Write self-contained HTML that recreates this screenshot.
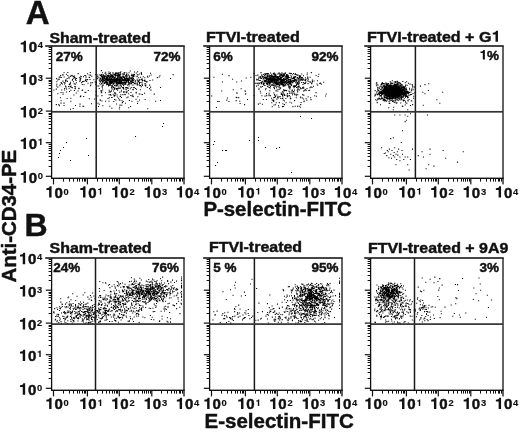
<!DOCTYPE html>
<html><head><meta charset="utf-8"><style>
html,body{margin:0;padding:0;background:#fff;width:520px;height:433px;overflow:hidden}
svg{display:block;filter:grayscale(1)}
text{font-family:"Liberation Sans",sans-serif;font-weight:bold;fill:#111;stroke:#111;stroke-width:0.45px}
</style></head><body>
<svg width="520" height="433" viewBox="0 0 520 433">
<defs><path id="one" d="M398 0L398 712L282 712Q268 648 222 618Q176 590 72 586L72 478L246 478L246 0Z" fill="#111"/></defs>
<rect width="520" height="433" fill="#fff"/>
<path fill="#000" d="M99.2 83.3h1.05v1.05h-1.05zM104.1 78.1h1.05v1.05h-1.05zM111.3 76.5h1.05v1.05h-1.05zM99.7 81.2h1.05v1.05h-1.05zM115.2 72.3h1.05v1.05h-1.05zM133.1 82.3h1.05v1.05h-1.05zM105.1 82.0h1.05v1.05h-1.05zM107.8 78.8h1.05v1.05h-1.05zM119.1 74.7h1.05v1.05h-1.05zM117.2 83.7h1.05v1.05h-1.05zM123.9 78.0h1.05v1.05h-1.05zM120.1 73.5h1.05v1.05h-1.05zM110.6 80.5h1.05v1.05h-1.05zM99.9 78.7h1.05v1.05h-1.05zM127.5 87.9h1.05v1.05h-1.05zM119.0 81.8h1.05v1.05h-1.05zM103.3 74.9h1.05v1.05h-1.05zM99.3 80.8h1.05v1.05h-1.05zM118.7 76.7h1.05v1.05h-1.05zM100.9 79.9h1.05v1.05h-1.05zM114.8 78.5h1.05v1.05h-1.05zM123.4 78.7h1.05v1.05h-1.05zM111.4 75.2h1.05v1.05h-1.05zM113.2 83.6h1.05v1.05h-1.05zM112.5 79.2h1.05v1.05h-1.05zM115.9 79.9h1.05v1.05h-1.05zM116.7 80.8h1.05v1.05h-1.05zM117.5 76.3h1.05v1.05h-1.05zM114.7 73.5h1.05v1.05h-1.05zM114.4 74.7h1.05v1.05h-1.05zM111.3 80.6h1.05v1.05h-1.05zM108.2 79.3h1.05v1.05h-1.05zM97.2 76.1h1.05v1.05h-1.05zM118.2 75.0h1.05v1.05h-1.05zM117.8 74.3h1.05v1.05h-1.05zM103.8 75.3h1.05v1.05h-1.05zM112.0 80.8h1.05v1.05h-1.05zM102.4 78.4h1.05v1.05h-1.05zM126.6 77.9h1.05v1.05h-1.05zM104.6 80.3h1.05v1.05h-1.05zM110.0 76.6h1.05v1.05h-1.05zM95.8 81.8h1.05v1.05h-1.05zM106.8 79.0h1.05v1.05h-1.05zM102.4 83.4h1.05v1.05h-1.05zM118.7 82.3h1.05v1.05h-1.05zM111.0 80.6h1.05v1.05h-1.05zM120.0 82.5h1.05v1.05h-1.05zM114.8 78.8h1.05v1.05h-1.05zM108.7 76.4h1.05v1.05h-1.05zM103.3 80.2h1.05v1.05h-1.05zM109.8 72.2h1.05v1.05h-1.05zM110.6 82.6h1.05v1.05h-1.05zM109.5 72.7h1.05v1.05h-1.05zM110.9 81.6h1.05v1.05h-1.05zM113.8 77.5h1.05v1.05h-1.05zM128.6 85.4h1.05v1.05h-1.05zM111.1 81.7h1.05v1.05h-1.05zM115.5 81.6h1.05v1.05h-1.05zM125.1 81.8h1.05v1.05h-1.05zM112.8 76.8h1.05v1.05h-1.05zM104.7 78.9h1.05v1.05h-1.05zM122.4 80.0h1.05v1.05h-1.05zM112.5 79.8h1.05v1.05h-1.05zM112.3 80.8h1.05v1.05h-1.05zM101.9 72.3h1.05v1.05h-1.05zM108.1 75.1h1.05v1.05h-1.05zM126.5 78.4h1.05v1.05h-1.05zM109.7 73.7h1.05v1.05h-1.05zM114.5 76.9h1.05v1.05h-1.05zM122.1 81.8h1.05v1.05h-1.05zM105.0 80.4h1.05v1.05h-1.05zM123.2 81.7h1.05v1.05h-1.05zM113.6 78.9h1.05v1.05h-1.05zM99.2 74.4h1.05v1.05h-1.05zM114.0 85.0h1.05v1.05h-1.05zM117.4 82.2h1.05v1.05h-1.05zM104.2 77.2h1.05v1.05h-1.05zM112.4 75.5h1.05v1.05h-1.05zM100.9 76.0h1.05v1.05h-1.05zM111.3 80.2h1.05v1.05h-1.05zM111.8 79.2h1.05v1.05h-1.05zM105.8 76.5h1.05v1.05h-1.05zM122.1 78.8h1.05v1.05h-1.05zM111.2 82.2h1.05v1.05h-1.05zM123.1 83.3h1.05v1.05h-1.05zM115.6 78.8h1.05v1.05h-1.05zM114.6 79.6h1.05v1.05h-1.05zM124.6 80.0h1.05v1.05h-1.05zM117.7 78.9h1.05v1.05h-1.05zM124.3 72.0h1.05v1.05h-1.05zM115.4 81.5h1.05v1.05h-1.05zM101.5 86.3h1.05v1.05h-1.05zM110.6 78.4h1.05v1.05h-1.05zM102.3 82.0h1.05v1.05h-1.05zM114.0 77.0h1.05v1.05h-1.05zM114.0 81.3h1.05v1.05h-1.05zM122.9 79.7h1.05v1.05h-1.05zM103.3 77.1h1.05v1.05h-1.05zM118.6 80.6h1.05v1.05h-1.05zM111.0 77.8h1.05v1.05h-1.05zM126.2 79.9h1.05v1.05h-1.05zM120.2 80.3h1.05v1.05h-1.05zM106.0 84.3h1.05v1.05h-1.05zM100.8 74.9h1.05v1.05h-1.05zM108.1 76.5h1.05v1.05h-1.05zM107.0 76.9h1.05v1.05h-1.05zM120.9 79.2h1.05v1.05h-1.05zM115.1 73.6h1.05v1.05h-1.05zM104.4 82.7h1.05v1.05h-1.05zM101.1 83.0h1.05v1.05h-1.05zM102.7 80.0h1.05v1.05h-1.05zM104.4 79.6h1.05v1.05h-1.05zM103.9 78.1h1.05v1.05h-1.05zM127.0 77.7h1.05v1.05h-1.05zM130.3 77.4h1.05v1.05h-1.05zM101.4 79.2h1.05v1.05h-1.05zM108.3 84.9h1.05v1.05h-1.05zM119.7 83.0h1.05v1.05h-1.05zM117.7 87.4h1.05v1.05h-1.05zM119.1 80.8h1.05v1.05h-1.05zM104.5 75.9h1.05v1.05h-1.05zM113.6 82.4h1.05v1.05h-1.05zM122.0 75.8h1.05v1.05h-1.05zM116.8 79.6h1.05v1.05h-1.05zM101.9 80.7h1.05v1.05h-1.05zM134.2 75.5h1.05v1.05h-1.05zM112.1 72.5h1.05v1.05h-1.05zM105.2 81.5h1.05v1.05h-1.05zM102.6 78.9h1.05v1.05h-1.05zM108.8 77.7h1.05v1.05h-1.05zM113.7 80.6h1.05v1.05h-1.05zM123.0 81.8h1.05v1.05h-1.05zM106.9 83.8h1.05v1.05h-1.05zM123.2 73.7h1.05v1.05h-1.05zM118.0 81.8h1.05v1.05h-1.05zM120.7 80.8h1.05v1.05h-1.05zM100.3 78.1h1.05v1.05h-1.05zM130.2 81.3h1.05v1.05h-1.05zM119.5 77.2h1.05v1.05h-1.05zM102.8 75.3h1.05v1.05h-1.05zM113.1 76.2h1.05v1.05h-1.05zM106.2 82.9h1.05v1.05h-1.05zM97.2 74.5h1.05v1.05h-1.05zM107.4 78.6h1.05v1.05h-1.05zM110.8 74.2h1.05v1.05h-1.05zM113.7 78.5h1.05v1.05h-1.05zM115.2 75.3h1.05v1.05h-1.05zM114.2 79.7h1.05v1.05h-1.05zM106.0 78.2h1.05v1.05h-1.05zM107.0 83.6h1.05v1.05h-1.05zM96.6 77.7h1.05v1.05h-1.05zM105.9 77.6h1.05v1.05h-1.05zM118.4 73.4h1.05v1.05h-1.05zM104.4 78.2h1.05v1.05h-1.05zM101.2 80.2h1.05v1.05h-1.05zM114.9 76.6h1.05v1.05h-1.05zM96.0 84.4h1.05v1.05h-1.05zM116.2 80.4h1.05v1.05h-1.05zM112.6 79.0h1.05v1.05h-1.05zM119.5 78.9h1.05v1.05h-1.05zM106.3 81.4h1.05v1.05h-1.05zM112.5 76.3h1.05v1.05h-1.05zM103.8 82.9h1.05v1.05h-1.05zM117.7 85.7h1.05v1.05h-1.05zM107.2 76.4h1.05v1.05h-1.05zM115.6 83.7h1.05v1.05h-1.05zM117.3 80.4h1.05v1.05h-1.05zM129.0 76.4h1.05v1.05h-1.05zM100.7 76.4h1.05v1.05h-1.05zM109.1 80.2h1.05v1.05h-1.05zM121.2 80.4h1.05v1.05h-1.05zM125.7 76.2h1.05v1.05h-1.05zM129.1 76.2h1.05v1.05h-1.05zM122.5 75.8h1.05v1.05h-1.05zM115.1 79.1h1.05v1.05h-1.05zM116.6 81.5h1.05v1.05h-1.05zM110.1 78.7h1.05v1.05h-1.05zM114.1 74.5h1.05v1.05h-1.05zM105.4 73.5h1.05v1.05h-1.05zM112.0 86.5h1.05v1.05h-1.05zM118.6 76.0h1.05v1.05h-1.05zM105.6 82.3h1.05v1.05h-1.05zM107.7 73.5h1.05v1.05h-1.05zM102.8 75.4h1.05v1.05h-1.05zM102.8 81.3h1.05v1.05h-1.05zM112.6 73.9h1.05v1.05h-1.05zM107.1 75.1h1.05v1.05h-1.05zM101.1 73.9h1.05v1.05h-1.05zM127.7 77.9h1.05v1.05h-1.05zM117.2 81.9h1.05v1.05h-1.05zM108.5 80.8h1.05v1.05h-1.05zM116.8 79.7h1.05v1.05h-1.05zM131.5 79.9h1.05v1.05h-1.05zM109.9 81.2h1.05v1.05h-1.05zM128.0 82.4h1.05v1.05h-1.05zM107.7 76.1h1.05v1.05h-1.05zM103.6 76.7h1.05v1.05h-1.05zM115.5 81.9h1.05v1.05h-1.05zM102.0 81.3h1.05v1.05h-1.05zM120.2 76.3h1.05v1.05h-1.05zM107.9 75.7h1.05v1.05h-1.05zM115.5 73.5h1.05v1.05h-1.05zM101.8 76.6h1.05v1.05h-1.05zM123.0 87.1h1.05v1.05h-1.05zM112.2 74.8h1.05v1.05h-1.05zM112.6 76.0h1.05v1.05h-1.05zM116.1 75.2h1.05v1.05h-1.05zM108.6 78.9h1.05v1.05h-1.05zM116.7 78.7h1.05v1.05h-1.05zM123.4 79.4h1.05v1.05h-1.05zM95.7 82.1h1.05v1.05h-1.05zM109.4 76.7h1.05v1.05h-1.05zM125.5 75.6h1.05v1.05h-1.05zM112.6 76.6h1.05v1.05h-1.05zM124.1 77.7h1.05v1.05h-1.05zM114.1 74.2h1.05v1.05h-1.05zM124.9 75.3h1.05v1.05h-1.05zM120.2 82.8h1.05v1.05h-1.05zM123.1 85.1h1.05v1.05h-1.05zM101.4 80.3h1.05v1.05h-1.05zM113.2 80.4h1.05v1.05h-1.05zM121.9 79.3h1.05v1.05h-1.05zM104.6 78.6h1.05v1.05h-1.05zM125.8 75.0h1.05v1.05h-1.05zM112.7 75.6h1.05v1.05h-1.05zM122.0 73.4h1.05v1.05h-1.05zM108.9 78.6h1.05v1.05h-1.05zM113.0 87.0h1.05v1.05h-1.05zM126.0 75.5h1.05v1.05h-1.05zM131.4 74.9h1.05v1.05h-1.05zM95.1 73.9h1.05v1.05h-1.05zM113.8 80.8h1.05v1.05h-1.05zM109.6 81.4h1.05v1.05h-1.05zM108.5 82.0h1.05v1.05h-1.05zM117.1 75.0h1.05v1.05h-1.05zM125.0 79.7h1.05v1.05h-1.05zM118.5 83.3h1.05v1.05h-1.05zM103.2 78.7h1.05v1.05h-1.05zM104.6 75.8h1.05v1.05h-1.05zM114.4 80.1h1.05v1.05h-1.05zM124.0 83.7h1.05v1.05h-1.05zM111.8 76.1h1.05v1.05h-1.05zM140.8 86.3h1.05v1.05h-1.05zM111.0 75.8h1.05v1.05h-1.05zM108.2 79.9h1.05v1.05h-1.05zM122.2 82.3h1.05v1.05h-1.05zM115.9 78.1h1.05v1.05h-1.05zM113.5 77.9h1.05v1.05h-1.05zM112.6 78.6h1.05v1.05h-1.05zM116.7 72.6h1.05v1.05h-1.05zM108.9 78.0h1.05v1.05h-1.05zM101.8 78.4h1.05v1.05h-1.05zM102.5 76.7h1.05v1.05h-1.05zM109.4 78.1h1.05v1.05h-1.05zM106.8 82.7h1.05v1.05h-1.05zM113.8 80.1h1.05v1.05h-1.05zM114.1 76.7h1.05v1.05h-1.05zM104.0 81.8h1.05v1.05h-1.05zM108.8 73.0h1.05v1.05h-1.05zM105.3 78.7h1.05v1.05h-1.05zM107.0 77.6h1.05v1.05h-1.05zM110.4 74.7h1.05v1.05h-1.05zM111.8 82.3h1.05v1.05h-1.05zM118.2 73.1h1.05v1.05h-1.05zM99.9 74.4h1.05v1.05h-1.05zM109.7 81.9h1.05v1.05h-1.05zM114.9 73.0h1.05v1.05h-1.05zM112.5 81.7h1.05v1.05h-1.05zM107.9 85.4h1.05v1.05h-1.05zM106.1 83.0h1.05v1.05h-1.05zM133.1 74.6h1.05v1.05h-1.05zM109.1 80.9h1.05v1.05h-1.05zM140.9 72.9h1.05v1.05h-1.05zM117.1 79.9h1.05v1.05h-1.05zM108.2 76.1h1.05v1.05h-1.05zM107.2 77.9h1.05v1.05h-1.05zM100.5 84.3h1.05v1.05h-1.05zM102.0 77.5h1.05v1.05h-1.05zM106.0 77.6h1.05v1.05h-1.05zM112.8 76.4h1.05v1.05h-1.05zM109.8 84.8h1.05v1.05h-1.05zM121.5 78.0h1.05v1.05h-1.05zM120.1 76.4h1.05v1.05h-1.05zM114.0 74.1h1.05v1.05h-1.05zM101.7 76.0h1.05v1.05h-1.05zM123.1 79.8h1.05v1.05h-1.05zM116.9 79.5h1.05v1.05h-1.05zM115.3 80.4h1.05v1.05h-1.05zM118.9 79.5h1.05v1.05h-1.05zM103.7 76.3h1.05v1.05h-1.05zM122.9 83.8h1.05v1.05h-1.05zM117.0 73.4h1.05v1.05h-1.05zM126.2 80.1h1.05v1.05h-1.05zM111.3 79.0h1.05v1.05h-1.05zM108.6 85.0h1.05v1.05h-1.05zM127.1 75.4h1.05v1.05h-1.05zM110.3 80.0h1.05v1.05h-1.05zM120.4 84.6h1.05v1.05h-1.05zM109.0 78.8h1.05v1.05h-1.05zM123.2 80.2h1.05v1.05h-1.05zM99.9 75.0h1.05v1.05h-1.05zM102.6 74.1h1.05v1.05h-1.05zM111.8 77.2h1.05v1.05h-1.05zM112.2 81.3h1.05v1.05h-1.05zM127.9 79.7h1.05v1.05h-1.05zM95.0 83.7h1.05v1.05h-1.05zM110.8 82.9h1.05v1.05h-1.05zM107.8 80.0h1.05v1.05h-1.05zM110.6 78.8h1.05v1.05h-1.05zM123.3 76.7h1.05v1.05h-1.05zM113.3 79.7h1.05v1.05h-1.05zM108.3 71.4h1.05v1.05h-1.05zM98.3 77.3h1.05v1.05h-1.05zM115.7 81.9h1.05v1.05h-1.05zM119.3 80.9h1.05v1.05h-1.05zM108.5 83.1h1.05v1.05h-1.05zM109.4 82.7h1.05v1.05h-1.05zM106.6 78.9h1.05v1.05h-1.05zM120.8 81.6h1.05v1.05h-1.05zM107.2 83.9h1.05v1.05h-1.05zM106.9 82.0h1.05v1.05h-1.05zM111.3 78.9h1.05v1.05h-1.05zM110.4 78.9h1.05v1.05h-1.05zM121.9 83.8h1.05v1.05h-1.05zM124.7 82.0h1.05v1.05h-1.05zM117.9 80.5h1.05v1.05h-1.05zM127.7 77.4h1.05v1.05h-1.05zM106.1 79.1h1.05v1.05h-1.05zM96.8 78.1h1.05v1.05h-1.05zM111.3 75.4h1.05v1.05h-1.05zM106.6 81.3h1.05v1.05h-1.05zM109.8 79.2h1.05v1.05h-1.05zM121.2 76.8h1.05v1.05h-1.05zM101.5 78.8h1.05v1.05h-1.05zM115.7 72.8h1.05v1.05h-1.05zM117.8 77.9h1.05v1.05h-1.05zM108.1 76.0h1.05v1.05h-1.05zM110.2 82.2h1.05v1.05h-1.05zM116.6 81.7h1.05v1.05h-1.05zM108.6 84.4h1.05v1.05h-1.05zM123.4 78.9h1.05v1.05h-1.05zM136.7 78.8h1.05v1.05h-1.05zM102.7 84.8h1.05v1.05h-1.05zM106.4 80.6h1.05v1.05h-1.05zM118.8 73.9h1.05v1.05h-1.05zM113.1 83.0h1.05v1.05h-1.05zM109.0 81.2h1.05v1.05h-1.05zM111.7 82.5h1.05v1.05h-1.05zM128.6 75.2h1.05v1.05h-1.05zM109.4 80.3h1.05v1.05h-1.05zM106.3 76.2h1.05v1.05h-1.05zM108.8 78.0h1.05v1.05h-1.05zM106.1 80.1h1.05v1.05h-1.05zM119.2 81.5h1.05v1.05h-1.05zM118.1 83.0h1.05v1.05h-1.05zM99.7 78.6h1.05v1.05h-1.05zM113.7 80.8h1.05v1.05h-1.05zM97.4 85.4h1.05v1.05h-1.05zM104.0 79.9h1.05v1.05h-1.05zM118.6 82.7h1.05v1.05h-1.05zM105.8 77.1h1.05v1.05h-1.05zM115.3 81.0h1.05v1.05h-1.05zM120.2 78.8h1.05v1.05h-1.05zM105.7 74.4h1.05v1.05h-1.05zM127.7 74.3h1.05v1.05h-1.05zM118.3 79.9h1.05v1.05h-1.05zM118.9 82.2h1.05v1.05h-1.05zM124.1 78.8h1.05v1.05h-1.05zM115.6 72.3h1.05v1.05h-1.05zM112.4 75.9h1.05v1.05h-1.05zM110.6 83.2h1.05v1.05h-1.05zM113.0 82.7h1.05v1.05h-1.05zM110.2 80.4h1.05v1.05h-1.05zM105.6 78.1h1.05v1.05h-1.05zM113.4 79.0h1.05v1.05h-1.05zM110.9 82.2h1.05v1.05h-1.05zM117.7 77.6h1.05v1.05h-1.05zM119.9 72.2h1.05v1.05h-1.05zM109.5 78.5h1.05v1.05h-1.05zM123.8 77.2h1.05v1.05h-1.05zM98.8 79.6h1.05v1.05h-1.05zM127.3 78.3h1.05v1.05h-1.05zM111.2 78.3h1.05v1.05h-1.05zM112.5 83.4h1.05v1.05h-1.05zM129.8 80.6h1.05v1.05h-1.05zM111.1 85.3h1.05v1.05h-1.05zM113.0 79.2h1.05v1.05h-1.05zM108.9 78.0h1.05v1.05h-1.05zM114.3 78.0h1.05v1.05h-1.05zM115.9 79.3h1.05v1.05h-1.05zM117.1 77.7h1.05v1.05h-1.05zM110.3 79.9h1.05v1.05h-1.05zM112.7 79.4h1.05v1.05h-1.05zM122.7 75.4h1.05v1.05h-1.05zM94.6 81.5h1.05v1.05h-1.05zM109.9 83.6h1.05v1.05h-1.05zM111.4 75.1h1.05v1.05h-1.05zM131.9 80.4h1.05v1.05h-1.05zM108.0 76.5h1.05v1.05h-1.05zM117.2 76.7h1.05v1.05h-1.05zM115.6 83.0h1.05v1.05h-1.05zM99.6 77.8h1.05v1.05h-1.05zM116.4 84.7h1.05v1.05h-1.05zM120.5 77.5h1.05v1.05h-1.05zM125.2 77.8h1.05v1.05h-1.05zM110.6 80.3h1.05v1.05h-1.05zM102.2 89.5h1.05v1.05h-1.05zM122.9 79.8h1.05v1.05h-1.05zM107.0 75.1h1.05v1.05h-1.05zM115.4 81.4h1.05v1.05h-1.05zM108.5 78.3h1.05v1.05h-1.05zM117.1 78.8h1.05v1.05h-1.05zM95.4 81.3h1.05v1.05h-1.05zM114.2 81.5h1.05v1.05h-1.05zM105.2 71.8h1.05v1.05h-1.05zM100.8 80.0h1.05v1.05h-1.05zM130.7 87.0h1.05v1.05h-1.05zM114.8 74.0h1.05v1.05h-1.05zM109.0 80.5h1.05v1.05h-1.05zM116.0 79.3h1.05v1.05h-1.05zM131.9 77.3h1.05v1.05h-1.05zM113.3 78.4h1.05v1.05h-1.05zM117.5 78.4h1.05v1.05h-1.05zM144.6 83.0h1.05v1.05h-1.05zM131.1 81.8h1.05v1.05h-1.05zM149.0 75.4h1.05v1.05h-1.05zM133.7 79.3h1.05v1.05h-1.05zM130.1 80.4h1.05v1.05h-1.05zM124.6 82.4h1.05v1.05h-1.05zM102.5 81.3h1.05v1.05h-1.05zM136.5 76.1h1.05v1.05h-1.05zM116.7 88.1h1.05v1.05h-1.05zM117.7 78.5h1.05v1.05h-1.05zM119.2 77.6h1.05v1.05h-1.05zM120.4 71.3h1.05v1.05h-1.05zM156.8 77.1h1.05v1.05h-1.05zM132.9 79.8h1.05v1.05h-1.05zM144.5 83.0h1.05v1.05h-1.05zM141.9 85.0h1.05v1.05h-1.05zM138.4 80.2h1.05v1.05h-1.05zM139.2 73.5h1.05v1.05h-1.05zM139.0 83.0h1.05v1.05h-1.05zM132.0 74.5h1.05v1.05h-1.05zM144.3 77.3h1.05v1.05h-1.05zM135.8 72.4h1.05v1.05h-1.05zM126.2 77.4h1.05v1.05h-1.05zM119.1 77.3h1.05v1.05h-1.05zM149.5 80.0h1.05v1.05h-1.05zM132.4 89.0h1.05v1.05h-1.05zM111.2 86.5h1.05v1.05h-1.05zM123.9 77.5h1.05v1.05h-1.05zM123.4 72.5h1.05v1.05h-1.05zM110.0 75.4h1.05v1.05h-1.05zM121.6 83.1h1.05v1.05h-1.05zM141.2 78.5h1.05v1.05h-1.05zM132.7 81.9h1.05v1.05h-1.05zM125.5 81.0h1.05v1.05h-1.05zM121.2 82.4h1.05v1.05h-1.05zM125.6 80.2h1.05v1.05h-1.05zM131.3 80.7h1.05v1.05h-1.05zM119.7 74.4h1.05v1.05h-1.05zM127.4 77.7h1.05v1.05h-1.05zM121.9 79.6h1.05v1.05h-1.05zM119.7 81.9h1.05v1.05h-1.05zM133.0 76.3h1.05v1.05h-1.05zM132.6 76.0h1.05v1.05h-1.05zM136.8 82.6h1.05v1.05h-1.05zM128.1 83.8h1.05v1.05h-1.05zM140.4 81.9h1.05v1.05h-1.05zM106.3 80.6h1.05v1.05h-1.05zM130.6 83.4h1.05v1.05h-1.05zM116.4 83.0h1.05v1.05h-1.05zM132.4 81.7h1.05v1.05h-1.05zM113.3 76.4h1.05v1.05h-1.05zM141.6 83.5h1.05v1.05h-1.05zM127.1 84.6h1.05v1.05h-1.05zM131.3 78.3h1.05v1.05h-1.05zM109.3 84.2h1.05v1.05h-1.05zM126.4 81.0h1.05v1.05h-1.05zM106.6 77.7h1.05v1.05h-1.05zM131.6 79.0h1.05v1.05h-1.05zM119.3 75.4h1.05v1.05h-1.05zM130.5 78.5h1.05v1.05h-1.05zM124.0 78.8h1.05v1.05h-1.05zM120.3 78.6h1.05v1.05h-1.05zM120.7 80.1h1.05v1.05h-1.05zM111.6 75.4h1.05v1.05h-1.05zM128.3 79.3h1.05v1.05h-1.05zM129.8 88.3h1.05v1.05h-1.05zM136.8 84.7h1.05v1.05h-1.05zM132.9 79.5h1.05v1.05h-1.05zM118.5 72.2h1.05v1.05h-1.05zM114.6 73.3h1.05v1.05h-1.05zM116.4 79.9h1.05v1.05h-1.05zM123.1 83.6h1.05v1.05h-1.05zM138.6 84.2h1.05v1.05h-1.05zM138.1 81.1h1.05v1.05h-1.05zM121.8 81.8h1.05v1.05h-1.05zM125.0 79.1h1.05v1.05h-1.05zM132.8 75.4h1.05v1.05h-1.05zM108.6 81.3h1.05v1.05h-1.05zM149.1 84.6h1.05v1.05h-1.05zM172.6 74.1h1.05v1.05h-1.05zM117.7 87.8h1.05v1.05h-1.05zM147.1 75.7h1.05v1.05h-1.05zM124.1 76.5h1.05v1.05h-1.05zM112.0 79.0h1.05v1.05h-1.05zM124.0 80.4h1.05v1.05h-1.05zM131.1 82.9h1.05v1.05h-1.05zM144.3 79.6h1.05v1.05h-1.05zM125.5 80.0h1.05v1.05h-1.05zM133.2 79.4h1.05v1.05h-1.05zM116.2 77.8h1.05v1.05h-1.05zM136.7 75.7h1.05v1.05h-1.05zM137.6 74.2h1.05v1.05h-1.05zM135.2 82.4h1.05v1.05h-1.05zM125.5 79.9h1.05v1.05h-1.05zM125.2 87.0h1.05v1.05h-1.05zM122.8 76.9h1.05v1.05h-1.05zM132.4 84.6h1.05v1.05h-1.05zM131.9 79.4h1.05v1.05h-1.05zM140.1 76.8h1.05v1.05h-1.05zM118.7 74.8h1.05v1.05h-1.05zM112.7 81.0h1.05v1.05h-1.05zM132.8 87.2h1.05v1.05h-1.05zM133.0 77.9h1.05v1.05h-1.05zM144.4 84.4h1.05v1.05h-1.05zM141.7 84.4h1.05v1.05h-1.05zM134.0 73.9h1.05v1.05h-1.05zM115.5 88.1h1.05v1.05h-1.05zM128.5 72.3h1.05v1.05h-1.05zM128.6 84.0h1.05v1.05h-1.05zM132.6 80.0h1.05v1.05h-1.05zM100.4 80.2h1.05v1.05h-1.05zM126.3 86.9h1.05v1.05h-1.05zM128.0 79.7h1.05v1.05h-1.05zM122.7 79.4h1.05v1.05h-1.05zM131.1 77.8h1.05v1.05h-1.05zM117.4 74.8h1.05v1.05h-1.05zM129.3 78.5h1.05v1.05h-1.05zM124.1 73.6h1.05v1.05h-1.05zM118.3 72.1h1.05v1.05h-1.05zM139.2 84.8h1.05v1.05h-1.05zM132.7 79.5h1.05v1.05h-1.05zM133.4 73.8h1.05v1.05h-1.05zM112.1 84.8h1.05v1.05h-1.05zM115.5 79.7h1.05v1.05h-1.05zM119.8 83.3h1.05v1.05h-1.05zM109.2 77.5h1.05v1.05h-1.05zM139.6 85.0h1.05v1.05h-1.05zM146.7 86.9h1.05v1.05h-1.05zM122.8 75.8h1.05v1.05h-1.05zM138.8 78.9h1.05v1.05h-1.05zM128.2 78.4h1.05v1.05h-1.05zM123.2 83.7h1.05v1.05h-1.05zM115.8 72.7h1.05v1.05h-1.05zM119.5 80.3h1.05v1.05h-1.05zM124.1 79.3h1.05v1.05h-1.05zM104.1 76.2h1.05v1.05h-1.05zM140.5 79.2h1.05v1.05h-1.05zM119.6 84.6h1.05v1.05h-1.05zM121.0 83.0h1.05v1.05h-1.05zM130.2 81.5h1.05v1.05h-1.05zM139.9 89.2h1.05v1.05h-1.05zM142.7 76.3h1.05v1.05h-1.05zM114.3 78.5h1.05v1.05h-1.05zM125.4 82.7h1.05v1.05h-1.05zM127.9 80.6h1.05v1.05h-1.05zM107.2 79.6h1.05v1.05h-1.05zM133.8 86.9h1.05v1.05h-1.05zM136.8 80.2h1.05v1.05h-1.05zM113.4 79.8h1.05v1.05h-1.05zM127.5 79.2h1.05v1.05h-1.05zM129.3 81.9h1.05v1.05h-1.05zM132.7 89.1h1.05v1.05h-1.05zM115.7 73.2h1.05v1.05h-1.05zM132.1 74.6h1.05v1.05h-1.05zM124.9 79.4h1.05v1.05h-1.05zM117.7 83.1h1.05v1.05h-1.05zM135.0 80.3h1.05v1.05h-1.05zM134.6 83.4h1.05v1.05h-1.05zM123.6 82.2h1.05v1.05h-1.05zM129.0 79.7h1.05v1.05h-1.05zM121.7 87.0h1.05v1.05h-1.05zM131.2 73.8h1.05v1.05h-1.05zM130.5 82.9h1.05v1.05h-1.05zM144.2 80.6h1.05v1.05h-1.05zM118.8 87.8h1.05v1.05h-1.05zM139.6 85.1h1.05v1.05h-1.05zM124.2 82.4h1.05v1.05h-1.05zM106.2 81.7h1.05v1.05h-1.05zM102.1 75.4h1.05v1.05h-1.05zM109.7 84.5h1.05v1.05h-1.05zM138.2 77.2h1.05v1.05h-1.05zM142.0 80.0h1.05v1.05h-1.05zM103.5 78.1h1.05v1.05h-1.05zM106.5 80.0h1.05v1.05h-1.05zM131.5 76.6h1.05v1.05h-1.05zM136.8 84.1h1.05v1.05h-1.05zM116.5 82.1h1.05v1.05h-1.05zM126.0 78.5h1.05v1.05h-1.05zM147.3 76.7h1.05v1.05h-1.05zM122.9 79.4h1.05v1.05h-1.05zM134.0 82.9h1.05v1.05h-1.05zM115.9 85.4h1.05v1.05h-1.05zM149.1 88.1h1.05v1.05h-1.05zM129.2 77.6h1.05v1.05h-1.05zM114.4 81.2h1.05v1.05h-1.05zM126.4 79.5h1.05v1.05h-1.05zM123.8 79.0h1.05v1.05h-1.05zM122.9 73.8h1.05v1.05h-1.05zM124.0 79.1h1.05v1.05h-1.05zM113.8 82.4h1.05v1.05h-1.05zM126.9 80.3h1.05v1.05h-1.05zM132.1 78.7h1.05v1.05h-1.05zM126.4 82.0h1.05v1.05h-1.05zM136.5 83.5h1.05v1.05h-1.05zM125.1 83.0h1.05v1.05h-1.05zM141.1 73.9h1.05v1.05h-1.05zM122.5 79.7h1.05v1.05h-1.05zM127.4 87.3h1.05v1.05h-1.05zM141.6 79.2h1.05v1.05h-1.05zM126.1 73.9h1.05v1.05h-1.05zM115.7 85.4h1.05v1.05h-1.05zM106.8 82.4h1.05v1.05h-1.05zM119.1 78.5h1.05v1.05h-1.05zM126.3 87.5h1.05v1.05h-1.05zM131.6 82.0h1.05v1.05h-1.05zM150.0 72.8h1.05v1.05h-1.05zM119.0 82.8h1.05v1.05h-1.05zM112.9 72.5h1.05v1.05h-1.05zM141.7 78.6h1.05v1.05h-1.05zM139.0 81.9h1.05v1.05h-1.05zM125.4 87.0h1.05v1.05h-1.05zM124.7 88.4h1.05v1.05h-1.05zM117.1 75.7h1.05v1.05h-1.05zM119.6 80.9h1.05v1.05h-1.05zM114.2 77.0h1.05v1.05h-1.05zM145.2 80.7h1.05v1.05h-1.05zM141.8 81.5h1.05v1.05h-1.05zM120.9 76.8h1.05v1.05h-1.05zM130.2 80.3h1.05v1.05h-1.05zM121.7 77.6h1.05v1.05h-1.05zM145.4 84.4h1.05v1.05h-1.05zM131.6 78.6h1.05v1.05h-1.05zM123.0 88.4h1.05v1.05h-1.05zM120.9 89.7h1.05v1.05h-1.05zM120.2 73.8h1.05v1.05h-1.05zM152.2 79.5h1.05v1.05h-1.05zM146.3 81.8h1.05v1.05h-1.05zM125.2 83.9h1.05v1.05h-1.05zM124.5 81.8h1.05v1.05h-1.05zM126.3 72.6h1.05v1.05h-1.05zM132.7 77.8h1.05v1.05h-1.05zM126.3 81.7h1.05v1.05h-1.05zM111.0 82.2h1.05v1.05h-1.05zM134.9 88.0h1.05v1.05h-1.05zM137.8 81.4h1.05v1.05h-1.05zM120.2 79.9h1.05v1.05h-1.05zM111.1 81.6h1.05v1.05h-1.05zM125.5 78.4h1.05v1.05h-1.05zM128.0 81.8h1.05v1.05h-1.05zM130.9 75.0h1.05v1.05h-1.05zM143.6 80.0h1.05v1.05h-1.05zM131.8 79.9h1.05v1.05h-1.05zM116.6 81.0h1.05v1.05h-1.05zM123.1 76.3h1.05v1.05h-1.05zM129.2 83.0h1.05v1.05h-1.05zM135.0 80.7h1.05v1.05h-1.05zM120.4 78.5h1.05v1.05h-1.05zM126.1 73.9h1.05v1.05h-1.05zM137.3 80.2h1.05v1.05h-1.05zM112.5 86.1h1.05v1.05h-1.05zM150.6 74.5h1.05v1.05h-1.05zM125.6 76.4h1.05v1.05h-1.05zM136.8 74.2h1.05v1.05h-1.05zM133.5 81.5h1.05v1.05h-1.05zM140.8 72.0h1.05v1.05h-1.05zM118.5 79.0h1.05v1.05h-1.05zM139.0 80.2h1.05v1.05h-1.05zM111.6 96.9h1.05v1.05h-1.05zM139.3 93.4h1.05v1.05h-1.05zM116.0 103.5h1.05v1.05h-1.05zM108.6 94.2h1.05v1.05h-1.05zM123.8 91.4h1.05v1.05h-1.05zM115.2 93.2h1.05v1.05h-1.05zM137.3 96.3h1.05v1.05h-1.05zM109.9 94.1h1.05v1.05h-1.05zM130.1 106.0h1.05v1.05h-1.05zM128.1 93.3h1.05v1.05h-1.05zM135.5 98.8h1.05v1.05h-1.05zM119.5 86.5h1.05v1.05h-1.05zM118.7 99.3h1.05v1.05h-1.05zM100.7 90.1h1.05v1.05h-1.05zM114.4 92.1h1.05v1.05h-1.05zM119.6 95.8h1.05v1.05h-1.05zM116.1 85.0h1.05v1.05h-1.05zM127.5 96.5h1.05v1.05h-1.05zM117.0 84.5h1.05v1.05h-1.05zM123.4 90.9h1.05v1.05h-1.05zM99.6 99.6h1.05v1.05h-1.05zM98.7 88.0h1.05v1.05h-1.05zM139.9 85.0h1.05v1.05h-1.05zM119.4 99.8h1.05v1.05h-1.05zM110.6 91.0h1.05v1.05h-1.05zM97.5 102.7h1.05v1.05h-1.05zM121.0 97.0h1.05v1.05h-1.05zM120.3 94.3h1.05v1.05h-1.05zM125.5 91.5h1.05v1.05h-1.05zM118.8 108.5h1.05v1.05h-1.05zM119.6 104.7h1.05v1.05h-1.05zM101.3 91.6h1.05v1.05h-1.05zM114.3 86.7h1.05v1.05h-1.05zM113.3 100.9h1.05v1.05h-1.05zM108.5 91.8h1.05v1.05h-1.05zM98.3 85.5h1.05v1.05h-1.05zM117.2 89.6h1.05v1.05h-1.05zM108.5 100.7h1.05v1.05h-1.05zM117.2 84.3h1.05v1.05h-1.05zM131.5 95.4h1.05v1.05h-1.05zM127.8 89.9h1.05v1.05h-1.05zM97.4 95.4h1.05v1.05h-1.05zM97.7 85.5h1.05v1.05h-1.05zM124.7 94.3h1.05v1.05h-1.05zM113.1 90.5h1.05v1.05h-1.05zM120.0 96.0h1.05v1.05h-1.05zM109.9 91.4h1.05v1.05h-1.05zM113.8 95.6h1.05v1.05h-1.05zM128.9 100.0h1.05v1.05h-1.05zM111.0 87.4h1.05v1.05h-1.05zM125.9 89.3h1.05v1.05h-1.05zM114.2 95.1h1.05v1.05h-1.05zM122.0 102.1h1.05v1.05h-1.05zM101.4 100.5h1.05v1.05h-1.05zM111.2 97.0h1.05v1.05h-1.05zM100.5 90.6h1.05v1.05h-1.05zM109.3 105.8h1.05v1.05h-1.05zM105.1 100.8h1.05v1.05h-1.05zM121.5 100.2h1.05v1.05h-1.05zM116.8 96.5h1.05v1.05h-1.05zM120.7 91.3h1.05v1.05h-1.05zM135.7 91.8h1.05v1.05h-1.05zM115.3 99.4h1.05v1.05h-1.05zM127.6 96.5h1.05v1.05h-1.05zM114.1 92.8h1.05v1.05h-1.05zM113.5 95.0h1.05v1.05h-1.05zM132.3 94.5h1.05v1.05h-1.05zM116.8 88.1h1.05v1.05h-1.05zM115.9 88.0h1.05v1.05h-1.05zM110.5 94.8h1.05v1.05h-1.05zM122.4 94.1h1.05v1.05h-1.05zM112.6 93.7h1.05v1.05h-1.05zM101.4 95.1h1.05v1.05h-1.05zM136.0 88.7h1.05v1.05h-1.05zM110.9 89.8h1.05v1.05h-1.05zM141.9 93.9h1.05v1.05h-1.05zM119.7 87.7h1.05v1.05h-1.05zM124.9 102.7h1.05v1.05h-1.05zM121.0 85.8h1.05v1.05h-1.05zM135.6 92.1h1.05v1.05h-1.05zM116.6 94.4h1.05v1.05h-1.05zM126.5 91.3h1.05v1.05h-1.05zM124.2 93.7h1.05v1.05h-1.05zM107.5 98.0h1.05v1.05h-1.05zM108.7 89.8h1.05v1.05h-1.05zM108.8 97.3h1.05v1.05h-1.05zM112.2 88.4h1.05v1.05h-1.05zM123.0 91.8h1.05v1.05h-1.05zM130.5 92.0h1.05v1.05h-1.05zM122.7 100.9h1.05v1.05h-1.05zM114.0 99.0h1.05v1.05h-1.05zM102.1 85.3h1.05v1.05h-1.05zM137.0 102.9h1.05v1.05h-1.05zM115.4 85.1h1.05v1.05h-1.05zM101.9 87.5h1.05v1.05h-1.05zM122.6 87.6h1.05v1.05h-1.05zM114.5 94.6h1.05v1.05h-1.05zM102.3 105.3h1.05v1.05h-1.05zM119.1 106.8h1.05v1.05h-1.05zM137.4 101.2h1.05v1.05h-1.05zM119.5 104.6h1.05v1.05h-1.05zM126.4 97.2h1.05v1.05h-1.05zM113.9 88.1h1.05v1.05h-1.05zM115.8 88.6h1.05v1.05h-1.05zM107.9 84.2h1.05v1.05h-1.05zM121.8 102.2h1.05v1.05h-1.05zM144.6 98.9h1.05v1.05h-1.05zM118.1 97.8h1.05v1.05h-1.05zM141.5 94.0h1.05v1.05h-1.05zM132.6 96.1h1.05v1.05h-1.05zM90.3 83.4h1.05v1.05h-1.05zM82.1 81.1h1.05v1.05h-1.05zM87.5 82.8h1.05v1.05h-1.05zM72.0 78.9h1.05v1.05h-1.05zM69.5 83.7h1.05v1.05h-1.05zM60.8 77.0h1.05v1.05h-1.05zM62.4 80.6h1.05v1.05h-1.05zM81.0 76.2h1.05v1.05h-1.05zM80.3 78.0h1.05v1.05h-1.05zM75.1 86.4h1.05v1.05h-1.05zM70.5 75.2h1.05v1.05h-1.05zM64.0 83.5h1.05v1.05h-1.05zM68.2 86.0h1.05v1.05h-1.05zM76.0 78.0h1.05v1.05h-1.05zM69.7 83.1h1.05v1.05h-1.05zM88.6 76.7h1.05v1.05h-1.05zM60.1 74.9h1.05v1.05h-1.05zM81.6 89.9h1.05v1.05h-1.05zM68.8 84.2h1.05v1.05h-1.05zM70.4 85.4h1.05v1.05h-1.05zM56.3 83.8h1.05v1.05h-1.05zM58.7 76.6h1.05v1.05h-1.05zM79.9 79.6h1.05v1.05h-1.05zM74.7 83.5h1.05v1.05h-1.05zM78.2 88.3h1.05v1.05h-1.05zM85.5 76.6h1.05v1.05h-1.05zM74.7 78.1h1.05v1.05h-1.05zM70.4 89.8h1.05v1.05h-1.05zM65.5 87.2h1.05v1.05h-1.05zM95.3 94.5h1.05v1.05h-1.05zM75.9 82.2h1.05v1.05h-1.05zM79.7 79.1h1.05v1.05h-1.05zM91.3 75.7h1.05v1.05h-1.05zM66.7 81.0h1.05v1.05h-1.05zM75.6 80.0h1.05v1.05h-1.05zM73.9 90.0h1.05v1.05h-1.05zM60.7 82.0h1.05v1.05h-1.05zM69.8 83.3h1.05v1.05h-1.05zM75.8 92.4h1.05v1.05h-1.05zM58.4 78.4h1.05v1.05h-1.05zM87.1 78.9h1.05v1.05h-1.05zM77.6 73.1h1.05v1.05h-1.05zM85.0 80.2h1.05v1.05h-1.05zM83.0 76.2h1.05v1.05h-1.05zM68.4 76.5h1.05v1.05h-1.05zM81.1 82.1h1.05v1.05h-1.05zM92.1 82.2h1.05v1.05h-1.05zM61.9 83.4h1.05v1.05h-1.05zM74.0 77.0h1.05v1.05h-1.05zM68.8 83.7h1.05v1.05h-1.05zM53.4 89.4h1.05v1.05h-1.05zM66.1 88.4h1.05v1.05h-1.05zM77.6 90.5h1.05v1.05h-1.05zM59.3 85.2h1.05v1.05h-1.05zM74.6 77.5h1.05v1.05h-1.05zM86.4 79.5h1.05v1.05h-1.05zM65.6 79.6h1.05v1.05h-1.05zM65.0 79.6h1.05v1.05h-1.05zM74.7 86.2h1.05v1.05h-1.05zM74.1 76.8h1.05v1.05h-1.05zM85.3 78.8h1.05v1.05h-1.05zM62.4 74.6h1.05v1.05h-1.05zM61.2 89.4h1.05v1.05h-1.05zM71.8 79.7h1.05v1.05h-1.05zM72.2 75.4h1.05v1.05h-1.05zM88.6 74.5h1.05v1.05h-1.05zM85.2 75.2h1.05v1.05h-1.05zM89.8 72.0h1.05v1.05h-1.05zM79.8 77.4h1.05v1.05h-1.05zM63.6 76.4h1.05v1.05h-1.05zM86.1 80.9h1.05v1.05h-1.05zM68.5 77.6h1.05v1.05h-1.05zM66.6 77.9h1.05v1.05h-1.05zM71.4 74.8h1.05v1.05h-1.05zM74.6 83.6h1.05v1.05h-1.05zM68.6 87.7h1.05v1.05h-1.05zM65.0 80.8h1.05v1.05h-1.05zM90.4 81.9h1.05v1.05h-1.05zM64.7 82.5h1.05v1.05h-1.05zM69.9 86.3h1.05v1.05h-1.05zM85.3 79.5h1.05v1.05h-1.05zM82.1 89.5h1.05v1.05h-1.05zM90.1 85.1h1.05v1.05h-1.05zM72.8 77.7h1.05v1.05h-1.05zM65.3 85.9h1.05v1.05h-1.05zM61.0 82.8h1.05v1.05h-1.05zM79.9 75.7h1.05v1.05h-1.05zM73.6 83.3h1.05v1.05h-1.05zM62.3 74.0h1.05v1.05h-1.05zM70.0 81.8h1.05v1.05h-1.05zM70.1 75.9h1.05v1.05h-1.05zM84.3 75.0h1.05v1.05h-1.05zM56.3 81.2h1.05v1.05h-1.05zM74.1 75.5h1.05v1.05h-1.05zM67.3 75.0h1.05v1.05h-1.05zM78.9 77.3h1.05v1.05h-1.05zM64.9 85.4h1.05v1.05h-1.05zM56.1 85.4h1.05v1.05h-1.05zM72.9 76.1h1.05v1.05h-1.05zM74.9 79.3h1.05v1.05h-1.05zM79.5 79.6h1.05v1.05h-1.05zM90.1 74.6h1.05v1.05h-1.05zM70.8 86.8h1.05v1.05h-1.05zM83.3 80.9h1.05v1.05h-1.05zM74.3 86.1h1.05v1.05h-1.05zM57.3 86.6h1.05v1.05h-1.05zM57.3 79.4h1.05v1.05h-1.05zM93.3 79.3h1.05v1.05h-1.05zM79.3 81.0h1.05v1.05h-1.05zM84.5 92.0h1.05v1.05h-1.05zM89.5 79.0h1.05v1.05h-1.05zM83.5 80.7h1.05v1.05h-1.05zM65.9 73.7h1.05v1.05h-1.05zM95.4 91.2h1.05v1.05h-1.05zM64.1 89.5h1.05v1.05h-1.05zM60.5 92.0h1.05v1.05h-1.05zM63.5 105.0h1.05v1.05h-1.05zM66.6 98.0h1.05v1.05h-1.05zM90.1 74.5h1.05v1.05h-1.05zM86.9 73.2h1.05v1.05h-1.05zM71.9 87.2h1.05v1.05h-1.05zM78.6 87.8h1.05v1.05h-1.05zM72.7 108.0h1.05v1.05h-1.05zM78.4 88.0h1.05v1.05h-1.05zM75.0 104.9h1.05v1.05h-1.05zM79.4 105.7h1.05v1.05h-1.05zM79.5 103.6h1.05v1.05h-1.05zM66.1 91.4h1.05v1.05h-1.05zM69.0 91.0h1.05v1.05h-1.05zM63.5 102.6h1.05v1.05h-1.05zM70.0 108.8h1.05v1.05h-1.05zM83.5 84.3h1.05v1.05h-1.05zM87.7 89.9h1.05v1.05h-1.05zM80.0 95.5h1.05v1.05h-1.05zM64.1 87.9h1.05v1.05h-1.05zM58.6 79.0h1.05v1.05h-1.05zM89.1 77.0h1.05v1.05h-1.05zM74.8 88.1h1.05v1.05h-1.05zM85.4 91.8h1.05v1.05h-1.05zM82.3 105.8h1.05v1.05h-1.05zM66.9 80.7h1.05v1.05h-1.05zM80.3 95.6h1.05v1.05h-1.05zM56.1 78.1h1.05v1.05h-1.05zM59.9 97.2h1.05v1.05h-1.05zM55.8 104.1h1.05v1.05h-1.05zM70.3 100.8h1.05v1.05h-1.05zM62.5 92.3h1.05v1.05h-1.05zM91.0 103.2h1.05v1.05h-1.05zM60.5 102.6h1.05v1.05h-1.05zM62.5 93.7h1.05v1.05h-1.05zM60.6 100.2h1.05v1.05h-1.05zM74.5 88.2h1.05v1.05h-1.05zM83.1 105.7h1.05v1.05h-1.05zM79.8 96.2h1.05v1.05h-1.05zM73.4 94.5h1.05v1.05h-1.05zM88.8 98.2h1.05v1.05h-1.05zM59.7 83.7h1.05v1.05h-1.05zM83.2 96.0h1.05v1.05h-1.05zM81.8 83.9h1.05v1.05h-1.05zM58.9 105.3h1.05v1.05h-1.05zM59.8 76.4h1.05v1.05h-1.05zM55.8 88.6h1.05v1.05h-1.05zM57.3 93.3h1.05v1.05h-1.05zM94.1 98.4h1.05v1.05h-1.05zM72.9 81.3h1.05v1.05h-1.05zM63.5 72.2h1.05v1.05h-1.05zM58.3 104.1h1.05v1.05h-1.05zM67.3 72.0h1.05v1.05h-1.05zM63.5 82.0h1.05v1.05h-1.05zM70.3 97.7h1.05v1.05h-1.05zM100.3 81.7h1.05v1.05h-1.05zM100.8 70.1h1.05v1.05h-1.05zM135.7 92.5h1.05v1.05h-1.05zM129.8 70.4h1.05v1.05h-1.05zM100.8 92.2h1.05v1.05h-1.05zM101.8 78.7h1.05v1.05h-1.05zM111.3 107.7h1.05v1.05h-1.05zM98.8 103.8h1.05v1.05h-1.05zM121.2 104.8h1.05v1.05h-1.05zM137.1 71.3h1.05v1.05h-1.05zM153.7 93.6h1.05v1.05h-1.05zM119.1 91.7h1.05v1.05h-1.05zM150.4 89.6h1.05v1.05h-1.05zM99.9 99.6h1.05v1.05h-1.05zM150.1 86.6h1.05v1.05h-1.05zM98.0 106.0h1.05v1.05h-1.05zM145.1 85.4h1.05v1.05h-1.05zM137.7 80.6h1.05v1.05h-1.05zM108.9 75.3h1.05v1.05h-1.05zM109.1 91.3h1.05v1.05h-1.05zM158.6 76.4h1.05v1.05h-1.05zM128.2 107.3h1.05v1.05h-1.05zM144.0 92.7h1.05v1.05h-1.05zM104.9 92.3h1.05v1.05h-1.05zM131.4 100.8h1.05v1.05h-1.05zM130.3 94.9h1.05v1.05h-1.05zM104.4 72.7h1.05v1.05h-1.05zM126.1 92.3h1.05v1.05h-1.05zM139.0 99.5h1.05v1.05h-1.05zM115.4 74.2h1.05v1.05h-1.05zM155.1 100.8h1.05v1.05h-1.05zM146.4 81.0h1.05v1.05h-1.05zM147.2 108.3h1.05v1.05h-1.05zM105.2 75.4h1.05v1.05h-1.05zM134.0 71.4h1.05v1.05h-1.05zM132.1 79.9h1.05v1.05h-1.05zM138.6 93.5h1.05v1.05h-1.05zM159.4 75.2h1.05v1.05h-1.05zM120.8 81.4h1.05v1.05h-1.05zM113.8 89.0h1.05v1.05h-1.05zM58.0 157.0h1.05v1.05h-1.05zM59.0 153.0h1.05v1.05h-1.05zM63.0 147.0h1.05v1.05h-1.05zM66.0 142.0h1.05v1.05h-1.05zM86.0 138.0h1.05v1.05h-1.05zM88.0 155.0h1.05v1.05h-1.05zM135.0 136.0h1.05v1.05h-1.05zM162.0 126.0h1.05v1.05h-1.05zM163.0 123.0h1.05v1.05h-1.05zM60.0 150.0h1.05v1.05h-1.05zM70.0 160.0h1.05v1.05h-1.05zM170.0 78.0h1.05v1.05h-1.05zM160.0 87.0h1.05v1.05h-1.05zM160.0 100.0h1.05v1.05h-1.05zM261.0 77.9h1.05v1.05h-1.05zM285.9 76.2h1.05v1.05h-1.05zM276.3 80.0h1.05v1.05h-1.05zM281.4 72.2h1.05v1.05h-1.05zM284.5 79.2h1.05v1.05h-1.05zM256.1 85.6h1.05v1.05h-1.05zM271.8 84.6h1.05v1.05h-1.05zM275.1 76.6h1.05v1.05h-1.05zM284.3 85.3h1.05v1.05h-1.05zM285.9 75.1h1.05v1.05h-1.05zM279.3 75.1h1.05v1.05h-1.05zM266.9 83.8h1.05v1.05h-1.05zM258.5 87.7h1.05v1.05h-1.05zM257.3 74.6h1.05v1.05h-1.05zM280.5 78.4h1.05v1.05h-1.05zM271.4 75.9h1.05v1.05h-1.05zM280.3 79.9h1.05v1.05h-1.05zM272.0 76.3h1.05v1.05h-1.05zM257.6 79.1h1.05v1.05h-1.05zM279.2 81.5h1.05v1.05h-1.05zM278.4 82.1h1.05v1.05h-1.05zM273.4 83.5h1.05v1.05h-1.05zM283.3 73.3h1.05v1.05h-1.05zM270.6 77.4h1.05v1.05h-1.05zM288.9 82.8h1.05v1.05h-1.05zM274.1 81.1h1.05v1.05h-1.05zM281.9 76.7h1.05v1.05h-1.05zM271.1 78.8h1.05v1.05h-1.05zM268.6 78.0h1.05v1.05h-1.05zM275.3 74.6h1.05v1.05h-1.05zM261.2 81.8h1.05v1.05h-1.05zM288.5 85.6h1.05v1.05h-1.05zM264.3 77.2h1.05v1.05h-1.05zM270.6 80.5h1.05v1.05h-1.05zM266.7 82.8h1.05v1.05h-1.05zM274.1 73.5h1.05v1.05h-1.05zM262.8 76.3h1.05v1.05h-1.05zM283.0 85.1h1.05v1.05h-1.05zM261.6 80.8h1.05v1.05h-1.05zM269.8 81.0h1.05v1.05h-1.05zM270.3 75.1h1.05v1.05h-1.05zM266.0 76.7h1.05v1.05h-1.05zM287.5 76.4h1.05v1.05h-1.05zM278.3 76.1h1.05v1.05h-1.05zM265.8 79.8h1.05v1.05h-1.05zM266.8 85.8h1.05v1.05h-1.05zM286.0 75.1h1.05v1.05h-1.05zM277.8 84.2h1.05v1.05h-1.05zM260.3 77.6h1.05v1.05h-1.05zM287.6 76.1h1.05v1.05h-1.05zM279.0 78.7h1.05v1.05h-1.05zM274.4 75.4h1.05v1.05h-1.05zM271.8 77.5h1.05v1.05h-1.05zM290.5 81.2h1.05v1.05h-1.05zM273.7 78.9h1.05v1.05h-1.05zM279.5 73.4h1.05v1.05h-1.05zM262.3 75.8h1.05v1.05h-1.05zM264.3 73.3h1.05v1.05h-1.05zM277.7 77.3h1.05v1.05h-1.05zM285.2 78.5h1.05v1.05h-1.05zM268.7 80.5h1.05v1.05h-1.05zM276.9 78.0h1.05v1.05h-1.05zM278.3 83.3h1.05v1.05h-1.05zM267.9 83.4h1.05v1.05h-1.05zM270.5 82.0h1.05v1.05h-1.05zM272.0 77.6h1.05v1.05h-1.05zM275.5 75.1h1.05v1.05h-1.05zM256.2 78.8h1.05v1.05h-1.05zM270.0 75.1h1.05v1.05h-1.05zM294.0 80.4h1.05v1.05h-1.05zM265.1 80.7h1.05v1.05h-1.05zM278.0 77.6h1.05v1.05h-1.05zM270.0 72.5h1.05v1.05h-1.05zM274.7 85.5h1.05v1.05h-1.05zM284.1 82.6h1.05v1.05h-1.05zM266.5 75.2h1.05v1.05h-1.05zM281.4 80.0h1.05v1.05h-1.05zM270.4 77.9h1.05v1.05h-1.05zM282.0 81.1h1.05v1.05h-1.05zM267.7 78.6h1.05v1.05h-1.05zM255.5 74.9h1.05v1.05h-1.05zM278.2 77.4h1.05v1.05h-1.05zM263.7 79.9h1.05v1.05h-1.05zM285.3 76.1h1.05v1.05h-1.05zM269.2 78.1h1.05v1.05h-1.05zM297.2 82.5h1.05v1.05h-1.05zM275.2 74.1h1.05v1.05h-1.05zM280.2 80.9h1.05v1.05h-1.05zM270.5 76.4h1.05v1.05h-1.05zM267.9 73.3h1.05v1.05h-1.05zM268.5 77.4h1.05v1.05h-1.05zM263.3 77.8h1.05v1.05h-1.05zM256.5 82.8h1.05v1.05h-1.05zM270.8 74.9h1.05v1.05h-1.05zM280.2 80.9h1.05v1.05h-1.05zM267.3 74.4h1.05v1.05h-1.05zM271.7 80.5h1.05v1.05h-1.05zM278.9 82.1h1.05v1.05h-1.05zM281.0 73.9h1.05v1.05h-1.05zM273.6 72.5h1.05v1.05h-1.05zM282.1 80.3h1.05v1.05h-1.05zM282.0 79.0h1.05v1.05h-1.05zM272.3 77.0h1.05v1.05h-1.05zM298.3 83.3h1.05v1.05h-1.05zM270.1 80.0h1.05v1.05h-1.05zM276.9 76.9h1.05v1.05h-1.05zM272.4 80.1h1.05v1.05h-1.05zM267.4 80.5h1.05v1.05h-1.05zM284.9 81.8h1.05v1.05h-1.05zM275.2 78.4h1.05v1.05h-1.05zM279.8 77.1h1.05v1.05h-1.05zM266.1 83.3h1.05v1.05h-1.05zM268.8 74.4h1.05v1.05h-1.05zM281.1 81.5h1.05v1.05h-1.05zM283.9 78.7h1.05v1.05h-1.05zM284.1 78.6h1.05v1.05h-1.05zM262.5 78.4h1.05v1.05h-1.05zM275.2 75.3h1.05v1.05h-1.05zM270.9 79.9h1.05v1.05h-1.05zM268.5 79.3h1.05v1.05h-1.05zM272.5 76.3h1.05v1.05h-1.05zM276.2 81.0h1.05v1.05h-1.05zM281.1 80.6h1.05v1.05h-1.05zM287.0 82.1h1.05v1.05h-1.05zM280.7 78.8h1.05v1.05h-1.05zM273.9 75.3h1.05v1.05h-1.05zM273.3 87.0h1.05v1.05h-1.05zM272.9 76.1h1.05v1.05h-1.05zM278.5 72.3h1.05v1.05h-1.05zM296.0 81.3h1.05v1.05h-1.05zM270.6 78.0h1.05v1.05h-1.05zM264.2 79.6h1.05v1.05h-1.05zM273.7 74.0h1.05v1.05h-1.05zM283.3 78.1h1.05v1.05h-1.05zM262.5 82.5h1.05v1.05h-1.05zM280.9 77.3h1.05v1.05h-1.05zM266.9 83.0h1.05v1.05h-1.05zM269.5 80.0h1.05v1.05h-1.05zM287.2 75.2h1.05v1.05h-1.05zM258.5 76.4h1.05v1.05h-1.05zM267.8 79.4h1.05v1.05h-1.05zM283.4 77.9h1.05v1.05h-1.05zM290.6 80.1h1.05v1.05h-1.05zM280.9 83.1h1.05v1.05h-1.05zM266.6 79.1h1.05v1.05h-1.05zM296.1 79.9h1.05v1.05h-1.05zM264.6 74.2h1.05v1.05h-1.05zM269.4 80.7h1.05v1.05h-1.05zM262.8 84.1h1.05v1.05h-1.05zM266.3 73.0h1.05v1.05h-1.05zM280.4 79.6h1.05v1.05h-1.05zM271.6 83.8h1.05v1.05h-1.05zM267.9 81.9h1.05v1.05h-1.05zM268.6 85.0h1.05v1.05h-1.05zM274.0 79.6h1.05v1.05h-1.05zM279.9 79.2h1.05v1.05h-1.05zM278.6 78.7h1.05v1.05h-1.05zM280.3 79.7h1.05v1.05h-1.05zM268.6 81.4h1.05v1.05h-1.05zM278.8 75.9h1.05v1.05h-1.05zM271.1 73.8h1.05v1.05h-1.05zM275.1 82.4h1.05v1.05h-1.05zM298.3 80.5h1.05v1.05h-1.05zM284.6 84.5h1.05v1.05h-1.05zM281.4 73.2h1.05v1.05h-1.05zM269.5 80.7h1.05v1.05h-1.05zM277.1 79.9h1.05v1.05h-1.05zM265.1 73.2h1.05v1.05h-1.05zM277.9 83.5h1.05v1.05h-1.05zM269.4 81.4h1.05v1.05h-1.05zM268.8 79.0h1.05v1.05h-1.05zM268.4 82.3h1.05v1.05h-1.05zM265.0 80.0h1.05v1.05h-1.05zM283.2 79.5h1.05v1.05h-1.05zM261.9 80.8h1.05v1.05h-1.05zM272.3 75.2h1.05v1.05h-1.05zM272.3 78.5h1.05v1.05h-1.05zM280.2 77.9h1.05v1.05h-1.05zM275.1 81.6h1.05v1.05h-1.05zM255.2 82.8h1.05v1.05h-1.05zM274.3 76.1h1.05v1.05h-1.05zM275.4 83.0h1.05v1.05h-1.05zM267.3 77.6h1.05v1.05h-1.05zM287.7 84.8h1.05v1.05h-1.05zM293.8 79.7h1.05v1.05h-1.05zM264.7 76.3h1.05v1.05h-1.05zM270.9 76.2h1.05v1.05h-1.05zM278.4 83.8h1.05v1.05h-1.05zM263.5 84.5h1.05v1.05h-1.05zM265.1 77.2h1.05v1.05h-1.05zM260.4 82.0h1.05v1.05h-1.05zM273.3 79.6h1.05v1.05h-1.05zM293.5 80.6h1.05v1.05h-1.05zM285.0 78.5h1.05v1.05h-1.05zM283.2 83.9h1.05v1.05h-1.05zM299.7 76.1h1.05v1.05h-1.05zM295.0 76.0h1.05v1.05h-1.05zM276.0 78.3h1.05v1.05h-1.05zM272.8 73.1h1.05v1.05h-1.05zM271.7 75.6h1.05v1.05h-1.05zM272.6 80.6h1.05v1.05h-1.05zM275.3 79.4h1.05v1.05h-1.05zM288.6 80.9h1.05v1.05h-1.05zM280.7 84.3h1.05v1.05h-1.05zM274.2 80.1h1.05v1.05h-1.05zM281.5 78.9h1.05v1.05h-1.05zM287.3 77.6h1.05v1.05h-1.05zM272.7 79.3h1.05v1.05h-1.05zM271.6 79.7h1.05v1.05h-1.05zM286.2 78.3h1.05v1.05h-1.05zM282.0 76.1h1.05v1.05h-1.05zM280.5 75.3h1.05v1.05h-1.05zM289.1 79.2h1.05v1.05h-1.05zM268.0 77.5h1.05v1.05h-1.05zM269.1 82.8h1.05v1.05h-1.05zM270.1 78.2h1.05v1.05h-1.05zM266.6 75.9h1.05v1.05h-1.05zM277.8 78.1h1.05v1.05h-1.05zM270.3 80.5h1.05v1.05h-1.05zM274.6 82.2h1.05v1.05h-1.05zM281.4 75.1h1.05v1.05h-1.05zM266.2 82.8h1.05v1.05h-1.05zM270.3 81.6h1.05v1.05h-1.05zM269.8 87.5h1.05v1.05h-1.05zM281.6 81.9h1.05v1.05h-1.05zM283.4 74.1h1.05v1.05h-1.05zM274.9 79.2h1.05v1.05h-1.05zM294.0 77.2h1.05v1.05h-1.05zM259.8 79.9h1.05v1.05h-1.05zM272.5 80.0h1.05v1.05h-1.05zM276.8 80.2h1.05v1.05h-1.05zM268.2 78.2h1.05v1.05h-1.05zM297.6 77.6h1.05v1.05h-1.05zM279.7 76.3h1.05v1.05h-1.05zM257.5 82.8h1.05v1.05h-1.05zM276.8 84.3h1.05v1.05h-1.05zM285.5 80.7h1.05v1.05h-1.05zM267.7 86.5h1.05v1.05h-1.05zM276.0 87.2h1.05v1.05h-1.05zM282.6 83.2h1.05v1.05h-1.05zM282.0 81.7h1.05v1.05h-1.05zM273.9 88.1h1.05v1.05h-1.05zM267.3 75.1h1.05v1.05h-1.05zM279.1 78.0h1.05v1.05h-1.05zM285.9 79.6h1.05v1.05h-1.05zM288.0 80.6h1.05v1.05h-1.05zM268.5 79.1h1.05v1.05h-1.05zM283.1 78.1h1.05v1.05h-1.05zM267.9 79.6h1.05v1.05h-1.05zM279.2 84.3h1.05v1.05h-1.05zM280.3 83.1h1.05v1.05h-1.05zM274.2 86.4h1.05v1.05h-1.05zM297.8 78.0h1.05v1.05h-1.05zM278.4 79.8h1.05v1.05h-1.05zM279.2 79.1h1.05v1.05h-1.05zM269.0 75.8h1.05v1.05h-1.05zM270.9 80.2h1.05v1.05h-1.05zM286.2 82.0h1.05v1.05h-1.05zM271.8 77.9h1.05v1.05h-1.05zM261.0 82.4h1.05v1.05h-1.05zM276.8 82.2h1.05v1.05h-1.05zM283.3 81.9h1.05v1.05h-1.05zM274.8 79.1h1.05v1.05h-1.05zM265.8 77.9h1.05v1.05h-1.05zM279.9 87.7h1.05v1.05h-1.05zM271.6 80.8h1.05v1.05h-1.05zM307.3 80.3h1.05v1.05h-1.05zM272.2 80.0h1.05v1.05h-1.05zM273.0 73.4h1.05v1.05h-1.05zM283.6 73.9h1.05v1.05h-1.05zM269.5 78.4h1.05v1.05h-1.05zM279.4 79.0h1.05v1.05h-1.05zM270.1 76.8h1.05v1.05h-1.05zM277.0 78.5h1.05v1.05h-1.05zM267.3 75.1h1.05v1.05h-1.05zM265.7 80.0h1.05v1.05h-1.05zM258.6 80.0h1.05v1.05h-1.05zM274.9 83.4h1.05v1.05h-1.05zM267.1 76.1h1.05v1.05h-1.05zM272.8 78.1h1.05v1.05h-1.05zM276.0 79.8h1.05v1.05h-1.05zM265.6 80.6h1.05v1.05h-1.05zM270.7 84.7h1.05v1.05h-1.05zM280.5 84.2h1.05v1.05h-1.05zM261.4 76.4h1.05v1.05h-1.05zM269.4 77.3h1.05v1.05h-1.05zM289.5 80.6h1.05v1.05h-1.05zM263.0 78.4h1.05v1.05h-1.05zM291.8 78.3h1.05v1.05h-1.05zM279.7 73.6h1.05v1.05h-1.05zM268.1 78.8h1.05v1.05h-1.05zM271.1 79.3h1.05v1.05h-1.05zM277.1 83.2h1.05v1.05h-1.05zM256.3 79.5h1.05v1.05h-1.05zM280.6 80.1h1.05v1.05h-1.05zM285.0 78.9h1.05v1.05h-1.05zM269.3 76.6h1.05v1.05h-1.05zM282.6 75.0h1.05v1.05h-1.05zM269.3 79.2h1.05v1.05h-1.05zM279.7 78.3h1.05v1.05h-1.05zM264.2 81.3h1.05v1.05h-1.05zM262.1 76.8h1.05v1.05h-1.05zM274.7 73.4h1.05v1.05h-1.05zM271.0 81.1h1.05v1.05h-1.05zM266.5 73.6h1.05v1.05h-1.05zM272.1 81.2h1.05v1.05h-1.05zM272.4 82.3h1.05v1.05h-1.05zM262.7 82.3h1.05v1.05h-1.05zM276.2 81.8h1.05v1.05h-1.05zM273.8 82.5h1.05v1.05h-1.05zM271.4 77.7h1.05v1.05h-1.05zM262.8 73.9h1.05v1.05h-1.05zM273.8 78.0h1.05v1.05h-1.05zM272.0 78.2h1.05v1.05h-1.05zM276.5 79.3h1.05v1.05h-1.05zM267.2 81.7h1.05v1.05h-1.05zM294.0 76.2h1.05v1.05h-1.05zM268.8 81.1h1.05v1.05h-1.05zM266.0 82.7h1.05v1.05h-1.05zM266.5 75.2h1.05v1.05h-1.05zM263.9 82.8h1.05v1.05h-1.05zM277.5 81.6h1.05v1.05h-1.05zM294.9 79.2h1.05v1.05h-1.05zM285.5 81.5h1.05v1.05h-1.05zM284.6 77.0h1.05v1.05h-1.05zM285.5 78.6h1.05v1.05h-1.05zM289.3 82.9h1.05v1.05h-1.05zM275.5 81.8h1.05v1.05h-1.05zM280.4 80.6h1.05v1.05h-1.05zM301.8 77.1h1.05v1.05h-1.05zM261.7 75.4h1.05v1.05h-1.05zM272.9 79.8h1.05v1.05h-1.05zM282.2 83.3h1.05v1.05h-1.05zM278.0 80.5h1.05v1.05h-1.05zM266.3 83.4h1.05v1.05h-1.05zM289.4 79.7h1.05v1.05h-1.05zM282.9 77.9h1.05v1.05h-1.05zM275.5 80.4h1.05v1.05h-1.05zM284.4 75.2h1.05v1.05h-1.05zM276.4 83.1h1.05v1.05h-1.05zM279.2 82.3h1.05v1.05h-1.05zM271.3 77.4h1.05v1.05h-1.05zM277.7 73.3h1.05v1.05h-1.05zM270.3 80.0h1.05v1.05h-1.05zM284.6 82.1h1.05v1.05h-1.05zM264.8 77.6h1.05v1.05h-1.05zM277.1 83.1h1.05v1.05h-1.05zM270.4 77.6h1.05v1.05h-1.05zM280.5 80.2h1.05v1.05h-1.05zM288.4 81.4h1.05v1.05h-1.05zM284.7 73.0h1.05v1.05h-1.05zM261.0 74.5h1.05v1.05h-1.05zM267.6 80.8h1.05v1.05h-1.05zM271.6 81.3h1.05v1.05h-1.05zM266.7 82.9h1.05v1.05h-1.05zM282.8 73.7h1.05v1.05h-1.05zM263.5 77.4h1.05v1.05h-1.05zM282.3 82.2h1.05v1.05h-1.05zM292.1 74.3h1.05v1.05h-1.05zM276.2 79.4h1.05v1.05h-1.05zM271.1 79.0h1.05v1.05h-1.05zM269.6 75.1h1.05v1.05h-1.05zM288.0 77.0h1.05v1.05h-1.05zM276.1 77.0h1.05v1.05h-1.05zM258.1 77.8h1.05v1.05h-1.05zM276.9 75.9h1.05v1.05h-1.05zM278.8 85.2h1.05v1.05h-1.05zM285.8 78.3h1.05v1.05h-1.05zM265.8 82.6h1.05v1.05h-1.05zM259.8 75.9h1.05v1.05h-1.05zM291.4 80.8h1.05v1.05h-1.05zM279.1 78.6h1.05v1.05h-1.05zM303.0 90.4h1.05v1.05h-1.05zM272.9 82.5h1.05v1.05h-1.05zM271.7 81.3h1.05v1.05h-1.05zM288.3 84.2h1.05v1.05h-1.05zM272.4 81.2h1.05v1.05h-1.05zM303.7 83.1h1.05v1.05h-1.05zM289.6 81.8h1.05v1.05h-1.05zM274.0 76.1h1.05v1.05h-1.05zM265.1 74.1h1.05v1.05h-1.05zM263.9 76.8h1.05v1.05h-1.05zM282.5 74.1h1.05v1.05h-1.05zM279.3 73.0h1.05v1.05h-1.05zM301.6 77.8h1.05v1.05h-1.05zM276.5 85.9h1.05v1.05h-1.05zM273.0 80.2h1.05v1.05h-1.05zM276.5 81.8h1.05v1.05h-1.05zM269.9 85.9h1.05v1.05h-1.05zM286.7 80.3h1.05v1.05h-1.05zM287.5 79.5h1.05v1.05h-1.05zM269.6 79.5h1.05v1.05h-1.05zM279.8 74.5h1.05v1.05h-1.05zM271.7 81.4h1.05v1.05h-1.05zM263.7 81.0h1.05v1.05h-1.05zM263.6 80.5h1.05v1.05h-1.05zM274.1 81.0h1.05v1.05h-1.05zM267.4 72.9h1.05v1.05h-1.05zM259.7 76.7h1.05v1.05h-1.05zM257.7 84.6h1.05v1.05h-1.05zM282.1 82.7h1.05v1.05h-1.05zM263.0 83.3h1.05v1.05h-1.05zM266.8 84.0h1.05v1.05h-1.05zM273.5 76.6h1.05v1.05h-1.05zM299.4 75.0h1.05v1.05h-1.05zM271.4 78.6h1.05v1.05h-1.05zM265.8 77.1h1.05v1.05h-1.05zM273.8 80.8h1.05v1.05h-1.05zM269.9 78.6h1.05v1.05h-1.05zM274.3 76.2h1.05v1.05h-1.05zM271.8 79.7h1.05v1.05h-1.05zM284.8 81.9h1.05v1.05h-1.05zM279.3 82.8h1.05v1.05h-1.05zM266.2 83.5h1.05v1.05h-1.05zM270.3 79.0h1.05v1.05h-1.05zM269.9 81.8h1.05v1.05h-1.05zM267.5 81.5h1.05v1.05h-1.05zM270.5 77.7h1.05v1.05h-1.05zM278.1 76.5h1.05v1.05h-1.05zM286.2 77.0h1.05v1.05h-1.05zM269.0 83.6h1.05v1.05h-1.05zM258.7 82.6h1.05v1.05h-1.05zM274.5 79.7h1.05v1.05h-1.05zM275.8 76.2h1.05v1.05h-1.05zM290.6 81.3h1.05v1.05h-1.05zM280.4 82.2h1.05v1.05h-1.05zM283.6 80.5h1.05v1.05h-1.05zM264.1 74.9h1.05v1.05h-1.05zM259.8 77.8h1.05v1.05h-1.05zM283.8 74.8h1.05v1.05h-1.05zM298.7 80.3h1.05v1.05h-1.05zM266.3 83.1h1.05v1.05h-1.05zM280.8 78.4h1.05v1.05h-1.05zM265.8 79.2h1.05v1.05h-1.05zM293.6 77.6h1.05v1.05h-1.05zM294.8 79.1h1.05v1.05h-1.05zM287.3 82.1h1.05v1.05h-1.05zM301.3 79.0h1.05v1.05h-1.05zM299.6 87.0h1.05v1.05h-1.05zM273.7 79.6h1.05v1.05h-1.05zM266.6 80.7h1.05v1.05h-1.05zM305.6 78.7h1.05v1.05h-1.05zM272.8 77.0h1.05v1.05h-1.05zM293.0 72.9h1.05v1.05h-1.05zM269.3 81.2h1.05v1.05h-1.05zM270.0 79.5h1.05v1.05h-1.05zM273.8 72.5h1.05v1.05h-1.05zM298.2 84.0h1.05v1.05h-1.05zM277.5 89.0h1.05v1.05h-1.05zM289.9 81.5h1.05v1.05h-1.05zM290.3 74.8h1.05v1.05h-1.05zM301.5 80.0h1.05v1.05h-1.05zM294.8 80.0h1.05v1.05h-1.05zM283.1 89.3h1.05v1.05h-1.05zM294.1 78.5h1.05v1.05h-1.05zM297.1 74.4h1.05v1.05h-1.05zM293.2 90.9h1.05v1.05h-1.05zM279.6 81.6h1.05v1.05h-1.05zM273.0 79.6h1.05v1.05h-1.05zM303.0 75.2h1.05v1.05h-1.05zM276.3 84.4h1.05v1.05h-1.05zM291.9 82.3h1.05v1.05h-1.05zM295.4 74.0h1.05v1.05h-1.05zM294.9 73.5h1.05v1.05h-1.05zM265.2 77.1h1.05v1.05h-1.05zM286.4 80.6h1.05v1.05h-1.05zM264.5 85.0h1.05v1.05h-1.05zM275.9 80.0h1.05v1.05h-1.05zM287.7 75.2h1.05v1.05h-1.05zM293.5 80.9h1.05v1.05h-1.05zM303.2 87.6h1.05v1.05h-1.05zM316.5 83.5h1.05v1.05h-1.05zM297.5 78.0h1.05v1.05h-1.05zM268.8 81.3h1.05v1.05h-1.05zM281.0 78.4h1.05v1.05h-1.05zM282.3 81.3h1.05v1.05h-1.05zM283.3 89.7h1.05v1.05h-1.05zM300.2 77.4h1.05v1.05h-1.05zM293.6 85.6h1.05v1.05h-1.05zM273.1 80.5h1.05v1.05h-1.05zM281.8 79.9h1.05v1.05h-1.05zM282.4 80.4h1.05v1.05h-1.05zM294.9 82.3h1.05v1.05h-1.05zM269.3 82.6h1.05v1.05h-1.05zM289.3 76.9h1.05v1.05h-1.05zM288.2 86.5h1.05v1.05h-1.05zM286.9 75.9h1.05v1.05h-1.05zM298.4 78.8h1.05v1.05h-1.05zM298.4 80.9h1.05v1.05h-1.05zM307.3 77.1h1.05v1.05h-1.05zM284.2 84.4h1.05v1.05h-1.05zM311.8 80.7h1.05v1.05h-1.05zM305.4 81.8h1.05v1.05h-1.05zM289.6 72.7h1.05v1.05h-1.05zM317.2 84.8h1.05v1.05h-1.05zM259.4 83.2h1.05v1.05h-1.05zM281.6 75.4h1.05v1.05h-1.05zM281.8 82.9h1.05v1.05h-1.05zM288.6 78.9h1.05v1.05h-1.05zM287.1 78.1h1.05v1.05h-1.05zM271.7 79.0h1.05v1.05h-1.05zM273.7 80.4h1.05v1.05h-1.05zM284.2 81.4h1.05v1.05h-1.05zM287.0 82.3h1.05v1.05h-1.05zM289.3 82.9h1.05v1.05h-1.05zM284.8 72.3h1.05v1.05h-1.05zM289.7 80.0h1.05v1.05h-1.05zM283.1 84.2h1.05v1.05h-1.05zM296.8 86.5h1.05v1.05h-1.05zM285.1 78.3h1.05v1.05h-1.05zM296.9 86.4h1.05v1.05h-1.05zM281.0 82.2h1.05v1.05h-1.05zM289.9 78.8h1.05v1.05h-1.05zM302.4 83.9h1.05v1.05h-1.05zM299.8 77.4h1.05v1.05h-1.05zM290.5 73.0h1.05v1.05h-1.05zM297.6 74.7h1.05v1.05h-1.05zM287.0 83.8h1.05v1.05h-1.05zM287.4 80.8h1.05v1.05h-1.05zM281.9 91.3h1.05v1.05h-1.05zM274.7 77.8h1.05v1.05h-1.05zM288.9 91.4h1.05v1.05h-1.05zM283.5 80.6h1.05v1.05h-1.05zM303.1 82.0h1.05v1.05h-1.05zM311.5 87.0h1.05v1.05h-1.05zM298.4 85.3h1.05v1.05h-1.05zM283.4 75.7h1.05v1.05h-1.05zM289.0 81.5h1.05v1.05h-1.05zM288.0 82.5h1.05v1.05h-1.05zM300.6 88.1h1.05v1.05h-1.05zM290.2 78.7h1.05v1.05h-1.05zM298.6 81.7h1.05v1.05h-1.05zM300.2 88.1h1.05v1.05h-1.05zM281.8 84.0h1.05v1.05h-1.05zM310.5 86.3h1.05v1.05h-1.05zM273.2 79.5h1.05v1.05h-1.05zM309.5 80.9h1.05v1.05h-1.05zM298.5 80.4h1.05v1.05h-1.05zM309.6 81.9h1.05v1.05h-1.05zM288.8 81.2h1.05v1.05h-1.05zM310.9 82.5h1.05v1.05h-1.05zM301.2 73.5h1.05v1.05h-1.05zM293.6 77.5h1.05v1.05h-1.05zM294.3 77.3h1.05v1.05h-1.05zM260.1 86.2h1.05v1.05h-1.05zM290.4 79.5h1.05v1.05h-1.05zM311.3 83.1h1.05v1.05h-1.05zM305.0 79.3h1.05v1.05h-1.05zM292.2 82.1h1.05v1.05h-1.05zM282.5 83.6h1.05v1.05h-1.05zM296.1 78.8h1.05v1.05h-1.05zM285.1 83.8h1.05v1.05h-1.05zM288.2 81.8h1.05v1.05h-1.05zM294.2 79.3h1.05v1.05h-1.05zM300.9 77.4h1.05v1.05h-1.05zM281.7 83.8h1.05v1.05h-1.05zM274.8 85.3h1.05v1.05h-1.05zM297.8 86.0h1.05v1.05h-1.05zM290.1 80.6h1.05v1.05h-1.05zM294.3 73.7h1.05v1.05h-1.05zM279.1 84.9h1.05v1.05h-1.05zM281.8 76.2h1.05v1.05h-1.05zM294.9 86.0h1.05v1.05h-1.05zM289.9 79.1h1.05v1.05h-1.05zM290.3 82.0h1.05v1.05h-1.05zM270.2 81.7h1.05v1.05h-1.05zM296.0 84.6h1.05v1.05h-1.05zM304.8 83.0h1.05v1.05h-1.05zM317.0 80.3h1.05v1.05h-1.05zM289.5 87.1h1.05v1.05h-1.05zM292.6 77.9h1.05v1.05h-1.05zM283.9 80.3h1.05v1.05h-1.05zM273.4 84.5h1.05v1.05h-1.05zM295.0 85.7h1.05v1.05h-1.05zM277.7 78.8h1.05v1.05h-1.05zM282.6 82.5h1.05v1.05h-1.05zM296.0 83.5h1.05v1.05h-1.05zM300.1 75.8h1.05v1.05h-1.05zM294.6 80.7h1.05v1.05h-1.05zM290.7 82.4h1.05v1.05h-1.05zM266.5 77.4h1.05v1.05h-1.05zM287.3 76.7h1.05v1.05h-1.05zM275.8 84.1h1.05v1.05h-1.05zM302.0 87.3h1.05v1.05h-1.05zM298.9 78.6h1.05v1.05h-1.05zM276.2 82.1h1.05v1.05h-1.05zM288.8 72.7h1.05v1.05h-1.05zM290.9 73.0h1.05v1.05h-1.05zM296.5 74.6h1.05v1.05h-1.05zM269.8 82.8h1.05v1.05h-1.05zM301.5 78.7h1.05v1.05h-1.05zM274.5 82.3h1.05v1.05h-1.05zM291.0 80.7h1.05v1.05h-1.05zM284.2 73.5h1.05v1.05h-1.05zM283.1 85.7h1.05v1.05h-1.05zM280.6 79.3h1.05v1.05h-1.05zM288.5 83.7h1.05v1.05h-1.05zM292.9 78.0h1.05v1.05h-1.05zM313.5 80.5h1.05v1.05h-1.05zM293.2 77.0h1.05v1.05h-1.05zM269.7 81.6h1.05v1.05h-1.05zM284.8 81.1h1.05v1.05h-1.05zM260.6 86.7h1.05v1.05h-1.05zM289.8 83.1h1.05v1.05h-1.05zM275.5 80.2h1.05v1.05h-1.05zM291.3 84.4h1.05v1.05h-1.05zM292.1 80.3h1.05v1.05h-1.05zM285.3 80.7h1.05v1.05h-1.05zM296.9 83.8h1.05v1.05h-1.05zM274.8 76.3h1.05v1.05h-1.05zM290.0 82.6h1.05v1.05h-1.05zM277.1 79.8h1.05v1.05h-1.05zM273.2 80.0h1.05v1.05h-1.05zM287.2 81.9h1.05v1.05h-1.05zM307.2 76.6h1.05v1.05h-1.05zM295.0 73.3h1.05v1.05h-1.05zM293.5 87.2h1.05v1.05h-1.05zM269.8 77.7h1.05v1.05h-1.05zM317.7 76.0h1.05v1.05h-1.05zM293.9 85.7h1.05v1.05h-1.05zM279.8 80.7h1.05v1.05h-1.05zM279.9 77.9h1.05v1.05h-1.05zM290.1 83.6h1.05v1.05h-1.05zM292.8 79.8h1.05v1.05h-1.05zM287.7 84.5h1.05v1.05h-1.05zM296.4 81.7h1.05v1.05h-1.05zM266.0 79.1h1.05v1.05h-1.05zM276.1 87.3h1.05v1.05h-1.05zM298.6 86.1h1.05v1.05h-1.05zM279.3 73.6h1.05v1.05h-1.05zM279.7 82.7h1.05v1.05h-1.05zM281.2 83.0h1.05v1.05h-1.05zM307.7 78.7h1.05v1.05h-1.05zM274.2 77.5h1.05v1.05h-1.05zM285.9 74.1h1.05v1.05h-1.05zM285.4 84.4h1.05v1.05h-1.05zM301.2 81.9h1.05v1.05h-1.05zM278.4 86.0h1.05v1.05h-1.05zM298.8 75.9h1.05v1.05h-1.05zM303.1 78.6h1.05v1.05h-1.05zM297.4 81.7h1.05v1.05h-1.05zM298.0 86.4h1.05v1.05h-1.05zM323.2 81.8h1.05v1.05h-1.05zM292.3 80.1h1.05v1.05h-1.05zM296.8 82.8h1.05v1.05h-1.05zM274.0 80.7h1.05v1.05h-1.05zM320.8 83.6h1.05v1.05h-1.05zM305.2 80.2h1.05v1.05h-1.05zM319.2 82.9h1.05v1.05h-1.05zM287.2 77.3h1.05v1.05h-1.05zM297.4 87.8h1.05v1.05h-1.05zM282.7 76.3h1.05v1.05h-1.05zM261.1 83.3h1.05v1.05h-1.05zM277.1 77.2h1.05v1.05h-1.05zM277.2 76.6h1.05v1.05h-1.05zM301.0 77.0h1.05v1.05h-1.05zM292.9 77.2h1.05v1.05h-1.05zM285.9 83.0h1.05v1.05h-1.05zM299.1 75.3h1.05v1.05h-1.05zM290.9 76.2h1.05v1.05h-1.05zM299.7 77.5h1.05v1.05h-1.05zM278.4 83.6h1.05v1.05h-1.05zM283.1 80.6h1.05v1.05h-1.05zM299.6 77.8h1.05v1.05h-1.05zM286.2 82.6h1.05v1.05h-1.05zM319.8 82.6h1.05v1.05h-1.05zM299.9 80.2h1.05v1.05h-1.05zM289.8 86.4h1.05v1.05h-1.05zM280.7 77.1h1.05v1.05h-1.05zM309.6 76.8h1.05v1.05h-1.05zM274.0 82.1h1.05v1.05h-1.05zM303.3 87.5h1.05v1.05h-1.05zM287.8 78.8h1.05v1.05h-1.05zM295.2 76.5h1.05v1.05h-1.05zM290.9 81.3h1.05v1.05h-1.05zM293.0 76.5h1.05v1.05h-1.05zM293.5 76.4h1.05v1.05h-1.05zM279.3 79.0h1.05v1.05h-1.05zM289.6 85.9h1.05v1.05h-1.05zM292.4 77.8h1.05v1.05h-1.05zM293.7 86.8h1.05v1.05h-1.05zM288.1 77.1h1.05v1.05h-1.05zM300.3 79.0h1.05v1.05h-1.05zM281.1 83.6h1.05v1.05h-1.05zM279.2 78.8h1.05v1.05h-1.05zM307.7 80.7h1.05v1.05h-1.05zM306.8 72.5h1.05v1.05h-1.05zM270.4 76.7h1.05v1.05h-1.05zM292.9 77.7h1.05v1.05h-1.05zM283.2 80.1h1.05v1.05h-1.05zM286.6 74.9h1.05v1.05h-1.05zM286.9 74.9h1.05v1.05h-1.05zM307.2 78.0h1.05v1.05h-1.05zM286.4 77.2h1.05v1.05h-1.05zM290.2 80.9h1.05v1.05h-1.05zM288.1 75.5h1.05v1.05h-1.05zM304.5 79.8h1.05v1.05h-1.05zM275.0 74.9h1.05v1.05h-1.05zM267.9 75.8h1.05v1.05h-1.05zM294.0 85.2h1.05v1.05h-1.05zM292.6 81.3h1.05v1.05h-1.05zM304.7 89.1h1.05v1.05h-1.05zM304.8 82.4h1.05v1.05h-1.05zM288.0 75.6h1.05v1.05h-1.05zM295.3 85.0h1.05v1.05h-1.05zM293.8 77.6h1.05v1.05h-1.05zM297.4 79.5h1.05v1.05h-1.05zM296.8 77.1h1.05v1.05h-1.05zM304.9 77.2h1.05v1.05h-1.05zM290.8 77.5h1.05v1.05h-1.05zM312.9 85.7h1.05v1.05h-1.05zM289.6 86.0h1.05v1.05h-1.05zM273.4 82.7h1.05v1.05h-1.05zM282.5 79.3h1.05v1.05h-1.05zM283.8 82.5h1.05v1.05h-1.05zM266.4 78.0h1.05v1.05h-1.05zM287.1 74.3h1.05v1.05h-1.05zM283.6 85.4h1.05v1.05h-1.05zM265.4 81.6h1.05v1.05h-1.05zM310.8 72.1h1.05v1.05h-1.05zM298.5 82.9h1.05v1.05h-1.05zM292.8 86.0h1.05v1.05h-1.05zM299.0 77.0h1.05v1.05h-1.05zM280.1 79.5h1.05v1.05h-1.05zM311.9 79.5h1.05v1.05h-1.05zM302.0 79.5h1.05v1.05h-1.05zM298.6 82.4h1.05v1.05h-1.05zM306.5 87.9h1.05v1.05h-1.05zM283.8 75.2h1.05v1.05h-1.05zM289.4 80.0h1.05v1.05h-1.05zM284.3 89.8h1.05v1.05h-1.05zM286.9 96.1h1.05v1.05h-1.05zM268.6 95.1h1.05v1.05h-1.05zM303.5 101.1h1.05v1.05h-1.05zM297.0 105.7h1.05v1.05h-1.05zM291.1 102.5h1.05v1.05h-1.05zM296.1 93.7h1.05v1.05h-1.05zM280.3 97.9h1.05v1.05h-1.05zM271.7 99.4h1.05v1.05h-1.05zM282.9 84.7h1.05v1.05h-1.05zM290.3 97.9h1.05v1.05h-1.05zM275.1 96.2h1.05v1.05h-1.05zM266.0 93.1h1.05v1.05h-1.05zM283.7 104.0h1.05v1.05h-1.05zM261.9 85.9h1.05v1.05h-1.05zM283.9 94.9h1.05v1.05h-1.05zM268.6 92.8h1.05v1.05h-1.05zM295.9 95.3h1.05v1.05h-1.05zM285.3 98.0h1.05v1.05h-1.05zM273.3 99.7h1.05v1.05h-1.05zM309.5 87.1h1.05v1.05h-1.05zM268.5 94.3h1.05v1.05h-1.05zM300.3 97.2h1.05v1.05h-1.05zM307.6 96.3h1.05v1.05h-1.05zM288.7 87.5h1.05v1.05h-1.05zM275.6 90.5h1.05v1.05h-1.05zM306.3 99.8h1.05v1.05h-1.05zM277.2 90.5h1.05v1.05h-1.05zM295.7 97.2h1.05v1.05h-1.05zM290.7 85.0h1.05v1.05h-1.05zM263.2 84.2h1.05v1.05h-1.05zM284.0 100.5h1.05v1.05h-1.05zM286.7 93.4h1.05v1.05h-1.05zM294.1 100.1h1.05v1.05h-1.05zM270.0 95.2h1.05v1.05h-1.05zM296.0 87.0h1.05v1.05h-1.05zM270.2 84.4h1.05v1.05h-1.05zM273.1 97.3h1.05v1.05h-1.05zM284.4 94.7h1.05v1.05h-1.05zM283.2 93.4h1.05v1.05h-1.05zM286.6 95.1h1.05v1.05h-1.05zM297.1 91.2h1.05v1.05h-1.05zM269.3 90.2h1.05v1.05h-1.05zM278.3 96.2h1.05v1.05h-1.05zM279.5 96.2h1.05v1.05h-1.05zM289.8 96.4h1.05v1.05h-1.05zM290.6 84.1h1.05v1.05h-1.05zM298.7 105.8h1.05v1.05h-1.05zM294.7 105.7h1.05v1.05h-1.05zM289.4 88.5h1.05v1.05h-1.05zM291.3 92.7h1.05v1.05h-1.05zM282.0 106.1h1.05v1.05h-1.05zM271.3 102.3h1.05v1.05h-1.05zM294.6 94.2h1.05v1.05h-1.05zM287.5 95.5h1.05v1.05h-1.05zM300.1 96.5h1.05v1.05h-1.05zM281.3 93.0h1.05v1.05h-1.05zM291.6 89.4h1.05v1.05h-1.05zM283.6 93.7h1.05v1.05h-1.05zM295.3 85.2h1.05v1.05h-1.05zM282.4 97.5h1.05v1.05h-1.05zM325.1 95.4h1.05v1.05h-1.05zM293.9 89.6h1.05v1.05h-1.05zM315.5 92.1h1.05v1.05h-1.05zM282.0 95.0h1.05v1.05h-1.05zM266.9 85.7h1.05v1.05h-1.05zM280.1 87.2h1.05v1.05h-1.05zM298.6 89.6h1.05v1.05h-1.05zM315.9 95.7h1.05v1.05h-1.05zM274.4 94.7h1.05v1.05h-1.05zM294.2 93.4h1.05v1.05h-1.05zM290.5 91.5h1.05v1.05h-1.05zM273.3 92.4h1.05v1.05h-1.05zM308.3 89.9h1.05v1.05h-1.05zM274.7 95.6h1.05v1.05h-1.05zM278.8 102.1h1.05v1.05h-1.05zM297.0 89.3h1.05v1.05h-1.05zM282.0 98.0h1.05v1.05h-1.05zM288.4 90.4h1.05v1.05h-1.05zM257.8 103.6h1.05v1.05h-1.05zM283.7 94.1h1.05v1.05h-1.05zM273.5 104.5h1.05v1.05h-1.05zM281.8 94.1h1.05v1.05h-1.05zM282.3 95.7h1.05v1.05h-1.05zM292.6 91.0h1.05v1.05h-1.05zM297.2 91.5h1.05v1.05h-1.05zM280.6 92.4h1.05v1.05h-1.05zM274.1 96.9h1.05v1.05h-1.05zM273.2 101.0h1.05v1.05h-1.05zM302.7 86.4h1.05v1.05h-1.05zM294.2 94.3h1.05v1.05h-1.05zM265.4 88.0h1.05v1.05h-1.05zM296.7 89.7h1.05v1.05h-1.05zM268.8 87.0h1.05v1.05h-1.05zM286.9 95.5h1.05v1.05h-1.05zM266.2 95.1h1.05v1.05h-1.05zM283.6 90.4h1.05v1.05h-1.05zM265.1 89.2h1.05v1.05h-1.05zM261.9 103.8h1.05v1.05h-1.05zM289.3 92.9h1.05v1.05h-1.05zM275.7 102.2h1.05v1.05h-1.05zM258.4 88.9h1.05v1.05h-1.05zM260.2 92.4h1.05v1.05h-1.05zM288.8 95.1h1.05v1.05h-1.05zM291.7 89.6h1.05v1.05h-1.05zM279.8 96.3h1.05v1.05h-1.05zM273.5 84.9h1.05v1.05h-1.05zM264.5 95.6h1.05v1.05h-1.05zM277.7 97.5h1.05v1.05h-1.05zM302.2 94.1h1.05v1.05h-1.05zM270.9 97.7h1.05v1.05h-1.05zM314.2 95.3h1.05v1.05h-1.05zM292.4 106.1h1.05v1.05h-1.05zM262.8 99.0h1.05v1.05h-1.05zM303.6 100.6h1.05v1.05h-1.05zM286.1 90.1h1.05v1.05h-1.05zM282.3 91.2h1.05v1.05h-1.05zM275.6 89.7h1.05v1.05h-1.05zM292.0 94.2h1.05v1.05h-1.05zM291.5 90.3h1.05v1.05h-1.05zM280.8 94.0h1.05v1.05h-1.05zM285.1 89.9h1.05v1.05h-1.05zM279.2 88.8h1.05v1.05h-1.05zM278.6 87.1h1.05v1.05h-1.05zM272.8 85.3h1.05v1.05h-1.05zM302.1 87.7h1.05v1.05h-1.05zM282.2 85.3h1.05v1.05h-1.05zM285.5 102.3h1.05v1.05h-1.05zM273.9 94.1h1.05v1.05h-1.05zM282.7 99.6h1.05v1.05h-1.05zM282.6 92.2h1.05v1.05h-1.05zM297.1 105.7h1.05v1.05h-1.05zM272.6 99.6h1.05v1.05h-1.05zM284.0 104.2h1.05v1.05h-1.05zM277.0 96.6h1.05v1.05h-1.05zM301.9 97.5h1.05v1.05h-1.05zM287.1 93.0h1.05v1.05h-1.05zM276.4 94.5h1.05v1.05h-1.05zM271.7 106.2h1.05v1.05h-1.05zM292.2 92.4h1.05v1.05h-1.05zM303.1 98.4h1.05v1.05h-1.05zM315.6 75.0h1.05v1.05h-1.05zM307.5 83.1h1.05v1.05h-1.05zM289.4 101.7h1.05v1.05h-1.05zM325.7 93.5h1.05v1.05h-1.05zM318.3 73.8h1.05v1.05h-1.05zM261.4 95.3h1.05v1.05h-1.05zM260.5 72.1h1.05v1.05h-1.05zM282.3 103.3h1.05v1.05h-1.05zM303.3 94.7h1.05v1.05h-1.05zM259.8 90.7h1.05v1.05h-1.05zM283.1 105.9h1.05v1.05h-1.05zM298.3 88.8h1.05v1.05h-1.05zM277.2 73.5h1.05v1.05h-1.05zM310.1 97.2h1.05v1.05h-1.05zM259.5 102.8h1.05v1.05h-1.05zM278.4 106.7h1.05v1.05h-1.05zM312.0 81.5h1.05v1.05h-1.05zM309.1 89.8h1.05v1.05h-1.05zM269.2 82.5h1.05v1.05h-1.05zM274.9 104.2h1.05v1.05h-1.05zM305.9 89.7h1.05v1.05h-1.05zM265.8 98.9h1.05v1.05h-1.05zM282.8 78.9h1.05v1.05h-1.05zM300.2 104.1h1.05v1.05h-1.05zM304.3 90.1h1.05v1.05h-1.05zM293.5 92.5h1.05v1.05h-1.05zM305.6 98.3h1.05v1.05h-1.05zM303.4 79.4h1.05v1.05h-1.05zM289.8 98.1h1.05v1.05h-1.05zM300.6 101.9h1.05v1.05h-1.05zM306.6 74.2h1.05v1.05h-1.05zM310.5 99.1h1.05v1.05h-1.05zM293.3 85.3h1.05v1.05h-1.05zM278.0 105.2h1.05v1.05h-1.05zM300.1 106.7h1.05v1.05h-1.05zM276.4 98.6h1.05v1.05h-1.05zM272.8 100.1h1.05v1.05h-1.05zM291.8 89.6h1.05v1.05h-1.05zM297.2 94.2h1.05v1.05h-1.05zM228.4 100.9h1.05v1.05h-1.05zM245.2 93.3h1.05v1.05h-1.05zM245.7 77.4h1.05v1.05h-1.05zM232.7 89.3h1.05v1.05h-1.05zM245.2 93.7h1.05v1.05h-1.05zM250.3 76.7h1.05v1.05h-1.05zM235.6 100.1h1.05v1.05h-1.05zM239.3 100.8h1.05v1.05h-1.05zM240.6 88.3h1.05v1.05h-1.05zM239.6 102.9h1.05v1.05h-1.05zM211.2 95.4h1.05v1.05h-1.05zM253.5 95.0h1.05v1.05h-1.05zM228.5 75.1h1.05v1.05h-1.05zM213.4 76.8h1.05v1.05h-1.05zM218.6 100.9h1.05v1.05h-1.05zM232.1 78.7h1.05v1.05h-1.05zM238.2 97.1h1.05v1.05h-1.05zM247.0 99.0h1.05v1.05h-1.05zM226.3 99.6h1.05v1.05h-1.05zM236.2 81.5h1.05v1.05h-1.05zM240.9 80.4h1.05v1.05h-1.05zM244.9 90.8h1.05v1.05h-1.05zM253.5 73.1h1.05v1.05h-1.05zM215.9 107.0h1.05v1.05h-1.05zM221.9 73.8h1.05v1.05h-1.05zM217.2 100.9h1.05v1.05h-1.05zM236.3 97.1h1.05v1.05h-1.05zM235.6 96.7h1.05v1.05h-1.05zM226.9 97.4h1.05v1.05h-1.05zM221.9 81.5h1.05v1.05h-1.05zM236.7 92.4h1.05v1.05h-1.05zM244.5 90.5h1.05v1.05h-1.05zM236.1 92.5h1.05v1.05h-1.05zM244.1 104.1h1.05v1.05h-1.05zM221.2 90.4h1.05v1.05h-1.05zM213.0 144.0h1.05v1.05h-1.05zM214.0 141.0h1.05v1.05h-1.05zM225.0 150.0h1.05v1.05h-1.05zM222.0 150.0h1.05v1.05h-1.05zM226.0 150.0h1.05v1.05h-1.05zM215.0 165.0h1.05v1.05h-1.05zM217.0 162.0h1.05v1.05h-1.05zM249.0 140.0h1.05v1.05h-1.05zM258.0 137.0h1.05v1.05h-1.05zM258.0 140.0h1.05v1.05h-1.05zM265.0 147.0h1.05v1.05h-1.05zM276.0 148.0h1.05v1.05h-1.05zM279.0 147.0h1.05v1.05h-1.05zM291.0 172.0h1.05v1.05h-1.05zM300.0 116.0h1.05v1.05h-1.05zM311.0 118.0h1.05v1.05h-1.05zM391.2 95.1h1.05v1.05h-1.05zM381.2 86.3h1.05v1.05h-1.05zM393.7 87.2h1.05v1.05h-1.05zM387.1 87.5h1.05v1.05h-1.05zM391.0 88.7h1.05v1.05h-1.05zM386.9 90.9h1.05v1.05h-1.05zM389.6 91.0h1.05v1.05h-1.05zM395.0 92.9h1.05v1.05h-1.05zM391.6 89.5h1.05v1.05h-1.05zM390.3 87.2h1.05v1.05h-1.05zM396.0 90.8h1.05v1.05h-1.05zM399.7 92.0h1.05v1.05h-1.05zM389.8 93.9h1.05v1.05h-1.05zM391.1 90.7h1.05v1.05h-1.05zM396.0 91.8h1.05v1.05h-1.05zM388.0 93.4h1.05v1.05h-1.05zM395.4 90.9h1.05v1.05h-1.05zM391.7 91.8h1.05v1.05h-1.05zM383.3 95.5h1.05v1.05h-1.05zM377.0 87.5h1.05v1.05h-1.05zM386.6 92.3h1.05v1.05h-1.05zM393.1 92.1h1.05v1.05h-1.05zM385.0 95.0h1.05v1.05h-1.05zM398.5 83.7h1.05v1.05h-1.05zM394.0 84.2h1.05v1.05h-1.05zM389.2 92.7h1.05v1.05h-1.05zM392.8 86.3h1.05v1.05h-1.05zM388.6 94.5h1.05v1.05h-1.05zM393.7 93.3h1.05v1.05h-1.05zM381.8 92.6h1.05v1.05h-1.05zM393.9 87.5h1.05v1.05h-1.05zM401.6 90.7h1.05v1.05h-1.05zM398.3 89.1h1.05v1.05h-1.05zM395.3 92.7h1.05v1.05h-1.05zM392.0 91.2h1.05v1.05h-1.05zM394.7 90.5h1.05v1.05h-1.05zM384.8 92.0h1.05v1.05h-1.05zM392.0 91.7h1.05v1.05h-1.05zM387.6 96.1h1.05v1.05h-1.05zM398.6 95.6h1.05v1.05h-1.05zM404.7 94.3h1.05v1.05h-1.05zM391.0 86.6h1.05v1.05h-1.05zM400.1 91.9h1.05v1.05h-1.05zM398.2 95.5h1.05v1.05h-1.05zM391.9 87.8h1.05v1.05h-1.05zM395.5 89.5h1.05v1.05h-1.05zM387.7 92.3h1.05v1.05h-1.05zM391.4 92.7h1.05v1.05h-1.05zM386.1 90.6h1.05v1.05h-1.05zM391.3 90.9h1.05v1.05h-1.05zM389.2 93.2h1.05v1.05h-1.05zM383.9 92.5h1.05v1.05h-1.05zM399.8 90.9h1.05v1.05h-1.05zM393.4 88.4h1.05v1.05h-1.05zM394.5 92.4h1.05v1.05h-1.05zM394.0 92.2h1.05v1.05h-1.05zM396.3 91.7h1.05v1.05h-1.05zM381.5 87.2h1.05v1.05h-1.05zM392.3 98.2h1.05v1.05h-1.05zM399.6 90.9h1.05v1.05h-1.05zM391.7 89.5h1.05v1.05h-1.05zM396.6 89.9h1.05v1.05h-1.05zM393.3 88.0h1.05v1.05h-1.05zM390.2 87.6h1.05v1.05h-1.05zM388.0 89.8h1.05v1.05h-1.05zM400.3 92.1h1.05v1.05h-1.05zM399.5 89.4h1.05v1.05h-1.05zM394.6 88.9h1.05v1.05h-1.05zM391.8 90.4h1.05v1.05h-1.05zM382.9 91.1h1.05v1.05h-1.05zM385.5 92.6h1.05v1.05h-1.05zM389.0 85.7h1.05v1.05h-1.05zM385.5 88.0h1.05v1.05h-1.05zM401.7 86.7h1.05v1.05h-1.05zM390.5 91.5h1.05v1.05h-1.05zM391.7 90.7h1.05v1.05h-1.05zM397.1 88.5h1.05v1.05h-1.05zM403.5 95.4h1.05v1.05h-1.05zM394.1 95.4h1.05v1.05h-1.05zM393.6 89.5h1.05v1.05h-1.05zM385.4 88.7h1.05v1.05h-1.05zM396.4 92.0h1.05v1.05h-1.05zM402.7 96.1h1.05v1.05h-1.05zM398.3 91.3h1.05v1.05h-1.05zM403.8 90.8h1.05v1.05h-1.05zM378.1 90.0h1.05v1.05h-1.05zM395.7 92.8h1.05v1.05h-1.05zM396.4 93.5h1.05v1.05h-1.05zM376.9 98.5h1.05v1.05h-1.05zM396.3 91.2h1.05v1.05h-1.05zM380.9 93.6h1.05v1.05h-1.05zM386.4 84.2h1.05v1.05h-1.05zM396.4 92.7h1.05v1.05h-1.05zM391.9 87.8h1.05v1.05h-1.05zM395.3 91.0h1.05v1.05h-1.05zM394.8 92.2h1.05v1.05h-1.05zM383.3 92.3h1.05v1.05h-1.05zM384.8 92.3h1.05v1.05h-1.05zM390.2 89.1h1.05v1.05h-1.05zM402.7 91.5h1.05v1.05h-1.05zM393.7 93.3h1.05v1.05h-1.05zM406.1 81.2h1.05v1.05h-1.05zM395.8 91.0h1.05v1.05h-1.05zM399.7 90.9h1.05v1.05h-1.05zM392.4 92.8h1.05v1.05h-1.05zM392.5 87.9h1.05v1.05h-1.05zM393.0 97.1h1.05v1.05h-1.05zM396.5 83.1h1.05v1.05h-1.05zM392.0 87.6h1.05v1.05h-1.05zM398.7 87.1h1.05v1.05h-1.05zM392.3 92.6h1.05v1.05h-1.05zM398.0 88.8h1.05v1.05h-1.05zM394.5 98.5h1.05v1.05h-1.05zM388.6 91.0h1.05v1.05h-1.05zM387.4 90.3h1.05v1.05h-1.05zM396.0 91.1h1.05v1.05h-1.05zM397.1 86.6h1.05v1.05h-1.05zM393.8 89.9h1.05v1.05h-1.05zM374.8 94.7h1.05v1.05h-1.05zM393.7 88.9h1.05v1.05h-1.05zM399.7 92.8h1.05v1.05h-1.05zM378.1 92.6h1.05v1.05h-1.05zM408.3 92.0h1.05v1.05h-1.05zM398.3 85.3h1.05v1.05h-1.05zM383.1 86.1h1.05v1.05h-1.05zM399.9 94.2h1.05v1.05h-1.05zM377.0 94.1h1.05v1.05h-1.05zM379.6 86.1h1.05v1.05h-1.05zM392.3 88.6h1.05v1.05h-1.05zM392.6 91.7h1.05v1.05h-1.05zM400.4 89.3h1.05v1.05h-1.05zM388.6 88.5h1.05v1.05h-1.05zM408.5 95.0h1.05v1.05h-1.05zM400.8 93.0h1.05v1.05h-1.05zM394.7 96.0h1.05v1.05h-1.05zM392.7 85.8h1.05v1.05h-1.05zM382.8 99.8h1.05v1.05h-1.05zM386.4 88.7h1.05v1.05h-1.05zM392.0 94.7h1.05v1.05h-1.05zM385.8 90.3h1.05v1.05h-1.05zM395.5 86.5h1.05v1.05h-1.05zM393.5 94.8h1.05v1.05h-1.05zM394.6 91.3h1.05v1.05h-1.05zM396.2 90.8h1.05v1.05h-1.05zM390.1 89.1h1.05v1.05h-1.05zM398.4 85.2h1.05v1.05h-1.05zM385.1 93.7h1.05v1.05h-1.05zM400.6 91.3h1.05v1.05h-1.05zM387.3 85.3h1.05v1.05h-1.05zM396.7 91.5h1.05v1.05h-1.05zM395.0 92.3h1.05v1.05h-1.05zM385.9 88.1h1.05v1.05h-1.05zM391.9 90.1h1.05v1.05h-1.05zM382.0 86.4h1.05v1.05h-1.05zM391.2 95.6h1.05v1.05h-1.05zM408.0 91.6h1.05v1.05h-1.05zM390.3 91.7h1.05v1.05h-1.05zM392.9 87.7h1.05v1.05h-1.05zM388.4 90.5h1.05v1.05h-1.05zM386.0 89.5h1.05v1.05h-1.05zM393.4 86.0h1.05v1.05h-1.05zM387.8 92.9h1.05v1.05h-1.05zM397.6 84.5h1.05v1.05h-1.05zM397.8 95.4h1.05v1.05h-1.05zM395.4 92.4h1.05v1.05h-1.05zM393.6 92.2h1.05v1.05h-1.05zM389.7 95.4h1.05v1.05h-1.05zM392.7 85.8h1.05v1.05h-1.05zM396.3 94.0h1.05v1.05h-1.05zM395.4 87.4h1.05v1.05h-1.05zM396.8 80.7h1.05v1.05h-1.05zM403.8 92.8h1.05v1.05h-1.05zM381.0 83.6h1.05v1.05h-1.05zM408.2 91.6h1.05v1.05h-1.05zM388.0 92.0h1.05v1.05h-1.05zM391.3 90.1h1.05v1.05h-1.05zM394.7 91.8h1.05v1.05h-1.05zM385.8 91.9h1.05v1.05h-1.05zM394.1 87.4h1.05v1.05h-1.05zM398.9 92.7h1.05v1.05h-1.05zM386.1 97.1h1.05v1.05h-1.05zM396.4 95.7h1.05v1.05h-1.05zM388.0 89.2h1.05v1.05h-1.05zM393.7 88.9h1.05v1.05h-1.05zM391.5 85.9h1.05v1.05h-1.05zM406.2 92.7h1.05v1.05h-1.05zM401.4 97.0h1.05v1.05h-1.05zM392.5 97.9h1.05v1.05h-1.05zM377.6 89.5h1.05v1.05h-1.05zM389.2 90.7h1.05v1.05h-1.05zM385.2 93.9h1.05v1.05h-1.05zM405.6 91.6h1.05v1.05h-1.05zM396.6 83.2h1.05v1.05h-1.05zM387.8 92.2h1.05v1.05h-1.05zM388.3 91.9h1.05v1.05h-1.05zM390.1 92.1h1.05v1.05h-1.05zM383.7 92.7h1.05v1.05h-1.05zM402.1 93.3h1.05v1.05h-1.05zM406.6 90.6h1.05v1.05h-1.05zM398.6 86.3h1.05v1.05h-1.05zM399.1 92.7h1.05v1.05h-1.05zM391.3 94.9h1.05v1.05h-1.05zM385.5 90.1h1.05v1.05h-1.05zM395.0 87.4h1.05v1.05h-1.05zM386.6 94.4h1.05v1.05h-1.05zM390.6 87.3h1.05v1.05h-1.05zM389.8 88.9h1.05v1.05h-1.05zM387.9 92.1h1.05v1.05h-1.05zM386.0 85.8h1.05v1.05h-1.05zM393.2 90.6h1.05v1.05h-1.05zM400.8 86.3h1.05v1.05h-1.05zM389.1 94.4h1.05v1.05h-1.05zM395.1 88.9h1.05v1.05h-1.05zM387.4 93.2h1.05v1.05h-1.05zM392.5 87.9h1.05v1.05h-1.05zM389.8 89.4h1.05v1.05h-1.05zM398.7 81.9h1.05v1.05h-1.05zM388.9 95.0h1.05v1.05h-1.05zM381.7 89.8h1.05v1.05h-1.05zM398.0 86.1h1.05v1.05h-1.05zM388.9 87.7h1.05v1.05h-1.05zM393.5 88.4h1.05v1.05h-1.05zM385.6 91.0h1.05v1.05h-1.05zM393.8 94.6h1.05v1.05h-1.05zM389.9 90.1h1.05v1.05h-1.05zM388.7 94.7h1.05v1.05h-1.05zM400.2 87.9h1.05v1.05h-1.05zM378.7 97.4h1.05v1.05h-1.05zM380.4 84.6h1.05v1.05h-1.05zM388.9 97.3h1.05v1.05h-1.05zM399.6 89.8h1.05v1.05h-1.05zM396.9 90.1h1.05v1.05h-1.05zM399.6 89.1h1.05v1.05h-1.05zM402.7 92.7h1.05v1.05h-1.05zM388.7 84.7h1.05v1.05h-1.05zM399.8 92.5h1.05v1.05h-1.05zM386.1 87.5h1.05v1.05h-1.05zM389.1 89.4h1.05v1.05h-1.05zM391.1 90.5h1.05v1.05h-1.05zM392.3 88.6h1.05v1.05h-1.05zM405.5 89.6h1.05v1.05h-1.05zM388.1 92.5h1.05v1.05h-1.05zM386.6 92.1h1.05v1.05h-1.05zM393.2 94.2h1.05v1.05h-1.05zM386.1 84.0h1.05v1.05h-1.05zM399.9 90.0h1.05v1.05h-1.05zM403.5 93.2h1.05v1.05h-1.05zM389.4 91.8h1.05v1.05h-1.05zM384.8 87.2h1.05v1.05h-1.05zM392.5 91.1h1.05v1.05h-1.05zM381.6 93.4h1.05v1.05h-1.05zM395.8 94.3h1.05v1.05h-1.05zM383.1 92.7h1.05v1.05h-1.05zM388.5 89.1h1.05v1.05h-1.05zM399.2 91.0h1.05v1.05h-1.05zM396.2 93.8h1.05v1.05h-1.05zM399.8 87.6h1.05v1.05h-1.05zM386.6 92.0h1.05v1.05h-1.05zM396.2 88.4h1.05v1.05h-1.05zM395.3 87.9h1.05v1.05h-1.05zM391.1 90.6h1.05v1.05h-1.05zM394.3 93.3h1.05v1.05h-1.05zM391.0 91.6h1.05v1.05h-1.05zM388.0 93.7h1.05v1.05h-1.05zM397.0 89.4h1.05v1.05h-1.05zM405.7 91.1h1.05v1.05h-1.05zM392.1 90.0h1.05v1.05h-1.05zM396.3 92.0h1.05v1.05h-1.05zM390.0 93.2h1.05v1.05h-1.05zM400.7 96.6h1.05v1.05h-1.05zM397.8 90.7h1.05v1.05h-1.05zM389.7 93.6h1.05v1.05h-1.05zM402.5 99.4h1.05v1.05h-1.05zM392.7 88.2h1.05v1.05h-1.05zM388.5 93.1h1.05v1.05h-1.05zM398.8 89.4h1.05v1.05h-1.05zM387.1 85.2h1.05v1.05h-1.05zM398.9 86.4h1.05v1.05h-1.05zM397.7 90.9h1.05v1.05h-1.05zM381.5 87.5h1.05v1.05h-1.05zM400.0 91.4h1.05v1.05h-1.05zM392.2 95.5h1.05v1.05h-1.05zM393.4 91.7h1.05v1.05h-1.05zM394.3 91.6h1.05v1.05h-1.05zM400.5 89.5h1.05v1.05h-1.05zM400.5 96.5h1.05v1.05h-1.05zM390.3 92.9h1.05v1.05h-1.05zM386.2 91.6h1.05v1.05h-1.05zM401.3 94.5h1.05v1.05h-1.05zM391.0 93.3h1.05v1.05h-1.05zM396.7 91.7h1.05v1.05h-1.05zM394.6 98.0h1.05v1.05h-1.05zM377.0 89.3h1.05v1.05h-1.05zM399.1 90.9h1.05v1.05h-1.05zM395.7 92.3h1.05v1.05h-1.05zM392.1 91.3h1.05v1.05h-1.05zM388.8 91.2h1.05v1.05h-1.05zM398.3 94.7h1.05v1.05h-1.05zM396.8 90.4h1.05v1.05h-1.05zM391.0 85.5h1.05v1.05h-1.05zM392.3 88.0h1.05v1.05h-1.05zM389.0 90.0h1.05v1.05h-1.05zM393.8 91.7h1.05v1.05h-1.05zM393.5 87.4h1.05v1.05h-1.05zM390.5 93.5h1.05v1.05h-1.05zM392.7 92.6h1.05v1.05h-1.05zM393.7 96.3h1.05v1.05h-1.05zM403.8 99.9h1.05v1.05h-1.05zM391.2 94.0h1.05v1.05h-1.05zM385.4 93.7h1.05v1.05h-1.05zM396.5 90.0h1.05v1.05h-1.05zM402.7 91.9h1.05v1.05h-1.05zM384.0 96.4h1.05v1.05h-1.05zM394.3 94.1h1.05v1.05h-1.05zM389.6 88.8h1.05v1.05h-1.05zM386.1 87.7h1.05v1.05h-1.05zM398.2 93.2h1.05v1.05h-1.05zM383.4 91.3h1.05v1.05h-1.05zM393.8 88.7h1.05v1.05h-1.05zM395.4 88.6h1.05v1.05h-1.05zM399.5 90.2h1.05v1.05h-1.05zM390.1 91.0h1.05v1.05h-1.05zM388.9 90.1h1.05v1.05h-1.05zM386.8 93.7h1.05v1.05h-1.05zM386.2 89.7h1.05v1.05h-1.05zM401.5 94.7h1.05v1.05h-1.05zM392.3 86.4h1.05v1.05h-1.05zM380.5 92.1h1.05v1.05h-1.05zM393.8 89.7h1.05v1.05h-1.05zM390.6 97.8h1.05v1.05h-1.05zM398.0 90.8h1.05v1.05h-1.05zM391.2 89.6h1.05v1.05h-1.05zM394.6 89.9h1.05v1.05h-1.05zM393.2 89.3h1.05v1.05h-1.05zM397.3 91.6h1.05v1.05h-1.05zM385.5 100.6h1.05v1.05h-1.05zM394.5 89.3h1.05v1.05h-1.05zM385.0 91.1h1.05v1.05h-1.05zM388.9 96.6h1.05v1.05h-1.05zM396.1 88.8h1.05v1.05h-1.05zM381.6 93.6h1.05v1.05h-1.05zM382.2 92.5h1.05v1.05h-1.05zM393.6 81.5h1.05v1.05h-1.05zM391.2 96.5h1.05v1.05h-1.05zM387.1 83.2h1.05v1.05h-1.05zM381.9 90.5h1.05v1.05h-1.05zM394.5 93.7h1.05v1.05h-1.05zM394.4 87.6h1.05v1.05h-1.05zM389.9 90.0h1.05v1.05h-1.05zM391.7 86.5h1.05v1.05h-1.05zM396.7 94.5h1.05v1.05h-1.05zM391.8 91.3h1.05v1.05h-1.05zM384.7 91.5h1.05v1.05h-1.05zM387.6 87.8h1.05v1.05h-1.05zM397.8 91.3h1.05v1.05h-1.05zM389.7 85.2h1.05v1.05h-1.05zM392.8 96.5h1.05v1.05h-1.05zM394.8 91.7h1.05v1.05h-1.05zM400.6 98.2h1.05v1.05h-1.05zM396.6 94.5h1.05v1.05h-1.05zM394.4 92.7h1.05v1.05h-1.05zM396.0 94.9h1.05v1.05h-1.05zM390.2 92.2h1.05v1.05h-1.05zM395.2 90.8h1.05v1.05h-1.05zM389.5 93.9h1.05v1.05h-1.05zM390.9 85.8h1.05v1.05h-1.05zM397.9 86.2h1.05v1.05h-1.05zM398.3 82.5h1.05v1.05h-1.05zM393.4 97.4h1.05v1.05h-1.05zM392.1 95.2h1.05v1.05h-1.05zM390.9 88.6h1.05v1.05h-1.05zM391.7 94.5h1.05v1.05h-1.05zM401.7 96.2h1.05v1.05h-1.05zM399.2 91.2h1.05v1.05h-1.05zM380.6 88.6h1.05v1.05h-1.05zM403.1 85.7h1.05v1.05h-1.05zM396.5 92.7h1.05v1.05h-1.05zM382.6 92.4h1.05v1.05h-1.05zM390.8 91.8h1.05v1.05h-1.05zM392.6 90.4h1.05v1.05h-1.05zM387.3 84.2h1.05v1.05h-1.05zM404.6 88.1h1.05v1.05h-1.05zM391.5 89.8h1.05v1.05h-1.05zM391.3 88.5h1.05v1.05h-1.05zM396.8 91.1h1.05v1.05h-1.05zM390.0 89.0h1.05v1.05h-1.05zM396.5 87.9h1.05v1.05h-1.05zM396.7 95.7h1.05v1.05h-1.05zM400.2 93.1h1.05v1.05h-1.05zM382.6 93.7h1.05v1.05h-1.05zM395.2 96.0h1.05v1.05h-1.05zM389.9 89.7h1.05v1.05h-1.05zM403.0 88.5h1.05v1.05h-1.05zM401.1 92.5h1.05v1.05h-1.05zM377.7 89.7h1.05v1.05h-1.05zM390.6 86.6h1.05v1.05h-1.05zM381.3 91.5h1.05v1.05h-1.05zM386.8 88.9h1.05v1.05h-1.05zM387.3 90.4h1.05v1.05h-1.05zM396.6 94.0h1.05v1.05h-1.05zM396.7 89.9h1.05v1.05h-1.05zM392.3 93.2h1.05v1.05h-1.05zM401.5 90.9h1.05v1.05h-1.05zM385.1 92.2h1.05v1.05h-1.05zM397.5 89.6h1.05v1.05h-1.05zM401.1 89.5h1.05v1.05h-1.05zM393.4 92.5h1.05v1.05h-1.05zM403.8 87.1h1.05v1.05h-1.05zM396.9 93.9h1.05v1.05h-1.05zM392.6 94.8h1.05v1.05h-1.05zM389.1 87.1h1.05v1.05h-1.05zM385.3 88.8h1.05v1.05h-1.05zM386.3 92.9h1.05v1.05h-1.05zM393.4 86.1h1.05v1.05h-1.05zM403.6 92.0h1.05v1.05h-1.05zM382.6 84.7h1.05v1.05h-1.05zM393.8 95.9h1.05v1.05h-1.05zM391.3 94.6h1.05v1.05h-1.05zM404.0 93.7h1.05v1.05h-1.05zM391.2 86.6h1.05v1.05h-1.05zM389.0 95.8h1.05v1.05h-1.05zM393.5 87.7h1.05v1.05h-1.05zM390.7 90.5h1.05v1.05h-1.05zM400.7 89.1h1.05v1.05h-1.05zM405.6 92.0h1.05v1.05h-1.05zM395.7 87.2h1.05v1.05h-1.05zM396.0 92.1h1.05v1.05h-1.05zM398.1 88.7h1.05v1.05h-1.05zM394.8 85.8h1.05v1.05h-1.05zM386.7 99.4h1.05v1.05h-1.05zM390.3 88.4h1.05v1.05h-1.05zM399.1 90.5h1.05v1.05h-1.05zM410.5 91.4h1.05v1.05h-1.05zM397.9 90.2h1.05v1.05h-1.05zM400.8 91.3h1.05v1.05h-1.05zM411.2 88.6h1.05v1.05h-1.05zM396.2 93.7h1.05v1.05h-1.05zM385.7 89.2h1.05v1.05h-1.05zM388.0 85.1h1.05v1.05h-1.05zM395.2 80.9h1.05v1.05h-1.05zM384.5 87.0h1.05v1.05h-1.05zM394.9 90.5h1.05v1.05h-1.05zM399.9 95.3h1.05v1.05h-1.05zM394.1 87.6h1.05v1.05h-1.05zM397.7 88.4h1.05v1.05h-1.05zM390.9 91.1h1.05v1.05h-1.05zM402.9 100.5h1.05v1.05h-1.05zM401.3 89.4h1.05v1.05h-1.05zM399.4 95.7h1.05v1.05h-1.05zM387.6 91.7h1.05v1.05h-1.05zM388.9 89.0h1.05v1.05h-1.05zM393.9 91.7h1.05v1.05h-1.05zM388.3 91.2h1.05v1.05h-1.05zM385.2 90.6h1.05v1.05h-1.05zM394.3 89.5h1.05v1.05h-1.05zM383.2 88.4h1.05v1.05h-1.05zM395.8 94.6h1.05v1.05h-1.05zM399.5 94.7h1.05v1.05h-1.05zM404.7 89.6h1.05v1.05h-1.05zM400.8 88.3h1.05v1.05h-1.05zM404.7 94.6h1.05v1.05h-1.05zM386.7 93.6h1.05v1.05h-1.05zM399.8 88.3h1.05v1.05h-1.05zM395.5 94.2h1.05v1.05h-1.05zM405.4 89.2h1.05v1.05h-1.05zM403.4 87.6h1.05v1.05h-1.05zM387.8 95.9h1.05v1.05h-1.05zM398.2 88.5h1.05v1.05h-1.05zM403.3 92.9h1.05v1.05h-1.05zM394.5 90.2h1.05v1.05h-1.05zM376.4 91.2h1.05v1.05h-1.05zM399.5 91.0h1.05v1.05h-1.05zM398.0 90.8h1.05v1.05h-1.05zM402.3 80.9h1.05v1.05h-1.05zM396.4 87.9h1.05v1.05h-1.05zM394.6 93.4h1.05v1.05h-1.05zM400.8 94.0h1.05v1.05h-1.05zM401.1 87.6h1.05v1.05h-1.05zM394.1 83.4h1.05v1.05h-1.05zM395.4 85.3h1.05v1.05h-1.05zM400.2 91.8h1.05v1.05h-1.05zM391.3 88.8h1.05v1.05h-1.05zM394.3 88.9h1.05v1.05h-1.05zM383.7 92.4h1.05v1.05h-1.05zM387.4 92.7h1.05v1.05h-1.05zM386.8 86.7h1.05v1.05h-1.05zM407.6 93.1h1.05v1.05h-1.05zM400.9 90.1h1.05v1.05h-1.05zM392.7 90.9h1.05v1.05h-1.05zM405.9 93.4h1.05v1.05h-1.05zM393.6 90.8h1.05v1.05h-1.05zM393.4 94.7h1.05v1.05h-1.05zM393.3 91.3h1.05v1.05h-1.05zM402.0 94.5h1.05v1.05h-1.05zM398.4 98.0h1.05v1.05h-1.05zM392.5 87.1h1.05v1.05h-1.05zM382.6 90.9h1.05v1.05h-1.05zM394.7 94.5h1.05v1.05h-1.05zM383.8 86.3h1.05v1.05h-1.05zM391.7 90.0h1.05v1.05h-1.05zM383.9 90.4h1.05v1.05h-1.05zM397.6 90.1h1.05v1.05h-1.05zM408.3 93.5h1.05v1.05h-1.05zM387.6 90.2h1.05v1.05h-1.05zM383.5 98.5h1.05v1.05h-1.05zM391.0 89.8h1.05v1.05h-1.05zM397.6 89.7h1.05v1.05h-1.05zM388.4 90.6h1.05v1.05h-1.05zM399.4 94.5h1.05v1.05h-1.05zM383.7 85.0h1.05v1.05h-1.05zM395.6 89.7h1.05v1.05h-1.05zM389.6 94.5h1.05v1.05h-1.05zM395.6 89.0h1.05v1.05h-1.05zM396.7 88.2h1.05v1.05h-1.05zM389.3 97.4h1.05v1.05h-1.05zM391.1 92.8h1.05v1.05h-1.05zM391.0 89.7h1.05v1.05h-1.05zM385.4 86.8h1.05v1.05h-1.05zM401.1 98.7h1.05v1.05h-1.05zM397.3 93.0h1.05v1.05h-1.05zM389.3 90.7h1.05v1.05h-1.05zM402.9 100.2h1.05v1.05h-1.05zM397.6 92.4h1.05v1.05h-1.05zM400.3 91.5h1.05v1.05h-1.05zM388.0 87.9h1.05v1.05h-1.05zM391.2 89.6h1.05v1.05h-1.05zM377.4 84.6h1.05v1.05h-1.05zM398.3 94.4h1.05v1.05h-1.05zM398.4 90.2h1.05v1.05h-1.05zM388.6 90.8h1.05v1.05h-1.05zM395.1 89.3h1.05v1.05h-1.05zM400.2 88.6h1.05v1.05h-1.05zM377.5 93.4h1.05v1.05h-1.05zM399.0 90.4h1.05v1.05h-1.05zM399.9 95.2h1.05v1.05h-1.05zM376.1 92.5h1.05v1.05h-1.05zM385.1 93.5h1.05v1.05h-1.05zM394.8 94.0h1.05v1.05h-1.05zM391.3 88.9h1.05v1.05h-1.05zM394.9 99.7h1.05v1.05h-1.05zM396.0 87.3h1.05v1.05h-1.05zM392.9 90.2h1.05v1.05h-1.05zM401.6 91.5h1.05v1.05h-1.05zM391.1 91.7h1.05v1.05h-1.05zM388.5 92.8h1.05v1.05h-1.05zM386.0 89.5h1.05v1.05h-1.05zM394.6 86.2h1.05v1.05h-1.05zM384.4 88.3h1.05v1.05h-1.05zM402.9 94.1h1.05v1.05h-1.05zM393.7 94.7h1.05v1.05h-1.05zM399.0 89.0h1.05v1.05h-1.05zM386.0 95.4h1.05v1.05h-1.05zM389.0 93.5h1.05v1.05h-1.05zM383.0 90.9h1.05v1.05h-1.05zM385.1 93.5h1.05v1.05h-1.05zM398.4 92.6h1.05v1.05h-1.05zM398.6 89.2h1.05v1.05h-1.05zM396.0 93.3h1.05v1.05h-1.05zM387.6 93.3h1.05v1.05h-1.05zM395.2 92.8h1.05v1.05h-1.05zM391.7 91.0h1.05v1.05h-1.05zM396.5 91.6h1.05v1.05h-1.05zM397.1 86.4h1.05v1.05h-1.05zM399.6 88.3h1.05v1.05h-1.05zM400.3 86.0h1.05v1.05h-1.05zM389.2 92.1h1.05v1.05h-1.05zM395.9 89.5h1.05v1.05h-1.05zM387.3 93.3h1.05v1.05h-1.05zM400.1 88.0h1.05v1.05h-1.05zM385.3 89.0h1.05v1.05h-1.05zM392.4 84.9h1.05v1.05h-1.05zM386.5 93.5h1.05v1.05h-1.05zM388.0 88.2h1.05v1.05h-1.05zM403.3 95.0h1.05v1.05h-1.05zM404.3 91.1h1.05v1.05h-1.05zM392.3 89.7h1.05v1.05h-1.05zM383.6 83.6h1.05v1.05h-1.05zM392.7 88.4h1.05v1.05h-1.05zM397.5 94.6h1.05v1.05h-1.05zM383.2 86.2h1.05v1.05h-1.05zM394.8 96.2h1.05v1.05h-1.05zM403.7 88.7h1.05v1.05h-1.05zM393.8 96.3h1.05v1.05h-1.05zM388.4 87.7h1.05v1.05h-1.05zM402.3 88.7h1.05v1.05h-1.05zM385.6 96.9h1.05v1.05h-1.05zM390.7 89.8h1.05v1.05h-1.05zM397.4 96.6h1.05v1.05h-1.05zM398.8 92.2h1.05v1.05h-1.05zM396.5 92.9h1.05v1.05h-1.05zM395.6 85.2h1.05v1.05h-1.05zM395.7 86.6h1.05v1.05h-1.05zM388.8 91.8h1.05v1.05h-1.05zM392.9 92.7h1.05v1.05h-1.05zM393.5 93.1h1.05v1.05h-1.05zM405.7 87.4h1.05v1.05h-1.05zM400.9 97.9h1.05v1.05h-1.05zM390.9 90.1h1.05v1.05h-1.05zM393.0 93.0h1.05v1.05h-1.05zM389.0 90.1h1.05v1.05h-1.05zM393.4 91.6h1.05v1.05h-1.05zM403.0 89.6h1.05v1.05h-1.05zM399.1 94.2h1.05v1.05h-1.05zM395.0 91.9h1.05v1.05h-1.05zM388.4 88.9h1.05v1.05h-1.05zM396.2 92.3h1.05v1.05h-1.05zM392.0 95.5h1.05v1.05h-1.05zM394.7 91.6h1.05v1.05h-1.05zM392.7 95.2h1.05v1.05h-1.05zM397.4 92.5h1.05v1.05h-1.05zM385.5 97.4h1.05v1.05h-1.05zM384.7 92.8h1.05v1.05h-1.05zM386.0 85.9h1.05v1.05h-1.05zM395.3 89.8h1.05v1.05h-1.05zM390.1 86.3h1.05v1.05h-1.05zM392.8 90.0h1.05v1.05h-1.05zM383.2 89.3h1.05v1.05h-1.05zM390.8 87.0h1.05v1.05h-1.05zM400.1 86.3h1.05v1.05h-1.05zM405.6 95.0h1.05v1.05h-1.05zM389.8 96.7h1.05v1.05h-1.05zM400.3 95.3h1.05v1.05h-1.05zM394.2 87.5h1.05v1.05h-1.05zM379.1 92.0h1.05v1.05h-1.05zM392.2 88.9h1.05v1.05h-1.05zM406.5 92.7h1.05v1.05h-1.05zM383.2 90.5h1.05v1.05h-1.05zM396.4 86.6h1.05v1.05h-1.05zM394.4 89.8h1.05v1.05h-1.05zM383.3 92.5h1.05v1.05h-1.05zM397.5 81.8h1.05v1.05h-1.05zM395.9 89.0h1.05v1.05h-1.05zM390.8 85.1h1.05v1.05h-1.05zM386.5 97.2h1.05v1.05h-1.05zM397.7 90.4h1.05v1.05h-1.05zM393.6 88.1h1.05v1.05h-1.05zM392.3 88.0h1.05v1.05h-1.05zM394.7 87.1h1.05v1.05h-1.05zM394.3 93.8h1.05v1.05h-1.05zM390.9 91.7h1.05v1.05h-1.05zM394.9 89.1h1.05v1.05h-1.05zM383.8 94.8h1.05v1.05h-1.05zM393.6 90.0h1.05v1.05h-1.05zM401.3 88.1h1.05v1.05h-1.05zM389.8 88.6h1.05v1.05h-1.05zM386.4 90.5h1.05v1.05h-1.05zM389.0 96.0h1.05v1.05h-1.05zM388.8 95.4h1.05v1.05h-1.05zM387.3 89.9h1.05v1.05h-1.05zM393.4 88.0h1.05v1.05h-1.05zM397.5 89.0h1.05v1.05h-1.05zM388.8 93.5h1.05v1.05h-1.05zM388.3 93.3h1.05v1.05h-1.05zM400.1 93.8h1.05v1.05h-1.05zM402.3 89.6h1.05v1.05h-1.05zM401.3 89.2h1.05v1.05h-1.05zM382.4 90.5h1.05v1.05h-1.05zM405.8 87.6h1.05v1.05h-1.05zM404.7 86.1h1.05v1.05h-1.05zM399.0 92.8h1.05v1.05h-1.05zM390.2 83.1h1.05v1.05h-1.05zM397.5 93.3h1.05v1.05h-1.05zM396.3 94.5h1.05v1.05h-1.05zM387.8 98.0h1.05v1.05h-1.05zM399.0 88.3h1.05v1.05h-1.05zM407.3 91.1h1.05v1.05h-1.05zM396.1 94.0h1.05v1.05h-1.05zM387.5 87.9h1.05v1.05h-1.05zM392.1 87.0h1.05v1.05h-1.05zM391.8 95.9h1.05v1.05h-1.05zM385.7 91.3h1.05v1.05h-1.05zM389.4 94.0h1.05v1.05h-1.05zM385.5 87.1h1.05v1.05h-1.05zM391.9 98.0h1.05v1.05h-1.05zM386.7 84.9h1.05v1.05h-1.05zM386.4 93.4h1.05v1.05h-1.05zM398.8 90.6h1.05v1.05h-1.05zM394.4 85.9h1.05v1.05h-1.05zM395.3 90.3h1.05v1.05h-1.05zM388.6 94.3h1.05v1.05h-1.05zM399.5 89.1h1.05v1.05h-1.05zM394.1 84.0h1.05v1.05h-1.05zM385.8 95.3h1.05v1.05h-1.05zM385.3 87.5h1.05v1.05h-1.05zM399.9 82.7h1.05v1.05h-1.05zM388.0 93.3h1.05v1.05h-1.05zM389.6 87.7h1.05v1.05h-1.05zM385.7 91.5h1.05v1.05h-1.05zM386.4 91.8h1.05v1.05h-1.05zM391.5 90.8h1.05v1.05h-1.05zM399.8 89.1h1.05v1.05h-1.05zM386.4 90.8h1.05v1.05h-1.05zM394.3 90.1h1.05v1.05h-1.05zM381.6 93.1h1.05v1.05h-1.05zM381.3 83.9h1.05v1.05h-1.05zM398.8 96.1h1.05v1.05h-1.05zM390.8 87.9h1.05v1.05h-1.05zM401.7 86.2h1.05v1.05h-1.05zM392.6 88.8h1.05v1.05h-1.05zM396.7 92.0h1.05v1.05h-1.05zM387.8 94.8h1.05v1.05h-1.05zM397.7 90.9h1.05v1.05h-1.05zM391.0 90.7h1.05v1.05h-1.05zM384.7 90.1h1.05v1.05h-1.05zM391.3 92.9h1.05v1.05h-1.05zM391.6 89.5h1.05v1.05h-1.05zM394.6 94.3h1.05v1.05h-1.05zM396.6 90.5h1.05v1.05h-1.05zM390.1 95.7h1.05v1.05h-1.05zM393.1 86.8h1.05v1.05h-1.05zM394.4 84.8h1.05v1.05h-1.05zM389.6 93.2h1.05v1.05h-1.05zM391.9 89.8h1.05v1.05h-1.05zM397.8 95.1h1.05v1.05h-1.05zM386.8 87.0h1.05v1.05h-1.05zM388.4 87.0h1.05v1.05h-1.05zM396.1 93.5h1.05v1.05h-1.05zM392.3 87.3h1.05v1.05h-1.05zM382.7 90.4h1.05v1.05h-1.05zM387.8 92.5h1.05v1.05h-1.05zM384.7 89.0h1.05v1.05h-1.05zM390.3 94.5h1.05v1.05h-1.05zM397.9 92.6h1.05v1.05h-1.05zM394.3 93.3h1.05v1.05h-1.05zM381.3 94.1h1.05v1.05h-1.05zM391.3 96.1h1.05v1.05h-1.05zM398.9 95.2h1.05v1.05h-1.05zM388.6 101.1h1.05v1.05h-1.05zM396.9 92.1h1.05v1.05h-1.05zM389.5 92.3h1.05v1.05h-1.05zM379.5 95.8h1.05v1.05h-1.05zM396.4 90.9h1.05v1.05h-1.05zM402.1 93.0h1.05v1.05h-1.05zM396.3 89.4h1.05v1.05h-1.05zM395.5 87.1h1.05v1.05h-1.05zM386.1 91.7h1.05v1.05h-1.05zM389.4 86.5h1.05v1.05h-1.05zM392.1 84.8h1.05v1.05h-1.05zM403.4 88.0h1.05v1.05h-1.05zM387.6 96.5h1.05v1.05h-1.05zM383.6 83.4h1.05v1.05h-1.05zM393.2 90.2h1.05v1.05h-1.05zM399.8 90.9h1.05v1.05h-1.05zM382.7 91.5h1.05v1.05h-1.05zM391.5 95.4h1.05v1.05h-1.05zM395.1 87.9h1.05v1.05h-1.05zM388.8 91.1h1.05v1.05h-1.05zM390.5 91.8h1.05v1.05h-1.05zM394.9 87.0h1.05v1.05h-1.05zM394.7 94.0h1.05v1.05h-1.05zM385.5 86.1h1.05v1.05h-1.05zM398.2 93.1h1.05v1.05h-1.05zM399.3 97.3h1.05v1.05h-1.05zM392.5 87.5h1.05v1.05h-1.05zM394.8 88.8h1.05v1.05h-1.05zM395.8 93.7h1.05v1.05h-1.05zM394.0 93.2h1.05v1.05h-1.05zM393.4 92.1h1.05v1.05h-1.05zM385.9 97.1h1.05v1.05h-1.05zM389.0 89.7h1.05v1.05h-1.05zM388.7 90.3h1.05v1.05h-1.05zM390.5 84.2h1.05v1.05h-1.05zM403.4 92.4h1.05v1.05h-1.05zM391.4 91.0h1.05v1.05h-1.05zM399.9 94.1h1.05v1.05h-1.05zM395.2 94.3h1.05v1.05h-1.05zM376.6 94.1h1.05v1.05h-1.05zM391.7 88.4h1.05v1.05h-1.05zM386.4 91.3h1.05v1.05h-1.05zM381.8 92.2h1.05v1.05h-1.05zM388.0 93.5h1.05v1.05h-1.05zM381.5 92.3h1.05v1.05h-1.05zM390.0 86.8h1.05v1.05h-1.05zM400.9 94.8h1.05v1.05h-1.05zM386.8 89.9h1.05v1.05h-1.05zM402.3 91.2h1.05v1.05h-1.05zM388.7 87.5h1.05v1.05h-1.05zM387.7 92.8h1.05v1.05h-1.05zM398.7 89.5h1.05v1.05h-1.05zM385.9 88.0h1.05v1.05h-1.05zM380.8 92.3h1.05v1.05h-1.05zM392.4 94.5h1.05v1.05h-1.05zM407.1 95.4h1.05v1.05h-1.05zM389.7 89.5h1.05v1.05h-1.05zM383.8 83.3h1.05v1.05h-1.05zM404.5 91.5h1.05v1.05h-1.05zM382.2 93.0h1.05v1.05h-1.05zM378.4 89.7h1.05v1.05h-1.05zM392.8 88.2h1.05v1.05h-1.05zM388.6 93.2h1.05v1.05h-1.05zM388.5 94.4h1.05v1.05h-1.05zM380.2 89.0h1.05v1.05h-1.05zM403.1 86.8h1.05v1.05h-1.05zM385.3 90.5h1.05v1.05h-1.05zM388.9 91.2h1.05v1.05h-1.05zM398.4 92.4h1.05v1.05h-1.05zM393.2 89.0h1.05v1.05h-1.05zM393.3 93.6h1.05v1.05h-1.05zM386.1 88.9h1.05v1.05h-1.05zM384.5 90.4h1.05v1.05h-1.05zM393.0 88.5h1.05v1.05h-1.05zM384.7 87.7h1.05v1.05h-1.05zM396.3 88.5h1.05v1.05h-1.05zM397.5 88.3h1.05v1.05h-1.05zM387.1 93.2h1.05v1.05h-1.05zM386.9 94.5h1.05v1.05h-1.05zM377.6 90.5h1.05v1.05h-1.05zM388.6 89.1h1.05v1.05h-1.05zM393.8 83.5h1.05v1.05h-1.05zM406.1 89.0h1.05v1.05h-1.05zM408.3 93.5h1.05v1.05h-1.05zM393.6 85.1h1.05v1.05h-1.05zM403.6 92.9h1.05v1.05h-1.05zM400.1 85.1h1.05v1.05h-1.05zM380.6 89.2h1.05v1.05h-1.05zM395.7 93.4h1.05v1.05h-1.05zM400.3 87.5h1.05v1.05h-1.05zM383.3 93.2h1.05v1.05h-1.05zM385.6 90.4h1.05v1.05h-1.05zM405.8 89.1h1.05v1.05h-1.05zM394.8 91.5h1.05v1.05h-1.05zM392.3 92.0h1.05v1.05h-1.05zM395.7 90.8h1.05v1.05h-1.05zM402.4 94.0h1.05v1.05h-1.05zM385.7 95.8h1.05v1.05h-1.05zM393.3 90.1h1.05v1.05h-1.05zM387.3 93.4h1.05v1.05h-1.05zM392.1 87.9h1.05v1.05h-1.05zM386.9 94.7h1.05v1.05h-1.05zM390.3 89.3h1.05v1.05h-1.05zM409.1 91.9h1.05v1.05h-1.05zM396.8 91.2h1.05v1.05h-1.05zM392.3 87.3h1.05v1.05h-1.05zM397.2 91.7h1.05v1.05h-1.05zM387.1 90.4h1.05v1.05h-1.05zM404.1 91.8h1.05v1.05h-1.05zM392.9 88.5h1.05v1.05h-1.05zM388.8 92.7h1.05v1.05h-1.05zM398.2 91.5h1.05v1.05h-1.05zM398.6 87.8h1.05v1.05h-1.05zM389.9 92.0h1.05v1.05h-1.05zM400.1 89.1h1.05v1.05h-1.05zM398.8 87.0h1.05v1.05h-1.05zM399.8 95.3h1.05v1.05h-1.05zM390.5 92.0h1.05v1.05h-1.05zM397.5 88.4h1.05v1.05h-1.05zM390.0 89.3h1.05v1.05h-1.05zM396.2 94.0h1.05v1.05h-1.05zM386.7 88.3h1.05v1.05h-1.05zM396.9 88.6h1.05v1.05h-1.05zM391.4 93.7h1.05v1.05h-1.05zM393.1 94.5h1.05v1.05h-1.05zM393.4 90.5h1.05v1.05h-1.05zM388.0 83.1h1.05v1.05h-1.05zM390.2 84.5h1.05v1.05h-1.05zM397.9 93.5h1.05v1.05h-1.05zM395.7 94.8h1.05v1.05h-1.05zM406.6 84.8h1.05v1.05h-1.05zM391.9 93.7h1.05v1.05h-1.05zM391.2 90.5h1.05v1.05h-1.05zM399.9 92.7h1.05v1.05h-1.05zM383.8 96.0h1.05v1.05h-1.05zM387.5 91.7h1.05v1.05h-1.05zM396.5 85.0h1.05v1.05h-1.05zM403.9 93.2h1.05v1.05h-1.05zM395.3 93.7h1.05v1.05h-1.05zM391.3 93.3h1.05v1.05h-1.05zM397.0 83.2h1.05v1.05h-1.05zM385.0 94.2h1.05v1.05h-1.05zM386.0 92.8h1.05v1.05h-1.05zM391.7 93.4h1.05v1.05h-1.05zM381.2 91.3h1.05v1.05h-1.05zM392.9 91.9h1.05v1.05h-1.05zM394.3 91.1h1.05v1.05h-1.05zM395.2 92.6h1.05v1.05h-1.05zM389.1 95.9h1.05v1.05h-1.05zM392.9 88.7h1.05v1.05h-1.05zM397.1 85.8h1.05v1.05h-1.05zM399.7 89.6h1.05v1.05h-1.05zM393.1 90.9h1.05v1.05h-1.05zM395.7 88.5h1.05v1.05h-1.05zM389.5 92.0h1.05v1.05h-1.05zM388.5 90.5h1.05v1.05h-1.05zM391.5 89.4h1.05v1.05h-1.05zM387.8 87.7h1.05v1.05h-1.05zM389.5 86.3h1.05v1.05h-1.05zM384.9 100.0h1.05v1.05h-1.05zM392.5 93.8h1.05v1.05h-1.05zM394.2 93.2h1.05v1.05h-1.05zM393.2 94.1h1.05v1.05h-1.05zM393.7 91.7h1.05v1.05h-1.05zM384.6 94.1h1.05v1.05h-1.05zM391.2 90.6h1.05v1.05h-1.05zM395.2 91.6h1.05v1.05h-1.05zM392.4 95.1h1.05v1.05h-1.05zM387.0 83.8h1.05v1.05h-1.05zM390.5 83.0h1.05v1.05h-1.05zM391.4 95.1h1.05v1.05h-1.05zM402.5 87.0h1.05v1.05h-1.05zM395.1 86.6h1.05v1.05h-1.05zM394.7 95.5h1.05v1.05h-1.05zM388.7 96.1h1.05v1.05h-1.05zM394.5 99.9h1.05v1.05h-1.05zM389.0 87.9h1.05v1.05h-1.05zM401.3 94.1h1.05v1.05h-1.05zM396.8 88.3h1.05v1.05h-1.05zM394.0 89.2h1.05v1.05h-1.05zM403.0 93.2h1.05v1.05h-1.05zM388.9 88.2h1.05v1.05h-1.05zM383.9 89.1h1.05v1.05h-1.05zM393.2 92.6h1.05v1.05h-1.05zM400.2 89.5h1.05v1.05h-1.05zM401.4 84.2h1.05v1.05h-1.05zM392.8 93.4h1.05v1.05h-1.05zM390.2 92.0h1.05v1.05h-1.05zM398.7 89.3h1.05v1.05h-1.05zM394.8 95.1h1.05v1.05h-1.05zM385.8 95.1h1.05v1.05h-1.05zM392.7 86.2h1.05v1.05h-1.05zM395.9 93.6h1.05v1.05h-1.05zM392.4 92.5h1.05v1.05h-1.05zM396.7 91.6h1.05v1.05h-1.05zM394.5 94.3h1.05v1.05h-1.05zM398.6 91.3h1.05v1.05h-1.05zM381.9 86.9h1.05v1.05h-1.05zM391.3 95.3h1.05v1.05h-1.05zM397.0 97.5h1.05v1.05h-1.05zM396.7 92.9h1.05v1.05h-1.05zM391.7 95.6h1.05v1.05h-1.05zM385.1 92.6h1.05v1.05h-1.05zM392.9 89.6h1.05v1.05h-1.05zM399.9 93.7h1.05v1.05h-1.05zM396.4 90.3h1.05v1.05h-1.05zM384.5 86.8h1.05v1.05h-1.05zM377.4 86.7h1.05v1.05h-1.05zM395.7 96.2h1.05v1.05h-1.05zM386.6 95.7h1.05v1.05h-1.05zM405.9 95.2h1.05v1.05h-1.05zM404.7 91.3h1.05v1.05h-1.05zM390.6 92.4h1.05v1.05h-1.05zM400.1 93.1h1.05v1.05h-1.05zM395.1 94.3h1.05v1.05h-1.05zM388.3 94.2h1.05v1.05h-1.05zM381.1 96.5h1.05v1.05h-1.05zM403.0 99.7h1.05v1.05h-1.05zM388.2 89.5h1.05v1.05h-1.05zM387.3 86.4h1.05v1.05h-1.05zM378.9 94.3h1.05v1.05h-1.05zM392.5 91.0h1.05v1.05h-1.05zM382.3 92.0h1.05v1.05h-1.05zM407.1 92.1h1.05v1.05h-1.05zM399.4 87.4h1.05v1.05h-1.05zM401.0 91.4h1.05v1.05h-1.05zM394.8 92.8h1.05v1.05h-1.05zM392.4 93.9h1.05v1.05h-1.05zM393.3 90.0h1.05v1.05h-1.05zM387.0 87.5h1.05v1.05h-1.05zM399.6 95.3h1.05v1.05h-1.05zM393.4 90.9h1.05v1.05h-1.05zM390.3 92.2h1.05v1.05h-1.05zM403.2 92.5h1.05v1.05h-1.05zM390.6 95.3h1.05v1.05h-1.05zM399.0 85.3h1.05v1.05h-1.05zM391.1 96.0h1.05v1.05h-1.05zM396.7 91.4h1.05v1.05h-1.05zM396.9 87.5h1.05v1.05h-1.05zM386.6 91.2h1.05v1.05h-1.05zM395.0 97.3h1.05v1.05h-1.05zM393.5 92.7h1.05v1.05h-1.05zM404.3 89.6h1.05v1.05h-1.05zM392.5 91.8h1.05v1.05h-1.05zM396.0 92.2h1.05v1.05h-1.05zM398.8 87.5h1.05v1.05h-1.05zM385.6 91.3h1.05v1.05h-1.05zM383.6 97.2h1.05v1.05h-1.05zM389.0 89.6h1.05v1.05h-1.05zM398.0 92.7h1.05v1.05h-1.05zM397.7 91.4h1.05v1.05h-1.05zM385.4 90.9h1.05v1.05h-1.05zM389.6 85.6h1.05v1.05h-1.05zM391.9 94.8h1.05v1.05h-1.05zM387.8 88.8h1.05v1.05h-1.05zM388.8 94.0h1.05v1.05h-1.05zM380.4 93.0h1.05v1.05h-1.05zM394.4 91.0h1.05v1.05h-1.05zM387.6 90.4h1.05v1.05h-1.05zM406.2 92.1h1.05v1.05h-1.05zM391.0 94.2h1.05v1.05h-1.05zM385.4 95.2h1.05v1.05h-1.05zM392.9 100.2h1.05v1.05h-1.05zM408.1 93.4h1.05v1.05h-1.05zM396.5 89.9h1.05v1.05h-1.05zM397.4 93.9h1.05v1.05h-1.05zM384.7 86.0h1.05v1.05h-1.05zM397.1 89.3h1.05v1.05h-1.05zM394.6 91.7h1.05v1.05h-1.05zM394.6 90.4h1.05v1.05h-1.05zM397.5 96.3h1.05v1.05h-1.05zM404.1 90.0h1.05v1.05h-1.05zM394.2 91.5h1.05v1.05h-1.05zM383.6 85.8h1.05v1.05h-1.05zM392.6 92.8h1.05v1.05h-1.05zM398.4 88.8h1.05v1.05h-1.05zM397.5 90.7h1.05v1.05h-1.05zM390.4 94.6h1.05v1.05h-1.05zM382.2 83.0h1.05v1.05h-1.05zM405.8 91.0h1.05v1.05h-1.05zM398.3 90.8h1.05v1.05h-1.05zM388.7 87.1h1.05v1.05h-1.05zM381.4 91.8h1.05v1.05h-1.05zM386.4 90.7h1.05v1.05h-1.05zM395.0 90.9h1.05v1.05h-1.05zM393.8 96.3h1.05v1.05h-1.05zM395.1 91.9h1.05v1.05h-1.05zM392.1 96.1h1.05v1.05h-1.05zM401.6 89.0h1.05v1.05h-1.05zM395.7 90.6h1.05v1.05h-1.05zM390.3 87.9h1.05v1.05h-1.05zM404.9 93.0h1.05v1.05h-1.05zM379.4 94.8h1.05v1.05h-1.05zM404.8 91.6h1.05v1.05h-1.05zM392.9 91.7h1.05v1.05h-1.05zM399.3 89.2h1.05v1.05h-1.05zM395.9 85.8h1.05v1.05h-1.05zM400.9 87.2h1.05v1.05h-1.05zM390.8 92.5h1.05v1.05h-1.05zM399.8 88.6h1.05v1.05h-1.05zM388.8 96.4h1.05v1.05h-1.05zM389.0 88.2h1.05v1.05h-1.05zM389.8 93.5h1.05v1.05h-1.05zM397.7 94.6h1.05v1.05h-1.05zM395.9 89.6h1.05v1.05h-1.05zM396.1 93.7h1.05v1.05h-1.05zM385.7 88.9h1.05v1.05h-1.05zM393.0 96.8h1.05v1.05h-1.05zM391.2 91.3h1.05v1.05h-1.05zM393.5 92.4h1.05v1.05h-1.05zM397.4 87.5h1.05v1.05h-1.05zM374.7 93.8h1.05v1.05h-1.05zM379.5 92.2h1.05v1.05h-1.05zM395.9 93.6h1.05v1.05h-1.05zM386.4 92.3h1.05v1.05h-1.05zM397.6 93.6h1.05v1.05h-1.05zM401.4 87.6h1.05v1.05h-1.05zM389.8 90.1h1.05v1.05h-1.05zM392.9 94.7h1.05v1.05h-1.05zM398.7 91.5h1.05v1.05h-1.05zM404.7 93.3h1.05v1.05h-1.05zM385.7 95.7h1.05v1.05h-1.05zM384.8 86.7h1.05v1.05h-1.05zM390.5 89.5h1.05v1.05h-1.05zM392.5 91.1h1.05v1.05h-1.05zM388.0 88.5h1.05v1.05h-1.05zM397.6 92.1h1.05v1.05h-1.05zM391.7 88.2h1.05v1.05h-1.05zM393.3 87.6h1.05v1.05h-1.05zM384.7 94.6h1.05v1.05h-1.05zM397.7 89.9h1.05v1.05h-1.05zM403.6 90.7h1.05v1.05h-1.05zM397.5 92.9h1.05v1.05h-1.05zM394.0 91.6h1.05v1.05h-1.05zM403.3 94.4h1.05v1.05h-1.05zM381.2 93.3h1.05v1.05h-1.05zM379.0 87.6h1.05v1.05h-1.05zM396.3 87.4h1.05v1.05h-1.05zM401.5 89.9h1.05v1.05h-1.05zM397.3 92.3h1.05v1.05h-1.05zM398.7 95.9h1.05v1.05h-1.05zM383.9 91.1h1.05v1.05h-1.05zM394.8 94.9h1.05v1.05h-1.05zM397.1 90.3h1.05v1.05h-1.05zM384.6 85.6h1.05v1.05h-1.05zM387.5 91.9h1.05v1.05h-1.05zM394.5 96.3h1.05v1.05h-1.05zM395.4 94.0h1.05v1.05h-1.05zM384.4 92.1h1.05v1.05h-1.05zM390.2 89.1h1.05v1.05h-1.05zM401.6 91.2h1.05v1.05h-1.05zM392.9 91.2h1.05v1.05h-1.05zM384.6 85.5h1.05v1.05h-1.05zM405.8 91.4h1.05v1.05h-1.05zM393.4 92.0h1.05v1.05h-1.05zM390.5 90.2h1.05v1.05h-1.05zM387.8 92.4h1.05v1.05h-1.05zM392.4 94.8h1.05v1.05h-1.05zM403.6 87.4h1.05v1.05h-1.05zM397.8 89.8h1.05v1.05h-1.05zM407.5 91.9h1.05v1.05h-1.05zM399.8 89.5h1.05v1.05h-1.05zM401.6 88.6h1.05v1.05h-1.05zM385.3 82.6h1.05v1.05h-1.05zM393.0 89.8h1.05v1.05h-1.05zM394.5 87.9h1.05v1.05h-1.05zM393.1 91.0h1.05v1.05h-1.05zM386.2 97.9h1.05v1.05h-1.05zM407.8 92.2h1.05v1.05h-1.05zM396.9 93.5h1.05v1.05h-1.05zM398.1 88.4h1.05v1.05h-1.05zM395.3 97.6h1.05v1.05h-1.05zM392.4 90.4h1.05v1.05h-1.05zM387.5 89.8h1.05v1.05h-1.05zM379.3 91.1h1.05v1.05h-1.05zM400.6 92.4h1.05v1.05h-1.05zM394.7 91.5h1.05v1.05h-1.05zM394.0 87.6h1.05v1.05h-1.05zM381.3 97.8h1.05v1.05h-1.05zM397.0 83.6h1.05v1.05h-1.05zM404.2 89.9h1.05v1.05h-1.05zM400.0 90.9h1.05v1.05h-1.05zM389.4 94.3h1.05v1.05h-1.05zM391.4 82.6h1.05v1.05h-1.05zM397.3 91.0h1.05v1.05h-1.05zM393.2 90.2h1.05v1.05h-1.05zM396.4 96.7h1.05v1.05h-1.05zM400.2 92.4h1.05v1.05h-1.05zM394.3 88.7h1.05v1.05h-1.05zM405.3 84.5h1.05v1.05h-1.05zM387.1 90.8h1.05v1.05h-1.05zM394.5 92.3h1.05v1.05h-1.05zM391.0 98.1h1.05v1.05h-1.05zM401.8 84.7h1.05v1.05h-1.05zM387.4 86.5h1.05v1.05h-1.05zM403.0 89.8h1.05v1.05h-1.05zM383.4 90.3h1.05v1.05h-1.05zM385.1 91.5h1.05v1.05h-1.05zM398.2 87.3h1.05v1.05h-1.05zM395.2 92.5h1.05v1.05h-1.05zM389.0 93.1h1.05v1.05h-1.05zM389.4 93.7h1.05v1.05h-1.05zM392.8 89.8h1.05v1.05h-1.05zM403.1 94.9h1.05v1.05h-1.05zM391.8 80.2h1.05v1.05h-1.05zM395.5 89.6h1.05v1.05h-1.05zM396.3 91.4h1.05v1.05h-1.05zM391.7 90.1h1.05v1.05h-1.05zM402.8 96.6h1.05v1.05h-1.05zM402.2 87.2h1.05v1.05h-1.05zM391.0 91.9h1.05v1.05h-1.05zM380.6 94.9h1.05v1.05h-1.05zM386.1 94.7h1.05v1.05h-1.05zM389.6 92.6h1.05v1.05h-1.05zM381.8 82.1h1.05v1.05h-1.05zM388.1 86.1h1.05v1.05h-1.05zM384.2 89.2h1.05v1.05h-1.05zM394.7 93.8h1.05v1.05h-1.05zM386.6 85.5h1.05v1.05h-1.05zM391.9 86.9h1.05v1.05h-1.05zM384.4 89.0h1.05v1.05h-1.05zM399.8 91.6h1.05v1.05h-1.05zM378.5 97.6h1.05v1.05h-1.05zM383.5 91.2h1.05v1.05h-1.05zM387.0 94.1h1.05v1.05h-1.05zM395.1 94.9h1.05v1.05h-1.05zM393.9 90.1h1.05v1.05h-1.05zM400.5 83.8h1.05v1.05h-1.05zM383.9 85.5h1.05v1.05h-1.05zM391.2 88.9h1.05v1.05h-1.05zM386.7 93.2h1.05v1.05h-1.05zM395.9 89.0h1.05v1.05h-1.05zM383.0 98.4h1.05v1.05h-1.05zM394.7 88.7h1.05v1.05h-1.05zM393.6 92.0h1.05v1.05h-1.05zM388.4 93.5h1.05v1.05h-1.05zM393.6 89.2h1.05v1.05h-1.05zM400.3 89.4h1.05v1.05h-1.05zM401.5 91.5h1.05v1.05h-1.05zM391.3 95.2h1.05v1.05h-1.05zM390.6 93.0h1.05v1.05h-1.05zM402.0 89.7h1.05v1.05h-1.05zM389.1 93.8h1.05v1.05h-1.05zM399.7 83.2h1.05v1.05h-1.05zM396.5 95.1h1.05v1.05h-1.05zM389.5 94.7h1.05v1.05h-1.05zM391.1 88.8h1.05v1.05h-1.05zM391.1 93.7h1.05v1.05h-1.05zM390.8 89.2h1.05v1.05h-1.05zM393.4 94.0h1.05v1.05h-1.05zM379.7 95.0h1.05v1.05h-1.05zM402.6 87.3h1.05v1.05h-1.05zM392.7 92.7h1.05v1.05h-1.05zM393.8 97.8h1.05v1.05h-1.05zM394.1 89.1h1.05v1.05h-1.05zM390.5 92.3h1.05v1.05h-1.05zM388.2 88.9h1.05v1.05h-1.05zM389.6 97.1h1.05v1.05h-1.05zM397.4 86.9h1.05v1.05h-1.05zM396.5 81.6h1.05v1.05h-1.05zM393.2 93.3h1.05v1.05h-1.05zM395.6 93.1h1.05v1.05h-1.05zM394.8 88.8h1.05v1.05h-1.05zM392.0 90.3h1.05v1.05h-1.05zM383.7 91.5h1.05v1.05h-1.05zM387.0 93.6h1.05v1.05h-1.05zM408.6 98.9h1.05v1.05h-1.05zM411.1 89.9h1.05v1.05h-1.05zM390.8 93.7h1.05v1.05h-1.05zM387.8 93.7h1.05v1.05h-1.05zM390.1 92.6h1.05v1.05h-1.05zM391.2 97.1h1.05v1.05h-1.05zM401.5 94.3h1.05v1.05h-1.05zM404.9 95.9h1.05v1.05h-1.05zM404.6 89.7h1.05v1.05h-1.05zM388.8 87.0h1.05v1.05h-1.05zM385.7 93.4h1.05v1.05h-1.05zM414.1 86.5h1.05v1.05h-1.05zM398.5 94.4h1.05v1.05h-1.05zM379.1 93.2h1.05v1.05h-1.05zM376.4 100.2h1.05v1.05h-1.05zM403.3 89.7h1.05v1.05h-1.05zM391.8 90.9h1.05v1.05h-1.05zM389.2 97.9h1.05v1.05h-1.05zM385.0 91.7h1.05v1.05h-1.05zM384.3 100.0h1.05v1.05h-1.05zM396.4 99.5h1.05v1.05h-1.05zM400.1 95.5h1.05v1.05h-1.05zM402.7 93.2h1.05v1.05h-1.05zM400.7 98.2h1.05v1.05h-1.05zM389.7 81.3h1.05v1.05h-1.05zM400.4 94.3h1.05v1.05h-1.05zM390.4 86.4h1.05v1.05h-1.05zM409.9 94.1h1.05v1.05h-1.05zM395.5 88.2h1.05v1.05h-1.05zM387.6 94.4h1.05v1.05h-1.05zM382.6 99.9h1.05v1.05h-1.05zM390.2 100.2h1.05v1.05h-1.05zM395.5 88.8h1.05v1.05h-1.05zM412.5 92.9h1.05v1.05h-1.05zM389.6 98.3h1.05v1.05h-1.05zM397.8 93.3h1.05v1.05h-1.05zM376.3 83.6h1.05v1.05h-1.05zM402.4 90.2h1.05v1.05h-1.05zM398.6 88.2h1.05v1.05h-1.05zM396.6 83.3h1.05v1.05h-1.05zM392.0 101.0h1.05v1.05h-1.05zM396.1 91.0h1.05v1.05h-1.05zM393.1 93.0h1.05v1.05h-1.05zM411.1 93.9h1.05v1.05h-1.05zM398.1 90.3h1.05v1.05h-1.05zM399.1 95.6h1.05v1.05h-1.05zM387.6 83.8h1.05v1.05h-1.05zM391.9 99.4h1.05v1.05h-1.05zM388.6 90.9h1.05v1.05h-1.05zM404.5 92.3h1.05v1.05h-1.05zM376.7 102.1h1.05v1.05h-1.05zM394.7 90.1h1.05v1.05h-1.05zM391.6 95.8h1.05v1.05h-1.05zM389.3 102.8h1.05v1.05h-1.05zM398.0 96.4h1.05v1.05h-1.05zM396.7 89.9h1.05v1.05h-1.05zM395.7 102.8h1.05v1.05h-1.05zM389.7 92.2h1.05v1.05h-1.05zM397.3 88.9h1.05v1.05h-1.05zM401.9 86.2h1.05v1.05h-1.05zM397.6 87.5h1.05v1.05h-1.05zM391.2 91.3h1.05v1.05h-1.05zM403.1 95.3h1.05v1.05h-1.05zM387.4 98.0h1.05v1.05h-1.05zM393.7 84.1h1.05v1.05h-1.05zM378.3 93.8h1.05v1.05h-1.05zM395.5 84.3h1.05v1.05h-1.05zM394.5 91.2h1.05v1.05h-1.05zM398.2 89.0h1.05v1.05h-1.05zM394.4 92.1h1.05v1.05h-1.05zM398.8 98.6h1.05v1.05h-1.05zM412.0 84.6h1.05v1.05h-1.05zM395.9 87.8h1.05v1.05h-1.05zM383.3 83.0h1.05v1.05h-1.05zM388.2 92.7h1.05v1.05h-1.05zM390.8 93.6h1.05v1.05h-1.05zM394.7 94.9h1.05v1.05h-1.05zM393.3 94.0h1.05v1.05h-1.05zM394.4 89.7h1.05v1.05h-1.05zM380.8 84.1h1.05v1.05h-1.05zM396.4 86.6h1.05v1.05h-1.05zM398.8 89.3h1.05v1.05h-1.05zM385.3 90.5h1.05v1.05h-1.05zM393.4 101.2h1.05v1.05h-1.05zM388.3 89.0h1.05v1.05h-1.05zM395.3 97.2h1.05v1.05h-1.05zM391.2 89.0h1.05v1.05h-1.05zM396.9 93.6h1.05v1.05h-1.05zM396.4 84.7h1.05v1.05h-1.05zM398.3 92.6h1.05v1.05h-1.05zM402.2 90.9h1.05v1.05h-1.05zM396.5 90.9h1.05v1.05h-1.05zM411.6 84.2h1.05v1.05h-1.05zM384.1 87.9h1.05v1.05h-1.05zM407.0 96.1h1.05v1.05h-1.05zM402.1 91.5h1.05v1.05h-1.05zM387.1 91.3h1.05v1.05h-1.05zM381.2 82.9h1.05v1.05h-1.05zM402.5 92.1h1.05v1.05h-1.05zM405.0 84.8h1.05v1.05h-1.05zM393.6 84.1h1.05v1.05h-1.05zM406.7 92.8h1.05v1.05h-1.05zM383.7 86.9h1.05v1.05h-1.05zM404.1 86.4h1.05v1.05h-1.05zM390.8 92.3h1.05v1.05h-1.05zM383.8 100.4h1.05v1.05h-1.05zM409.1 89.3h1.05v1.05h-1.05zM394.6 96.3h1.05v1.05h-1.05zM398.4 96.3h1.05v1.05h-1.05zM382.9 92.6h1.05v1.05h-1.05zM380.6 91.8h1.05v1.05h-1.05zM397.6 97.0h1.05v1.05h-1.05zM374.6 93.8h1.05v1.05h-1.05zM380.8 95.1h1.05v1.05h-1.05zM396.8 93.6h1.05v1.05h-1.05zM401.8 94.0h1.05v1.05h-1.05zM386.5 90.8h1.05v1.05h-1.05zM396.5 83.7h1.05v1.05h-1.05zM391.2 94.6h1.05v1.05h-1.05zM384.0 99.2h1.05v1.05h-1.05zM403.1 95.5h1.05v1.05h-1.05zM392.5 90.8h1.05v1.05h-1.05zM398.6 95.1h1.05v1.05h-1.05zM401.8 88.9h1.05v1.05h-1.05zM398.8 98.6h1.05v1.05h-1.05zM385.0 93.3h1.05v1.05h-1.05zM393.6 91.6h1.05v1.05h-1.05zM401.8 91.6h1.05v1.05h-1.05zM399.6 94.8h1.05v1.05h-1.05zM399.9 91.3h1.05v1.05h-1.05zM387.6 96.0h1.05v1.05h-1.05zM393.7 97.0h1.05v1.05h-1.05zM389.1 89.6h1.05v1.05h-1.05zM399.4 93.3h1.05v1.05h-1.05zM392.2 96.2h1.05v1.05h-1.05zM391.8 93.6h1.05v1.05h-1.05zM397.9 86.9h1.05v1.05h-1.05zM401.8 92.6h1.05v1.05h-1.05zM391.1 92.4h1.05v1.05h-1.05zM388.1 83.1h1.05v1.05h-1.05zM394.0 90.4h1.05v1.05h-1.05zM407.6 100.5h1.05v1.05h-1.05zM389.4 94.5h1.05v1.05h-1.05zM403.1 94.8h1.05v1.05h-1.05zM392.5 91.1h1.05v1.05h-1.05zM385.1 97.4h1.05v1.05h-1.05zM399.0 93.7h1.05v1.05h-1.05zM393.8 101.9h1.05v1.05h-1.05zM397.7 99.9h1.05v1.05h-1.05zM383.5 88.4h1.05v1.05h-1.05zM386.9 96.7h1.05v1.05h-1.05zM390.8 99.8h1.05v1.05h-1.05zM394.9 98.1h1.05v1.05h-1.05zM391.1 97.6h1.05v1.05h-1.05zM391.4 92.7h1.05v1.05h-1.05zM385.6 83.7h1.05v1.05h-1.05zM384.2 94.5h1.05v1.05h-1.05zM396.4 84.7h1.05v1.05h-1.05zM384.0 85.8h1.05v1.05h-1.05zM398.8 88.4h1.05v1.05h-1.05zM385.3 95.4h1.05v1.05h-1.05zM388.9 95.6h1.05v1.05h-1.05zM400.4 90.0h1.05v1.05h-1.05zM379.5 91.5h1.05v1.05h-1.05zM412.3 87.3h1.05v1.05h-1.05zM405.3 89.6h1.05v1.05h-1.05zM385.7 100.5h1.05v1.05h-1.05zM390.2 81.8h1.05v1.05h-1.05zM382.4 88.5h1.05v1.05h-1.05zM388.9 99.4h1.05v1.05h-1.05zM401.9 92.9h1.05v1.05h-1.05zM397.6 90.4h1.05v1.05h-1.05zM379.6 93.0h1.05v1.05h-1.05zM391.9 97.7h1.05v1.05h-1.05zM396.6 98.9h1.05v1.05h-1.05zM390.4 91.0h1.05v1.05h-1.05zM390.0 88.5h1.05v1.05h-1.05zM403.0 93.7h1.05v1.05h-1.05zM383.6 89.7h1.05v1.05h-1.05zM409.9 105.0h1.05v1.05h-1.05zM405.7 93.6h1.05v1.05h-1.05zM407.5 92.6h1.05v1.05h-1.05zM383.9 93.3h1.05v1.05h-1.05zM384.6 91.8h1.05v1.05h-1.05zM413.2 95.7h1.05v1.05h-1.05zM395.7 97.1h1.05v1.05h-1.05zM390.1 94.3h1.05v1.05h-1.05zM385.4 85.8h1.05v1.05h-1.05zM389.7 86.6h1.05v1.05h-1.05zM374.6 90.1h1.05v1.05h-1.05zM384.7 88.0h1.05v1.05h-1.05zM406.0 96.0h1.05v1.05h-1.05zM402.0 91.7h1.05v1.05h-1.05zM384.7 88.0h1.05v1.05h-1.05zM389.2 93.8h1.05v1.05h-1.05zM380.7 98.2h1.05v1.05h-1.05zM386.5 92.7h1.05v1.05h-1.05zM407.0 97.3h1.05v1.05h-1.05zM391.8 92.2h1.05v1.05h-1.05zM406.3 102.8h1.05v1.05h-1.05zM398.3 83.2h1.05v1.05h-1.05zM389.8 98.5h1.05v1.05h-1.05zM387.6 91.4h1.05v1.05h-1.05zM385.6 90.8h1.05v1.05h-1.05zM402.5 96.6h1.05v1.05h-1.05zM384.8 99.7h1.05v1.05h-1.05zM381.8 98.1h1.05v1.05h-1.05zM401.9 86.3h1.05v1.05h-1.05zM378.3 98.5h1.05v1.05h-1.05zM400.0 94.4h1.05v1.05h-1.05zM387.7 95.3h1.05v1.05h-1.05zM381.5 97.3h1.05v1.05h-1.05zM414.2 92.2h1.05v1.05h-1.05zM403.3 88.7h1.05v1.05h-1.05zM397.1 92.2h1.05v1.05h-1.05zM398.2 91.6h1.05v1.05h-1.05zM379.6 98.8h1.05v1.05h-1.05zM384.3 99.0h1.05v1.05h-1.05zM383.8 97.3h1.05v1.05h-1.05zM397.5 90.4h1.05v1.05h-1.05zM402.6 94.5h1.05v1.05h-1.05zM408.0 96.7h1.05v1.05h-1.05zM404.8 82.3h1.05v1.05h-1.05zM406.1 91.9h1.05v1.05h-1.05zM392.2 86.2h1.05v1.05h-1.05zM387.9 91.5h1.05v1.05h-1.05zM394.8 93.4h1.05v1.05h-1.05zM390.8 93.9h1.05v1.05h-1.05zM401.5 90.4h1.05v1.05h-1.05zM388.4 98.7h1.05v1.05h-1.05zM397.8 88.0h1.05v1.05h-1.05zM399.9 95.3h1.05v1.05h-1.05zM413.0 97.8h1.05v1.05h-1.05zM401.1 92.7h1.05v1.05h-1.05zM386.0 92.6h1.05v1.05h-1.05zM391.9 91.5h1.05v1.05h-1.05zM404.0 87.6h1.05v1.05h-1.05zM409.0 87.8h1.05v1.05h-1.05zM381.9 98.0h1.05v1.05h-1.05zM392.0 89.3h1.05v1.05h-1.05zM397.6 90.4h1.05v1.05h-1.05zM395.1 91.0h1.05v1.05h-1.05zM395.3 88.6h1.05v1.05h-1.05zM399.9 90.7h1.05v1.05h-1.05zM394.7 81.4h1.05v1.05h-1.05zM397.9 89.7h1.05v1.05h-1.05zM391.8 90.9h1.05v1.05h-1.05zM388.5 87.4h1.05v1.05h-1.05zM401.4 90.0h1.05v1.05h-1.05zM391.5 90.7h1.05v1.05h-1.05zM386.9 98.2h1.05v1.05h-1.05zM387.2 94.2h1.05v1.05h-1.05zM386.1 84.7h1.05v1.05h-1.05zM380.1 94.9h1.05v1.05h-1.05zM375.8 83.2h1.05v1.05h-1.05zM387.2 95.2h1.05v1.05h-1.05zM386.3 97.8h1.05v1.05h-1.05zM391.1 90.9h1.05v1.05h-1.05zM405.8 94.8h1.05v1.05h-1.05zM388.9 89.2h1.05v1.05h-1.05zM399.6 99.4h1.05v1.05h-1.05zM390.2 91.3h1.05v1.05h-1.05zM401.9 88.5h1.05v1.05h-1.05zM396.4 93.6h1.05v1.05h-1.05zM391.4 87.4h1.05v1.05h-1.05zM382.0 93.5h1.05v1.05h-1.05zM387.9 89.9h1.05v1.05h-1.05zM405.0 95.8h1.05v1.05h-1.05zM384.4 96.6h1.05v1.05h-1.05zM389.5 85.3h1.05v1.05h-1.05zM393.8 92.2h1.05v1.05h-1.05zM401.0 97.6h1.05v1.05h-1.05zM402.1 88.6h1.05v1.05h-1.05zM392.2 82.9h1.05v1.05h-1.05zM395.4 91.1h1.05v1.05h-1.05zM374.2 95.5h1.05v1.05h-1.05zM396.6 83.9h1.05v1.05h-1.05zM394.6 91.5h1.05v1.05h-1.05zM404.7 104.4h1.05v1.05h-1.05zM393.4 91.0h1.05v1.05h-1.05zM388.7 103.0h1.05v1.05h-1.05zM392.9 95.8h1.05v1.05h-1.05zM400.4 97.6h1.05v1.05h-1.05zM396.5 102.2h1.05v1.05h-1.05zM397.8 93.3h1.05v1.05h-1.05zM383.6 90.5h1.05v1.05h-1.05zM392.5 97.9h1.05v1.05h-1.05zM388.1 93.6h1.05v1.05h-1.05zM395.2 101.4h1.05v1.05h-1.05zM380.4 98.4h1.05v1.05h-1.05zM382.3 90.1h1.05v1.05h-1.05zM392.0 97.3h1.05v1.05h-1.05zM392.9 92.7h1.05v1.05h-1.05zM401.1 97.7h1.05v1.05h-1.05zM392.0 95.2h1.05v1.05h-1.05zM405.3 95.2h1.05v1.05h-1.05zM384.6 93.0h1.05v1.05h-1.05zM380.0 104.3h1.05v1.05h-1.05zM395.1 83.8h1.05v1.05h-1.05zM389.4 94.9h1.05v1.05h-1.05zM399.5 91.8h1.05v1.05h-1.05zM389.7 87.5h1.05v1.05h-1.05zM401.1 99.3h1.05v1.05h-1.05zM396.2 93.6h1.05v1.05h-1.05zM394.6 89.6h1.05v1.05h-1.05zM390.0 95.5h1.05v1.05h-1.05zM395.5 94.8h1.05v1.05h-1.05zM386.7 96.7h1.05v1.05h-1.05zM384.2 99.2h1.05v1.05h-1.05zM391.6 94.1h1.05v1.05h-1.05zM387.1 92.0h1.05v1.05h-1.05zM386.5 93.3h1.05v1.05h-1.05zM377.4 98.6h1.05v1.05h-1.05zM394.9 96.2h1.05v1.05h-1.05zM392.1 95.2h1.05v1.05h-1.05zM387.0 87.7h1.05v1.05h-1.05zM389.5 84.5h1.05v1.05h-1.05zM400.1 90.6h1.05v1.05h-1.05zM391.2 87.9h1.05v1.05h-1.05zM397.8 98.2h1.05v1.05h-1.05zM390.2 98.3h1.05v1.05h-1.05zM396.1 93.7h1.05v1.05h-1.05zM378.4 87.7h1.05v1.05h-1.05zM403.8 98.3h1.05v1.05h-1.05zM412.7 89.3h1.05v1.05h-1.05zM400.5 84.6h1.05v1.05h-1.05zM386.1 86.9h1.05v1.05h-1.05zM394.1 84.9h1.05v1.05h-1.05zM400.9 93.9h1.05v1.05h-1.05zM400.2 102.5h1.05v1.05h-1.05zM376.3 82.0h1.05v1.05h-1.05zM405.0 96.8h1.05v1.05h-1.05zM399.7 89.3h1.05v1.05h-1.05zM410.8 100.3h1.05v1.05h-1.05zM401.8 105.4h1.05v1.05h-1.05zM393.2 106.7h1.05v1.05h-1.05zM375.2 99.2h1.05v1.05h-1.05zM380.5 90.7h1.05v1.05h-1.05zM409.5 83.6h1.05v1.05h-1.05zM375.9 85.2h1.05v1.05h-1.05zM383.6 88.1h1.05v1.05h-1.05zM411.3 100.4h1.05v1.05h-1.05zM388.4 97.7h1.05v1.05h-1.05zM404.5 94.8h1.05v1.05h-1.05zM395.1 82.0h1.05v1.05h-1.05zM405.0 100.8h1.05v1.05h-1.05zM386.1 100.5h1.05v1.05h-1.05zM412.3 86.0h1.05v1.05h-1.05zM386.4 89.9h1.05v1.05h-1.05zM400.6 96.1h1.05v1.05h-1.05zM391.6 99.8h1.05v1.05h-1.05zM393.4 90.0h1.05v1.05h-1.05zM388.2 107.3h1.05v1.05h-1.05zM400.5 86.2h1.05v1.05h-1.05zM402.3 106.0h1.05v1.05h-1.05zM395.6 98.3h1.05v1.05h-1.05zM386.0 82.7h1.05v1.05h-1.05zM412.1 104.1h1.05v1.05h-1.05zM383.3 99.0h1.05v1.05h-1.05zM405.2 102.3h1.05v1.05h-1.05zM385.5 84.1h1.05v1.05h-1.05zM408.0 82.8h1.05v1.05h-1.05zM379.1 98.0h1.05v1.05h-1.05zM406.4 91.6h1.05v1.05h-1.05zM393.9 91.1h1.05v1.05h-1.05zM407.4 99.8h1.05v1.05h-1.05zM382.9 89.7h1.05v1.05h-1.05zM381.1 147.2h1.05v1.05h-1.05zM385.0 152.5h1.05v1.05h-1.05zM386.3 155.1h1.05v1.05h-1.05zM387.6 151.2h1.05v1.05h-1.05zM388.9 148.6h1.05v1.05h-1.05zM390.2 153.8h1.05v1.05h-1.05zM391.5 149.9h1.05v1.05h-1.05zM392.8 155.1h1.05v1.05h-1.05zM394.2 156.4h1.05v1.05h-1.05zM394.2 147.2h1.05v1.05h-1.05zM395.5 153.8h1.05v1.05h-1.05zM396.8 151.2h1.05v1.05h-1.05zM395.5 164.3h1.05v1.05h-1.05zM398.1 148.6h1.05v1.05h-1.05zM399.4 156.4h1.05v1.05h-1.05zM399.4 160.3h1.05v1.05h-1.05zM400.7 142.0h1.05v1.05h-1.05zM402.0 153.8h1.05v1.05h-1.05zM403.3 159.0h1.05v1.05h-1.05zM404.6 156.4h1.05v1.05h-1.05zM407.2 156.4h1.05v1.05h-1.05zM407.2 164.3h1.05v1.05h-1.05zM408.6 169.5h1.05v1.05h-1.05zM409.9 159.0h1.05v1.05h-1.05zM412.0 148.6h1.05v1.05h-1.05zM390.2 138.1h1.05v1.05h-1.05zM392.8 137.3h1.05v1.05h-1.05zM402.0 130.2h1.05v1.05h-1.05zM404.6 121.1h1.05v1.05h-1.05zM405.9 119.8h1.05v1.05h-1.05zM407.2 115.8h1.05v1.05h-1.05zM394.2 114.5h1.05v1.05h-1.05zM399.4 114.5h1.05v1.05h-1.05zM404.6 114.5h1.05v1.05h-1.05zM409.9 113.2h1.05v1.05h-1.05zM407.2 109.3h1.05v1.05h-1.05zM392.8 109.3h1.05v1.05h-1.05zM417.7 155.1h1.05v1.05h-1.05zM421.6 151.2h1.05v1.05h-1.05zM422.9 156.4h1.05v1.05h-1.05zM425.6 168.2h1.05v1.05h-1.05zM428.2 164.3h1.05v1.05h-1.05zM429.5 148.6h1.05v1.05h-1.05zM429.5 153.8h1.05v1.05h-1.05zM433.4 165.6h1.05v1.05h-1.05zM442.6 149.9h1.05v1.05h-1.05zM445.2 157.7h1.05v1.05h-1.05zM457.0 161.6h1.05v1.05h-1.05zM462.7 151.2h1.05v1.05h-1.05zM426.9 114.5h1.05v1.05h-1.05zM383.7 153.0h1.05v1.05h-1.05zM386.8 149.9h1.05v1.05h-1.05zM391.0 157.7h1.05v1.05h-1.05zM397.3 154.6h1.05v1.05h-1.05zM393.6 152.0h1.05v1.05h-1.05zM401.5 149.9h1.05v1.05h-1.05zM388.4 157.2h1.05v1.05h-1.05zM396.2 159.0h1.05v1.05h-1.05zM424.5 84.1h1.05v1.05h-1.05zM422.3 91.7h1.05v1.05h-1.05zM439.3 102.8h1.05v1.05h-1.05zM436.3 99.3h1.05v1.05h-1.05zM419.9 85.6h1.05v1.05h-1.05zM442.2 91.7h1.05v1.05h-1.05zM427.8 89.9h1.05v1.05h-1.05zM422.8 104.7h1.05v1.05h-1.05zM428.2 83.3h1.05v1.05h-1.05zM424.4 93.3h1.05v1.05h-1.05zM147.3 288.2h1.05v1.05h-1.05zM145.7 288.9h1.05v1.05h-1.05zM164.7 289.9h1.05v1.05h-1.05zM170.7 288.7h1.05v1.05h-1.05zM170.4 285.8h1.05v1.05h-1.05zM151.6 289.0h1.05v1.05h-1.05zM133.0 301.1h1.05v1.05h-1.05zM149.8 285.9h1.05v1.05h-1.05zM126.0 293.5h1.05v1.05h-1.05zM157.2 291.3h1.05v1.05h-1.05zM138.3 288.2h1.05v1.05h-1.05zM129.4 287.7h1.05v1.05h-1.05zM141.6 293.7h1.05v1.05h-1.05zM157.9 284.9h1.05v1.05h-1.05zM118.4 299.5h1.05v1.05h-1.05zM147.9 286.4h1.05v1.05h-1.05zM149.6 286.1h1.05v1.05h-1.05zM139.3 277.7h1.05v1.05h-1.05zM139.8 298.0h1.05v1.05h-1.05zM156.8 288.6h1.05v1.05h-1.05zM146.5 293.3h1.05v1.05h-1.05zM160.1 285.8h1.05v1.05h-1.05zM141.7 290.8h1.05v1.05h-1.05zM157.7 288.2h1.05v1.05h-1.05zM152.1 293.9h1.05v1.05h-1.05zM146.2 292.6h1.05v1.05h-1.05zM162.6 284.0h1.05v1.05h-1.05zM148.5 291.7h1.05v1.05h-1.05zM176.0 280.6h1.05v1.05h-1.05zM135.3 282.8h1.05v1.05h-1.05zM131.7 291.6h1.05v1.05h-1.05zM132.0 289.4h1.05v1.05h-1.05zM145.9 289.0h1.05v1.05h-1.05zM157.7 291.9h1.05v1.05h-1.05zM134.6 288.0h1.05v1.05h-1.05zM150.2 287.3h1.05v1.05h-1.05zM152.7 290.1h1.05v1.05h-1.05zM139.0 288.6h1.05v1.05h-1.05zM130.9 291.7h1.05v1.05h-1.05zM138.3 286.7h1.05v1.05h-1.05zM142.2 301.1h1.05v1.05h-1.05zM162.4 287.1h1.05v1.05h-1.05zM132.2 293.8h1.05v1.05h-1.05zM132.5 296.1h1.05v1.05h-1.05zM137.0 295.8h1.05v1.05h-1.05zM175.4 288.8h1.05v1.05h-1.05zM156.3 294.3h1.05v1.05h-1.05zM180.5 302.8h1.05v1.05h-1.05zM135.8 297.2h1.05v1.05h-1.05zM162.6 292.3h1.05v1.05h-1.05zM155.3 285.5h1.05v1.05h-1.05zM135.9 290.4h1.05v1.05h-1.05zM129.7 292.8h1.05v1.05h-1.05zM151.0 298.7h1.05v1.05h-1.05zM133.4 297.9h1.05v1.05h-1.05zM154.2 292.7h1.05v1.05h-1.05zM149.0 291.4h1.05v1.05h-1.05zM139.7 286.6h1.05v1.05h-1.05zM167.1 280.0h1.05v1.05h-1.05zM163.3 293.3h1.05v1.05h-1.05zM153.1 296.7h1.05v1.05h-1.05zM150.2 292.8h1.05v1.05h-1.05zM159.3 291.0h1.05v1.05h-1.05zM163.7 296.0h1.05v1.05h-1.05zM148.5 293.7h1.05v1.05h-1.05zM137.2 292.9h1.05v1.05h-1.05zM151.7 284.3h1.05v1.05h-1.05zM149.7 294.1h1.05v1.05h-1.05zM136.2 284.9h1.05v1.05h-1.05zM148.9 288.4h1.05v1.05h-1.05zM135.8 291.6h1.05v1.05h-1.05zM136.0 291.9h1.05v1.05h-1.05zM164.1 292.9h1.05v1.05h-1.05zM151.8 286.2h1.05v1.05h-1.05zM167.4 290.0h1.05v1.05h-1.05zM173.3 288.6h1.05v1.05h-1.05zM149.9 284.9h1.05v1.05h-1.05zM153.7 284.4h1.05v1.05h-1.05zM149.9 299.6h1.05v1.05h-1.05zM159.1 284.7h1.05v1.05h-1.05zM161.7 285.2h1.05v1.05h-1.05zM144.4 288.3h1.05v1.05h-1.05zM143.2 290.8h1.05v1.05h-1.05zM114.9 296.1h1.05v1.05h-1.05zM146.6 285.7h1.05v1.05h-1.05zM152.3 298.1h1.05v1.05h-1.05zM133.6 294.1h1.05v1.05h-1.05zM146.8 291.3h1.05v1.05h-1.05zM140.3 291.1h1.05v1.05h-1.05zM156.5 283.1h1.05v1.05h-1.05zM136.9 288.1h1.05v1.05h-1.05zM139.5 282.2h1.05v1.05h-1.05zM139.2 284.8h1.05v1.05h-1.05zM152.4 290.5h1.05v1.05h-1.05zM149.4 292.4h1.05v1.05h-1.05zM140.3 285.5h1.05v1.05h-1.05zM156.9 288.4h1.05v1.05h-1.05zM138.4 298.6h1.05v1.05h-1.05zM126.6 294.7h1.05v1.05h-1.05zM166.1 288.9h1.05v1.05h-1.05zM138.8 292.4h1.05v1.05h-1.05zM135.9 280.7h1.05v1.05h-1.05zM162.7 298.6h1.05v1.05h-1.05zM128.7 294.1h1.05v1.05h-1.05zM150.1 290.5h1.05v1.05h-1.05zM157.6 288.5h1.05v1.05h-1.05zM143.3 291.4h1.05v1.05h-1.05zM152.0 278.6h1.05v1.05h-1.05zM164.4 293.7h1.05v1.05h-1.05zM163.0 290.0h1.05v1.05h-1.05zM133.3 293.5h1.05v1.05h-1.05zM155.3 295.7h1.05v1.05h-1.05zM157.6 286.5h1.05v1.05h-1.05zM132.3 289.7h1.05v1.05h-1.05zM153.3 290.3h1.05v1.05h-1.05zM140.3 291.5h1.05v1.05h-1.05zM121.9 290.2h1.05v1.05h-1.05zM116.8 299.2h1.05v1.05h-1.05zM122.2 299.8h1.05v1.05h-1.05zM160.3 296.1h1.05v1.05h-1.05zM159.5 288.9h1.05v1.05h-1.05zM149.0 298.8h1.05v1.05h-1.05zM132.9 289.7h1.05v1.05h-1.05zM161.3 287.5h1.05v1.05h-1.05zM172.3 284.9h1.05v1.05h-1.05zM137.5 291.2h1.05v1.05h-1.05zM137.3 289.5h1.05v1.05h-1.05zM147.8 289.9h1.05v1.05h-1.05zM152.6 292.7h1.05v1.05h-1.05zM152.6 291.9h1.05v1.05h-1.05zM149.0 292.6h1.05v1.05h-1.05zM153.5 294.9h1.05v1.05h-1.05zM171.4 287.8h1.05v1.05h-1.05zM173.6 295.4h1.05v1.05h-1.05zM162.7 288.5h1.05v1.05h-1.05zM152.6 292.8h1.05v1.05h-1.05zM145.1 294.7h1.05v1.05h-1.05zM132.4 286.8h1.05v1.05h-1.05zM160.3 293.1h1.05v1.05h-1.05zM125.7 293.1h1.05v1.05h-1.05zM150.2 295.1h1.05v1.05h-1.05zM147.0 290.7h1.05v1.05h-1.05zM133.4 290.0h1.05v1.05h-1.05zM141.4 293.1h1.05v1.05h-1.05zM118.5 290.3h1.05v1.05h-1.05zM162.1 276.6h1.05v1.05h-1.05zM156.0 292.5h1.05v1.05h-1.05zM148.3 292.0h1.05v1.05h-1.05zM136.6 294.5h1.05v1.05h-1.05zM150.0 281.2h1.05v1.05h-1.05zM155.4 284.4h1.05v1.05h-1.05zM132.0 292.0h1.05v1.05h-1.05zM140.0 290.9h1.05v1.05h-1.05zM149.4 289.4h1.05v1.05h-1.05zM151.4 282.3h1.05v1.05h-1.05zM169.4 294.4h1.05v1.05h-1.05zM136.7 289.0h1.05v1.05h-1.05zM166.3 285.6h1.05v1.05h-1.05zM122.8 300.5h1.05v1.05h-1.05zM164.7 292.1h1.05v1.05h-1.05zM169.8 292.6h1.05v1.05h-1.05zM156.4 293.3h1.05v1.05h-1.05zM157.1 285.5h1.05v1.05h-1.05zM147.5 292.1h1.05v1.05h-1.05zM131.9 284.0h1.05v1.05h-1.05zM145.7 298.3h1.05v1.05h-1.05zM145.0 295.7h1.05v1.05h-1.05zM164.3 297.1h1.05v1.05h-1.05zM155.8 281.8h1.05v1.05h-1.05zM116.9 284.9h1.05v1.05h-1.05zM142.8 289.8h1.05v1.05h-1.05zM140.1 288.7h1.05v1.05h-1.05zM155.3 284.4h1.05v1.05h-1.05zM155.2 293.2h1.05v1.05h-1.05zM122.2 291.2h1.05v1.05h-1.05zM146.4 293.0h1.05v1.05h-1.05zM153.3 279.4h1.05v1.05h-1.05zM173.5 291.0h1.05v1.05h-1.05zM160.4 294.9h1.05v1.05h-1.05zM132.9 290.1h1.05v1.05h-1.05zM144.0 301.4h1.05v1.05h-1.05zM128.0 298.2h1.05v1.05h-1.05zM159.4 290.0h1.05v1.05h-1.05zM132.3 289.5h1.05v1.05h-1.05zM156.4 285.7h1.05v1.05h-1.05zM150.0 293.6h1.05v1.05h-1.05zM156.7 288.7h1.05v1.05h-1.05zM156.0 294.2h1.05v1.05h-1.05zM118.6 284.5h1.05v1.05h-1.05zM126.9 286.7h1.05v1.05h-1.05zM157.5 292.9h1.05v1.05h-1.05zM152.2 287.7h1.05v1.05h-1.05zM161.0 282.4h1.05v1.05h-1.05zM126.9 293.9h1.05v1.05h-1.05zM142.8 295.7h1.05v1.05h-1.05zM158.8 295.2h1.05v1.05h-1.05zM135.5 287.6h1.05v1.05h-1.05zM123.2 290.4h1.05v1.05h-1.05zM146.4 287.5h1.05v1.05h-1.05zM142.8 291.3h1.05v1.05h-1.05zM159.4 287.4h1.05v1.05h-1.05zM137.9 289.8h1.05v1.05h-1.05zM154.5 299.7h1.05v1.05h-1.05zM160.0 278.2h1.05v1.05h-1.05zM122.5 286.3h1.05v1.05h-1.05zM110.3 293.8h1.05v1.05h-1.05zM133.6 283.6h1.05v1.05h-1.05zM143.5 291.7h1.05v1.05h-1.05zM140.9 290.0h1.05v1.05h-1.05zM159.1 284.8h1.05v1.05h-1.05zM145.8 280.6h1.05v1.05h-1.05zM128.6 295.2h1.05v1.05h-1.05zM135.3 285.0h1.05v1.05h-1.05zM157.3 287.7h1.05v1.05h-1.05zM158.9 299.8h1.05v1.05h-1.05zM177.2 289.0h1.05v1.05h-1.05zM150.7 287.2h1.05v1.05h-1.05zM170.3 292.9h1.05v1.05h-1.05zM135.9 286.9h1.05v1.05h-1.05zM152.6 295.0h1.05v1.05h-1.05zM134.6 289.4h1.05v1.05h-1.05zM154.2 289.7h1.05v1.05h-1.05zM155.2 297.9h1.05v1.05h-1.05zM137.0 291.6h1.05v1.05h-1.05zM162.2 290.5h1.05v1.05h-1.05zM167.9 288.5h1.05v1.05h-1.05zM161.8 291.4h1.05v1.05h-1.05zM154.6 286.8h1.05v1.05h-1.05zM161.5 284.5h1.05v1.05h-1.05zM161.3 290.3h1.05v1.05h-1.05zM150.1 296.9h1.05v1.05h-1.05zM127.1 294.2h1.05v1.05h-1.05zM151.7 287.8h1.05v1.05h-1.05zM158.1 290.3h1.05v1.05h-1.05zM173.1 287.9h1.05v1.05h-1.05zM168.9 297.5h1.05v1.05h-1.05zM152.1 287.1h1.05v1.05h-1.05zM146.6 284.0h1.05v1.05h-1.05zM137.1 287.4h1.05v1.05h-1.05zM151.9 283.4h1.05v1.05h-1.05zM153.1 288.1h1.05v1.05h-1.05zM160.2 293.4h1.05v1.05h-1.05zM138.3 291.6h1.05v1.05h-1.05zM149.9 287.8h1.05v1.05h-1.05zM143.1 289.7h1.05v1.05h-1.05zM132.7 284.2h1.05v1.05h-1.05zM149.5 281.5h1.05v1.05h-1.05zM153.3 294.5h1.05v1.05h-1.05zM140.7 292.5h1.05v1.05h-1.05zM136.0 293.6h1.05v1.05h-1.05zM145.9 290.2h1.05v1.05h-1.05zM127.2 286.7h1.05v1.05h-1.05zM142.6 287.2h1.05v1.05h-1.05zM147.7 296.5h1.05v1.05h-1.05zM126.9 287.0h1.05v1.05h-1.05zM148.2 284.3h1.05v1.05h-1.05zM133.3 292.6h1.05v1.05h-1.05zM154.1 291.7h1.05v1.05h-1.05zM131.9 292.8h1.05v1.05h-1.05zM157.4 287.8h1.05v1.05h-1.05zM146.7 288.7h1.05v1.05h-1.05zM142.5 287.5h1.05v1.05h-1.05zM151.6 286.1h1.05v1.05h-1.05zM169.7 293.3h1.05v1.05h-1.05zM142.5 301.1h1.05v1.05h-1.05zM148.2 278.9h1.05v1.05h-1.05zM161.4 293.6h1.05v1.05h-1.05zM145.7 290.5h1.05v1.05h-1.05zM138.0 284.3h1.05v1.05h-1.05zM131.1 302.6h1.05v1.05h-1.05zM137.6 290.9h1.05v1.05h-1.05zM171.2 286.7h1.05v1.05h-1.05zM145.1 288.0h1.05v1.05h-1.05zM125.7 292.7h1.05v1.05h-1.05zM154.7 289.1h1.05v1.05h-1.05zM143.4 293.3h1.05v1.05h-1.05zM156.0 299.9h1.05v1.05h-1.05zM156.2 294.3h1.05v1.05h-1.05zM137.7 283.6h1.05v1.05h-1.05zM164.3 286.2h1.05v1.05h-1.05zM156.0 290.8h1.05v1.05h-1.05zM135.4 291.6h1.05v1.05h-1.05zM170.5 297.2h1.05v1.05h-1.05zM140.4 289.1h1.05v1.05h-1.05zM118.7 284.4h1.05v1.05h-1.05zM139.0 290.4h1.05v1.05h-1.05zM152.8 288.2h1.05v1.05h-1.05zM163.8 286.0h1.05v1.05h-1.05zM156.6 285.5h1.05v1.05h-1.05zM142.2 291.4h1.05v1.05h-1.05zM157.8 287.1h1.05v1.05h-1.05zM141.6 289.4h1.05v1.05h-1.05zM150.9 297.7h1.05v1.05h-1.05zM156.8 289.0h1.05v1.05h-1.05zM143.2 296.7h1.05v1.05h-1.05zM166.0 295.7h1.05v1.05h-1.05zM147.4 286.2h1.05v1.05h-1.05zM137.0 291.2h1.05v1.05h-1.05zM132.9 289.8h1.05v1.05h-1.05zM176.9 292.4h1.05v1.05h-1.05zM159.0 285.8h1.05v1.05h-1.05zM166.9 288.9h1.05v1.05h-1.05zM148.7 291.7h1.05v1.05h-1.05zM148.6 288.2h1.05v1.05h-1.05zM156.3 300.9h1.05v1.05h-1.05zM143.2 294.9h1.05v1.05h-1.05zM133.0 292.4h1.05v1.05h-1.05zM139.4 297.8h1.05v1.05h-1.05zM142.2 294.0h1.05v1.05h-1.05zM149.4 285.0h1.05v1.05h-1.05zM148.9 290.9h1.05v1.05h-1.05zM159.1 290.0h1.05v1.05h-1.05zM123.7 285.9h1.05v1.05h-1.05zM141.0 294.2h1.05v1.05h-1.05zM143.0 295.3h1.05v1.05h-1.05zM144.2 292.7h1.05v1.05h-1.05zM161.6 291.6h1.05v1.05h-1.05zM124.9 296.4h1.05v1.05h-1.05zM144.9 294.7h1.05v1.05h-1.05zM109.9 290.7h1.05v1.05h-1.05zM147.0 288.5h1.05v1.05h-1.05zM145.9 285.8h1.05v1.05h-1.05zM134.8 292.9h1.05v1.05h-1.05zM144.4 294.2h1.05v1.05h-1.05zM152.7 287.2h1.05v1.05h-1.05zM147.7 289.0h1.05v1.05h-1.05zM154.6 298.8h1.05v1.05h-1.05zM148.1 288.2h1.05v1.05h-1.05zM176.9 289.3h1.05v1.05h-1.05zM137.6 288.8h1.05v1.05h-1.05zM118.0 298.1h1.05v1.05h-1.05zM162.6 295.9h1.05v1.05h-1.05zM155.0 289.7h1.05v1.05h-1.05zM140.3 286.9h1.05v1.05h-1.05zM157.5 295.2h1.05v1.05h-1.05zM158.1 285.6h1.05v1.05h-1.05zM173.7 286.9h1.05v1.05h-1.05zM147.6 290.4h1.05v1.05h-1.05zM140.8 279.5h1.05v1.05h-1.05zM130.4 287.8h1.05v1.05h-1.05zM160.9 288.5h1.05v1.05h-1.05zM151.7 284.6h1.05v1.05h-1.05zM142.0 296.4h1.05v1.05h-1.05zM172.2 292.3h1.05v1.05h-1.05zM154.9 291.2h1.05v1.05h-1.05zM145.3 290.9h1.05v1.05h-1.05zM160.7 287.1h1.05v1.05h-1.05zM131.6 293.4h1.05v1.05h-1.05zM138.7 292.4h1.05v1.05h-1.05zM132.4 291.7h1.05v1.05h-1.05zM140.9 287.7h1.05v1.05h-1.05zM156.2 287.3h1.05v1.05h-1.05zM113.7 284.3h1.05v1.05h-1.05zM143.3 298.4h1.05v1.05h-1.05zM141.5 284.6h1.05v1.05h-1.05zM138.9 295.5h1.05v1.05h-1.05zM151.8 292.8h1.05v1.05h-1.05zM154.4 297.9h1.05v1.05h-1.05zM129.4 297.0h1.05v1.05h-1.05zM155.4 285.9h1.05v1.05h-1.05zM157.1 297.3h1.05v1.05h-1.05zM144.2 295.6h1.05v1.05h-1.05zM118.3 283.3h1.05v1.05h-1.05zM154.3 291.1h1.05v1.05h-1.05zM156.8 293.2h1.05v1.05h-1.05zM159.5 283.6h1.05v1.05h-1.05zM128.0 296.4h1.05v1.05h-1.05zM152.7 291.1h1.05v1.05h-1.05zM145.9 298.9h1.05v1.05h-1.05zM138.6 292.9h1.05v1.05h-1.05zM168.4 288.2h1.05v1.05h-1.05zM140.5 289.5h1.05v1.05h-1.05zM121.2 296.5h1.05v1.05h-1.05zM162.0 300.1h1.05v1.05h-1.05zM148.6 293.3h1.05v1.05h-1.05zM158.6 299.4h1.05v1.05h-1.05zM154.1 293.8h1.05v1.05h-1.05zM140.4 293.1h1.05v1.05h-1.05zM149.6 296.6h1.05v1.05h-1.05zM159.8 285.9h1.05v1.05h-1.05zM134.9 293.1h1.05v1.05h-1.05zM143.9 292.8h1.05v1.05h-1.05zM164.9 285.2h1.05v1.05h-1.05zM154.8 286.6h1.05v1.05h-1.05zM148.6 290.6h1.05v1.05h-1.05zM134.2 279.8h1.05v1.05h-1.05zM143.3 285.1h1.05v1.05h-1.05zM150.7 291.4h1.05v1.05h-1.05zM161.0 293.5h1.05v1.05h-1.05zM121.9 282.4h1.05v1.05h-1.05zM135.8 290.2h1.05v1.05h-1.05zM151.3 287.5h1.05v1.05h-1.05zM152.5 286.3h1.05v1.05h-1.05zM162.8 288.7h1.05v1.05h-1.05zM141.0 288.5h1.05v1.05h-1.05zM148.5 298.1h1.05v1.05h-1.05zM151.1 295.7h1.05v1.05h-1.05zM138.5 294.3h1.05v1.05h-1.05zM159.1 296.0h1.05v1.05h-1.05zM136.0 286.8h1.05v1.05h-1.05zM149.5 294.1h1.05v1.05h-1.05zM137.5 292.1h1.05v1.05h-1.05zM170.4 281.6h1.05v1.05h-1.05zM131.6 290.1h1.05v1.05h-1.05zM155.3 291.0h1.05v1.05h-1.05zM156.0 298.1h1.05v1.05h-1.05zM142.6 287.1h1.05v1.05h-1.05zM168.1 283.1h1.05v1.05h-1.05zM161.0 297.7h1.05v1.05h-1.05zM153.3 288.6h1.05v1.05h-1.05zM151.7 288.6h1.05v1.05h-1.05zM176.5 294.4h1.05v1.05h-1.05zM150.3 293.4h1.05v1.05h-1.05zM156.5 296.4h1.05v1.05h-1.05zM153.9 287.6h1.05v1.05h-1.05zM145.6 286.1h1.05v1.05h-1.05zM130.4 292.6h1.05v1.05h-1.05zM141.9 290.5h1.05v1.05h-1.05zM158.1 295.8h1.05v1.05h-1.05zM150.9 288.7h1.05v1.05h-1.05zM158.5 287.4h1.05v1.05h-1.05zM170.2 289.2h1.05v1.05h-1.05zM165.1 286.4h1.05v1.05h-1.05zM160.7 293.6h1.05v1.05h-1.05zM147.6 296.5h1.05v1.05h-1.05zM156.7 291.9h1.05v1.05h-1.05zM148.3 293.8h1.05v1.05h-1.05zM151.6 287.6h1.05v1.05h-1.05zM139.9 290.6h1.05v1.05h-1.05zM133.3 281.8h1.05v1.05h-1.05zM160.7 288.6h1.05v1.05h-1.05zM180.3 292.3h1.05v1.05h-1.05zM160.3 295.0h1.05v1.05h-1.05zM149.9 289.5h1.05v1.05h-1.05zM127.5 285.9h1.05v1.05h-1.05zM130.7 284.2h1.05v1.05h-1.05zM128.1 292.2h1.05v1.05h-1.05zM122.0 299.0h1.05v1.05h-1.05zM137.6 293.1h1.05v1.05h-1.05zM152.9 293.2h1.05v1.05h-1.05zM147.5 290.2h1.05v1.05h-1.05zM150.5 295.4h1.05v1.05h-1.05zM158.4 292.0h1.05v1.05h-1.05zM128.7 286.8h1.05v1.05h-1.05zM149.9 296.9h1.05v1.05h-1.05zM168.6 288.3h1.05v1.05h-1.05zM153.3 288.3h1.05v1.05h-1.05zM135.8 291.5h1.05v1.05h-1.05zM156.5 292.2h1.05v1.05h-1.05zM116.5 296.7h1.05v1.05h-1.05zM119.8 296.2h1.05v1.05h-1.05zM167.9 306.4h1.05v1.05h-1.05zM128.6 288.5h1.05v1.05h-1.05zM150.2 293.2h1.05v1.05h-1.05zM142.1 296.5h1.05v1.05h-1.05zM142.7 291.2h1.05v1.05h-1.05zM148.1 294.7h1.05v1.05h-1.05zM155.3 283.3h1.05v1.05h-1.05zM159.8 286.1h1.05v1.05h-1.05zM135.8 287.5h1.05v1.05h-1.05zM145.5 294.1h1.05v1.05h-1.05zM156.9 283.8h1.05v1.05h-1.05zM147.5 296.3h1.05v1.05h-1.05zM161.4 292.1h1.05v1.05h-1.05zM138.8 294.1h1.05v1.05h-1.05zM145.4 284.4h1.05v1.05h-1.05zM114.4 293.6h1.05v1.05h-1.05zM165.1 300.8h1.05v1.05h-1.05zM167.0 293.4h1.05v1.05h-1.05zM147.2 292.1h1.05v1.05h-1.05zM131.7 289.4h1.05v1.05h-1.05zM111.1 310.2h1.05v1.05h-1.05zM158.4 298.2h1.05v1.05h-1.05zM127.8 286.8h1.05v1.05h-1.05zM111.3 306.5h1.05v1.05h-1.05zM122.6 303.0h1.05v1.05h-1.05zM152.4 307.8h1.05v1.05h-1.05zM110.6 297.3h1.05v1.05h-1.05zM88.3 311.9h1.05v1.05h-1.05zM141.1 310.0h1.05v1.05h-1.05zM107.4 301.8h1.05v1.05h-1.05zM161.0 288.5h1.05v1.05h-1.05zM128.8 293.6h1.05v1.05h-1.05zM118.5 301.7h1.05v1.05h-1.05zM121.9 289.6h1.05v1.05h-1.05zM84.3 292.3h1.05v1.05h-1.05zM145.9 289.0h1.05v1.05h-1.05zM113.3 313.8h1.05v1.05h-1.05zM98.9 304.0h1.05v1.05h-1.05zM107.7 310.0h1.05v1.05h-1.05zM114.8 287.6h1.05v1.05h-1.05zM150.1 308.0h1.05v1.05h-1.05zM131.1 297.4h1.05v1.05h-1.05zM119.2 291.8h1.05v1.05h-1.05zM118.9 313.5h1.05v1.05h-1.05zM127.4 287.7h1.05v1.05h-1.05zM92.6 307.0h1.05v1.05h-1.05zM153.1 298.7h1.05v1.05h-1.05zM125.7 309.9h1.05v1.05h-1.05zM108.4 309.4h1.05v1.05h-1.05zM114.2 293.3h1.05v1.05h-1.05zM133.4 286.9h1.05v1.05h-1.05zM125.4 311.5h1.05v1.05h-1.05zM98.8 320.7h1.05v1.05h-1.05zM157.2 301.3h1.05v1.05h-1.05zM118.5 301.0h1.05v1.05h-1.05zM119.3 303.6h1.05v1.05h-1.05zM104.9 310.0h1.05v1.05h-1.05zM154.3 281.0h1.05v1.05h-1.05zM158.9 282.7h1.05v1.05h-1.05zM104.5 302.8h1.05v1.05h-1.05zM123.8 304.0h1.05v1.05h-1.05zM162.7 297.7h1.05v1.05h-1.05zM151.2 290.7h1.05v1.05h-1.05zM131.8 283.1h1.05v1.05h-1.05zM124.0 308.3h1.05v1.05h-1.05zM145.5 303.4h1.05v1.05h-1.05zM94.1 311.4h1.05v1.05h-1.05zM177.5 298.5h1.05v1.05h-1.05zM115.3 304.5h1.05v1.05h-1.05zM113.9 306.3h1.05v1.05h-1.05zM126.6 301.3h1.05v1.05h-1.05zM103.6 290.0h1.05v1.05h-1.05zM135.2 301.2h1.05v1.05h-1.05zM138.8 309.2h1.05v1.05h-1.05zM122.4 314.2h1.05v1.05h-1.05zM123.8 311.9h1.05v1.05h-1.05zM138.3 291.1h1.05v1.05h-1.05zM148.7 301.0h1.05v1.05h-1.05zM128.2 300.6h1.05v1.05h-1.05zM125.4 295.0h1.05v1.05h-1.05zM98.3 308.7h1.05v1.05h-1.05zM143.8 296.1h1.05v1.05h-1.05zM138.8 284.1h1.05v1.05h-1.05zM163.2 295.0h1.05v1.05h-1.05zM120.0 304.1h1.05v1.05h-1.05zM133.8 300.8h1.05v1.05h-1.05zM131.1 288.4h1.05v1.05h-1.05zM138.5 297.2h1.05v1.05h-1.05zM103.1 315.9h1.05v1.05h-1.05zM129.7 316.2h1.05v1.05h-1.05zM115.8 317.7h1.05v1.05h-1.05zM136.9 292.0h1.05v1.05h-1.05zM147.5 302.0h1.05v1.05h-1.05zM146.3 291.6h1.05v1.05h-1.05zM71.4 311.9h1.05v1.05h-1.05zM130.8 309.8h1.05v1.05h-1.05zM155.3 306.9h1.05v1.05h-1.05zM139.9 300.3h1.05v1.05h-1.05zM118.0 309.2h1.05v1.05h-1.05zM117.2 307.0h1.05v1.05h-1.05zM120.3 310.7h1.05v1.05h-1.05zM116.9 298.5h1.05v1.05h-1.05zM115.9 310.4h1.05v1.05h-1.05zM117.9 316.3h1.05v1.05h-1.05zM104.8 310.4h1.05v1.05h-1.05zM116.2 293.3h1.05v1.05h-1.05zM125.5 306.5h1.05v1.05h-1.05zM139.2 296.0h1.05v1.05h-1.05zM100.5 301.6h1.05v1.05h-1.05zM117.9 321.8h1.05v1.05h-1.05zM98.3 307.9h1.05v1.05h-1.05zM172.0 279.6h1.05v1.05h-1.05zM165.1 305.8h1.05v1.05h-1.05zM145.4 302.0h1.05v1.05h-1.05zM87.4 310.8h1.05v1.05h-1.05zM123.4 314.4h1.05v1.05h-1.05zM148.6 284.8h1.05v1.05h-1.05zM69.9 308.6h1.05v1.05h-1.05zM168.6 292.1h1.05v1.05h-1.05zM127.8 308.3h1.05v1.05h-1.05zM120.5 306.6h1.05v1.05h-1.05zM105.6 299.7h1.05v1.05h-1.05zM137.9 301.0h1.05v1.05h-1.05zM141.8 298.7h1.05v1.05h-1.05zM148.3 300.4h1.05v1.05h-1.05zM136.1 310.0h1.05v1.05h-1.05zM125.8 291.1h1.05v1.05h-1.05zM106.8 304.7h1.05v1.05h-1.05zM147.7 291.1h1.05v1.05h-1.05zM122.6 315.1h1.05v1.05h-1.05zM155.6 281.2h1.05v1.05h-1.05zM100.4 307.1h1.05v1.05h-1.05zM127.1 296.4h1.05v1.05h-1.05zM137.5 313.3h1.05v1.05h-1.05zM145.6 303.1h1.05v1.05h-1.05zM89.6 315.1h1.05v1.05h-1.05zM131.1 302.6h1.05v1.05h-1.05zM107.6 295.4h1.05v1.05h-1.05zM129.6 307.8h1.05v1.05h-1.05zM149.8 298.2h1.05v1.05h-1.05zM87.8 308.7h1.05v1.05h-1.05zM113.9 298.6h1.05v1.05h-1.05zM101.2 314.4h1.05v1.05h-1.05zM111.0 306.8h1.05v1.05h-1.05zM136.3 291.8h1.05v1.05h-1.05zM117.7 297.9h1.05v1.05h-1.05zM149.3 289.0h1.05v1.05h-1.05zM94.2 319.2h1.05v1.05h-1.05zM137.6 303.3h1.05v1.05h-1.05zM136.5 300.7h1.05v1.05h-1.05zM130.9 277.2h1.05v1.05h-1.05zM115.8 293.2h1.05v1.05h-1.05zM80.0 301.5h1.05v1.05h-1.05zM117.0 305.9h1.05v1.05h-1.05zM103.9 297.8h1.05v1.05h-1.05zM156.9 299.5h1.05v1.05h-1.05zM102.5 299.0h1.05v1.05h-1.05zM127.9 308.5h1.05v1.05h-1.05zM110.9 303.6h1.05v1.05h-1.05zM139.3 282.8h1.05v1.05h-1.05zM124.7 298.8h1.05v1.05h-1.05zM100.3 309.1h1.05v1.05h-1.05zM138.8 294.2h1.05v1.05h-1.05zM113.2 316.4h1.05v1.05h-1.05zM124.1 292.9h1.05v1.05h-1.05zM130.2 306.4h1.05v1.05h-1.05zM114.5 286.3h1.05v1.05h-1.05zM107.6 295.0h1.05v1.05h-1.05zM154.8 286.2h1.05v1.05h-1.05zM161.3 292.2h1.05v1.05h-1.05zM125.2 303.6h1.05v1.05h-1.05zM155.7 283.3h1.05v1.05h-1.05zM113.4 301.3h1.05v1.05h-1.05zM129.5 294.6h1.05v1.05h-1.05zM128.0 308.7h1.05v1.05h-1.05zM117.4 315.4h1.05v1.05h-1.05zM122.3 300.5h1.05v1.05h-1.05zM136.5 295.4h1.05v1.05h-1.05zM132.0 293.9h1.05v1.05h-1.05zM98.3 311.2h1.05v1.05h-1.05zM138.8 297.2h1.05v1.05h-1.05zM140.9 293.3h1.05v1.05h-1.05zM168.5 287.7h1.05v1.05h-1.05zM134.4 298.5h1.05v1.05h-1.05zM118.2 294.8h1.05v1.05h-1.05zM152.9 292.7h1.05v1.05h-1.05zM112.8 315.2h1.05v1.05h-1.05zM144.7 290.1h1.05v1.05h-1.05zM141.1 308.3h1.05v1.05h-1.05zM126.4 289.7h1.05v1.05h-1.05zM121.8 295.9h1.05v1.05h-1.05zM99.0 310.6h1.05v1.05h-1.05zM133.7 278.5h1.05v1.05h-1.05zM114.3 296.6h1.05v1.05h-1.05zM131.6 294.6h1.05v1.05h-1.05zM98.1 321.7h1.05v1.05h-1.05zM123.6 314.6h1.05v1.05h-1.05zM126.9 292.8h1.05v1.05h-1.05zM90.6 296.7h1.05v1.05h-1.05zM118.3 304.7h1.05v1.05h-1.05zM150.1 284.0h1.05v1.05h-1.05zM127.7 308.1h1.05v1.05h-1.05zM156.0 302.9h1.05v1.05h-1.05zM139.0 304.6h1.05v1.05h-1.05zM97.0 309.9h1.05v1.05h-1.05zM145.9 295.3h1.05v1.05h-1.05zM117.7 301.2h1.05v1.05h-1.05zM137.2 296.1h1.05v1.05h-1.05zM120.2 295.0h1.05v1.05h-1.05zM138.8 304.9h1.05v1.05h-1.05zM105.0 313.3h1.05v1.05h-1.05zM124.2 310.7h1.05v1.05h-1.05zM145.9 292.2h1.05v1.05h-1.05zM141.1 308.4h1.05v1.05h-1.05zM99.9 308.9h1.05v1.05h-1.05zM104.4 313.2h1.05v1.05h-1.05zM91.7 318.9h1.05v1.05h-1.05zM119.6 309.7h1.05v1.05h-1.05zM169.7 290.6h1.05v1.05h-1.05zM102.4 297.4h1.05v1.05h-1.05zM138.2 286.6h1.05v1.05h-1.05zM94.6 313.2h1.05v1.05h-1.05zM154.1 297.7h1.05v1.05h-1.05zM168.8 302.7h1.05v1.05h-1.05zM143.6 301.8h1.05v1.05h-1.05zM135.1 303.9h1.05v1.05h-1.05zM148.2 297.7h1.05v1.05h-1.05zM89.9 295.0h1.05v1.05h-1.05zM102.7 307.9h1.05v1.05h-1.05zM91.4 308.3h1.05v1.05h-1.05zM133.0 310.6h1.05v1.05h-1.05zM102.8 298.7h1.05v1.05h-1.05zM94.4 298.3h1.05v1.05h-1.05zM119.0 317.1h1.05v1.05h-1.05zM54.7 319.4h1.05v1.05h-1.05zM132.2 312.4h1.05v1.05h-1.05zM151.7 297.5h1.05v1.05h-1.05zM84.8 303.7h1.05v1.05h-1.05zM113.5 296.7h1.05v1.05h-1.05zM137.5 293.1h1.05v1.05h-1.05zM98.3 307.4h1.05v1.05h-1.05zM139.1 292.2h1.05v1.05h-1.05zM98.6 300.2h1.05v1.05h-1.05zM125.0 304.0h1.05v1.05h-1.05zM107.0 298.7h1.05v1.05h-1.05zM144.3 317.2h1.05v1.05h-1.05zM110.7 307.0h1.05v1.05h-1.05zM121.8 298.2h1.05v1.05h-1.05zM113.0 304.9h1.05v1.05h-1.05zM138.3 311.0h1.05v1.05h-1.05zM153.5 292.2h1.05v1.05h-1.05zM121.4 311.8h1.05v1.05h-1.05zM139.2 294.2h1.05v1.05h-1.05zM123.0 286.0h1.05v1.05h-1.05zM129.4 290.1h1.05v1.05h-1.05zM123.1 291.2h1.05v1.05h-1.05zM113.9 305.8h1.05v1.05h-1.05zM114.3 319.9h1.05v1.05h-1.05zM145.3 293.3h1.05v1.05h-1.05zM161.9 292.3h1.05v1.05h-1.05zM133.7 316.5h1.05v1.05h-1.05zM166.5 292.0h1.05v1.05h-1.05zM141.9 297.1h1.05v1.05h-1.05zM146.9 294.4h1.05v1.05h-1.05zM147.2 281.2h1.05v1.05h-1.05zM136.7 310.4h1.05v1.05h-1.05zM126.1 286.3h1.05v1.05h-1.05zM127.8 291.2h1.05v1.05h-1.05zM115.2 305.4h1.05v1.05h-1.05zM162.7 290.8h1.05v1.05h-1.05zM116.8 297.8h1.05v1.05h-1.05zM118.0 300.7h1.05v1.05h-1.05zM106.1 313.0h1.05v1.05h-1.05zM125.2 299.7h1.05v1.05h-1.05zM82.7 319.7h1.05v1.05h-1.05zM113.2 316.7h1.05v1.05h-1.05zM73.2 317.1h1.05v1.05h-1.05zM137.2 312.7h1.05v1.05h-1.05zM122.4 295.3h1.05v1.05h-1.05zM126.1 297.1h1.05v1.05h-1.05zM120.0 283.1h1.05v1.05h-1.05zM121.9 302.9h1.05v1.05h-1.05zM126.2 300.6h1.05v1.05h-1.05zM165.8 309.0h1.05v1.05h-1.05zM146.4 296.8h1.05v1.05h-1.05zM154.4 295.5h1.05v1.05h-1.05zM115.1 299.1h1.05v1.05h-1.05zM125.6 315.5h1.05v1.05h-1.05zM155.7 305.5h1.05v1.05h-1.05zM131.7 294.9h1.05v1.05h-1.05zM131.8 300.0h1.05v1.05h-1.05zM114.2 314.6h1.05v1.05h-1.05zM88.6 298.6h1.05v1.05h-1.05zM98.6 303.6h1.05v1.05h-1.05zM124.4 309.4h1.05v1.05h-1.05zM143.3 293.4h1.05v1.05h-1.05zM113.7 306.0h1.05v1.05h-1.05zM149.3 300.4h1.05v1.05h-1.05zM142.5 306.8h1.05v1.05h-1.05zM135.4 300.5h1.05v1.05h-1.05zM82.5 309.0h1.05v1.05h-1.05zM98.4 302.4h1.05v1.05h-1.05zM121.7 309.9h1.05v1.05h-1.05zM147.2 289.4h1.05v1.05h-1.05zM140.3 305.0h1.05v1.05h-1.05zM88.3 315.8h1.05v1.05h-1.05zM123.4 287.1h1.05v1.05h-1.05zM133.6 308.0h1.05v1.05h-1.05zM145.0 294.3h1.05v1.05h-1.05zM148.7 307.8h1.05v1.05h-1.05zM140.8 286.8h1.05v1.05h-1.05zM148.0 293.1h1.05v1.05h-1.05zM121.6 316.8h1.05v1.05h-1.05zM165.1 308.3h1.05v1.05h-1.05zM86.1 319.3h1.05v1.05h-1.05zM104.3 312.0h1.05v1.05h-1.05zM154.6 305.3h1.05v1.05h-1.05zM116.7 280.9h1.05v1.05h-1.05zM114.4 300.9h1.05v1.05h-1.05zM131.2 310.7h1.05v1.05h-1.05zM113.5 313.6h1.05v1.05h-1.05zM108.8 301.9h1.05v1.05h-1.05zM139.0 307.3h1.05v1.05h-1.05zM148.2 292.4h1.05v1.05h-1.05zM141.6 289.4h1.05v1.05h-1.05zM177.5 296.9h1.05v1.05h-1.05zM129.9 294.6h1.05v1.05h-1.05zM118.0 307.3h1.05v1.05h-1.05zM115.0 307.2h1.05v1.05h-1.05zM108.6 301.4h1.05v1.05h-1.05zM150.0 288.8h1.05v1.05h-1.05zM119.0 296.7h1.05v1.05h-1.05zM140.0 291.1h1.05v1.05h-1.05zM122.9 304.8h1.05v1.05h-1.05zM124.4 309.4h1.05v1.05h-1.05zM135.7 302.7h1.05v1.05h-1.05zM117.4 303.5h1.05v1.05h-1.05zM109.9 300.7h1.05v1.05h-1.05zM111.6 320.9h1.05v1.05h-1.05zM146.2 288.0h1.05v1.05h-1.05zM129.4 310.7h1.05v1.05h-1.05zM130.0 318.1h1.05v1.05h-1.05zM104.3 310.3h1.05v1.05h-1.05zM115.3 308.1h1.05v1.05h-1.05zM150.8 296.1h1.05v1.05h-1.05zM118.1 299.1h1.05v1.05h-1.05zM163.5 308.8h1.05v1.05h-1.05zM122.2 317.4h1.05v1.05h-1.05zM111.5 285.8h1.05v1.05h-1.05zM112.7 299.0h1.05v1.05h-1.05zM135.5 304.1h1.05v1.05h-1.05zM109.4 299.6h1.05v1.05h-1.05zM117.7 281.7h1.05v1.05h-1.05zM141.1 307.5h1.05v1.05h-1.05zM124.2 289.3h1.05v1.05h-1.05zM120.4 295.7h1.05v1.05h-1.05zM115.2 320.0h1.05v1.05h-1.05zM118.3 297.4h1.05v1.05h-1.05zM135.5 286.0h1.05v1.05h-1.05zM162.4 296.0h1.05v1.05h-1.05zM131.1 303.7h1.05v1.05h-1.05zM95.6 314.7h1.05v1.05h-1.05zM135.5 299.7h1.05v1.05h-1.05zM107.0 305.6h1.05v1.05h-1.05zM153.8 287.6h1.05v1.05h-1.05zM135.6 307.5h1.05v1.05h-1.05zM97.8 304.6h1.05v1.05h-1.05zM134.5 311.4h1.05v1.05h-1.05zM130.5 294.9h1.05v1.05h-1.05zM120.2 286.7h1.05v1.05h-1.05zM135.2 298.5h1.05v1.05h-1.05zM119.3 303.8h1.05v1.05h-1.05zM126.1 291.9h1.05v1.05h-1.05zM167.2 280.9h1.05v1.05h-1.05zM126.9 301.5h1.05v1.05h-1.05zM88.2 308.4h1.05v1.05h-1.05zM99.2 295.1h1.05v1.05h-1.05zM84.1 310.9h1.05v1.05h-1.05zM145.1 303.3h1.05v1.05h-1.05zM121.1 305.8h1.05v1.05h-1.05zM76.0 316.6h1.05v1.05h-1.05zM111.8 310.3h1.05v1.05h-1.05zM138.1 298.1h1.05v1.05h-1.05zM116.4 300.7h1.05v1.05h-1.05zM159.9 288.7h1.05v1.05h-1.05zM132.2 307.3h1.05v1.05h-1.05zM148.8 281.7h1.05v1.05h-1.05zM122.6 290.6h1.05v1.05h-1.05zM116.5 309.9h1.05v1.05h-1.05zM85.1 312.7h1.05v1.05h-1.05zM121.9 309.6h1.05v1.05h-1.05zM123.3 303.5h1.05v1.05h-1.05zM119.1 313.0h1.05v1.05h-1.05zM138.7 300.4h1.05v1.05h-1.05zM110.2 310.8h1.05v1.05h-1.05zM131.7 304.8h1.05v1.05h-1.05zM115.7 305.4h1.05v1.05h-1.05zM115.9 289.6h1.05v1.05h-1.05zM129.4 292.7h1.05v1.05h-1.05zM126.2 309.8h1.05v1.05h-1.05zM150.8 299.2h1.05v1.05h-1.05zM128.6 300.0h1.05v1.05h-1.05zM106.3 310.3h1.05v1.05h-1.05zM128.9 294.9h1.05v1.05h-1.05zM131.4 288.9h1.05v1.05h-1.05zM129.8 293.9h1.05v1.05h-1.05zM103.6 299.1h1.05v1.05h-1.05zM110.4 296.1h1.05v1.05h-1.05zM124.6 302.5h1.05v1.05h-1.05zM117.0 310.7h1.05v1.05h-1.05zM154.4 294.0h1.05v1.05h-1.05zM142.2 293.6h1.05v1.05h-1.05zM138.8 292.9h1.05v1.05h-1.05zM96.4 309.9h1.05v1.05h-1.05zM118.1 302.9h1.05v1.05h-1.05zM109.8 291.3h1.05v1.05h-1.05zM112.8 298.7h1.05v1.05h-1.05zM95.0 300.8h1.05v1.05h-1.05zM119.9 302.1h1.05v1.05h-1.05zM100.3 296.9h1.05v1.05h-1.05zM105.2 298.4h1.05v1.05h-1.05zM119.9 317.0h1.05v1.05h-1.05zM109.4 287.1h1.05v1.05h-1.05zM152.1 293.0h1.05v1.05h-1.05zM112.7 307.8h1.05v1.05h-1.05zM114.0 318.4h1.05v1.05h-1.05zM119.6 301.4h1.05v1.05h-1.05zM113.1 306.9h1.05v1.05h-1.05zM114.5 299.2h1.05v1.05h-1.05zM115.3 294.9h1.05v1.05h-1.05zM140.2 308.4h1.05v1.05h-1.05zM98.1 303.2h1.05v1.05h-1.05zM127.4 288.0h1.05v1.05h-1.05zM105.9 309.7h1.05v1.05h-1.05zM123.3 303.5h1.05v1.05h-1.05zM83.0 321.5h1.05v1.05h-1.05zM123.4 299.7h1.05v1.05h-1.05zM162.5 299.8h1.05v1.05h-1.05zM108.5 303.3h1.05v1.05h-1.05zM99.9 321.1h1.05v1.05h-1.05zM123.0 306.5h1.05v1.05h-1.05zM144.1 296.9h1.05v1.05h-1.05zM113.5 290.5h1.05v1.05h-1.05zM115.3 301.0h1.05v1.05h-1.05zM114.6 303.5h1.05v1.05h-1.05zM138.0 315.5h1.05v1.05h-1.05zM144.4 298.2h1.05v1.05h-1.05zM172.0 290.6h1.05v1.05h-1.05zM175.6 289.6h1.05v1.05h-1.05zM120.6 300.4h1.05v1.05h-1.05zM122.7 303.5h1.05v1.05h-1.05zM138.2 297.8h1.05v1.05h-1.05zM98.7 312.4h1.05v1.05h-1.05zM135.3 296.3h1.05v1.05h-1.05zM134.0 305.7h1.05v1.05h-1.05zM82.6 294.5h1.05v1.05h-1.05zM109.8 314.2h1.05v1.05h-1.05zM94.3 320.5h1.05v1.05h-1.05zM113.9 309.0h1.05v1.05h-1.05zM112.6 299.6h1.05v1.05h-1.05zM115.1 296.8h1.05v1.05h-1.05zM100.4 300.6h1.05v1.05h-1.05zM114.4 300.6h1.05v1.05h-1.05zM91.9 305.2h1.05v1.05h-1.05zM118.9 308.9h1.05v1.05h-1.05zM136.9 299.9h1.05v1.05h-1.05zM125.9 290.1h1.05v1.05h-1.05zM115.0 311.3h1.05v1.05h-1.05zM136.0 312.9h1.05v1.05h-1.05zM60.1 298.3h1.05v1.05h-1.05zM66.9 310.5h1.05v1.05h-1.05zM79.6 309.9h1.05v1.05h-1.05zM104.1 314.7h1.05v1.05h-1.05zM91.1 299.9h1.05v1.05h-1.05zM88.4 310.1h1.05v1.05h-1.05zM82.9 312.3h1.05v1.05h-1.05zM101.9 303.5h1.05v1.05h-1.05zM90.7 299.4h1.05v1.05h-1.05zM88.4 312.7h1.05v1.05h-1.05zM105.7 312.1h1.05v1.05h-1.05zM88.8 307.5h1.05v1.05h-1.05zM85.1 313.2h1.05v1.05h-1.05zM78.7 310.9h1.05v1.05h-1.05zM85.1 306.1h1.05v1.05h-1.05zM81.5 320.7h1.05v1.05h-1.05zM95.2 316.1h1.05v1.05h-1.05zM57.1 308.9h1.05v1.05h-1.05zM77.7 317.1h1.05v1.05h-1.05zM73.1 308.8h1.05v1.05h-1.05zM97.5 310.3h1.05v1.05h-1.05zM64.3 313.2h1.05v1.05h-1.05zM98.3 316.7h1.05v1.05h-1.05zM70.1 311.2h1.05v1.05h-1.05zM67.3 320.3h1.05v1.05h-1.05zM93.5 313.7h1.05v1.05h-1.05zM92.2 320.6h1.05v1.05h-1.05zM74.5 316.8h1.05v1.05h-1.05zM107.2 310.9h1.05v1.05h-1.05zM102.0 316.5h1.05v1.05h-1.05zM65.2 312.0h1.05v1.05h-1.05zM59.1 317.2h1.05v1.05h-1.05zM67.2 312.1h1.05v1.05h-1.05zM92.9 313.9h1.05v1.05h-1.05zM95.1 316.1h1.05v1.05h-1.05zM86.9 319.0h1.05v1.05h-1.05zM91.0 317.2h1.05v1.05h-1.05zM89.7 315.0h1.05v1.05h-1.05zM68.4 310.6h1.05v1.05h-1.05zM75.1 312.4h1.05v1.05h-1.05zM71.2 317.8h1.05v1.05h-1.05zM99.6 317.9h1.05v1.05h-1.05zM94.8 314.9h1.05v1.05h-1.05zM98.4 321.9h1.05v1.05h-1.05zM76.5 295.8h1.05v1.05h-1.05zM91.1 309.8h1.05v1.05h-1.05zM105.9 309.9h1.05v1.05h-1.05zM87.3 296.6h1.05v1.05h-1.05zM88.7 314.6h1.05v1.05h-1.05zM105.7 316.2h1.05v1.05h-1.05zM92.0 316.2h1.05v1.05h-1.05zM87.0 315.3h1.05v1.05h-1.05zM91.8 310.0h1.05v1.05h-1.05zM80.0 313.9h1.05v1.05h-1.05zM90.2 322.1h1.05v1.05h-1.05zM88.7 317.3h1.05v1.05h-1.05zM105.7 319.4h1.05v1.05h-1.05zM63.7 317.8h1.05v1.05h-1.05zM63.7 311.0h1.05v1.05h-1.05zM72.5 305.7h1.05v1.05h-1.05zM72.6 320.2h1.05v1.05h-1.05zM83.1 311.8h1.05v1.05h-1.05zM87.9 316.9h1.05v1.05h-1.05zM70.9 304.8h1.05v1.05h-1.05zM72.2 293.2h1.05v1.05h-1.05zM85.0 311.1h1.05v1.05h-1.05zM73.8 307.5h1.05v1.05h-1.05zM67.5 311.9h1.05v1.05h-1.05zM81.1 311.0h1.05v1.05h-1.05zM83.9 318.3h1.05v1.05h-1.05zM60.3 301.6h1.05v1.05h-1.05zM104.3 305.2h1.05v1.05h-1.05zM69.9 316.0h1.05v1.05h-1.05zM77.5 320.4h1.05v1.05h-1.05zM81.7 318.3h1.05v1.05h-1.05zM85.8 316.8h1.05v1.05h-1.05zM75.0 309.0h1.05v1.05h-1.05zM86.1 306.2h1.05v1.05h-1.05zM103.7 312.6h1.05v1.05h-1.05zM72.7 308.2h1.05v1.05h-1.05zM92.3 311.8h1.05v1.05h-1.05zM82.7 314.5h1.05v1.05h-1.05zM94.6 310.8h1.05v1.05h-1.05zM103.2 308.2h1.05v1.05h-1.05zM86.1 310.9h1.05v1.05h-1.05zM105.7 308.0h1.05v1.05h-1.05zM90.3 315.6h1.05v1.05h-1.05zM93.7 317.1h1.05v1.05h-1.05zM61.8 303.9h1.05v1.05h-1.05zM80.8 314.8h1.05v1.05h-1.05zM67.2 315.6h1.05v1.05h-1.05zM106.3 314.7h1.05v1.05h-1.05zM94.3 308.8h1.05v1.05h-1.05zM86.0 314.8h1.05v1.05h-1.05zM78.4 313.9h1.05v1.05h-1.05zM87.7 306.4h1.05v1.05h-1.05zM95.6 317.3h1.05v1.05h-1.05zM77.7 305.5h1.05v1.05h-1.05zM77.6 306.6h1.05v1.05h-1.05zM87.2 311.8h1.05v1.05h-1.05zM100.7 318.4h1.05v1.05h-1.05zM93.6 304.0h1.05v1.05h-1.05zM65.4 307.2h1.05v1.05h-1.05zM77.4 311.4h1.05v1.05h-1.05zM100.0 312.6h1.05v1.05h-1.05zM85.5 315.7h1.05v1.05h-1.05zM58.3 322.0h1.05v1.05h-1.05zM63.0 317.9h1.05v1.05h-1.05zM94.1 305.9h1.05v1.05h-1.05zM101.3 317.6h1.05v1.05h-1.05zM90.6 315.2h1.05v1.05h-1.05zM88.2 318.2h1.05v1.05h-1.05zM103.2 299.2h1.05v1.05h-1.05zM91.7 310.3h1.05v1.05h-1.05zM77.3 317.7h1.05v1.05h-1.05zM69.2 305.1h1.05v1.05h-1.05zM96.1 315.5h1.05v1.05h-1.05zM88.5 316.9h1.05v1.05h-1.05zM83.5 314.5h1.05v1.05h-1.05zM59.0 309.9h1.05v1.05h-1.05zM87.7 314.4h1.05v1.05h-1.05zM95.2 309.9h1.05v1.05h-1.05zM92.0 308.8h1.05v1.05h-1.05zM69.9 313.2h1.05v1.05h-1.05zM98.9 299.9h1.05v1.05h-1.05zM69.2 307.9h1.05v1.05h-1.05zM90.6 310.7h1.05v1.05h-1.05zM88.7 322.1h1.05v1.05h-1.05zM89.1 314.2h1.05v1.05h-1.05zM70.6 303.7h1.05v1.05h-1.05zM65.4 313.2h1.05v1.05h-1.05zM67.0 316.6h1.05v1.05h-1.05zM100.9 304.9h1.05v1.05h-1.05zM83.7 311.9h1.05v1.05h-1.05zM75.2 306.4h1.05v1.05h-1.05zM88.7 315.7h1.05v1.05h-1.05zM108.8 308.8h1.05v1.05h-1.05zM84.0 308.3h1.05v1.05h-1.05zM102.6 311.6h1.05v1.05h-1.05zM79.8 314.4h1.05v1.05h-1.05zM109.0 321.0h1.05v1.05h-1.05zM82.9 305.3h1.05v1.05h-1.05zM68.4 311.6h1.05v1.05h-1.05zM65.0 318.7h1.05v1.05h-1.05zM83.2 304.3h1.05v1.05h-1.05zM92.1 292.4h1.05v1.05h-1.05zM104.4 319.7h1.05v1.05h-1.05zM56.4 307.2h1.05v1.05h-1.05zM56.2 314.5h1.05v1.05h-1.05zM89.9 307.1h1.05v1.05h-1.05zM108.2 310.7h1.05v1.05h-1.05zM93.7 316.5h1.05v1.05h-1.05zM88.2 316.2h1.05v1.05h-1.05zM78.9 307.8h1.05v1.05h-1.05zM63.9 311.1h1.05v1.05h-1.05zM87.2 311.9h1.05v1.05h-1.05zM79.1 313.1h1.05v1.05h-1.05zM61.8 306.0h1.05v1.05h-1.05zM88.6 320.2h1.05v1.05h-1.05zM105.8 317.4h1.05v1.05h-1.05zM73.4 321.3h1.05v1.05h-1.05zM89.5 311.8h1.05v1.05h-1.05zM105.0 311.6h1.05v1.05h-1.05zM83.5 314.1h1.05v1.05h-1.05zM84.4 313.5h1.05v1.05h-1.05zM88.3 322.6h1.05v1.05h-1.05zM85.5 308.2h1.05v1.05h-1.05zM74.2 310.9h1.05v1.05h-1.05zM99.3 309.1h1.05v1.05h-1.05zM63.2 311.9h1.05v1.05h-1.05zM95.0 310.5h1.05v1.05h-1.05zM76.6 312.7h1.05v1.05h-1.05zM74.6 307.7h1.05v1.05h-1.05zM78.0 303.2h1.05v1.05h-1.05zM87.3 312.0h1.05v1.05h-1.05zM92.0 309.8h1.05v1.05h-1.05zM73.2 320.1h1.05v1.05h-1.05zM58.0 315.6h1.05v1.05h-1.05zM94.3 317.6h1.05v1.05h-1.05zM64.9 303.6h1.05v1.05h-1.05zM67.4 297.3h1.05v1.05h-1.05zM86.4 317.9h1.05v1.05h-1.05zM86.5 308.8h1.05v1.05h-1.05zM93.3 295.5h1.05v1.05h-1.05zM84.4 316.9h1.05v1.05h-1.05zM76.7 306.8h1.05v1.05h-1.05zM71.7 322.4h1.05v1.05h-1.05zM68.1 296.5h1.05v1.05h-1.05zM83.0 301.7h1.05v1.05h-1.05zM77.4 307.6h1.05v1.05h-1.05zM79.1 303.5h1.05v1.05h-1.05zM91.2 316.9h1.05v1.05h-1.05zM85.5 314.8h1.05v1.05h-1.05zM86.9 309.6h1.05v1.05h-1.05zM79.7 316.6h1.05v1.05h-1.05zM75.0 303.9h1.05v1.05h-1.05zM102.3 313.7h1.05v1.05h-1.05zM79.7 307.1h1.05v1.05h-1.05zM76.9 318.0h1.05v1.05h-1.05zM84.5 322.9h1.05v1.05h-1.05zM104.8 296.5h1.05v1.05h-1.05zM70.5 299.3h1.05v1.05h-1.05zM78.4 310.9h1.05v1.05h-1.05zM93.1 312.6h1.05v1.05h-1.05zM86.1 315.4h1.05v1.05h-1.05zM97.7 312.3h1.05v1.05h-1.05zM89.4 308.5h1.05v1.05h-1.05zM87.2 315.8h1.05v1.05h-1.05zM69.8 307.0h1.05v1.05h-1.05zM104.5 307.6h1.05v1.05h-1.05zM73.3 317.9h1.05v1.05h-1.05zM94.9 313.0h1.05v1.05h-1.05zM107.4 314.0h1.05v1.05h-1.05zM93.7 312.2h1.05v1.05h-1.05zM72.1 310.4h1.05v1.05h-1.05zM99.6 313.1h1.05v1.05h-1.05zM76.1 308.6h1.05v1.05h-1.05zM85.9 303.4h1.05v1.05h-1.05zM77.1 314.6h1.05v1.05h-1.05zM72.0 311.4h1.05v1.05h-1.05zM79.4 315.7h1.05v1.05h-1.05zM82.4 319.0h1.05v1.05h-1.05zM97.9 314.8h1.05v1.05h-1.05zM87.2 311.5h1.05v1.05h-1.05zM90.7 318.0h1.05v1.05h-1.05zM102.7 308.5h1.05v1.05h-1.05zM82.1 320.2h1.05v1.05h-1.05zM87.7 321.9h1.05v1.05h-1.05zM96.7 310.9h1.05v1.05h-1.05zM64.1 321.5h1.05v1.05h-1.05zM56.6 315.9h1.05v1.05h-1.05zM59.0 306.3h1.05v1.05h-1.05zM86.7 309.1h1.05v1.05h-1.05zM61.5 303.5h1.05v1.05h-1.05zM70.7 315.4h1.05v1.05h-1.05zM65.4 322.3h1.05v1.05h-1.05zM87.5 308.5h1.05v1.05h-1.05zM80.2 304.8h1.05v1.05h-1.05zM87.9 322.6h1.05v1.05h-1.05zM85.6 322.3h1.05v1.05h-1.05zM55.1 318.8h1.05v1.05h-1.05zM53.4 311.2h1.05v1.05h-1.05zM78.1 318.1h1.05v1.05h-1.05zM66.1 306.1h1.05v1.05h-1.05zM57.3 313.8h1.05v1.05h-1.05zM60.0 308.2h1.05v1.05h-1.05zM82.3 306.3h1.05v1.05h-1.05zM88.3 319.0h1.05v1.05h-1.05zM74.1 318.3h1.05v1.05h-1.05zM82.2 311.5h1.05v1.05h-1.05zM69.9 319.2h1.05v1.05h-1.05zM93.2 312.5h1.05v1.05h-1.05zM62.1 315.8h1.05v1.05h-1.05zM60.9 322.9h1.05v1.05h-1.05zM95.0 318.7h1.05v1.05h-1.05zM89.9 306.5h1.05v1.05h-1.05zM61.0 312.4h1.05v1.05h-1.05zM75.6 311.8h1.05v1.05h-1.05zM70.4 311.5h1.05v1.05h-1.05zM90.5 321.2h1.05v1.05h-1.05zM75.2 300.0h1.05v1.05h-1.05zM65.8 316.6h1.05v1.05h-1.05zM67.2 322.9h1.05v1.05h-1.05zM54.2 308.1h1.05v1.05h-1.05zM55.1 315.9h1.05v1.05h-1.05zM68.8 303.6h1.05v1.05h-1.05zM64.2 319.4h1.05v1.05h-1.05zM70.4 312.5h1.05v1.05h-1.05zM76.9 314.2h1.05v1.05h-1.05zM92.0 305.1h1.05v1.05h-1.05zM82.6 307.3h1.05v1.05h-1.05zM64.4 306.3h1.05v1.05h-1.05zM78.1 307.0h1.05v1.05h-1.05zM59.8 318.5h1.05v1.05h-1.05zM68.2 311.7h1.05v1.05h-1.05zM86.3 318.0h1.05v1.05h-1.05zM80.7 307.4h1.05v1.05h-1.05zM56.7 320.2h1.05v1.05h-1.05zM89.6 309.4h1.05v1.05h-1.05zM78.1 313.8h1.05v1.05h-1.05zM65.4 317.7h1.05v1.05h-1.05zM95.6 312.3h1.05v1.05h-1.05zM83.8 314.4h1.05v1.05h-1.05zM60.5 321.1h1.05v1.05h-1.05zM75.0 305.1h1.05v1.05h-1.05zM87.3 302.6h1.05v1.05h-1.05zM91.0 319.0h1.05v1.05h-1.05zM82.5 306.5h1.05v1.05h-1.05zM67.6 306.5h1.05v1.05h-1.05zM59.4 307.9h1.05v1.05h-1.05zM73.1 317.7h1.05v1.05h-1.05zM75.5 315.6h1.05v1.05h-1.05zM68.5 304.2h1.05v1.05h-1.05zM60.5 307.0h1.05v1.05h-1.05zM70.5 305.8h1.05v1.05h-1.05zM87.5 306.1h1.05v1.05h-1.05zM83.7 306.3h1.05v1.05h-1.05zM94.9 321.0h1.05v1.05h-1.05zM69.0 301.2h1.05v1.05h-1.05zM78.8 312.5h1.05v1.05h-1.05zM56.4 321.3h1.05v1.05h-1.05zM53.1 311.7h1.05v1.05h-1.05zM92.1 322.9h1.05v1.05h-1.05zM91.5 306.7h1.05v1.05h-1.05zM93.2 317.0h1.05v1.05h-1.05zM71.3 313.5h1.05v1.05h-1.05zM71.6 319.1h1.05v1.05h-1.05zM70.5 320.9h1.05v1.05h-1.05zM79.5 308.8h1.05v1.05h-1.05zM66.3 302.2h1.05v1.05h-1.05zM82.5 315.7h1.05v1.05h-1.05zM74.4 313.3h1.05v1.05h-1.05zM88.2 313.3h1.05v1.05h-1.05zM91.3 314.3h1.05v1.05h-1.05zM81.2 303.0h1.05v1.05h-1.05zM90.4 312.6h1.05v1.05h-1.05zM58.2 314.0h1.05v1.05h-1.05zM80.1 303.9h1.05v1.05h-1.05zM63.8 312.1h1.05v1.05h-1.05zM84.0 308.3h1.05v1.05h-1.05zM70.2 303.5h1.05v1.05h-1.05zM76.2 315.1h1.05v1.05h-1.05zM59.1 319.8h1.05v1.05h-1.05zM94.8 320.8h1.05v1.05h-1.05zM53.6 312.5h1.05v1.05h-1.05zM63.4 316.0h1.05v1.05h-1.05zM72.6 303.0h1.05v1.05h-1.05zM88.8 309.8h1.05v1.05h-1.05zM75.6 315.9h1.05v1.05h-1.05zM71.1 317.1h1.05v1.05h-1.05zM153.7 303.6h1.05v1.05h-1.05zM127.5 320.8h1.05v1.05h-1.05zM111.3 300.7h1.05v1.05h-1.05zM126.1 316.7h1.05v1.05h-1.05zM117.5 315.8h1.05v1.05h-1.05zM117.7 316.8h1.05v1.05h-1.05zM130.9 280.7h1.05v1.05h-1.05zM177.9 300.7h1.05v1.05h-1.05zM110.7 291.2h1.05v1.05h-1.05zM166.5 320.8h1.05v1.05h-1.05zM126.6 301.3h1.05v1.05h-1.05zM108.1 314.6h1.05v1.05h-1.05zM112.9 308.1h1.05v1.05h-1.05zM161.1 280.3h1.05v1.05h-1.05zM149.8 315.0h1.05v1.05h-1.05zM139.6 294.7h1.05v1.05h-1.05zM172.4 304.4h1.05v1.05h-1.05zM138.0 310.1h1.05v1.05h-1.05zM147.3 285.9h1.05v1.05h-1.05zM109.2 301.1h1.05v1.05h-1.05zM120.0 308.8h1.05v1.05h-1.05zM105.4 282.8h1.05v1.05h-1.05zM140.8 308.9h1.05v1.05h-1.05zM102.4 282.2h1.05v1.05h-1.05zM123.1 291.3h1.05v1.05h-1.05zM167.5 303.3h1.05v1.05h-1.05zM133.9 286.2h1.05v1.05h-1.05zM109.0 308.5h1.05v1.05h-1.05zM166.0 294.7h1.05v1.05h-1.05zM162.6 301.1h1.05v1.05h-1.05zM134.1 281.0h1.05v1.05h-1.05zM140.0 291.1h1.05v1.05h-1.05zM153.3 319.2h1.05v1.05h-1.05zM164.0 310.5h1.05v1.05h-1.05zM150.8 318.9h1.05v1.05h-1.05zM176.1 303.1h1.05v1.05h-1.05zM160.1 296.9h1.05v1.05h-1.05zM136.3 315.7h1.05v1.05h-1.05zM131.9 318.5h1.05v1.05h-1.05zM139.0 282.6h1.05v1.05h-1.05zM152.7 311.1h1.05v1.05h-1.05zM159.5 300.3h1.05v1.05h-1.05zM124.0 298.0h1.05v1.05h-1.05zM134.2 297.8h1.05v1.05h-1.05zM170.0 318.3h1.05v1.05h-1.05zM114.5 302.3h1.05v1.05h-1.05zM154.3 297.6h1.05v1.05h-1.05zM179.3 306.8h1.05v1.05h-1.05zM98.2 296.7h1.05v1.05h-1.05zM151.8 297.1h1.05v1.05h-1.05zM164.1 282.5h1.05v1.05h-1.05zM141.9 291.9h1.05v1.05h-1.05zM105.1 312.6h1.05v1.05h-1.05zM100.9 304.0h1.05v1.05h-1.05zM110.8 316.5h1.05v1.05h-1.05zM110.4 298.0h1.05v1.05h-1.05zM104.8 314.5h1.05v1.05h-1.05zM109.6 296.8h1.05v1.05h-1.05zM125.2 298.5h1.05v1.05h-1.05zM145.0 300.7h1.05v1.05h-1.05zM126.1 306.6h1.05v1.05h-1.05zM154.2 310.9h1.05v1.05h-1.05zM110.8 297.8h1.05v1.05h-1.05zM117.6 285.7h1.05v1.05h-1.05zM106.2 309.9h1.05v1.05h-1.05zM104.9 282.2h1.05v1.05h-1.05zM128.7 321.0h1.05v1.05h-1.05zM132.3 291.3h1.05v1.05h-1.05zM166.9 317.2h1.05v1.05h-1.05zM120.6 319.5h1.05v1.05h-1.05zM152.0 282.2h1.05v1.05h-1.05zM108.9 283.9h1.05v1.05h-1.05zM161.1 299.0h1.05v1.05h-1.05zM115.3 320.7h1.05v1.05h-1.05zM138.6 321.9h1.05v1.05h-1.05zM163.7 292.1h1.05v1.05h-1.05zM126.9 310.2h1.05v1.05h-1.05zM149.6 299.8h1.05v1.05h-1.05zM98.9 287.9h1.05v1.05h-1.05zM138.2 310.6h1.05v1.05h-1.05zM115.6 302.0h1.05v1.05h-1.05zM107.9 284.7h1.05v1.05h-1.05zM99.9 296.7h1.05v1.05h-1.05zM117.6 317.0h1.05v1.05h-1.05zM161.5 315.7h1.05v1.05h-1.05zM103.6 306.9h1.05v1.05h-1.05zM127.0 286.5h1.05v1.05h-1.05zM128.6 284.5h1.05v1.05h-1.05zM163.8 306.5h1.05v1.05h-1.05zM160.6 310.8h1.05v1.05h-1.05zM96.7 319.0h1.05v1.05h-1.05zM142.4 305.5h1.05v1.05h-1.05zM131.4 305.0h1.05v1.05h-1.05zM100.0 320.4h1.05v1.05h-1.05zM137.2 300.1h1.05v1.05h-1.05zM172.9 304.7h1.05v1.05h-1.05zM138.1 292.4h1.05v1.05h-1.05zM118.8 317.8h1.05v1.05h-1.05zM129.1 281.1h1.05v1.05h-1.05zM106.6 319.0h1.05v1.05h-1.05zM120.9 313.9h1.05v1.05h-1.05zM159.2 320.2h1.05v1.05h-1.05zM174.0 305.1h1.05v1.05h-1.05zM102.0 317.6h1.05v1.05h-1.05zM174.0 282.0h1.05v1.05h-1.05zM141.5 292.7h1.05v1.05h-1.05zM167.4 321.6h1.05v1.05h-1.05zM99.3 280.9h1.05v1.05h-1.05zM118.2 298.6h1.05v1.05h-1.05zM149.7 300.0h1.05v1.05h-1.05zM138.2 314.0h1.05v1.05h-1.05zM135.6 314.2h1.05v1.05h-1.05zM163.6 308.2h1.05v1.05h-1.05zM106.5 298.3h1.05v1.05h-1.05zM142.0 293.4h1.05v1.05h-1.05zM133.0 320.9h1.05v1.05h-1.05zM151.7 316.8h1.05v1.05h-1.05zM123.0 296.6h1.05v1.05h-1.05zM115.7 306.8h1.05v1.05h-1.05zM161.6 318.4h1.05v1.05h-1.05zM169.1 312.0h1.05v1.05h-1.05zM100.1 295.1h1.05v1.05h-1.05zM103.0 308.2h1.05v1.05h-1.05zM156.5 280.3h1.05v1.05h-1.05zM125.9 312.7h1.05v1.05h-1.05zM104.4 308.8h1.05v1.05h-1.05zM151.4 280.6h1.05v1.05h-1.05zM175.8 295.2h1.05v1.05h-1.05zM109.6 295.2h1.05v1.05h-1.05zM105.5 294.4h1.05v1.05h-1.05zM99.0 290.8h1.05v1.05h-1.05zM159.0 320.9h1.05v1.05h-1.05zM167.1 306.4h1.05v1.05h-1.05zM141.2 292.6h1.05v1.05h-1.05zM114.0 292.6h1.05v1.05h-1.05zM132.4 292.5h1.05v1.05h-1.05zM170.0 321.6h1.05v1.05h-1.05zM177.4 292.8h1.05v1.05h-1.05zM153.7 296.8h1.05v1.05h-1.05zM176.3 288.1h1.05v1.05h-1.05zM165.9 293.8h1.05v1.05h-1.05zM124.5 283.8h1.05v1.05h-1.05zM142.4 316.5h1.05v1.05h-1.05zM134.6 286.4h1.05v1.05h-1.05zM107.8 314.0h1.05v1.05h-1.05zM105.1 304.4h1.05v1.05h-1.05zM128.8 320.2h1.05v1.05h-1.05zM179.4 313.1h1.05v1.05h-1.05zM145.1 306.9h1.05v1.05h-1.05zM176.1 308.1h1.05v1.05h-1.05zM181.0 276.4h1.05v1.05h-1.05zM181.0 284.8h1.05v1.05h-1.05zM181.0 295.6h1.05v1.05h-1.05zM181.0 280.3h1.05v1.05h-1.05zM181.0 279.8h1.05v1.05h-1.05zM181.0 296.8h1.05v1.05h-1.05zM181.0 282.8h1.05v1.05h-1.05zM181.0 291.0h1.05v1.05h-1.05zM181.0 278.3h1.05v1.05h-1.05zM181.0 285.7h1.05v1.05h-1.05zM181.0 303.7h1.05v1.05h-1.05zM181.0 303.4h1.05v1.05h-1.05zM181.0 286.8h1.05v1.05h-1.05zM181.0 293.7h1.05v1.05h-1.05zM181.0 287.5h1.05v1.05h-1.05zM181.0 299.5h1.05v1.05h-1.05zM181.0 279.7h1.05v1.05h-1.05zM181.0 293.6h1.05v1.05h-1.05zM301.0 287.9h1.05v1.05h-1.05zM321.7 294.9h1.05v1.05h-1.05zM324.9 288.4h1.05v1.05h-1.05zM319.7 300.0h1.05v1.05h-1.05zM330.3 295.8h1.05v1.05h-1.05zM324.2 301.2h1.05v1.05h-1.05zM311.9 287.0h1.05v1.05h-1.05zM304.3 290.7h1.05v1.05h-1.05zM308.7 298.6h1.05v1.05h-1.05zM320.8 288.2h1.05v1.05h-1.05zM315.6 297.8h1.05v1.05h-1.05zM318.3 287.9h1.05v1.05h-1.05zM299.1 298.6h1.05v1.05h-1.05zM309.5 293.6h1.05v1.05h-1.05zM325.3 290.2h1.05v1.05h-1.05zM297.3 290.2h1.05v1.05h-1.05zM325.0 293.2h1.05v1.05h-1.05zM316.7 297.7h1.05v1.05h-1.05zM330.9 290.2h1.05v1.05h-1.05zM315.2 296.4h1.05v1.05h-1.05zM309.3 296.1h1.05v1.05h-1.05zM295.5 297.3h1.05v1.05h-1.05zM299.1 300.6h1.05v1.05h-1.05zM310.5 284.8h1.05v1.05h-1.05zM306.8 298.8h1.05v1.05h-1.05zM308.9 294.3h1.05v1.05h-1.05zM310.2 295.7h1.05v1.05h-1.05zM322.8 300.5h1.05v1.05h-1.05zM322.1 293.4h1.05v1.05h-1.05zM328.3 285.3h1.05v1.05h-1.05zM298.0 287.8h1.05v1.05h-1.05zM309.0 295.6h1.05v1.05h-1.05zM301.6 294.4h1.05v1.05h-1.05zM319.5 297.0h1.05v1.05h-1.05zM314.4 300.6h1.05v1.05h-1.05zM324.1 289.6h1.05v1.05h-1.05zM309.1 284.8h1.05v1.05h-1.05zM302.9 289.0h1.05v1.05h-1.05zM306.5 283.9h1.05v1.05h-1.05zM308.3 294.2h1.05v1.05h-1.05zM299.3 290.8h1.05v1.05h-1.05zM317.5 298.0h1.05v1.05h-1.05zM302.0 291.0h1.05v1.05h-1.05zM308.6 297.5h1.05v1.05h-1.05zM319.1 291.3h1.05v1.05h-1.05zM306.6 295.4h1.05v1.05h-1.05zM305.1 296.0h1.05v1.05h-1.05zM297.2 289.4h1.05v1.05h-1.05zM326.3 294.6h1.05v1.05h-1.05zM300.7 300.0h1.05v1.05h-1.05zM311.3 294.0h1.05v1.05h-1.05zM311.9 306.3h1.05v1.05h-1.05zM306.6 288.5h1.05v1.05h-1.05zM316.4 298.4h1.05v1.05h-1.05zM302.0 291.9h1.05v1.05h-1.05zM326.1 298.6h1.05v1.05h-1.05zM324.8 292.6h1.05v1.05h-1.05zM311.5 287.7h1.05v1.05h-1.05zM289.9 299.9h1.05v1.05h-1.05zM300.0 293.8h1.05v1.05h-1.05zM302.4 293.6h1.05v1.05h-1.05zM304.6 304.7h1.05v1.05h-1.05zM310.8 290.4h1.05v1.05h-1.05zM315.5 289.2h1.05v1.05h-1.05zM320.5 286.8h1.05v1.05h-1.05zM303.1 300.1h1.05v1.05h-1.05zM315.9 290.7h1.05v1.05h-1.05zM318.7 288.5h1.05v1.05h-1.05zM319.6 303.0h1.05v1.05h-1.05zM326.0 287.9h1.05v1.05h-1.05zM324.4 302.4h1.05v1.05h-1.05zM313.1 295.9h1.05v1.05h-1.05zM315.0 291.5h1.05v1.05h-1.05zM308.1 297.5h1.05v1.05h-1.05zM319.5 294.3h1.05v1.05h-1.05zM294.0 297.7h1.05v1.05h-1.05zM291.6 301.7h1.05v1.05h-1.05zM317.7 288.5h1.05v1.05h-1.05zM319.4 299.4h1.05v1.05h-1.05zM306.5 285.2h1.05v1.05h-1.05zM321.3 295.4h1.05v1.05h-1.05zM306.4 299.5h1.05v1.05h-1.05zM304.2 300.9h1.05v1.05h-1.05zM326.7 290.3h1.05v1.05h-1.05zM305.5 298.9h1.05v1.05h-1.05zM311.6 283.1h1.05v1.05h-1.05zM321.6 291.5h1.05v1.05h-1.05zM322.3 286.2h1.05v1.05h-1.05zM314.4 297.2h1.05v1.05h-1.05zM316.3 289.0h1.05v1.05h-1.05zM296.5 298.6h1.05v1.05h-1.05zM321.2 295.4h1.05v1.05h-1.05zM316.1 290.3h1.05v1.05h-1.05zM301.2 302.0h1.05v1.05h-1.05zM326.2 306.2h1.05v1.05h-1.05zM315.4 289.2h1.05v1.05h-1.05zM285.7 296.7h1.05v1.05h-1.05zM322.5 298.8h1.05v1.05h-1.05zM318.3 288.0h1.05v1.05h-1.05zM323.3 303.7h1.05v1.05h-1.05zM327.8 283.9h1.05v1.05h-1.05zM298.2 286.9h1.05v1.05h-1.05zM320.7 295.2h1.05v1.05h-1.05zM302.4 289.5h1.05v1.05h-1.05zM317.7 285.0h1.05v1.05h-1.05zM316.4 297.9h1.05v1.05h-1.05zM332.5 295.5h1.05v1.05h-1.05zM294.7 303.8h1.05v1.05h-1.05zM314.3 294.7h1.05v1.05h-1.05zM306.0 296.7h1.05v1.05h-1.05zM305.5 292.5h1.05v1.05h-1.05zM307.5 302.4h1.05v1.05h-1.05zM319.5 287.5h1.05v1.05h-1.05zM312.7 292.1h1.05v1.05h-1.05zM314.5 298.4h1.05v1.05h-1.05zM310.0 302.9h1.05v1.05h-1.05zM324.2 289.3h1.05v1.05h-1.05zM312.4 288.7h1.05v1.05h-1.05zM297.2 286.6h1.05v1.05h-1.05zM300.9 288.5h1.05v1.05h-1.05zM316.5 296.9h1.05v1.05h-1.05zM305.1 289.0h1.05v1.05h-1.05zM314.0 298.0h1.05v1.05h-1.05zM324.9 296.2h1.05v1.05h-1.05zM316.3 285.5h1.05v1.05h-1.05zM308.4 297.8h1.05v1.05h-1.05zM304.9 289.9h1.05v1.05h-1.05zM333.5 300.9h1.05v1.05h-1.05zM311.6 300.8h1.05v1.05h-1.05zM314.5 290.8h1.05v1.05h-1.05zM310.3 293.4h1.05v1.05h-1.05zM320.9 293.4h1.05v1.05h-1.05zM310.8 287.3h1.05v1.05h-1.05zM300.3 293.3h1.05v1.05h-1.05zM310.0 298.0h1.05v1.05h-1.05zM316.6 295.9h1.05v1.05h-1.05zM301.4 297.7h1.05v1.05h-1.05zM297.1 295.8h1.05v1.05h-1.05zM316.7 303.3h1.05v1.05h-1.05zM307.2 295.6h1.05v1.05h-1.05zM311.4 285.4h1.05v1.05h-1.05zM320.0 291.8h1.05v1.05h-1.05zM318.0 287.2h1.05v1.05h-1.05zM316.2 298.9h1.05v1.05h-1.05zM311.8 307.7h1.05v1.05h-1.05zM314.2 299.8h1.05v1.05h-1.05zM292.6 299.6h1.05v1.05h-1.05zM296.1 288.0h1.05v1.05h-1.05zM303.1 291.7h1.05v1.05h-1.05zM328.5 293.3h1.05v1.05h-1.05zM312.1 290.8h1.05v1.05h-1.05zM310.1 283.9h1.05v1.05h-1.05zM314.0 296.2h1.05v1.05h-1.05zM303.4 294.9h1.05v1.05h-1.05zM301.2 283.5h1.05v1.05h-1.05zM314.6 284.0h1.05v1.05h-1.05zM317.7 301.5h1.05v1.05h-1.05zM292.0 297.9h1.05v1.05h-1.05zM316.8 298.0h1.05v1.05h-1.05zM325.2 304.9h1.05v1.05h-1.05zM315.1 297.0h1.05v1.05h-1.05zM311.9 293.7h1.05v1.05h-1.05zM324.1 300.7h1.05v1.05h-1.05zM314.5 305.7h1.05v1.05h-1.05zM328.0 303.6h1.05v1.05h-1.05zM315.3 298.0h1.05v1.05h-1.05zM332.0 304.6h1.05v1.05h-1.05zM320.9 293.0h1.05v1.05h-1.05zM311.4 297.0h1.05v1.05h-1.05zM313.6 302.8h1.05v1.05h-1.05zM322.0 285.2h1.05v1.05h-1.05zM316.2 299.8h1.05v1.05h-1.05zM303.7 287.2h1.05v1.05h-1.05zM312.8 295.0h1.05v1.05h-1.05zM327.6 296.3h1.05v1.05h-1.05zM323.3 304.8h1.05v1.05h-1.05zM325.5 292.9h1.05v1.05h-1.05zM314.7 293.0h1.05v1.05h-1.05zM304.7 302.0h1.05v1.05h-1.05zM300.5 288.4h1.05v1.05h-1.05zM302.1 295.5h1.05v1.05h-1.05zM311.4 298.2h1.05v1.05h-1.05zM301.8 294.3h1.05v1.05h-1.05zM318.1 299.2h1.05v1.05h-1.05zM300.0 291.6h1.05v1.05h-1.05zM295.7 299.1h1.05v1.05h-1.05zM310.6 297.6h1.05v1.05h-1.05zM310.7 289.0h1.05v1.05h-1.05zM295.7 305.0h1.05v1.05h-1.05zM295.0 286.4h1.05v1.05h-1.05zM323.3 288.0h1.05v1.05h-1.05zM316.4 302.9h1.05v1.05h-1.05zM324.2 299.2h1.05v1.05h-1.05zM315.1 302.3h1.05v1.05h-1.05zM315.5 298.9h1.05v1.05h-1.05zM310.3 292.9h1.05v1.05h-1.05zM299.1 304.1h1.05v1.05h-1.05zM314.2 306.7h1.05v1.05h-1.05zM296.7 285.6h1.05v1.05h-1.05zM308.3 289.3h1.05v1.05h-1.05zM309.7 290.9h1.05v1.05h-1.05zM307.1 295.1h1.05v1.05h-1.05zM326.3 298.9h1.05v1.05h-1.05zM303.6 294.3h1.05v1.05h-1.05zM309.7 305.0h1.05v1.05h-1.05zM291.7 290.1h1.05v1.05h-1.05zM315.4 290.8h1.05v1.05h-1.05zM322.1 290.4h1.05v1.05h-1.05zM311.8 300.3h1.05v1.05h-1.05zM329.5 302.8h1.05v1.05h-1.05zM308.5 302.0h1.05v1.05h-1.05zM303.8 293.3h1.05v1.05h-1.05zM323.3 286.9h1.05v1.05h-1.05zM324.3 288.4h1.05v1.05h-1.05zM319.4 295.9h1.05v1.05h-1.05zM317.6 297.3h1.05v1.05h-1.05zM299.1 295.1h1.05v1.05h-1.05zM319.2 293.8h1.05v1.05h-1.05zM319.7 286.9h1.05v1.05h-1.05zM305.5 303.2h1.05v1.05h-1.05zM314.1 295.8h1.05v1.05h-1.05zM315.1 302.7h1.05v1.05h-1.05zM305.7 300.1h1.05v1.05h-1.05zM312.3 294.8h1.05v1.05h-1.05zM302.9 303.9h1.05v1.05h-1.05zM315.8 292.3h1.05v1.05h-1.05zM310.2 290.9h1.05v1.05h-1.05zM321.2 286.4h1.05v1.05h-1.05zM307.0 293.9h1.05v1.05h-1.05zM313.3 289.9h1.05v1.05h-1.05zM303.5 300.0h1.05v1.05h-1.05zM327.5 289.7h1.05v1.05h-1.05zM308.4 292.2h1.05v1.05h-1.05zM304.6 299.3h1.05v1.05h-1.05zM288.8 286.1h1.05v1.05h-1.05zM307.5 296.0h1.05v1.05h-1.05zM314.9 298.4h1.05v1.05h-1.05zM317.4 293.2h1.05v1.05h-1.05zM309.8 297.5h1.05v1.05h-1.05zM322.3 301.3h1.05v1.05h-1.05zM309.2 292.2h1.05v1.05h-1.05zM324.7 299.3h1.05v1.05h-1.05zM326.4 295.4h1.05v1.05h-1.05zM309.6 298.7h1.05v1.05h-1.05zM297.5 299.9h1.05v1.05h-1.05zM307.6 291.8h1.05v1.05h-1.05zM312.2 287.9h1.05v1.05h-1.05zM306.7 303.6h1.05v1.05h-1.05zM300.6 295.8h1.05v1.05h-1.05zM302.6 302.0h1.05v1.05h-1.05zM329.5 283.1h1.05v1.05h-1.05zM315.7 296.8h1.05v1.05h-1.05zM320.0 301.5h1.05v1.05h-1.05zM316.6 299.7h1.05v1.05h-1.05zM306.5 306.5h1.05v1.05h-1.05zM319.1 289.2h1.05v1.05h-1.05zM310.4 294.8h1.05v1.05h-1.05zM301.3 291.4h1.05v1.05h-1.05zM304.0 300.9h1.05v1.05h-1.05zM329.1 297.1h1.05v1.05h-1.05zM326.1 288.9h1.05v1.05h-1.05zM313.5 293.1h1.05v1.05h-1.05zM319.9 291.0h1.05v1.05h-1.05zM311.2 294.5h1.05v1.05h-1.05zM308.1 288.6h1.05v1.05h-1.05zM319.1 289.1h1.05v1.05h-1.05zM313.8 286.6h1.05v1.05h-1.05zM297.8 288.5h1.05v1.05h-1.05zM303.1 300.5h1.05v1.05h-1.05zM303.8 291.6h1.05v1.05h-1.05zM305.8 297.1h1.05v1.05h-1.05zM320.7 291.1h1.05v1.05h-1.05zM309.1 302.0h1.05v1.05h-1.05zM324.7 295.8h1.05v1.05h-1.05zM306.2 302.3h1.05v1.05h-1.05zM307.9 283.6h1.05v1.05h-1.05zM309.4 291.5h1.05v1.05h-1.05zM318.1 294.6h1.05v1.05h-1.05zM314.0 304.5h1.05v1.05h-1.05zM308.7 290.3h1.05v1.05h-1.05zM313.0 297.0h1.05v1.05h-1.05zM301.4 298.7h1.05v1.05h-1.05zM296.8 289.3h1.05v1.05h-1.05zM316.9 303.3h1.05v1.05h-1.05zM309.6 300.5h1.05v1.05h-1.05zM310.5 289.6h1.05v1.05h-1.05zM308.6 298.9h1.05v1.05h-1.05zM317.6 304.5h1.05v1.05h-1.05zM316.0 303.1h1.05v1.05h-1.05zM326.1 289.1h1.05v1.05h-1.05zM302.0 294.0h1.05v1.05h-1.05zM322.8 303.1h1.05v1.05h-1.05zM306.3 292.9h1.05v1.05h-1.05zM303.2 291.6h1.05v1.05h-1.05zM334.9 295.1h1.05v1.05h-1.05zM301.8 289.9h1.05v1.05h-1.05zM296.2 300.4h1.05v1.05h-1.05zM312.1 308.7h1.05v1.05h-1.05zM329.1 289.6h1.05v1.05h-1.05zM299.9 287.4h1.05v1.05h-1.05zM321.9 312.3h1.05v1.05h-1.05zM309.5 292.4h1.05v1.05h-1.05zM310.4 290.4h1.05v1.05h-1.05zM295.9 291.4h1.05v1.05h-1.05zM299.7 294.5h1.05v1.05h-1.05zM309.0 292.5h1.05v1.05h-1.05zM316.5 287.0h1.05v1.05h-1.05zM322.2 299.5h1.05v1.05h-1.05zM320.4 290.9h1.05v1.05h-1.05zM312.3 302.0h1.05v1.05h-1.05zM315.7 286.0h1.05v1.05h-1.05zM316.2 292.6h1.05v1.05h-1.05zM309.6 294.3h1.05v1.05h-1.05zM297.8 290.3h1.05v1.05h-1.05zM301.3 289.8h1.05v1.05h-1.05zM316.0 300.2h1.05v1.05h-1.05zM316.1 299.5h1.05v1.05h-1.05zM310.9 293.2h1.05v1.05h-1.05zM304.1 299.6h1.05v1.05h-1.05zM311.7 297.5h1.05v1.05h-1.05zM314.2 305.2h1.05v1.05h-1.05zM304.2 293.2h1.05v1.05h-1.05zM301.5 291.2h1.05v1.05h-1.05zM318.1 293.7h1.05v1.05h-1.05zM290.6 289.4h1.05v1.05h-1.05zM313.7 295.1h1.05v1.05h-1.05zM307.3 298.2h1.05v1.05h-1.05zM310.3 294.9h1.05v1.05h-1.05zM318.4 298.5h1.05v1.05h-1.05zM296.4 293.1h1.05v1.05h-1.05zM323.6 296.0h1.05v1.05h-1.05zM322.6 292.4h1.05v1.05h-1.05zM318.8 294.7h1.05v1.05h-1.05zM310.1 296.0h1.05v1.05h-1.05zM321.5 291.2h1.05v1.05h-1.05zM311.0 291.6h1.05v1.05h-1.05zM309.0 294.5h1.05v1.05h-1.05zM309.9 295.1h1.05v1.05h-1.05zM323.0 289.7h1.05v1.05h-1.05zM292.0 304.3h1.05v1.05h-1.05zM329.4 287.6h1.05v1.05h-1.05zM307.6 300.0h1.05v1.05h-1.05zM310.6 291.8h1.05v1.05h-1.05zM303.3 284.7h1.05v1.05h-1.05zM323.3 294.2h1.05v1.05h-1.05zM295.5 297.8h1.05v1.05h-1.05zM320.9 295.7h1.05v1.05h-1.05zM315.4 286.6h1.05v1.05h-1.05zM316.6 293.3h1.05v1.05h-1.05zM307.4 290.1h1.05v1.05h-1.05zM313.7 311.3h1.05v1.05h-1.05zM309.8 295.2h1.05v1.05h-1.05zM311.0 294.6h1.05v1.05h-1.05zM327.8 300.5h1.05v1.05h-1.05zM331.5 305.5h1.05v1.05h-1.05zM297.4 302.1h1.05v1.05h-1.05zM312.3 286.5h1.05v1.05h-1.05zM300.3 294.3h1.05v1.05h-1.05zM324.8 300.5h1.05v1.05h-1.05zM314.8 290.8h1.05v1.05h-1.05zM311.7 297.5h1.05v1.05h-1.05zM317.9 293.1h1.05v1.05h-1.05zM295.4 290.0h1.05v1.05h-1.05zM317.5 295.0h1.05v1.05h-1.05zM319.0 299.1h1.05v1.05h-1.05zM305.5 297.7h1.05v1.05h-1.05zM322.3 290.3h1.05v1.05h-1.05zM305.6 301.3h1.05v1.05h-1.05zM308.7 295.9h1.05v1.05h-1.05zM310.9 295.0h1.05v1.05h-1.05zM311.1 302.1h1.05v1.05h-1.05zM314.9 295.7h1.05v1.05h-1.05zM316.6 293.7h1.05v1.05h-1.05zM304.6 288.4h1.05v1.05h-1.05zM330.0 292.0h1.05v1.05h-1.05zM304.1 300.0h1.05v1.05h-1.05zM320.4 299.8h1.05v1.05h-1.05zM319.9 289.6h1.05v1.05h-1.05zM332.7 303.1h1.05v1.05h-1.05zM311.4 294.1h1.05v1.05h-1.05zM291.2 290.4h1.05v1.05h-1.05zM321.7 301.8h1.05v1.05h-1.05zM309.7 290.5h1.05v1.05h-1.05zM313.0 294.0h1.05v1.05h-1.05zM312.2 299.9h1.05v1.05h-1.05zM289.0 295.5h1.05v1.05h-1.05zM297.6 299.0h1.05v1.05h-1.05zM304.3 285.5h1.05v1.05h-1.05zM317.2 299.7h1.05v1.05h-1.05zM306.0 304.4h1.05v1.05h-1.05zM308.2 292.4h1.05v1.05h-1.05zM313.1 294.3h1.05v1.05h-1.05zM306.4 304.9h1.05v1.05h-1.05zM309.8 298.8h1.05v1.05h-1.05zM307.6 291.2h1.05v1.05h-1.05zM306.8 288.1h1.05v1.05h-1.05zM322.2 287.2h1.05v1.05h-1.05zM312.4 297.3h1.05v1.05h-1.05zM294.3 298.2h1.05v1.05h-1.05zM303.1 291.8h1.05v1.05h-1.05zM301.5 299.2h1.05v1.05h-1.05zM297.8 288.3h1.05v1.05h-1.05zM314.1 307.7h1.05v1.05h-1.05zM321.8 302.2h1.05v1.05h-1.05zM302.4 302.4h1.05v1.05h-1.05zM310.0 293.5h1.05v1.05h-1.05zM315.5 289.4h1.05v1.05h-1.05zM315.3 301.5h1.05v1.05h-1.05zM315.9 304.0h1.05v1.05h-1.05zM309.2 299.6h1.05v1.05h-1.05zM323.5 295.5h1.05v1.05h-1.05zM309.0 304.7h1.05v1.05h-1.05zM315.5 298.9h1.05v1.05h-1.05zM306.5 298.2h1.05v1.05h-1.05zM317.7 298.7h1.05v1.05h-1.05zM315.1 297.9h1.05v1.05h-1.05zM312.1 297.8h1.05v1.05h-1.05zM310.6 293.5h1.05v1.05h-1.05zM297.6 295.8h1.05v1.05h-1.05zM309.0 310.6h1.05v1.05h-1.05zM322.0 304.4h1.05v1.05h-1.05zM306.8 293.4h1.05v1.05h-1.05zM299.5 292.3h1.05v1.05h-1.05zM320.4 291.0h1.05v1.05h-1.05zM321.4 297.4h1.05v1.05h-1.05zM300.5 289.6h1.05v1.05h-1.05zM309.6 299.6h1.05v1.05h-1.05zM305.4 290.6h1.05v1.05h-1.05zM310.8 295.6h1.05v1.05h-1.05zM314.0 299.7h1.05v1.05h-1.05zM296.3 293.6h1.05v1.05h-1.05zM317.8 305.2h1.05v1.05h-1.05zM319.2 295.0h1.05v1.05h-1.05zM315.1 290.6h1.05v1.05h-1.05zM319.2 288.9h1.05v1.05h-1.05zM303.6 291.4h1.05v1.05h-1.05zM313.9 301.7h1.05v1.05h-1.05zM312.1 304.6h1.05v1.05h-1.05zM323.6 303.8h1.05v1.05h-1.05zM320.1 298.1h1.05v1.05h-1.05zM313.6 301.5h1.05v1.05h-1.05zM315.1 292.9h1.05v1.05h-1.05zM320.6 301.8h1.05v1.05h-1.05zM311.7 291.4h1.05v1.05h-1.05zM312.4 285.0h1.05v1.05h-1.05zM323.2 294.1h1.05v1.05h-1.05zM322.8 299.8h1.05v1.05h-1.05zM310.9 296.2h1.05v1.05h-1.05zM293.9 295.1h1.05v1.05h-1.05zM301.9 300.7h1.05v1.05h-1.05zM310.8 298.6h1.05v1.05h-1.05zM308.6 289.8h1.05v1.05h-1.05zM304.5 303.3h1.05v1.05h-1.05zM317.3 295.1h1.05v1.05h-1.05zM315.0 290.8h1.05v1.05h-1.05zM314.2 292.9h1.05v1.05h-1.05zM333.5 289.6h1.05v1.05h-1.05zM313.8 288.2h1.05v1.05h-1.05zM300.2 285.9h1.05v1.05h-1.05zM326.9 299.5h1.05v1.05h-1.05zM324.5 300.7h1.05v1.05h-1.05zM310.4 289.0h1.05v1.05h-1.05zM304.7 286.9h1.05v1.05h-1.05zM309.6 292.2h1.05v1.05h-1.05zM307.6 304.7h1.05v1.05h-1.05zM299.4 295.8h1.05v1.05h-1.05zM304.5 293.0h1.05v1.05h-1.05zM309.3 302.4h1.05v1.05h-1.05zM306.4 296.1h1.05v1.05h-1.05zM330.1 306.5h1.05v1.05h-1.05zM318.3 299.2h1.05v1.05h-1.05zM331.1 300.5h1.05v1.05h-1.05zM311.1 292.1h1.05v1.05h-1.05zM306.7 297.4h1.05v1.05h-1.05zM312.5 304.8h1.05v1.05h-1.05zM308.8 302.7h1.05v1.05h-1.05zM317.1 297.2h1.05v1.05h-1.05zM323.1 296.5h1.05v1.05h-1.05zM313.2 285.9h1.05v1.05h-1.05zM310.9 288.4h1.05v1.05h-1.05zM314.1 295.1h1.05v1.05h-1.05zM310.9 289.5h1.05v1.05h-1.05zM307.2 303.0h1.05v1.05h-1.05zM320.9 293.5h1.05v1.05h-1.05zM324.7 294.0h1.05v1.05h-1.05zM297.0 293.4h1.05v1.05h-1.05zM310.6 289.7h1.05v1.05h-1.05zM306.2 296.9h1.05v1.05h-1.05zM304.1 294.5h1.05v1.05h-1.05zM315.8 289.1h1.05v1.05h-1.05zM307.5 288.8h1.05v1.05h-1.05zM316.9 303.9h1.05v1.05h-1.05zM318.2 283.9h1.05v1.05h-1.05zM320.6 289.5h1.05v1.05h-1.05zM313.2 287.9h1.05v1.05h-1.05zM329.8 296.8h1.05v1.05h-1.05zM307.1 296.2h1.05v1.05h-1.05zM326.5 284.6h1.05v1.05h-1.05zM320.3 295.1h1.05v1.05h-1.05zM294.0 296.1h1.05v1.05h-1.05zM317.4 292.5h1.05v1.05h-1.05zM300.4 289.8h1.05v1.05h-1.05zM311.9 299.8h1.05v1.05h-1.05zM313.4 299.5h1.05v1.05h-1.05zM301.1 286.9h1.05v1.05h-1.05zM324.1 305.1h1.05v1.05h-1.05zM307.9 295.3h1.05v1.05h-1.05zM311.7 299.2h1.05v1.05h-1.05zM316.8 296.4h1.05v1.05h-1.05zM310.8 282.8h1.05v1.05h-1.05zM325.4 286.9h1.05v1.05h-1.05zM302.3 283.7h1.05v1.05h-1.05zM304.6 287.6h1.05v1.05h-1.05zM305.3 288.1h1.05v1.05h-1.05zM314.8 295.6h1.05v1.05h-1.05zM297.2 300.3h1.05v1.05h-1.05zM302.0 306.8h1.05v1.05h-1.05zM311.2 295.7h1.05v1.05h-1.05zM309.2 297.7h1.05v1.05h-1.05zM313.0 292.1h1.05v1.05h-1.05zM304.9 299.8h1.05v1.05h-1.05zM321.9 289.7h1.05v1.05h-1.05zM309.0 292.0h1.05v1.05h-1.05zM304.6 294.3h1.05v1.05h-1.05zM303.4 288.6h1.05v1.05h-1.05zM307.1 296.9h1.05v1.05h-1.05zM303.2 286.5h1.05v1.05h-1.05zM312.9 296.9h1.05v1.05h-1.05zM320.1 283.2h1.05v1.05h-1.05zM309.2 298.5h1.05v1.05h-1.05zM328.2 299.6h1.05v1.05h-1.05zM300.4 295.2h1.05v1.05h-1.05zM309.6 296.8h1.05v1.05h-1.05zM318.2 303.8h1.05v1.05h-1.05zM304.6 299.6h1.05v1.05h-1.05zM308.2 290.3h1.05v1.05h-1.05zM304.5 290.8h1.05v1.05h-1.05zM317.4 297.3h1.05v1.05h-1.05zM286.5 294.4h1.05v1.05h-1.05zM317.6 297.8h1.05v1.05h-1.05zM318.9 293.0h1.05v1.05h-1.05zM316.1 283.0h1.05v1.05h-1.05zM309.3 288.4h1.05v1.05h-1.05zM294.7 284.3h1.05v1.05h-1.05zM306.5 296.2h1.05v1.05h-1.05zM291.0 292.3h1.05v1.05h-1.05zM315.3 290.0h1.05v1.05h-1.05zM318.7 291.0h1.05v1.05h-1.05zM316.2 295.9h1.05v1.05h-1.05zM324.0 303.1h1.05v1.05h-1.05zM299.8 301.7h1.05v1.05h-1.05zM326.9 283.1h1.05v1.05h-1.05zM325.6 297.9h1.05v1.05h-1.05zM302.8 303.0h1.05v1.05h-1.05zM316.2 291.4h1.05v1.05h-1.05zM308.2 293.5h1.05v1.05h-1.05zM311.9 294.6h1.05v1.05h-1.05zM309.5 289.5h1.05v1.05h-1.05zM312.1 298.2h1.05v1.05h-1.05zM321.6 292.0h1.05v1.05h-1.05zM286.8 295.8h1.05v1.05h-1.05zM289.2 308.3h1.05v1.05h-1.05zM309.9 316.0h1.05v1.05h-1.05zM305.5 315.8h1.05v1.05h-1.05zM303.0 308.0h1.05v1.05h-1.05zM316.0 299.5h1.05v1.05h-1.05zM298.8 307.5h1.05v1.05h-1.05zM296.6 305.0h1.05v1.05h-1.05zM301.2 310.0h1.05v1.05h-1.05zM288.8 312.4h1.05v1.05h-1.05zM304.2 312.6h1.05v1.05h-1.05zM305.4 310.7h1.05v1.05h-1.05zM296.6 308.7h1.05v1.05h-1.05zM290.5 310.8h1.05v1.05h-1.05zM322.3 304.6h1.05v1.05h-1.05zM308.5 296.4h1.05v1.05h-1.05zM294.4 311.7h1.05v1.05h-1.05zM295.9 309.2h1.05v1.05h-1.05zM315.1 305.2h1.05v1.05h-1.05zM322.8 297.4h1.05v1.05h-1.05zM298.6 306.9h1.05v1.05h-1.05zM308.2 293.5h1.05v1.05h-1.05zM324.9 309.6h1.05v1.05h-1.05zM305.8 313.2h1.05v1.05h-1.05zM303.7 314.1h1.05v1.05h-1.05zM307.0 306.8h1.05v1.05h-1.05zM295.3 322.5h1.05v1.05h-1.05zM283.9 295.8h1.05v1.05h-1.05zM304.9 304.0h1.05v1.05h-1.05zM310.9 303.8h1.05v1.05h-1.05zM315.8 304.6h1.05v1.05h-1.05zM329.5 311.3h1.05v1.05h-1.05zM324.2 321.9h1.05v1.05h-1.05zM307.5 320.9h1.05v1.05h-1.05zM295.1 312.8h1.05v1.05h-1.05zM310.2 312.0h1.05v1.05h-1.05zM305.8 320.5h1.05v1.05h-1.05zM303.0 313.1h1.05v1.05h-1.05zM299.9 321.3h1.05v1.05h-1.05zM318.9 312.1h1.05v1.05h-1.05zM306.8 310.9h1.05v1.05h-1.05zM302.9 300.0h1.05v1.05h-1.05zM287.9 319.7h1.05v1.05h-1.05zM291.8 320.2h1.05v1.05h-1.05zM298.0 311.7h1.05v1.05h-1.05zM319.6 294.5h1.05v1.05h-1.05zM285.5 310.7h1.05v1.05h-1.05zM309.4 306.5h1.05v1.05h-1.05zM307.5 309.2h1.05v1.05h-1.05zM300.3 314.6h1.05v1.05h-1.05zM324.5 317.1h1.05v1.05h-1.05zM271.8 316.8h1.05v1.05h-1.05zM301.5 304.5h1.05v1.05h-1.05zM320.5 311.8h1.05v1.05h-1.05zM329.3 299.0h1.05v1.05h-1.05zM321.5 307.2h1.05v1.05h-1.05zM313.9 308.5h1.05v1.05h-1.05zM304.3 301.9h1.05v1.05h-1.05zM307.2 320.7h1.05v1.05h-1.05zM302.1 319.2h1.05v1.05h-1.05zM310.4 309.7h1.05v1.05h-1.05zM300.8 317.0h1.05v1.05h-1.05zM294.1 303.8h1.05v1.05h-1.05zM330.0 311.0h1.05v1.05h-1.05zM308.0 297.7h1.05v1.05h-1.05zM297.4 317.9h1.05v1.05h-1.05zM299.6 296.1h1.05v1.05h-1.05zM318.2 298.6h1.05v1.05h-1.05zM326.4 309.2h1.05v1.05h-1.05zM298.0 303.0h1.05v1.05h-1.05zM310.7 309.5h1.05v1.05h-1.05zM326.9 309.9h1.05v1.05h-1.05zM323.5 313.5h1.05v1.05h-1.05zM331.8 292.3h1.05v1.05h-1.05zM311.5 303.8h1.05v1.05h-1.05zM301.8 295.6h1.05v1.05h-1.05zM310.5 301.0h1.05v1.05h-1.05zM321.7 323.0h1.05v1.05h-1.05zM326.3 298.2h1.05v1.05h-1.05zM305.7 317.1h1.05v1.05h-1.05zM290.4 317.4h1.05v1.05h-1.05zM322.6 302.1h1.05v1.05h-1.05zM314.1 311.2h1.05v1.05h-1.05zM310.3 317.8h1.05v1.05h-1.05zM306.9 314.9h1.05v1.05h-1.05zM306.1 306.2h1.05v1.05h-1.05zM292.6 315.4h1.05v1.05h-1.05zM300.4 321.2h1.05v1.05h-1.05zM307.5 303.3h1.05v1.05h-1.05zM298.7 313.2h1.05v1.05h-1.05zM317.9 307.2h1.05v1.05h-1.05zM294.3 310.6h1.05v1.05h-1.05zM307.8 316.7h1.05v1.05h-1.05zM291.9 319.6h1.05v1.05h-1.05zM293.5 304.4h1.05v1.05h-1.05zM319.7 318.2h1.05v1.05h-1.05zM305.3 309.1h1.05v1.05h-1.05zM310.0 305.3h1.05v1.05h-1.05zM306.7 319.4h1.05v1.05h-1.05zM328.1 310.8h1.05v1.05h-1.05zM311.0 311.4h1.05v1.05h-1.05zM327.3 299.7h1.05v1.05h-1.05zM312.1 310.7h1.05v1.05h-1.05zM305.5 309.5h1.05v1.05h-1.05zM293.6 310.4h1.05v1.05h-1.05zM311.1 306.8h1.05v1.05h-1.05zM318.1 319.8h1.05v1.05h-1.05zM319.2 310.0h1.05v1.05h-1.05zM305.2 309.3h1.05v1.05h-1.05zM290.7 310.2h1.05v1.05h-1.05zM321.0 308.4h1.05v1.05h-1.05zM312.2 304.7h1.05v1.05h-1.05zM309.3 312.8h1.05v1.05h-1.05zM309.7 295.9h1.05v1.05h-1.05zM299.9 307.9h1.05v1.05h-1.05zM302.4 312.9h1.05v1.05h-1.05zM305.1 296.2h1.05v1.05h-1.05zM301.8 303.2h1.05v1.05h-1.05zM319.3 313.7h1.05v1.05h-1.05zM311.6 319.1h1.05v1.05h-1.05zM310.3 308.8h1.05v1.05h-1.05zM295.1 316.6h1.05v1.05h-1.05zM305.5 314.7h1.05v1.05h-1.05zM280.8 321.8h1.05v1.05h-1.05zM314.0 315.0h1.05v1.05h-1.05zM304.3 301.3h1.05v1.05h-1.05zM309.1 307.3h1.05v1.05h-1.05zM298.9 305.6h1.05v1.05h-1.05zM314.6 308.6h1.05v1.05h-1.05zM291.4 312.5h1.05v1.05h-1.05zM313.2 312.5h1.05v1.05h-1.05zM299.2 304.2h1.05v1.05h-1.05zM306.6 319.2h1.05v1.05h-1.05zM295.3 302.5h1.05v1.05h-1.05zM302.3 300.6h1.05v1.05h-1.05zM329.1 304.3h1.05v1.05h-1.05zM316.7 304.6h1.05v1.05h-1.05zM334.0 316.9h1.05v1.05h-1.05zM314.5 317.6h1.05v1.05h-1.05zM319.7 302.2h1.05v1.05h-1.05zM314.6 311.6h1.05v1.05h-1.05zM328.0 313.2h1.05v1.05h-1.05zM310.7 305.7h1.05v1.05h-1.05zM294.6 314.6h1.05v1.05h-1.05zM292.1 309.9h1.05v1.05h-1.05zM312.0 296.8h1.05v1.05h-1.05zM291.0 295.3h1.05v1.05h-1.05zM310.7 309.4h1.05v1.05h-1.05zM307.6 308.4h1.05v1.05h-1.05zM318.6 311.6h1.05v1.05h-1.05zM289.6 310.4h1.05v1.05h-1.05zM326.2 304.2h1.05v1.05h-1.05zM325.3 303.5h1.05v1.05h-1.05zM307.2 305.5h1.05v1.05h-1.05zM309.0 292.9h1.05v1.05h-1.05zM304.6 309.5h1.05v1.05h-1.05zM303.1 317.6h1.05v1.05h-1.05zM316.1 306.9h1.05v1.05h-1.05zM318.3 304.4h1.05v1.05h-1.05zM306.2 313.4h1.05v1.05h-1.05zM309.3 318.6h1.05v1.05h-1.05zM307.1 306.8h1.05v1.05h-1.05zM321.3 312.9h1.05v1.05h-1.05zM320.7 310.9h1.05v1.05h-1.05zM309.8 303.8h1.05v1.05h-1.05zM310.5 304.6h1.05v1.05h-1.05zM321.0 309.5h1.05v1.05h-1.05zM291.8 312.6h1.05v1.05h-1.05zM324.3 315.4h1.05v1.05h-1.05zM315.1 321.4h1.05v1.05h-1.05zM300.3 312.5h1.05v1.05h-1.05zM307.0 314.3h1.05v1.05h-1.05zM293.9 317.7h1.05v1.05h-1.05zM303.7 316.1h1.05v1.05h-1.05zM324.6 312.4h1.05v1.05h-1.05zM300.7 305.2h1.05v1.05h-1.05zM304.7 315.7h1.05v1.05h-1.05zM325.8 311.5h1.05v1.05h-1.05zM302.6 307.3h1.05v1.05h-1.05zM287.2 311.0h1.05v1.05h-1.05zM288.2 317.6h1.05v1.05h-1.05zM279.3 316.2h1.05v1.05h-1.05zM285.9 307.7h1.05v1.05h-1.05zM301.2 313.6h1.05v1.05h-1.05zM328.5 318.3h1.05v1.05h-1.05zM288.4 318.3h1.05v1.05h-1.05zM286.9 305.1h1.05v1.05h-1.05zM327.3 301.1h1.05v1.05h-1.05zM299.1 310.0h1.05v1.05h-1.05zM291.0 313.5h1.05v1.05h-1.05zM285.4 317.8h1.05v1.05h-1.05zM311.3 309.3h1.05v1.05h-1.05zM324.1 301.9h1.05v1.05h-1.05zM314.3 312.5h1.05v1.05h-1.05zM306.9 311.2h1.05v1.05h-1.05zM301.6 299.9h1.05v1.05h-1.05zM282.1 314.3h1.05v1.05h-1.05zM319.4 309.6h1.05v1.05h-1.05zM304.5 300.1h1.05v1.05h-1.05zM329.5 307.2h1.05v1.05h-1.05zM317.8 314.9h1.05v1.05h-1.05zM297.2 311.0h1.05v1.05h-1.05zM317.0 308.3h1.05v1.05h-1.05zM310.0 313.8h1.05v1.05h-1.05zM275.7 312.8h1.05v1.05h-1.05zM305.3 309.4h1.05v1.05h-1.05zM287.5 305.0h1.05v1.05h-1.05zM303.4 305.2h1.05v1.05h-1.05zM308.0 304.6h1.05v1.05h-1.05zM303.3 307.5h1.05v1.05h-1.05zM331.1 308.6h1.05v1.05h-1.05zM284.1 299.2h1.05v1.05h-1.05zM313.7 314.4h1.05v1.05h-1.05zM300.8 304.5h1.05v1.05h-1.05zM313.8 296.6h1.05v1.05h-1.05zM313.6 311.6h1.05v1.05h-1.05zM311.6 295.9h1.05v1.05h-1.05zM311.9 315.8h1.05v1.05h-1.05zM303.4 304.3h1.05v1.05h-1.05zM293.0 308.2h1.05v1.05h-1.05zM316.0 311.1h1.05v1.05h-1.05zM312.9 318.6h1.05v1.05h-1.05zM300.2 298.7h1.05v1.05h-1.05zM288.9 308.1h1.05v1.05h-1.05zM307.1 310.2h1.05v1.05h-1.05zM327.0 303.3h1.05v1.05h-1.05zM305.3 297.6h1.05v1.05h-1.05zM287.1 300.1h1.05v1.05h-1.05zM308.6 311.6h1.05v1.05h-1.05zM288.5 305.8h1.05v1.05h-1.05zM294.2 315.5h1.05v1.05h-1.05zM304.2 316.2h1.05v1.05h-1.05zM292.6 309.2h1.05v1.05h-1.05zM313.8 320.6h1.05v1.05h-1.05zM331.3 302.6h1.05v1.05h-1.05zM323.4 308.1h1.05v1.05h-1.05zM305.9 307.7h1.05v1.05h-1.05zM309.4 296.1h1.05v1.05h-1.05zM312.8 305.6h1.05v1.05h-1.05zM309.3 295.6h1.05v1.05h-1.05zM305.2 306.6h1.05v1.05h-1.05zM303.9 309.6h1.05v1.05h-1.05zM318.9 309.7h1.05v1.05h-1.05zM313.5 305.1h1.05v1.05h-1.05zM294.0 305.6h1.05v1.05h-1.05zM298.9 313.8h1.05v1.05h-1.05zM314.6 314.9h1.05v1.05h-1.05zM312.0 306.7h1.05v1.05h-1.05zM294.1 317.3h1.05v1.05h-1.05zM321.2 298.6h1.05v1.05h-1.05zM324.1 303.0h1.05v1.05h-1.05zM313.4 311.1h1.05v1.05h-1.05zM320.4 311.6h1.05v1.05h-1.05zM298.4 320.7h1.05v1.05h-1.05zM286.4 306.7h1.05v1.05h-1.05zM285.7 316.4h1.05v1.05h-1.05zM309.8 307.3h1.05v1.05h-1.05zM328.0 314.8h1.05v1.05h-1.05zM303.4 309.4h1.05v1.05h-1.05zM310.2 309.4h1.05v1.05h-1.05zM321.1 313.7h1.05v1.05h-1.05zM310.7 314.0h1.05v1.05h-1.05zM303.4 316.3h1.05v1.05h-1.05zM325.7 313.7h1.05v1.05h-1.05zM304.4 310.6h1.05v1.05h-1.05zM301.8 319.0h1.05v1.05h-1.05zM324.4 307.7h1.05v1.05h-1.05zM312.4 306.5h1.05v1.05h-1.05zM310.4 306.7h1.05v1.05h-1.05zM326.9 305.4h1.05v1.05h-1.05zM324.1 307.0h1.05v1.05h-1.05zM315.1 310.1h1.05v1.05h-1.05zM301.6 305.6h1.05v1.05h-1.05zM312.3 315.3h1.05v1.05h-1.05zM315.7 314.7h1.05v1.05h-1.05zM306.4 318.4h1.05v1.05h-1.05zM306.0 309.7h1.05v1.05h-1.05zM307.3 312.7h1.05v1.05h-1.05zM288.5 314.2h1.05v1.05h-1.05zM312.7 314.6h1.05v1.05h-1.05zM293.4 303.9h1.05v1.05h-1.05zM317.3 308.2h1.05v1.05h-1.05zM315.7 313.3h1.05v1.05h-1.05zM305.3 296.2h1.05v1.05h-1.05zM295.9 305.4h1.05v1.05h-1.05zM311.3 304.9h1.05v1.05h-1.05zM297.5 296.9h1.05v1.05h-1.05zM283.7 311.3h1.05v1.05h-1.05zM292.2 297.0h1.05v1.05h-1.05zM305.1 314.6h1.05v1.05h-1.05zM322.5 310.2h1.05v1.05h-1.05zM303.6 305.2h1.05v1.05h-1.05zM315.0 310.8h1.05v1.05h-1.05zM293.1 308.0h1.05v1.05h-1.05zM294.2 312.9h1.05v1.05h-1.05zM314.2 315.0h1.05v1.05h-1.05zM296.3 305.9h1.05v1.05h-1.05zM305.0 298.7h1.05v1.05h-1.05zM301.2 308.5h1.05v1.05h-1.05zM310.1 305.7h1.05v1.05h-1.05zM328.8 315.3h1.05v1.05h-1.05zM301.4 305.4h1.05v1.05h-1.05zM305.0 314.2h1.05v1.05h-1.05zM318.6 315.7h1.05v1.05h-1.05zM315.5 313.3h1.05v1.05h-1.05zM295.5 307.5h1.05v1.05h-1.05zM310.2 313.7h1.05v1.05h-1.05zM293.6 316.1h1.05v1.05h-1.05zM323.7 298.9h1.05v1.05h-1.05zM285.8 302.0h1.05v1.05h-1.05zM296.5 312.2h1.05v1.05h-1.05zM322.9 318.7h1.05v1.05h-1.05zM304.7 305.8h1.05v1.05h-1.05zM328.6 315.4h1.05v1.05h-1.05zM313.7 307.3h1.05v1.05h-1.05zM301.1 314.5h1.05v1.05h-1.05zM308.4 309.4h1.05v1.05h-1.05zM305.7 314.3h1.05v1.05h-1.05zM320.7 314.4h1.05v1.05h-1.05zM310.0 298.0h1.05v1.05h-1.05zM314.2 309.9h1.05v1.05h-1.05zM281.8 306.6h1.05v1.05h-1.05zM295.1 310.0h1.05v1.05h-1.05zM308.5 314.6h1.05v1.05h-1.05zM332.4 299.4h1.05v1.05h-1.05zM321.5 301.8h1.05v1.05h-1.05zM320.6 311.1h1.05v1.05h-1.05zM307.9 286.5h1.05v1.05h-1.05zM311.9 314.5h1.05v1.05h-1.05zM309.3 314.8h1.05v1.05h-1.05zM284.3 312.0h1.05v1.05h-1.05zM257.6 319.6h1.05v1.05h-1.05zM302.7 308.9h1.05v1.05h-1.05zM300.9 317.4h1.05v1.05h-1.05zM261.9 311.1h1.05v1.05h-1.05zM285.4 308.4h1.05v1.05h-1.05zM280.0 317.6h1.05v1.05h-1.05zM290.6 308.4h1.05v1.05h-1.05zM277.7 318.1h1.05v1.05h-1.05zM274.4 318.6h1.05v1.05h-1.05zM272.4 308.6h1.05v1.05h-1.05zM257.3 311.9h1.05v1.05h-1.05zM274.2 319.7h1.05v1.05h-1.05zM278.9 308.0h1.05v1.05h-1.05zM265.4 315.6h1.05v1.05h-1.05zM287.5 321.7h1.05v1.05h-1.05zM278.2 316.2h1.05v1.05h-1.05zM274.2 310.6h1.05v1.05h-1.05zM301.2 320.8h1.05v1.05h-1.05zM269.1 312.3h1.05v1.05h-1.05zM278.5 316.7h1.05v1.05h-1.05zM299.9 304.9h1.05v1.05h-1.05zM266.9 303.1h1.05v1.05h-1.05zM267.8 314.6h1.05v1.05h-1.05zM299.9 320.2h1.05v1.05h-1.05zM289.2 312.4h1.05v1.05h-1.05zM304.3 321.9h1.05v1.05h-1.05zM273.5 311.7h1.05v1.05h-1.05zM287.4 308.5h1.05v1.05h-1.05zM267.0 318.4h1.05v1.05h-1.05zM278.7 312.4h1.05v1.05h-1.05zM277.6 314.0h1.05v1.05h-1.05zM274.9 316.5h1.05v1.05h-1.05zM255.3 319.7h1.05v1.05h-1.05zM274.7 313.9h1.05v1.05h-1.05zM278.5 318.2h1.05v1.05h-1.05zM266.8 313.9h1.05v1.05h-1.05zM271.6 305.5h1.05v1.05h-1.05zM272.7 311.9h1.05v1.05h-1.05zM298.1 320.0h1.05v1.05h-1.05zM301.8 313.4h1.05v1.05h-1.05zM296.0 317.4h1.05v1.05h-1.05zM274.3 320.9h1.05v1.05h-1.05zM260.1 318.5h1.05v1.05h-1.05zM284.6 316.9h1.05v1.05h-1.05zM267.1 311.9h1.05v1.05h-1.05zM280.3 313.9h1.05v1.05h-1.05zM290.5 316.1h1.05v1.05h-1.05zM260.8 317.8h1.05v1.05h-1.05zM273.4 307.9h1.05v1.05h-1.05zM290.8 310.7h1.05v1.05h-1.05zM273.4 319.4h1.05v1.05h-1.05zM269.4 310.6h1.05v1.05h-1.05zM271.8 316.5h1.05v1.05h-1.05zM277.8 321.7h1.05v1.05h-1.05zM267.8 322.4h1.05v1.05h-1.05zM286.8 319.5h1.05v1.05h-1.05zM278.8 307.5h1.05v1.05h-1.05zM275.1 319.2h1.05v1.05h-1.05zM294.0 312.4h1.05v1.05h-1.05zM299.7 309.6h1.05v1.05h-1.05zM292.3 289.0h1.05v1.05h-1.05zM270.5 309.3h1.05v1.05h-1.05zM297.7 322.1h1.05v1.05h-1.05zM276.9 303.6h1.05v1.05h-1.05zM258.4 302.6h1.05v1.05h-1.05zM320.9 317.2h1.05v1.05h-1.05zM308.1 292.5h1.05v1.05h-1.05zM321.3 283.4h1.05v1.05h-1.05zM327.1 312.7h1.05v1.05h-1.05zM301.5 283.7h1.05v1.05h-1.05zM270.2 310.9h1.05v1.05h-1.05zM276.4 313.3h1.05v1.05h-1.05zM266.6 314.0h1.05v1.05h-1.05zM326.4 285.1h1.05v1.05h-1.05zM268.7 307.1h1.05v1.05h-1.05zM283.1 289.9h1.05v1.05h-1.05zM321.2 287.5h1.05v1.05h-1.05zM300.1 298.8h1.05v1.05h-1.05zM278.9 315.7h1.05v1.05h-1.05zM304.6 319.7h1.05v1.05h-1.05zM300.2 316.4h1.05v1.05h-1.05zM256.1 288.0h1.05v1.05h-1.05zM279.2 319.4h1.05v1.05h-1.05zM295.3 316.7h1.05v1.05h-1.05zM269.3 294.5h1.05v1.05h-1.05zM288.5 318.5h1.05v1.05h-1.05zM287.8 286.2h1.05v1.05h-1.05zM310.2 311.4h1.05v1.05h-1.05zM282.6 289.1h1.05v1.05h-1.05zM283.1 290.3h1.05v1.05h-1.05zM319.2 300.6h1.05v1.05h-1.05zM281.6 301.7h1.05v1.05h-1.05zM318.4 286.5h1.05v1.05h-1.05zM330.8 291.1h1.05v1.05h-1.05zM319.0 301.9h1.05v1.05h-1.05zM281.7 319.1h1.05v1.05h-1.05zM292.7 287.6h1.05v1.05h-1.05zM329.4 306.7h1.05v1.05h-1.05zM325.5 306.0h1.05v1.05h-1.05zM239.5 308.4h1.05v1.05h-1.05zM213.3 311.3h1.05v1.05h-1.05zM223.1 318.2h1.05v1.05h-1.05zM239.5 315.8h1.05v1.05h-1.05zM212.4 319.5h1.05v1.05h-1.05zM234.0 308.0h1.05v1.05h-1.05zM239.1 312.4h1.05v1.05h-1.05zM242.5 314.5h1.05v1.05h-1.05zM214.5 314.6h1.05v1.05h-1.05zM249.3 318.2h1.05v1.05h-1.05zM251.0 317.0h1.05v1.05h-1.05zM242.0 319.5h1.05v1.05h-1.05zM229.0 317.1h1.05v1.05h-1.05zM224.1 315.1h1.05v1.05h-1.05zM221.5 314.8h1.05v1.05h-1.05zM228.3 321.0h1.05v1.05h-1.05zM224.2 312.2h1.05v1.05h-1.05zM236.8 313.8h1.05v1.05h-1.05zM226.5 316.7h1.05v1.05h-1.05zM237.8 316.6h1.05v1.05h-1.05zM248.4 314.9h1.05v1.05h-1.05zM216.6 310.6h1.05v1.05h-1.05zM234.4 309.0h1.05v1.05h-1.05zM237.4 313.5h1.05v1.05h-1.05zM231.9 318.6h1.05v1.05h-1.05zM235.3 306.2h1.05v1.05h-1.05zM230.2 322.6h1.05v1.05h-1.05zM230.2 317.3h1.05v1.05h-1.05zM224.4 318.2h1.05v1.05h-1.05zM243.9 316.9h1.05v1.05h-1.05zM244.7 317.0h1.05v1.05h-1.05zM244.4 312.1h1.05v1.05h-1.05zM245.5 310.2h1.05v1.05h-1.05zM230.0 317.9h1.05v1.05h-1.05zM232.8 320.0h1.05v1.05h-1.05zM226.0 315.5h1.05v1.05h-1.05zM232.3 315.9h1.05v1.05h-1.05zM219.7 322.1h1.05v1.05h-1.05zM214.6 314.0h1.05v1.05h-1.05zM237.1 312.1h1.05v1.05h-1.05zM245.4 313.5h1.05v1.05h-1.05zM223.7 318.1h1.05v1.05h-1.05zM247.7 313.0h1.05v1.05h-1.05zM232.0 316.2h1.05v1.05h-1.05zM242.6 318.3h1.05v1.05h-1.05zM222.3 313.1h1.05v1.05h-1.05zM230.5 318.4h1.05v1.05h-1.05zM227.4 311.7h1.05v1.05h-1.05zM247.8 309.0h1.05v1.05h-1.05zM252.3 315.6h1.05v1.05h-1.05zM243.5 317.9h1.05v1.05h-1.05zM238.2 304.6h1.05v1.05h-1.05zM234.3 315.6h1.05v1.05h-1.05zM234.1 311.1h1.05v1.05h-1.05zM225.9 322.0h1.05v1.05h-1.05zM234.7 287.5h1.05v1.05h-1.05zM235.0 281.8h1.05v1.05h-1.05zM244.9 295.0h1.05v1.05h-1.05zM222.4 291.2h1.05v1.05h-1.05zM232.5 294.7h1.05v1.05h-1.05zM230.0 289.2h1.05v1.05h-1.05zM243.9 291.6h1.05v1.05h-1.05zM251.5 278.7h1.05v1.05h-1.05zM225.7 298.9h1.05v1.05h-1.05zM234.1 284.7h1.05v1.05h-1.05zM250.0 283.5h1.05v1.05h-1.05zM240.8 295.4h1.05v1.05h-1.05zM339.0 293.4h1.05v1.05h-1.05zM339.0 281.7h1.05v1.05h-1.05zM339.0 296.6h1.05v1.05h-1.05zM339.0 293.0h1.05v1.05h-1.05zM339.0 282.2h1.05v1.05h-1.05zM339.0 280.4h1.05v1.05h-1.05zM339.0 300.2h1.05v1.05h-1.05zM339.0 277.8h1.05v1.05h-1.05zM339.0 304.8h1.05v1.05h-1.05zM339.0 282.4h1.05v1.05h-1.05zM339.0 282.9h1.05v1.05h-1.05zM339.0 299.2h1.05v1.05h-1.05zM339.0 308.0h1.05v1.05h-1.05zM339.0 308.0h1.05v1.05h-1.05zM339.0 294.2h1.05v1.05h-1.05zM339.0 292.8h1.05v1.05h-1.05zM339.0 293.2h1.05v1.05h-1.05zM339.0 293.9h1.05v1.05h-1.05zM339.0 295.7h1.05v1.05h-1.05zM339.0 293.2h1.05v1.05h-1.05zM339.0 301.4h1.05v1.05h-1.05zM339.0 299.9h1.05v1.05h-1.05zM392.7 291.0h1.05v1.05h-1.05zM391.7 294.5h1.05v1.05h-1.05zM388.4 291.3h1.05v1.05h-1.05zM394.0 290.0h1.05v1.05h-1.05zM384.9 287.1h1.05v1.05h-1.05zM381.2 295.2h1.05v1.05h-1.05zM395.3 290.9h1.05v1.05h-1.05zM384.7 298.2h1.05v1.05h-1.05zM387.1 289.0h1.05v1.05h-1.05zM386.3 295.0h1.05v1.05h-1.05zM389.3 298.5h1.05v1.05h-1.05zM394.2 292.8h1.05v1.05h-1.05zM378.2 287.8h1.05v1.05h-1.05zM398.1 297.5h1.05v1.05h-1.05zM393.2 295.2h1.05v1.05h-1.05zM389.9 292.0h1.05v1.05h-1.05zM383.1 295.2h1.05v1.05h-1.05zM391.9 287.0h1.05v1.05h-1.05zM381.4 293.5h1.05v1.05h-1.05zM384.8 298.9h1.05v1.05h-1.05zM389.5 287.1h1.05v1.05h-1.05zM385.9 288.6h1.05v1.05h-1.05zM384.3 294.8h1.05v1.05h-1.05zM384.2 287.0h1.05v1.05h-1.05zM390.3 282.4h1.05v1.05h-1.05zM395.8 290.0h1.05v1.05h-1.05zM399.6 292.5h1.05v1.05h-1.05zM385.1 294.8h1.05v1.05h-1.05zM395.5 286.5h1.05v1.05h-1.05zM390.5 294.5h1.05v1.05h-1.05zM387.0 287.1h1.05v1.05h-1.05zM385.2 296.3h1.05v1.05h-1.05zM394.7 293.2h1.05v1.05h-1.05zM400.2 295.1h1.05v1.05h-1.05zM395.3 295.5h1.05v1.05h-1.05zM390.9 292.0h1.05v1.05h-1.05zM393.5 290.3h1.05v1.05h-1.05zM381.9 286.0h1.05v1.05h-1.05zM400.2 283.2h1.05v1.05h-1.05zM390.3 296.1h1.05v1.05h-1.05zM386.8 291.0h1.05v1.05h-1.05zM390.2 283.1h1.05v1.05h-1.05zM388.2 297.6h1.05v1.05h-1.05zM393.7 292.0h1.05v1.05h-1.05zM388.7 296.4h1.05v1.05h-1.05zM383.8 293.2h1.05v1.05h-1.05zM395.8 286.7h1.05v1.05h-1.05zM387.8 295.4h1.05v1.05h-1.05zM401.6 287.3h1.05v1.05h-1.05zM394.9 300.1h1.05v1.05h-1.05zM393.0 292.2h1.05v1.05h-1.05zM388.9 286.5h1.05v1.05h-1.05zM397.5 285.6h1.05v1.05h-1.05zM388.2 289.9h1.05v1.05h-1.05zM391.3 289.9h1.05v1.05h-1.05zM396.8 283.8h1.05v1.05h-1.05zM376.3 291.5h1.05v1.05h-1.05zM380.0 294.7h1.05v1.05h-1.05zM392.6 295.2h1.05v1.05h-1.05zM382.0 288.4h1.05v1.05h-1.05zM385.6 292.4h1.05v1.05h-1.05zM388.7 295.0h1.05v1.05h-1.05zM385.4 300.4h1.05v1.05h-1.05zM390.5 293.8h1.05v1.05h-1.05zM394.5 289.3h1.05v1.05h-1.05zM385.1 286.6h1.05v1.05h-1.05zM387.4 295.1h1.05v1.05h-1.05zM388.9 297.0h1.05v1.05h-1.05zM383.1 294.4h1.05v1.05h-1.05zM389.8 292.6h1.05v1.05h-1.05zM380.0 291.7h1.05v1.05h-1.05zM390.2 284.9h1.05v1.05h-1.05zM399.5 291.7h1.05v1.05h-1.05zM380.8 297.0h1.05v1.05h-1.05zM381.9 293.3h1.05v1.05h-1.05zM378.7 296.8h1.05v1.05h-1.05zM390.9 291.4h1.05v1.05h-1.05zM383.6 286.7h1.05v1.05h-1.05zM397.5 290.7h1.05v1.05h-1.05zM395.9 287.3h1.05v1.05h-1.05zM388.8 286.8h1.05v1.05h-1.05zM391.3 283.0h1.05v1.05h-1.05zM393.5 286.0h1.05v1.05h-1.05zM391.2 292.3h1.05v1.05h-1.05zM388.1 291.5h1.05v1.05h-1.05zM399.0 287.0h1.05v1.05h-1.05zM384.1 296.6h1.05v1.05h-1.05zM392.6 297.7h1.05v1.05h-1.05zM390.8 289.7h1.05v1.05h-1.05zM388.2 293.8h1.05v1.05h-1.05zM393.3 292.9h1.05v1.05h-1.05zM383.9 290.8h1.05v1.05h-1.05zM398.7 288.3h1.05v1.05h-1.05zM397.2 285.5h1.05v1.05h-1.05zM383.0 285.0h1.05v1.05h-1.05zM394.7 289.8h1.05v1.05h-1.05zM387.6 297.6h1.05v1.05h-1.05zM391.4 285.6h1.05v1.05h-1.05zM382.2 284.2h1.05v1.05h-1.05zM393.5 291.2h1.05v1.05h-1.05zM382.9 291.5h1.05v1.05h-1.05zM392.3 295.9h1.05v1.05h-1.05zM402.5 288.7h1.05v1.05h-1.05zM394.2 296.2h1.05v1.05h-1.05zM380.3 300.3h1.05v1.05h-1.05zM383.7 292.8h1.05v1.05h-1.05zM383.6 300.7h1.05v1.05h-1.05zM394.5 288.2h1.05v1.05h-1.05zM381.8 295.1h1.05v1.05h-1.05zM396.0 290.6h1.05v1.05h-1.05zM394.1 292.8h1.05v1.05h-1.05zM390.1 293.1h1.05v1.05h-1.05zM380.4 288.8h1.05v1.05h-1.05zM391.2 292.1h1.05v1.05h-1.05zM398.2 286.0h1.05v1.05h-1.05zM391.7 302.9h1.05v1.05h-1.05zM392.6 295.8h1.05v1.05h-1.05zM386.7 290.6h1.05v1.05h-1.05zM392.1 288.4h1.05v1.05h-1.05zM381.7 285.9h1.05v1.05h-1.05zM381.1 296.8h1.05v1.05h-1.05zM394.0 296.7h1.05v1.05h-1.05zM390.4 293.5h1.05v1.05h-1.05zM381.7 291.3h1.05v1.05h-1.05zM393.4 289.0h1.05v1.05h-1.05zM378.4 294.4h1.05v1.05h-1.05zM381.8 295.1h1.05v1.05h-1.05zM386.8 288.9h1.05v1.05h-1.05zM385.0 289.7h1.05v1.05h-1.05zM392.4 294.5h1.05v1.05h-1.05zM394.3 293.1h1.05v1.05h-1.05zM388.9 294.3h1.05v1.05h-1.05zM386.2 288.4h1.05v1.05h-1.05zM387.3 289.6h1.05v1.05h-1.05zM378.1 286.3h1.05v1.05h-1.05zM391.5 291.5h1.05v1.05h-1.05zM386.2 292.8h1.05v1.05h-1.05zM390.8 296.9h1.05v1.05h-1.05zM392.9 292.0h1.05v1.05h-1.05zM390.9 292.9h1.05v1.05h-1.05zM377.4 299.5h1.05v1.05h-1.05zM382.3 294.9h1.05v1.05h-1.05zM385.9 288.3h1.05v1.05h-1.05zM396.1 288.0h1.05v1.05h-1.05zM392.1 289.4h1.05v1.05h-1.05zM383.1 295.7h1.05v1.05h-1.05zM392.0 286.8h1.05v1.05h-1.05zM383.3 287.6h1.05v1.05h-1.05zM378.0 288.6h1.05v1.05h-1.05zM387.5 295.3h1.05v1.05h-1.05zM396.1 288.8h1.05v1.05h-1.05zM399.3 290.8h1.05v1.05h-1.05zM396.8 293.0h1.05v1.05h-1.05zM395.9 284.9h1.05v1.05h-1.05zM392.4 284.0h1.05v1.05h-1.05zM376.4 284.5h1.05v1.05h-1.05zM380.0 286.6h1.05v1.05h-1.05zM390.1 293.8h1.05v1.05h-1.05zM391.6 296.6h1.05v1.05h-1.05zM392.7 293.8h1.05v1.05h-1.05zM389.2 297.6h1.05v1.05h-1.05zM388.5 283.2h1.05v1.05h-1.05zM383.4 297.4h1.05v1.05h-1.05zM387.1 289.4h1.05v1.05h-1.05zM395.7 292.4h1.05v1.05h-1.05zM389.4 291.9h1.05v1.05h-1.05zM397.8 293.3h1.05v1.05h-1.05zM389.8 293.0h1.05v1.05h-1.05zM385.5 291.1h1.05v1.05h-1.05zM400.2 292.3h1.05v1.05h-1.05zM396.7 289.3h1.05v1.05h-1.05zM386.8 288.6h1.05v1.05h-1.05zM389.3 296.7h1.05v1.05h-1.05zM386.5 290.6h1.05v1.05h-1.05zM380.3 295.8h1.05v1.05h-1.05zM393.7 292.7h1.05v1.05h-1.05zM396.0 294.9h1.05v1.05h-1.05zM387.9 284.6h1.05v1.05h-1.05zM387.9 287.7h1.05v1.05h-1.05zM391.0 295.9h1.05v1.05h-1.05zM386.5 284.3h1.05v1.05h-1.05zM395.7 295.4h1.05v1.05h-1.05zM394.4 286.2h1.05v1.05h-1.05zM386.4 295.6h1.05v1.05h-1.05zM395.1 295.7h1.05v1.05h-1.05zM376.3 299.2h1.05v1.05h-1.05zM384.7 289.0h1.05v1.05h-1.05zM393.7 289.9h1.05v1.05h-1.05zM385.7 292.4h1.05v1.05h-1.05zM388.1 291.8h1.05v1.05h-1.05zM386.3 287.3h1.05v1.05h-1.05zM385.7 290.5h1.05v1.05h-1.05zM386.7 294.1h1.05v1.05h-1.05zM399.8 286.4h1.05v1.05h-1.05zM389.6 293.4h1.05v1.05h-1.05zM382.3 289.8h1.05v1.05h-1.05zM386.4 291.1h1.05v1.05h-1.05zM386.7 290.0h1.05v1.05h-1.05zM393.6 285.7h1.05v1.05h-1.05zM392.1 295.3h1.05v1.05h-1.05zM392.1 285.7h1.05v1.05h-1.05zM379.8 290.1h1.05v1.05h-1.05zM384.3 287.9h1.05v1.05h-1.05zM396.1 287.7h1.05v1.05h-1.05zM393.7 297.7h1.05v1.05h-1.05zM397.5 300.7h1.05v1.05h-1.05zM395.4 292.8h1.05v1.05h-1.05zM380.4 291.0h1.05v1.05h-1.05zM386.4 299.5h1.05v1.05h-1.05zM393.6 292.1h1.05v1.05h-1.05zM381.0 286.8h1.05v1.05h-1.05zM386.9 293.1h1.05v1.05h-1.05zM394.9 293.9h1.05v1.05h-1.05zM389.5 295.8h1.05v1.05h-1.05zM382.3 289.2h1.05v1.05h-1.05zM384.9 292.6h1.05v1.05h-1.05zM392.1 290.3h1.05v1.05h-1.05zM378.5 292.3h1.05v1.05h-1.05zM381.8 294.0h1.05v1.05h-1.05zM375.3 300.2h1.05v1.05h-1.05zM382.7 299.4h1.05v1.05h-1.05zM392.8 297.9h1.05v1.05h-1.05zM395.2 288.7h1.05v1.05h-1.05zM385.1 288.4h1.05v1.05h-1.05zM382.5 296.9h1.05v1.05h-1.05zM382.8 289.8h1.05v1.05h-1.05zM377.0 292.9h1.05v1.05h-1.05zM379.2 302.0h1.05v1.05h-1.05zM387.8 290.7h1.05v1.05h-1.05zM390.8 288.0h1.05v1.05h-1.05zM385.6 291.5h1.05v1.05h-1.05zM389.5 294.3h1.05v1.05h-1.05zM388.2 282.3h1.05v1.05h-1.05zM386.1 287.8h1.05v1.05h-1.05zM386.2 292.2h1.05v1.05h-1.05zM387.7 300.6h1.05v1.05h-1.05zM386.1 287.6h1.05v1.05h-1.05zM388.2 292.0h1.05v1.05h-1.05zM396.9 288.4h1.05v1.05h-1.05zM391.9 293.2h1.05v1.05h-1.05zM389.4 292.1h1.05v1.05h-1.05zM389.6 285.9h1.05v1.05h-1.05zM384.7 292.5h1.05v1.05h-1.05zM397.5 295.5h1.05v1.05h-1.05zM390.1 292.8h1.05v1.05h-1.05zM390.3 293.9h1.05v1.05h-1.05zM393.9 284.9h1.05v1.05h-1.05zM386.5 301.4h1.05v1.05h-1.05zM393.6 290.7h1.05v1.05h-1.05zM385.0 291.9h1.05v1.05h-1.05zM380.5 288.6h1.05v1.05h-1.05zM393.5 295.5h1.05v1.05h-1.05zM390.4 292.5h1.05v1.05h-1.05zM387.0 286.3h1.05v1.05h-1.05zM383.1 289.3h1.05v1.05h-1.05zM388.0 287.1h1.05v1.05h-1.05zM382.7 297.5h1.05v1.05h-1.05zM387.2 295.8h1.05v1.05h-1.05zM388.5 288.2h1.05v1.05h-1.05zM386.7 286.0h1.05v1.05h-1.05zM393.9 295.3h1.05v1.05h-1.05zM393.3 292.8h1.05v1.05h-1.05zM386.2 288.3h1.05v1.05h-1.05zM393.3 291.0h1.05v1.05h-1.05zM386.0 290.0h1.05v1.05h-1.05zM388.9 289.2h1.05v1.05h-1.05zM388.8 295.3h1.05v1.05h-1.05zM394.5 289.1h1.05v1.05h-1.05zM390.9 290.9h1.05v1.05h-1.05zM382.3 285.0h1.05v1.05h-1.05zM392.1 300.2h1.05v1.05h-1.05zM392.5 298.0h1.05v1.05h-1.05zM400.9 298.7h1.05v1.05h-1.05zM383.8 293.3h1.05v1.05h-1.05zM386.6 284.3h1.05v1.05h-1.05zM394.6 289.4h1.05v1.05h-1.05zM396.6 290.5h1.05v1.05h-1.05zM388.8 289.8h1.05v1.05h-1.05zM388.5 295.8h1.05v1.05h-1.05zM390.3 293.1h1.05v1.05h-1.05zM387.8 294.5h1.05v1.05h-1.05zM382.7 292.8h1.05v1.05h-1.05zM391.8 289.4h1.05v1.05h-1.05zM396.6 292.4h1.05v1.05h-1.05zM380.5 290.7h1.05v1.05h-1.05zM392.4 292.2h1.05v1.05h-1.05zM378.4 294.0h1.05v1.05h-1.05zM384.8 292.0h1.05v1.05h-1.05zM375.4 299.2h1.05v1.05h-1.05zM398.9 291.7h1.05v1.05h-1.05zM379.0 293.3h1.05v1.05h-1.05zM401.2 297.1h1.05v1.05h-1.05zM403.0 285.5h1.05v1.05h-1.05zM396.9 290.2h1.05v1.05h-1.05zM386.4 295.1h1.05v1.05h-1.05zM389.7 286.9h1.05v1.05h-1.05zM376.0 290.1h1.05v1.05h-1.05zM384.0 302.5h1.05v1.05h-1.05zM383.5 298.1h1.05v1.05h-1.05zM385.3 298.2h1.05v1.05h-1.05zM393.8 298.6h1.05v1.05h-1.05zM391.6 296.0h1.05v1.05h-1.05zM387.5 287.3h1.05v1.05h-1.05zM399.0 300.6h1.05v1.05h-1.05zM392.6 301.7h1.05v1.05h-1.05zM383.1 291.8h1.05v1.05h-1.05zM385.3 294.8h1.05v1.05h-1.05zM382.0 293.2h1.05v1.05h-1.05zM393.5 298.9h1.05v1.05h-1.05zM390.4 301.9h1.05v1.05h-1.05zM383.0 294.5h1.05v1.05h-1.05zM400.3 286.1h1.05v1.05h-1.05zM388.1 292.9h1.05v1.05h-1.05zM397.1 295.8h1.05v1.05h-1.05zM382.6 289.6h1.05v1.05h-1.05zM387.3 296.5h1.05v1.05h-1.05zM398.8 292.2h1.05v1.05h-1.05zM382.9 286.2h1.05v1.05h-1.05zM393.0 297.5h1.05v1.05h-1.05zM386.3 286.8h1.05v1.05h-1.05zM382.5 292.7h1.05v1.05h-1.05zM377.8 288.7h1.05v1.05h-1.05zM388.4 283.8h1.05v1.05h-1.05zM390.7 287.7h1.05v1.05h-1.05zM394.3 282.7h1.05v1.05h-1.05zM395.0 285.0h1.05v1.05h-1.05zM389.3 294.9h1.05v1.05h-1.05zM386.3 292.8h1.05v1.05h-1.05zM388.7 290.9h1.05v1.05h-1.05zM396.3 286.8h1.05v1.05h-1.05zM393.5 299.4h1.05v1.05h-1.05zM393.7 287.9h1.05v1.05h-1.05zM391.3 295.0h1.05v1.05h-1.05zM393.8 283.5h1.05v1.05h-1.05zM376.1 298.5h1.05v1.05h-1.05zM393.0 293.2h1.05v1.05h-1.05zM387.6 295.6h1.05v1.05h-1.05zM398.0 295.4h1.05v1.05h-1.05zM384.7 293.2h1.05v1.05h-1.05zM401.3 291.8h1.05v1.05h-1.05zM383.7 296.9h1.05v1.05h-1.05zM386.1 292.5h1.05v1.05h-1.05zM400.0 297.4h1.05v1.05h-1.05zM383.3 296.2h1.05v1.05h-1.05zM396.4 298.8h1.05v1.05h-1.05zM389.6 293.0h1.05v1.05h-1.05zM400.9 284.9h1.05v1.05h-1.05zM383.6 288.3h1.05v1.05h-1.05zM394.4 295.9h1.05v1.05h-1.05zM390.3 296.9h1.05v1.05h-1.05zM385.9 288.9h1.05v1.05h-1.05zM387.9 283.9h1.05v1.05h-1.05zM381.2 293.2h1.05v1.05h-1.05zM388.0 288.9h1.05v1.05h-1.05zM395.9 294.7h1.05v1.05h-1.05zM389.7 292.4h1.05v1.05h-1.05zM396.1 302.7h1.05v1.05h-1.05zM384.1 291.5h1.05v1.05h-1.05zM386.0 293.9h1.05v1.05h-1.05zM382.1 291.5h1.05v1.05h-1.05zM399.1 291.1h1.05v1.05h-1.05zM382.8 294.4h1.05v1.05h-1.05zM393.8 289.5h1.05v1.05h-1.05zM397.4 292.7h1.05v1.05h-1.05zM397.2 295.5h1.05v1.05h-1.05zM389.3 290.6h1.05v1.05h-1.05zM394.1 288.3h1.05v1.05h-1.05zM380.8 299.8h1.05v1.05h-1.05zM381.6 290.1h1.05v1.05h-1.05zM386.5 291.9h1.05v1.05h-1.05zM381.1 287.8h1.05v1.05h-1.05zM393.2 293.4h1.05v1.05h-1.05zM377.7 295.8h1.05v1.05h-1.05zM393.1 291.3h1.05v1.05h-1.05zM381.1 299.0h1.05v1.05h-1.05zM404.9 289.7h1.05v1.05h-1.05zM377.4 302.0h1.05v1.05h-1.05zM390.5 294.5h1.05v1.05h-1.05zM392.1 288.5h1.05v1.05h-1.05zM387.1 290.0h1.05v1.05h-1.05zM390.9 290.3h1.05v1.05h-1.05zM397.7 291.5h1.05v1.05h-1.05zM397.2 286.6h1.05v1.05h-1.05zM389.7 293.1h1.05v1.05h-1.05zM384.1 294.1h1.05v1.05h-1.05zM388.3 299.5h1.05v1.05h-1.05zM397.0 292.9h1.05v1.05h-1.05zM386.2 292.3h1.05v1.05h-1.05zM397.5 293.7h1.05v1.05h-1.05zM388.1 290.1h1.05v1.05h-1.05zM377.5 296.7h1.05v1.05h-1.05zM385.3 292.6h1.05v1.05h-1.05zM391.4 288.8h1.05v1.05h-1.05zM387.2 293.5h1.05v1.05h-1.05zM398.2 291.5h1.05v1.05h-1.05zM387.9 291.9h1.05v1.05h-1.05zM386.6 296.0h1.05v1.05h-1.05zM382.1 291.5h1.05v1.05h-1.05zM389.1 295.8h1.05v1.05h-1.05zM392.3 289.0h1.05v1.05h-1.05zM386.6 286.6h1.05v1.05h-1.05zM388.1 291.3h1.05v1.05h-1.05zM379.9 292.9h1.05v1.05h-1.05zM403.2 293.3h1.05v1.05h-1.05zM386.0 289.3h1.05v1.05h-1.05zM396.8 291.8h1.05v1.05h-1.05zM384.9 285.1h1.05v1.05h-1.05zM390.8 288.3h1.05v1.05h-1.05zM395.7 291.4h1.05v1.05h-1.05zM385.5 297.3h1.05v1.05h-1.05zM380.5 295.6h1.05v1.05h-1.05zM382.6 287.5h1.05v1.05h-1.05zM385.8 292.2h1.05v1.05h-1.05zM387.4 294.6h1.05v1.05h-1.05zM385.6 284.9h1.05v1.05h-1.05zM384.0 287.8h1.05v1.05h-1.05zM391.9 291.2h1.05v1.05h-1.05zM378.1 287.9h1.05v1.05h-1.05zM385.5 302.5h1.05v1.05h-1.05zM392.6 290.2h1.05v1.05h-1.05zM391.2 296.3h1.05v1.05h-1.05zM381.7 299.6h1.05v1.05h-1.05zM383.2 295.4h1.05v1.05h-1.05zM399.3 292.4h1.05v1.05h-1.05zM393.0 287.4h1.05v1.05h-1.05zM397.3 296.1h1.05v1.05h-1.05zM401.7 296.5h1.05v1.05h-1.05zM385.2 288.1h1.05v1.05h-1.05zM383.5 288.5h1.05v1.05h-1.05zM396.8 284.5h1.05v1.05h-1.05zM388.4 309.1h1.05v1.05h-1.05zM391.8 314.3h1.05v1.05h-1.05zM388.3 303.8h1.05v1.05h-1.05zM381.6 302.2h1.05v1.05h-1.05zM384.7 308.8h1.05v1.05h-1.05zM402.5 302.3h1.05v1.05h-1.05zM409.4 304.3h1.05v1.05h-1.05zM402.6 311.2h1.05v1.05h-1.05zM385.9 305.5h1.05v1.05h-1.05zM376.7 310.1h1.05v1.05h-1.05zM408.4 308.7h1.05v1.05h-1.05zM408.0 306.3h1.05v1.05h-1.05zM389.3 307.2h1.05v1.05h-1.05zM387.7 309.2h1.05v1.05h-1.05zM408.6 307.3h1.05v1.05h-1.05zM386.8 306.5h1.05v1.05h-1.05zM400.0 305.1h1.05v1.05h-1.05zM375.0 298.8h1.05v1.05h-1.05zM405.9 305.6h1.05v1.05h-1.05zM402.9 306.1h1.05v1.05h-1.05zM384.8 308.1h1.05v1.05h-1.05zM400.7 304.1h1.05v1.05h-1.05zM379.1 303.5h1.05v1.05h-1.05zM384.9 315.6h1.05v1.05h-1.05zM382.6 297.5h1.05v1.05h-1.05zM377.8 305.9h1.05v1.05h-1.05zM386.6 303.2h1.05v1.05h-1.05zM394.8 304.6h1.05v1.05h-1.05zM413.7 320.2h1.05v1.05h-1.05zM385.2 321.6h1.05v1.05h-1.05zM392.2 309.8h1.05v1.05h-1.05zM382.3 310.8h1.05v1.05h-1.05zM401.5 311.8h1.05v1.05h-1.05zM395.2 315.0h1.05v1.05h-1.05zM398.0 294.3h1.05v1.05h-1.05zM390.4 310.4h1.05v1.05h-1.05zM396.9 306.7h1.05v1.05h-1.05zM394.1 310.9h1.05v1.05h-1.05zM388.5 301.4h1.05v1.05h-1.05zM376.3 314.8h1.05v1.05h-1.05zM394.1 296.3h1.05v1.05h-1.05zM401.3 307.5h1.05v1.05h-1.05zM387.5 299.6h1.05v1.05h-1.05zM409.7 315.6h1.05v1.05h-1.05zM397.0 311.4h1.05v1.05h-1.05zM391.7 306.7h1.05v1.05h-1.05zM407.1 303.0h1.05v1.05h-1.05zM386.4 315.3h1.05v1.05h-1.05zM375.5 302.9h1.05v1.05h-1.05zM385.6 306.5h1.05v1.05h-1.05zM379.3 303.6h1.05v1.05h-1.05zM387.9 308.2h1.05v1.05h-1.05zM398.9 318.0h1.05v1.05h-1.05zM394.5 303.2h1.05v1.05h-1.05zM386.2 303.8h1.05v1.05h-1.05zM411.8 319.5h1.05v1.05h-1.05zM403.1 313.0h1.05v1.05h-1.05zM383.1 316.9h1.05v1.05h-1.05zM391.3 299.4h1.05v1.05h-1.05zM383.4 309.7h1.05v1.05h-1.05zM386.5 320.9h1.05v1.05h-1.05zM404.8 314.0h1.05v1.05h-1.05zM397.5 314.4h1.05v1.05h-1.05zM374.3 296.4h1.05v1.05h-1.05zM393.5 304.4h1.05v1.05h-1.05zM387.9 299.1h1.05v1.05h-1.05zM400.3 316.7h1.05v1.05h-1.05zM385.7 306.6h1.05v1.05h-1.05zM395.1 304.7h1.05v1.05h-1.05zM394.1 297.2h1.05v1.05h-1.05zM384.4 310.3h1.05v1.05h-1.05zM392.1 322.8h1.05v1.05h-1.05zM387.4 304.9h1.05v1.05h-1.05zM394.8 311.7h1.05v1.05h-1.05zM395.1 317.9h1.05v1.05h-1.05zM395.5 315.0h1.05v1.05h-1.05zM387.7 315.6h1.05v1.05h-1.05zM396.4 295.3h1.05v1.05h-1.05zM402.6 314.4h1.05v1.05h-1.05zM384.4 309.5h1.05v1.05h-1.05zM404.7 305.6h1.05v1.05h-1.05zM405.1 305.3h1.05v1.05h-1.05zM403.9 309.4h1.05v1.05h-1.05zM389.1 309.6h1.05v1.05h-1.05zM386.6 315.8h1.05v1.05h-1.05zM394.7 306.9h1.05v1.05h-1.05zM390.8 305.9h1.05v1.05h-1.05zM384.7 309.2h1.05v1.05h-1.05zM383.3 301.6h1.05v1.05h-1.05zM381.1 316.1h1.05v1.05h-1.05zM403.6 300.6h1.05v1.05h-1.05zM387.8 294.3h1.05v1.05h-1.05zM377.4 310.5h1.05v1.05h-1.05zM411.8 301.1h1.05v1.05h-1.05zM398.6 294.8h1.05v1.05h-1.05zM392.6 310.4h1.05v1.05h-1.05zM409.8 310.7h1.05v1.05h-1.05zM381.1 310.1h1.05v1.05h-1.05zM379.0 314.3h1.05v1.05h-1.05zM396.4 317.0h1.05v1.05h-1.05zM396.3 312.4h1.05v1.05h-1.05zM390.0 312.1h1.05v1.05h-1.05zM391.3 303.9h1.05v1.05h-1.05zM394.0 302.0h1.05v1.05h-1.05zM387.9 307.9h1.05v1.05h-1.05zM393.7 316.0h1.05v1.05h-1.05zM376.2 311.2h1.05v1.05h-1.05zM390.9 316.0h1.05v1.05h-1.05zM382.7 287.7h1.05v1.05h-1.05zM391.2 303.5h1.05v1.05h-1.05zM384.8 302.5h1.05v1.05h-1.05zM400.6 303.6h1.05v1.05h-1.05zM402.7 311.9h1.05v1.05h-1.05zM383.7 287.4h1.05v1.05h-1.05zM397.7 296.6h1.05v1.05h-1.05zM380.2 311.2h1.05v1.05h-1.05zM402.3 316.3h1.05v1.05h-1.05zM388.0 304.7h1.05v1.05h-1.05zM381.2 306.2h1.05v1.05h-1.05zM393.8 321.4h1.05v1.05h-1.05zM390.1 298.2h1.05v1.05h-1.05zM400.2 299.6h1.05v1.05h-1.05zM380.4 306.7h1.05v1.05h-1.05zM392.3 305.9h1.05v1.05h-1.05zM380.5 304.2h1.05v1.05h-1.05zM379.5 292.6h1.05v1.05h-1.05zM395.5 316.4h1.05v1.05h-1.05zM394.3 317.0h1.05v1.05h-1.05zM385.4 304.8h1.05v1.05h-1.05zM389.7 311.0h1.05v1.05h-1.05zM399.4 301.2h1.05v1.05h-1.05zM380.1 291.6h1.05v1.05h-1.05zM380.8 314.4h1.05v1.05h-1.05zM388.5 312.4h1.05v1.05h-1.05zM398.9 312.5h1.05v1.05h-1.05zM401.0 303.4h1.05v1.05h-1.05zM397.3 303.6h1.05v1.05h-1.05zM383.2 305.1h1.05v1.05h-1.05zM395.1 301.1h1.05v1.05h-1.05zM402.9 297.6h1.05v1.05h-1.05zM379.3 299.2h1.05v1.05h-1.05zM400.1 304.0h1.05v1.05h-1.05zM394.5 309.9h1.05v1.05h-1.05zM378.1 304.6h1.05v1.05h-1.05zM398.9 312.3h1.05v1.05h-1.05zM390.6 310.1h1.05v1.05h-1.05zM392.8 311.9h1.05v1.05h-1.05zM375.9 296.7h1.05v1.05h-1.05zM402.0 305.5h1.05v1.05h-1.05zM380.2 308.5h1.05v1.05h-1.05zM392.5 297.6h1.05v1.05h-1.05zM391.5 303.8h1.05v1.05h-1.05zM397.4 305.3h1.05v1.05h-1.05zM392.5 312.2h1.05v1.05h-1.05zM393.3 301.0h1.05v1.05h-1.05zM380.4 299.1h1.05v1.05h-1.05zM383.8 304.4h1.05v1.05h-1.05zM388.0 302.6h1.05v1.05h-1.05zM383.8 316.0h1.05v1.05h-1.05zM389.5 294.8h1.05v1.05h-1.05zM391.3 313.3h1.05v1.05h-1.05zM390.5 309.0h1.05v1.05h-1.05zM382.4 312.4h1.05v1.05h-1.05zM396.8 315.0h1.05v1.05h-1.05zM401.0 315.8h1.05v1.05h-1.05zM403.1 297.9h1.05v1.05h-1.05zM397.8 314.0h1.05v1.05h-1.05zM399.9 303.4h1.05v1.05h-1.05zM382.5 301.1h1.05v1.05h-1.05zM379.3 308.6h1.05v1.05h-1.05zM384.2 306.5h1.05v1.05h-1.05zM391.2 304.2h1.05v1.05h-1.05zM383.8 300.0h1.05v1.05h-1.05zM402.0 293.7h1.05v1.05h-1.05zM393.0 298.3h1.05v1.05h-1.05zM384.5 303.9h1.05v1.05h-1.05zM409.3 309.1h1.05v1.05h-1.05zM397.1 312.1h1.05v1.05h-1.05zM400.2 309.2h1.05v1.05h-1.05zM404.4 308.4h1.05v1.05h-1.05zM386.7 305.9h1.05v1.05h-1.05zM391.0 318.8h1.05v1.05h-1.05zM377.0 300.2h1.05v1.05h-1.05zM390.5 306.3h1.05v1.05h-1.05zM388.9 298.3h1.05v1.05h-1.05zM390.1 307.7h1.05v1.05h-1.05zM379.0 304.0h1.05v1.05h-1.05zM390.6 305.5h1.05v1.05h-1.05zM405.5 295.6h1.05v1.05h-1.05zM394.6 308.9h1.05v1.05h-1.05zM378.4 312.8h1.05v1.05h-1.05zM381.0 307.4h1.05v1.05h-1.05zM383.6 302.5h1.05v1.05h-1.05zM396.4 314.4h1.05v1.05h-1.05zM392.0 307.7h1.05v1.05h-1.05zM389.5 313.8h1.05v1.05h-1.05zM395.7 288.4h1.05v1.05h-1.05zM406.9 299.5h1.05v1.05h-1.05zM375.5 298.4h1.05v1.05h-1.05zM388.6 302.3h1.05v1.05h-1.05zM386.4 300.5h1.05v1.05h-1.05zM403.4 321.8h1.05v1.05h-1.05zM402.4 302.7h1.05v1.05h-1.05zM394.7 316.4h1.05v1.05h-1.05zM379.9 316.4h1.05v1.05h-1.05zM394.0 315.6h1.05v1.05h-1.05zM405.0 299.8h1.05v1.05h-1.05zM407.8 322.5h1.05v1.05h-1.05zM390.6 302.2h1.05v1.05h-1.05zM379.4 311.9h1.05v1.05h-1.05zM401.0 299.9h1.05v1.05h-1.05zM390.5 309.5h1.05v1.05h-1.05zM397.0 321.4h1.05v1.05h-1.05zM388.1 320.8h1.05v1.05h-1.05zM414.3 308.4h1.05v1.05h-1.05zM395.2 298.8h1.05v1.05h-1.05zM380.8 314.6h1.05v1.05h-1.05zM376.2 315.8h1.05v1.05h-1.05zM376.1 311.0h1.05v1.05h-1.05zM396.7 317.6h1.05v1.05h-1.05zM409.7 299.2h1.05v1.05h-1.05zM381.0 316.6h1.05v1.05h-1.05zM374.3 308.6h1.05v1.05h-1.05zM399.8 322.8h1.05v1.05h-1.05zM402.1 309.5h1.05v1.05h-1.05zM385.2 319.4h1.05v1.05h-1.05zM405.8 302.5h1.05v1.05h-1.05zM400.5 305.9h1.05v1.05h-1.05zM386.4 309.3h1.05v1.05h-1.05zM381.6 308.9h1.05v1.05h-1.05zM374.4 321.6h1.05v1.05h-1.05zM384.9 304.7h1.05v1.05h-1.05zM409.8 311.9h1.05v1.05h-1.05zM401.9 309.2h1.05v1.05h-1.05zM413.7 309.8h1.05v1.05h-1.05zM411.5 315.8h1.05v1.05h-1.05zM411.0 303.4h1.05v1.05h-1.05zM406.3 311.3h1.05v1.05h-1.05zM378.2 300.5h1.05v1.05h-1.05zM374.2 310.2h1.05v1.05h-1.05zM401.1 317.6h1.05v1.05h-1.05zM405.4 303.4h1.05v1.05h-1.05zM391.3 320.4h1.05v1.05h-1.05zM380.0 316.0h1.05v1.05h-1.05zM378.9 305.1h1.05v1.05h-1.05zM380.3 318.4h1.05v1.05h-1.05zM415.0 310.4h1.05v1.05h-1.05zM398.8 322.5h1.05v1.05h-1.05zM407.6 312.3h1.05v1.05h-1.05zM409.1 300.5h1.05v1.05h-1.05zM383.5 317.0h1.05v1.05h-1.05zM407.9 303.4h1.05v1.05h-1.05zM402.6 314.6h1.05v1.05h-1.05zM409.8 309.1h1.05v1.05h-1.05zM398.7 307.4h1.05v1.05h-1.05zM398.8 318.5h1.05v1.05h-1.05zM407.9 312.4h1.05v1.05h-1.05zM397.5 322.6h1.05v1.05h-1.05zM414.7 309.2h1.05v1.05h-1.05zM404.5 321.1h1.05v1.05h-1.05zM395.7 299.9h1.05v1.05h-1.05zM380.6 310.8h1.05v1.05h-1.05zM392.4 310.6h1.05v1.05h-1.05zM380.8 298.6h1.05v1.05h-1.05zM398.0 312.9h1.05v1.05h-1.05zM401.4 301.8h1.05v1.05h-1.05zM394.9 318.5h1.05v1.05h-1.05zM392.6 316.4h1.05v1.05h-1.05zM374.9 321.9h1.05v1.05h-1.05zM400.1 315.4h1.05v1.05h-1.05zM421.3 314.9h1.05v1.05h-1.05zM423.2 307.5h1.05v1.05h-1.05zM427.5 320.1h1.05v1.05h-1.05zM425.9 309.0h1.05v1.05h-1.05zM420.4 317.1h1.05v1.05h-1.05zM426.0 313.2h1.05v1.05h-1.05zM422.0 307.3h1.05v1.05h-1.05zM420.3 299.5h1.05v1.05h-1.05zM418.7 300.2h1.05v1.05h-1.05zM416.0 316.3h1.05v1.05h-1.05zM422.0 304.5h1.05v1.05h-1.05zM419.9 301.2h1.05v1.05h-1.05zM417.2 312.1h1.05v1.05h-1.05zM420.7 307.6h1.05v1.05h-1.05zM427.8 307.5h1.05v1.05h-1.05zM425.3 305.3h1.05v1.05h-1.05zM427.6 314.9h1.05v1.05h-1.05zM427.4 311.8h1.05v1.05h-1.05zM419.2 307.4h1.05v1.05h-1.05zM422.3 308.8h1.05v1.05h-1.05zM419.8 304.3h1.05v1.05h-1.05zM421.4 307.0h1.05v1.05h-1.05zM427.1 311.0h1.05v1.05h-1.05zM433.1 314.4h1.05v1.05h-1.05zM418.6 308.4h1.05v1.05h-1.05zM419.9 308.9h1.05v1.05h-1.05zM424.0 311.1h1.05v1.05h-1.05zM416.7 313.7h1.05v1.05h-1.05zM424.2 320.3h1.05v1.05h-1.05zM421.8 321.4h1.05v1.05h-1.05zM426.0 313.9h1.05v1.05h-1.05zM423.0 302.5h1.05v1.05h-1.05zM416.9 298.6h1.05v1.05h-1.05zM429.8 319.0h1.05v1.05h-1.05zM430.7 306.4h1.05v1.05h-1.05zM419.7 310.0h1.05v1.05h-1.05zM424.1 317.5h1.05v1.05h-1.05zM422.5 306.6h1.05v1.05h-1.05zM422.2 300.0h1.05v1.05h-1.05zM425.5 307.2h1.05v1.05h-1.05zM432.1 306.2h1.05v1.05h-1.05zM423.9 305.1h1.05v1.05h-1.05zM434.7 306.7h1.05v1.05h-1.05zM429.9 316.5h1.05v1.05h-1.05zM429.3 311.6h1.05v1.05h-1.05zM444.5 306.6h1.05v1.05h-1.05zM426.6 318.9h1.05v1.05h-1.05zM456.3 298.1h1.05v1.05h-1.05zM438.2 289.6h1.05v1.05h-1.05zM455.2 303.2h1.05v1.05h-1.05zM433.8 317.9h1.05v1.05h-1.05zM474.8 318.7h1.05v1.05h-1.05zM420.2 318.5h1.05v1.05h-1.05zM417.3 297.3h1.05v1.05h-1.05zM425.2 281.7h1.05v1.05h-1.05zM438.8 287.5h1.05v1.05h-1.05zM423.9 306.5h1.05v1.05h-1.05zM478.5 277.5h1.05v1.05h-1.05zM439.1 278.0h1.05v1.05h-1.05zM459.9 316.7h1.05v1.05h-1.05zM424.3 317.8h1.05v1.05h-1.05zM491.1 299.5h1.05v1.05h-1.05zM472.8 299.0h1.05v1.05h-1.05zM458.9 314.5h1.05v1.05h-1.05zM452.3 315.7h1.05v1.05h-1.05zM475.5 293.2h1.05v1.05h-1.05zM437.3 296.0h1.05v1.05h-1.05zM421.1 291.1h1.05v1.05h-1.05zM480.1 289.7h1.05v1.05h-1.05zM425.8 310.9h1.05v1.05h-1.05zM487.9 307.0h1.05v1.05h-1.05zM423.3 318.4h1.05v1.05h-1.05zM453.7 313.0h1.05v1.05h-1.05zM428.5 304.8h1.05v1.05h-1.05zM465.3 312.5h1.05v1.05h-1.05zM486.0 316.7h1.05v1.05h-1.05zM457.1 284.1h1.05v1.05h-1.05zM440.6 310.8h1.05v1.05h-1.05zM439.3 278.1h1.05v1.05h-1.05zM437.4 281.0h1.05v1.05h-1.05zM419.9 290.6h1.05v1.05h-1.05zM421.7 277.5h1.05v1.05h-1.05zM454.9 283.9h1.05v1.05h-1.05zM425.2 316.0h1.05v1.05h-1.05zM438.8 299.3h1.05v1.05h-1.05zM423.4 305.4h1.05v1.05h-1.05zM419.0 319.5h1.05v1.05h-1.05zM473.3 287.5h1.05v1.05h-1.05zM479.7 283.5h1.05v1.05h-1.05zM433.5 282.2h1.05v1.05h-1.05zM416.2 302.8h1.05v1.05h-1.05zM417.7 286.6h1.05v1.05h-1.05zM462.0 278.0h1.05v1.05h-1.05zM457.9 289.9h1.05v1.05h-1.05zM486.8 294.7h1.05v1.05h-1.05zM450.6 304.5h1.05v1.05h-1.05zM440.8 313.2h1.05v1.05h-1.05zM441.6 284.6h1.05v1.05h-1.05zM455.4 297.1h1.05v1.05h-1.05zM423.3 289.8h1.05v1.05h-1.05zM439.6 317.1h1.05v1.05h-1.05zM429.6 278.7h1.05v1.05h-1.05zM478.1 300.2h1.05v1.05h-1.05zM434.3 276.6h1.05v1.05h-1.05zM424.6 308.9h1.05v1.05h-1.05z"/>
<rect x="45.20" y="45.20" width="139.50" height="1.60" fill="#1a1a1a"/><rect x="50.95" y="46.00" width="1.30" height="132.90" fill="#111"/><rect x="183.30" y="46.00" width="1.40" height="138.40" fill="#222"/><rect x="51.00" y="177.60" width="133.70" height="1.40" fill="#111"/><rect x="45.80" y="175.70" width="5.80" height="1.20" fill="#111"/><rect x="45.80" y="142.10" width="5.80" height="1.20" fill="#111"/><rect x="45.80" y="110.50" width="5.80" height="1.20" fill="#111"/><rect x="45.80" y="77.60" width="5.80" height="1.20" fill="#111"/><rect x="48.60" y="166.00" width="3.00" height="1.00" fill="#111"/><rect x="48.60" y="160.00" width="3.00" height="1.00" fill="#111"/><rect x="48.60" y="156.00" width="3.00" height="1.00" fill="#111"/><rect x="48.60" y="153.00" width="3.00" height="1.00" fill="#111"/><rect x="48.60" y="150.00" width="3.00" height="1.00" fill="#111"/><rect x="48.60" y="148.00" width="3.00" height="1.00" fill="#111"/><rect x="48.60" y="146.00" width="3.00" height="1.00" fill="#111"/><rect x="48.60" y="144.00" width="3.00" height="1.00" fill="#111"/><rect x="48.60" y="133.00" width="3.00" height="1.00" fill="#111"/><rect x="48.60" y="128.00" width="3.00" height="1.00" fill="#111"/><rect x="48.60" y="124.00" width="3.00" height="1.00" fill="#111"/><rect x="48.60" y="121.00" width="3.00" height="1.00" fill="#111"/><rect x="48.60" y="118.00" width="3.00" height="1.00" fill="#111"/><rect x="48.60" y="116.00" width="3.00" height="1.00" fill="#111"/><rect x="48.60" y="114.00" width="3.00" height="1.00" fill="#111"/><rect x="48.60" y="113.00" width="3.00" height="1.00" fill="#111"/><rect x="48.60" y="101.00" width="3.00" height="1.00" fill="#111"/><rect x="48.60" y="95.00" width="3.00" height="1.00" fill="#111"/><rect x="48.60" y="91.00" width="3.00" height="1.00" fill="#111"/><rect x="48.60" y="88.00" width="3.00" height="1.00" fill="#111"/><rect x="48.60" y="85.00" width="3.00" height="1.00" fill="#111"/><rect x="48.60" y="83.00" width="3.00" height="1.00" fill="#111"/><rect x="48.60" y="81.00" width="3.00" height="1.00" fill="#111"/><rect x="48.60" y="80.00" width="3.00" height="1.00" fill="#111"/><rect x="48.60" y="68.00" width="3.00" height="1.00" fill="#111"/><rect x="48.60" y="63.00" width="3.00" height="1.00" fill="#111"/><rect x="48.60" y="59.00" width="3.00" height="1.00" fill="#111"/><rect x="48.60" y="56.00" width="3.00" height="1.00" fill="#111"/><rect x="48.60" y="53.00" width="3.00" height="1.00" fill="#111"/><rect x="48.60" y="51.00" width="3.00" height="1.00" fill="#111"/><rect x="48.60" y="49.00" width="3.00" height="1.00" fill="#111"/><rect x="48.60" y="47.00" width="3.00" height="1.00" fill="#111"/><rect x="52.90" y="178.30" width="1.20" height="6.10" fill="#111"/><rect x="86.80" y="178.30" width="1.20" height="6.10" fill="#111"/><rect x="118.70" y="178.30" width="1.20" height="6.10" fill="#111"/><rect x="151.20" y="178.30" width="1.20" height="6.10" fill="#111"/><rect x="63.00" y="178.30" width="1.00" height="3.30" fill="#111"/><rect x="69.00" y="178.30" width="1.00" height="3.30" fill="#111"/><rect x="73.00" y="178.30" width="1.00" height="3.30" fill="#111"/><rect x="77.00" y="178.30" width="1.00" height="3.30" fill="#111"/><rect x="79.00" y="178.30" width="1.00" height="3.30" fill="#111"/><rect x="82.00" y="178.30" width="1.00" height="3.30" fill="#111"/><rect x="84.00" y="178.30" width="1.00" height="3.30" fill="#111"/><rect x="85.00" y="178.30" width="1.00" height="3.30" fill="#111"/><rect x="97.00" y="178.30" width="1.00" height="3.30" fill="#111"/><rect x="102.00" y="178.30" width="1.00" height="3.30" fill="#111"/><rect x="106.00" y="178.30" width="1.00" height="3.30" fill="#111"/><rect x="109.00" y="178.30" width="1.00" height="3.30" fill="#111"/><rect x="112.00" y="178.30" width="1.00" height="3.30" fill="#111"/><rect x="114.00" y="178.30" width="1.00" height="3.30" fill="#111"/><rect x="116.00" y="178.30" width="1.00" height="3.30" fill="#111"/><rect x="117.00" y="178.30" width="1.00" height="3.30" fill="#111"/><rect x="129.00" y="178.30" width="1.00" height="3.30" fill="#111"/><rect x="134.00" y="178.30" width="1.00" height="3.30" fill="#111"/><rect x="138.00" y="178.30" width="1.00" height="3.30" fill="#111"/><rect x="142.00" y="178.30" width="1.00" height="3.30" fill="#111"/><rect x="144.00" y="178.30" width="1.00" height="3.30" fill="#111"/><rect x="146.00" y="178.30" width="1.00" height="3.30" fill="#111"/><rect x="148.00" y="178.30" width="1.00" height="3.30" fill="#111"/><rect x="150.00" y="178.30" width="1.00" height="3.30" fill="#111"/><rect x="161.00" y="178.30" width="1.00" height="3.30" fill="#111"/><rect x="167.00" y="178.30" width="1.00" height="3.30" fill="#111"/><rect x="171.00" y="178.30" width="1.00" height="3.30" fill="#111"/><rect x="174.00" y="178.30" width="1.00" height="3.30" fill="#111"/><rect x="176.00" y="178.30" width="1.00" height="3.30" fill="#111"/><rect x="179.00" y="178.30" width="1.00" height="3.30" fill="#111"/><rect x="180.00" y="178.30" width="1.00" height="3.30" fill="#111"/><rect x="182.00" y="178.30" width="1.00" height="3.30" fill="#111"/><rect x="95.45" y="46.00" width="1.50" height="132.30" fill="#1a1a1a"/><rect x="51.60" y="110.95" width="132.40" height="1.70" fill="#333"/><rect x="203.20" y="45.20" width="139.50" height="1.60" fill="#1a1a1a"/><rect x="208.95" y="46.00" width="1.30" height="132.90" fill="#111"/><rect x="341.30" y="46.00" width="1.40" height="138.40" fill="#222"/><rect x="209.00" y="177.60" width="133.70" height="1.40" fill="#111"/><rect x="203.80" y="175.70" width="5.80" height="1.20" fill="#111"/><rect x="203.80" y="142.10" width="5.80" height="1.20" fill="#111"/><rect x="203.80" y="110.50" width="5.80" height="1.20" fill="#111"/><rect x="203.80" y="77.60" width="5.80" height="1.20" fill="#111"/><rect x="206.60" y="166.00" width="3.00" height="1.00" fill="#111"/><rect x="206.60" y="160.00" width="3.00" height="1.00" fill="#111"/><rect x="206.60" y="156.00" width="3.00" height="1.00" fill="#111"/><rect x="206.60" y="153.00" width="3.00" height="1.00" fill="#111"/><rect x="206.60" y="150.00" width="3.00" height="1.00" fill="#111"/><rect x="206.60" y="148.00" width="3.00" height="1.00" fill="#111"/><rect x="206.60" y="146.00" width="3.00" height="1.00" fill="#111"/><rect x="206.60" y="144.00" width="3.00" height="1.00" fill="#111"/><rect x="206.60" y="133.00" width="3.00" height="1.00" fill="#111"/><rect x="206.60" y="128.00" width="3.00" height="1.00" fill="#111"/><rect x="206.60" y="124.00" width="3.00" height="1.00" fill="#111"/><rect x="206.60" y="121.00" width="3.00" height="1.00" fill="#111"/><rect x="206.60" y="118.00" width="3.00" height="1.00" fill="#111"/><rect x="206.60" y="116.00" width="3.00" height="1.00" fill="#111"/><rect x="206.60" y="114.00" width="3.00" height="1.00" fill="#111"/><rect x="206.60" y="113.00" width="3.00" height="1.00" fill="#111"/><rect x="206.60" y="101.00" width="3.00" height="1.00" fill="#111"/><rect x="206.60" y="95.00" width="3.00" height="1.00" fill="#111"/><rect x="206.60" y="91.00" width="3.00" height="1.00" fill="#111"/><rect x="206.60" y="88.00" width="3.00" height="1.00" fill="#111"/><rect x="206.60" y="85.00" width="3.00" height="1.00" fill="#111"/><rect x="206.60" y="83.00" width="3.00" height="1.00" fill="#111"/><rect x="206.60" y="81.00" width="3.00" height="1.00" fill="#111"/><rect x="206.60" y="80.00" width="3.00" height="1.00" fill="#111"/><rect x="206.60" y="68.00" width="3.00" height="1.00" fill="#111"/><rect x="206.60" y="63.00" width="3.00" height="1.00" fill="#111"/><rect x="206.60" y="59.00" width="3.00" height="1.00" fill="#111"/><rect x="206.60" y="56.00" width="3.00" height="1.00" fill="#111"/><rect x="206.60" y="53.00" width="3.00" height="1.00" fill="#111"/><rect x="206.60" y="51.00" width="3.00" height="1.00" fill="#111"/><rect x="206.60" y="49.00" width="3.00" height="1.00" fill="#111"/><rect x="206.60" y="47.00" width="3.00" height="1.00" fill="#111"/><rect x="210.90" y="178.30" width="1.20" height="6.10" fill="#111"/><rect x="244.80" y="178.30" width="1.20" height="6.10" fill="#111"/><rect x="276.70" y="178.30" width="1.20" height="6.10" fill="#111"/><rect x="309.20" y="178.30" width="1.20" height="6.10" fill="#111"/><rect x="221.00" y="178.30" width="1.00" height="3.30" fill="#111"/><rect x="227.00" y="178.30" width="1.00" height="3.30" fill="#111"/><rect x="231.00" y="178.30" width="1.00" height="3.30" fill="#111"/><rect x="235.00" y="178.30" width="1.00" height="3.30" fill="#111"/><rect x="237.00" y="178.30" width="1.00" height="3.30" fill="#111"/><rect x="240.00" y="178.30" width="1.00" height="3.30" fill="#111"/><rect x="242.00" y="178.30" width="1.00" height="3.30" fill="#111"/><rect x="243.00" y="178.30" width="1.00" height="3.30" fill="#111"/><rect x="255.00" y="178.30" width="1.00" height="3.30" fill="#111"/><rect x="260.00" y="178.30" width="1.00" height="3.30" fill="#111"/><rect x="264.00" y="178.30" width="1.00" height="3.30" fill="#111"/><rect x="267.00" y="178.30" width="1.00" height="3.30" fill="#111"/><rect x="270.00" y="178.30" width="1.00" height="3.30" fill="#111"/><rect x="272.00" y="178.30" width="1.00" height="3.30" fill="#111"/><rect x="274.00" y="178.30" width="1.00" height="3.30" fill="#111"/><rect x="275.00" y="178.30" width="1.00" height="3.30" fill="#111"/><rect x="287.00" y="178.30" width="1.00" height="3.30" fill="#111"/><rect x="292.00" y="178.30" width="1.00" height="3.30" fill="#111"/><rect x="296.00" y="178.30" width="1.00" height="3.30" fill="#111"/><rect x="300.00" y="178.30" width="1.00" height="3.30" fill="#111"/><rect x="302.00" y="178.30" width="1.00" height="3.30" fill="#111"/><rect x="304.00" y="178.30" width="1.00" height="3.30" fill="#111"/><rect x="306.00" y="178.30" width="1.00" height="3.30" fill="#111"/><rect x="308.00" y="178.30" width="1.00" height="3.30" fill="#111"/><rect x="319.00" y="178.30" width="1.00" height="3.30" fill="#111"/><rect x="325.00" y="178.30" width="1.00" height="3.30" fill="#111"/><rect x="329.00" y="178.30" width="1.00" height="3.30" fill="#111"/><rect x="332.00" y="178.30" width="1.00" height="3.30" fill="#111"/><rect x="334.00" y="178.30" width="1.00" height="3.30" fill="#111"/><rect x="337.00" y="178.30" width="1.00" height="3.30" fill="#111"/><rect x="338.00" y="178.30" width="1.00" height="3.30" fill="#111"/><rect x="340.00" y="178.30" width="1.00" height="3.30" fill="#111"/><rect x="253.35" y="46.00" width="1.50" height="132.30" fill="#1a1a1a"/><rect x="209.60" y="110.95" width="132.40" height="1.70" fill="#333"/><rect x="364.20" y="45.20" width="139.50" height="1.60" fill="#1a1a1a"/><rect x="369.95" y="46.00" width="1.30" height="132.90" fill="#111"/><rect x="502.30" y="46.00" width="1.40" height="138.40" fill="#222"/><rect x="370.00" y="177.60" width="133.70" height="1.40" fill="#111"/><rect x="364.80" y="175.70" width="5.80" height="1.20" fill="#111"/><rect x="364.80" y="142.10" width="5.80" height="1.20" fill="#111"/><rect x="364.80" y="110.50" width="5.80" height="1.20" fill="#111"/><rect x="364.80" y="77.60" width="5.80" height="1.20" fill="#111"/><rect x="367.60" y="166.00" width="3.00" height="1.00" fill="#111"/><rect x="367.60" y="160.00" width="3.00" height="1.00" fill="#111"/><rect x="367.60" y="156.00" width="3.00" height="1.00" fill="#111"/><rect x="367.60" y="153.00" width="3.00" height="1.00" fill="#111"/><rect x="367.60" y="150.00" width="3.00" height="1.00" fill="#111"/><rect x="367.60" y="148.00" width="3.00" height="1.00" fill="#111"/><rect x="367.60" y="146.00" width="3.00" height="1.00" fill="#111"/><rect x="367.60" y="144.00" width="3.00" height="1.00" fill="#111"/><rect x="367.60" y="133.00" width="3.00" height="1.00" fill="#111"/><rect x="367.60" y="128.00" width="3.00" height="1.00" fill="#111"/><rect x="367.60" y="124.00" width="3.00" height="1.00" fill="#111"/><rect x="367.60" y="121.00" width="3.00" height="1.00" fill="#111"/><rect x="367.60" y="118.00" width="3.00" height="1.00" fill="#111"/><rect x="367.60" y="116.00" width="3.00" height="1.00" fill="#111"/><rect x="367.60" y="114.00" width="3.00" height="1.00" fill="#111"/><rect x="367.60" y="113.00" width="3.00" height="1.00" fill="#111"/><rect x="367.60" y="101.00" width="3.00" height="1.00" fill="#111"/><rect x="367.60" y="95.00" width="3.00" height="1.00" fill="#111"/><rect x="367.60" y="91.00" width="3.00" height="1.00" fill="#111"/><rect x="367.60" y="88.00" width="3.00" height="1.00" fill="#111"/><rect x="367.60" y="85.00" width="3.00" height="1.00" fill="#111"/><rect x="367.60" y="83.00" width="3.00" height="1.00" fill="#111"/><rect x="367.60" y="81.00" width="3.00" height="1.00" fill="#111"/><rect x="367.60" y="80.00" width="3.00" height="1.00" fill="#111"/><rect x="367.60" y="68.00" width="3.00" height="1.00" fill="#111"/><rect x="367.60" y="63.00" width="3.00" height="1.00" fill="#111"/><rect x="367.60" y="59.00" width="3.00" height="1.00" fill="#111"/><rect x="367.60" y="56.00" width="3.00" height="1.00" fill="#111"/><rect x="367.60" y="53.00" width="3.00" height="1.00" fill="#111"/><rect x="367.60" y="51.00" width="3.00" height="1.00" fill="#111"/><rect x="367.60" y="49.00" width="3.00" height="1.00" fill="#111"/><rect x="367.60" y="47.00" width="3.00" height="1.00" fill="#111"/><rect x="371.90" y="178.30" width="1.20" height="6.10" fill="#111"/><rect x="405.80" y="178.30" width="1.20" height="6.10" fill="#111"/><rect x="437.70" y="178.30" width="1.20" height="6.10" fill="#111"/><rect x="470.20" y="178.30" width="1.20" height="6.10" fill="#111"/><rect x="382.00" y="178.30" width="1.00" height="3.30" fill="#111"/><rect x="388.00" y="178.30" width="1.00" height="3.30" fill="#111"/><rect x="392.00" y="178.30" width="1.00" height="3.30" fill="#111"/><rect x="396.00" y="178.30" width="1.00" height="3.30" fill="#111"/><rect x="398.00" y="178.30" width="1.00" height="3.30" fill="#111"/><rect x="401.00" y="178.30" width="1.00" height="3.30" fill="#111"/><rect x="403.00" y="178.30" width="1.00" height="3.30" fill="#111"/><rect x="404.00" y="178.30" width="1.00" height="3.30" fill="#111"/><rect x="416.00" y="178.30" width="1.00" height="3.30" fill="#111"/><rect x="421.00" y="178.30" width="1.00" height="3.30" fill="#111"/><rect x="425.00" y="178.30" width="1.00" height="3.30" fill="#111"/><rect x="428.00" y="178.30" width="1.00" height="3.30" fill="#111"/><rect x="431.00" y="178.30" width="1.00" height="3.30" fill="#111"/><rect x="433.00" y="178.30" width="1.00" height="3.30" fill="#111"/><rect x="435.00" y="178.30" width="1.00" height="3.30" fill="#111"/><rect x="436.00" y="178.30" width="1.00" height="3.30" fill="#111"/><rect x="448.00" y="178.30" width="1.00" height="3.30" fill="#111"/><rect x="453.00" y="178.30" width="1.00" height="3.30" fill="#111"/><rect x="457.00" y="178.30" width="1.00" height="3.30" fill="#111"/><rect x="461.00" y="178.30" width="1.00" height="3.30" fill="#111"/><rect x="463.00" y="178.30" width="1.00" height="3.30" fill="#111"/><rect x="465.00" y="178.30" width="1.00" height="3.30" fill="#111"/><rect x="467.00" y="178.30" width="1.00" height="3.30" fill="#111"/><rect x="469.00" y="178.30" width="1.00" height="3.30" fill="#111"/><rect x="480.00" y="178.30" width="1.00" height="3.30" fill="#111"/><rect x="486.00" y="178.30" width="1.00" height="3.30" fill="#111"/><rect x="490.00" y="178.30" width="1.00" height="3.30" fill="#111"/><rect x="493.00" y="178.30" width="1.00" height="3.30" fill="#111"/><rect x="495.00" y="178.30" width="1.00" height="3.30" fill="#111"/><rect x="498.00" y="178.30" width="1.00" height="3.30" fill="#111"/><rect x="499.00" y="178.30" width="1.00" height="3.30" fill="#111"/><rect x="501.00" y="178.30" width="1.00" height="3.30" fill="#111"/><rect x="414.65" y="46.00" width="1.50" height="132.30" fill="#1a1a1a"/><rect x="370.60" y="110.95" width="132.40" height="1.70" fill="#333"/><rect x="45.20" y="257.20" width="139.50" height="1.60" fill="#1a1a1a"/><rect x="50.95" y="258.00" width="1.30" height="132.90" fill="#111"/><rect x="183.30" y="258.00" width="1.40" height="138.40" fill="#222"/><rect x="51.00" y="389.60" width="133.70" height="1.40" fill="#111"/><rect x="45.80" y="387.70" width="5.80" height="1.20" fill="#111"/><rect x="45.80" y="354.10" width="5.80" height="1.20" fill="#111"/><rect x="45.80" y="322.50" width="5.80" height="1.20" fill="#111"/><rect x="45.80" y="289.60" width="5.80" height="1.20" fill="#111"/><rect x="48.60" y="378.00" width="3.00" height="1.00" fill="#111"/><rect x="48.60" y="372.00" width="3.00" height="1.00" fill="#111"/><rect x="48.60" y="368.00" width="3.00" height="1.00" fill="#111"/><rect x="48.60" y="365.00" width="3.00" height="1.00" fill="#111"/><rect x="48.60" y="362.00" width="3.00" height="1.00" fill="#111"/><rect x="48.60" y="360.00" width="3.00" height="1.00" fill="#111"/><rect x="48.60" y="358.00" width="3.00" height="1.00" fill="#111"/><rect x="48.60" y="356.00" width="3.00" height="1.00" fill="#111"/><rect x="48.60" y="345.00" width="3.00" height="1.00" fill="#111"/><rect x="48.60" y="340.00" width="3.00" height="1.00" fill="#111"/><rect x="48.60" y="336.00" width="3.00" height="1.00" fill="#111"/><rect x="48.60" y="333.00" width="3.00" height="1.00" fill="#111"/><rect x="48.60" y="330.00" width="3.00" height="1.00" fill="#111"/><rect x="48.60" y="328.00" width="3.00" height="1.00" fill="#111"/><rect x="48.60" y="326.00" width="3.00" height="1.00" fill="#111"/><rect x="48.60" y="325.00" width="3.00" height="1.00" fill="#111"/><rect x="48.60" y="313.00" width="3.00" height="1.00" fill="#111"/><rect x="48.60" y="307.00" width="3.00" height="1.00" fill="#111"/><rect x="48.60" y="303.00" width="3.00" height="1.00" fill="#111"/><rect x="48.60" y="300.00" width="3.00" height="1.00" fill="#111"/><rect x="48.60" y="297.00" width="3.00" height="1.00" fill="#111"/><rect x="48.60" y="295.00" width="3.00" height="1.00" fill="#111"/><rect x="48.60" y="293.00" width="3.00" height="1.00" fill="#111"/><rect x="48.60" y="292.00" width="3.00" height="1.00" fill="#111"/><rect x="48.60" y="280.00" width="3.00" height="1.00" fill="#111"/><rect x="48.60" y="275.00" width="3.00" height="1.00" fill="#111"/><rect x="48.60" y="271.00" width="3.00" height="1.00" fill="#111"/><rect x="48.60" y="268.00" width="3.00" height="1.00" fill="#111"/><rect x="48.60" y="265.00" width="3.00" height="1.00" fill="#111"/><rect x="48.60" y="263.00" width="3.00" height="1.00" fill="#111"/><rect x="48.60" y="261.00" width="3.00" height="1.00" fill="#111"/><rect x="48.60" y="259.00" width="3.00" height="1.00" fill="#111"/><rect x="52.90" y="390.30" width="1.20" height="6.10" fill="#111"/><rect x="86.80" y="390.30" width="1.20" height="6.10" fill="#111"/><rect x="118.70" y="390.30" width="1.20" height="6.10" fill="#111"/><rect x="151.20" y="390.30" width="1.20" height="6.10" fill="#111"/><rect x="63.00" y="390.30" width="1.00" height="3.30" fill="#111"/><rect x="69.00" y="390.30" width="1.00" height="3.30" fill="#111"/><rect x="73.00" y="390.30" width="1.00" height="3.30" fill="#111"/><rect x="77.00" y="390.30" width="1.00" height="3.30" fill="#111"/><rect x="79.00" y="390.30" width="1.00" height="3.30" fill="#111"/><rect x="82.00" y="390.30" width="1.00" height="3.30" fill="#111"/><rect x="84.00" y="390.30" width="1.00" height="3.30" fill="#111"/><rect x="85.00" y="390.30" width="1.00" height="3.30" fill="#111"/><rect x="97.00" y="390.30" width="1.00" height="3.30" fill="#111"/><rect x="102.00" y="390.30" width="1.00" height="3.30" fill="#111"/><rect x="106.00" y="390.30" width="1.00" height="3.30" fill="#111"/><rect x="109.00" y="390.30" width="1.00" height="3.30" fill="#111"/><rect x="112.00" y="390.30" width="1.00" height="3.30" fill="#111"/><rect x="114.00" y="390.30" width="1.00" height="3.30" fill="#111"/><rect x="116.00" y="390.30" width="1.00" height="3.30" fill="#111"/><rect x="117.00" y="390.30" width="1.00" height="3.30" fill="#111"/><rect x="129.00" y="390.30" width="1.00" height="3.30" fill="#111"/><rect x="134.00" y="390.30" width="1.00" height="3.30" fill="#111"/><rect x="138.00" y="390.30" width="1.00" height="3.30" fill="#111"/><rect x="142.00" y="390.30" width="1.00" height="3.30" fill="#111"/><rect x="144.00" y="390.30" width="1.00" height="3.30" fill="#111"/><rect x="146.00" y="390.30" width="1.00" height="3.30" fill="#111"/><rect x="148.00" y="390.30" width="1.00" height="3.30" fill="#111"/><rect x="150.00" y="390.30" width="1.00" height="3.30" fill="#111"/><rect x="161.00" y="390.30" width="1.00" height="3.30" fill="#111"/><rect x="167.00" y="390.30" width="1.00" height="3.30" fill="#111"/><rect x="171.00" y="390.30" width="1.00" height="3.30" fill="#111"/><rect x="174.00" y="390.30" width="1.00" height="3.30" fill="#111"/><rect x="176.00" y="390.30" width="1.00" height="3.30" fill="#111"/><rect x="179.00" y="390.30" width="1.00" height="3.30" fill="#111"/><rect x="180.00" y="390.30" width="1.00" height="3.30" fill="#111"/><rect x="182.00" y="390.30" width="1.00" height="3.30" fill="#111"/><rect x="94.75" y="258.00" width="1.50" height="132.30" fill="#1a1a1a"/><rect x="51.60" y="323.25" width="132.40" height="1.70" fill="#333"/><rect x="203.20" y="257.20" width="139.50" height="1.60" fill="#1a1a1a"/><rect x="208.95" y="258.00" width="1.30" height="132.90" fill="#111"/><rect x="341.30" y="258.00" width="1.40" height="138.40" fill="#222"/><rect x="209.00" y="389.60" width="133.70" height="1.40" fill="#111"/><rect x="203.80" y="387.70" width="5.80" height="1.20" fill="#111"/><rect x="203.80" y="354.10" width="5.80" height="1.20" fill="#111"/><rect x="203.80" y="322.50" width="5.80" height="1.20" fill="#111"/><rect x="203.80" y="289.60" width="5.80" height="1.20" fill="#111"/><rect x="206.60" y="378.00" width="3.00" height="1.00" fill="#111"/><rect x="206.60" y="372.00" width="3.00" height="1.00" fill="#111"/><rect x="206.60" y="368.00" width="3.00" height="1.00" fill="#111"/><rect x="206.60" y="365.00" width="3.00" height="1.00" fill="#111"/><rect x="206.60" y="362.00" width="3.00" height="1.00" fill="#111"/><rect x="206.60" y="360.00" width="3.00" height="1.00" fill="#111"/><rect x="206.60" y="358.00" width="3.00" height="1.00" fill="#111"/><rect x="206.60" y="356.00" width="3.00" height="1.00" fill="#111"/><rect x="206.60" y="345.00" width="3.00" height="1.00" fill="#111"/><rect x="206.60" y="340.00" width="3.00" height="1.00" fill="#111"/><rect x="206.60" y="336.00" width="3.00" height="1.00" fill="#111"/><rect x="206.60" y="333.00" width="3.00" height="1.00" fill="#111"/><rect x="206.60" y="330.00" width="3.00" height="1.00" fill="#111"/><rect x="206.60" y="328.00" width="3.00" height="1.00" fill="#111"/><rect x="206.60" y="326.00" width="3.00" height="1.00" fill="#111"/><rect x="206.60" y="325.00" width="3.00" height="1.00" fill="#111"/><rect x="206.60" y="313.00" width="3.00" height="1.00" fill="#111"/><rect x="206.60" y="307.00" width="3.00" height="1.00" fill="#111"/><rect x="206.60" y="303.00" width="3.00" height="1.00" fill="#111"/><rect x="206.60" y="300.00" width="3.00" height="1.00" fill="#111"/><rect x="206.60" y="297.00" width="3.00" height="1.00" fill="#111"/><rect x="206.60" y="295.00" width="3.00" height="1.00" fill="#111"/><rect x="206.60" y="293.00" width="3.00" height="1.00" fill="#111"/><rect x="206.60" y="292.00" width="3.00" height="1.00" fill="#111"/><rect x="206.60" y="280.00" width="3.00" height="1.00" fill="#111"/><rect x="206.60" y="275.00" width="3.00" height="1.00" fill="#111"/><rect x="206.60" y="271.00" width="3.00" height="1.00" fill="#111"/><rect x="206.60" y="268.00" width="3.00" height="1.00" fill="#111"/><rect x="206.60" y="265.00" width="3.00" height="1.00" fill="#111"/><rect x="206.60" y="263.00" width="3.00" height="1.00" fill="#111"/><rect x="206.60" y="261.00" width="3.00" height="1.00" fill="#111"/><rect x="206.60" y="259.00" width="3.00" height="1.00" fill="#111"/><rect x="210.90" y="390.30" width="1.20" height="6.10" fill="#111"/><rect x="244.80" y="390.30" width="1.20" height="6.10" fill="#111"/><rect x="276.70" y="390.30" width="1.20" height="6.10" fill="#111"/><rect x="309.20" y="390.30" width="1.20" height="6.10" fill="#111"/><rect x="221.00" y="390.30" width="1.00" height="3.30" fill="#111"/><rect x="227.00" y="390.30" width="1.00" height="3.30" fill="#111"/><rect x="231.00" y="390.30" width="1.00" height="3.30" fill="#111"/><rect x="235.00" y="390.30" width="1.00" height="3.30" fill="#111"/><rect x="237.00" y="390.30" width="1.00" height="3.30" fill="#111"/><rect x="240.00" y="390.30" width="1.00" height="3.30" fill="#111"/><rect x="242.00" y="390.30" width="1.00" height="3.30" fill="#111"/><rect x="243.00" y="390.30" width="1.00" height="3.30" fill="#111"/><rect x="255.00" y="390.30" width="1.00" height="3.30" fill="#111"/><rect x="260.00" y="390.30" width="1.00" height="3.30" fill="#111"/><rect x="264.00" y="390.30" width="1.00" height="3.30" fill="#111"/><rect x="267.00" y="390.30" width="1.00" height="3.30" fill="#111"/><rect x="270.00" y="390.30" width="1.00" height="3.30" fill="#111"/><rect x="272.00" y="390.30" width="1.00" height="3.30" fill="#111"/><rect x="274.00" y="390.30" width="1.00" height="3.30" fill="#111"/><rect x="275.00" y="390.30" width="1.00" height="3.30" fill="#111"/><rect x="287.00" y="390.30" width="1.00" height="3.30" fill="#111"/><rect x="292.00" y="390.30" width="1.00" height="3.30" fill="#111"/><rect x="296.00" y="390.30" width="1.00" height="3.30" fill="#111"/><rect x="300.00" y="390.30" width="1.00" height="3.30" fill="#111"/><rect x="302.00" y="390.30" width="1.00" height="3.30" fill="#111"/><rect x="304.00" y="390.30" width="1.00" height="3.30" fill="#111"/><rect x="306.00" y="390.30" width="1.00" height="3.30" fill="#111"/><rect x="308.00" y="390.30" width="1.00" height="3.30" fill="#111"/><rect x="319.00" y="390.30" width="1.00" height="3.30" fill="#111"/><rect x="325.00" y="390.30" width="1.00" height="3.30" fill="#111"/><rect x="329.00" y="390.30" width="1.00" height="3.30" fill="#111"/><rect x="332.00" y="390.30" width="1.00" height="3.30" fill="#111"/><rect x="334.00" y="390.30" width="1.00" height="3.30" fill="#111"/><rect x="337.00" y="390.30" width="1.00" height="3.30" fill="#111"/><rect x="338.00" y="390.30" width="1.00" height="3.30" fill="#111"/><rect x="340.00" y="390.30" width="1.00" height="3.30" fill="#111"/><rect x="253.65" y="258.00" width="1.50" height="132.30" fill="#1a1a1a"/><rect x="209.60" y="323.25" width="132.40" height="1.70" fill="#333"/><rect x="364.20" y="257.20" width="139.50" height="1.60" fill="#1a1a1a"/><rect x="369.95" y="258.00" width="1.30" height="132.90" fill="#111"/><rect x="502.30" y="258.00" width="1.40" height="138.40" fill="#222"/><rect x="370.00" y="389.60" width="133.70" height="1.40" fill="#111"/><rect x="364.80" y="387.70" width="5.80" height="1.20" fill="#111"/><rect x="364.80" y="354.10" width="5.80" height="1.20" fill="#111"/><rect x="364.80" y="322.50" width="5.80" height="1.20" fill="#111"/><rect x="364.80" y="289.60" width="5.80" height="1.20" fill="#111"/><rect x="367.60" y="378.00" width="3.00" height="1.00" fill="#111"/><rect x="367.60" y="372.00" width="3.00" height="1.00" fill="#111"/><rect x="367.60" y="368.00" width="3.00" height="1.00" fill="#111"/><rect x="367.60" y="365.00" width="3.00" height="1.00" fill="#111"/><rect x="367.60" y="362.00" width="3.00" height="1.00" fill="#111"/><rect x="367.60" y="360.00" width="3.00" height="1.00" fill="#111"/><rect x="367.60" y="358.00" width="3.00" height="1.00" fill="#111"/><rect x="367.60" y="356.00" width="3.00" height="1.00" fill="#111"/><rect x="367.60" y="345.00" width="3.00" height="1.00" fill="#111"/><rect x="367.60" y="340.00" width="3.00" height="1.00" fill="#111"/><rect x="367.60" y="336.00" width="3.00" height="1.00" fill="#111"/><rect x="367.60" y="333.00" width="3.00" height="1.00" fill="#111"/><rect x="367.60" y="330.00" width="3.00" height="1.00" fill="#111"/><rect x="367.60" y="328.00" width="3.00" height="1.00" fill="#111"/><rect x="367.60" y="326.00" width="3.00" height="1.00" fill="#111"/><rect x="367.60" y="325.00" width="3.00" height="1.00" fill="#111"/><rect x="367.60" y="313.00" width="3.00" height="1.00" fill="#111"/><rect x="367.60" y="307.00" width="3.00" height="1.00" fill="#111"/><rect x="367.60" y="303.00" width="3.00" height="1.00" fill="#111"/><rect x="367.60" y="300.00" width="3.00" height="1.00" fill="#111"/><rect x="367.60" y="297.00" width="3.00" height="1.00" fill="#111"/><rect x="367.60" y="295.00" width="3.00" height="1.00" fill="#111"/><rect x="367.60" y="293.00" width="3.00" height="1.00" fill="#111"/><rect x="367.60" y="292.00" width="3.00" height="1.00" fill="#111"/><rect x="367.60" y="280.00" width="3.00" height="1.00" fill="#111"/><rect x="367.60" y="275.00" width="3.00" height="1.00" fill="#111"/><rect x="367.60" y="271.00" width="3.00" height="1.00" fill="#111"/><rect x="367.60" y="268.00" width="3.00" height="1.00" fill="#111"/><rect x="367.60" y="265.00" width="3.00" height="1.00" fill="#111"/><rect x="367.60" y="263.00" width="3.00" height="1.00" fill="#111"/><rect x="367.60" y="261.00" width="3.00" height="1.00" fill="#111"/><rect x="367.60" y="259.00" width="3.00" height="1.00" fill="#111"/><rect x="371.90" y="390.30" width="1.20" height="6.10" fill="#111"/><rect x="405.80" y="390.30" width="1.20" height="6.10" fill="#111"/><rect x="437.70" y="390.30" width="1.20" height="6.10" fill="#111"/><rect x="470.20" y="390.30" width="1.20" height="6.10" fill="#111"/><rect x="382.00" y="390.30" width="1.00" height="3.30" fill="#111"/><rect x="388.00" y="390.30" width="1.00" height="3.30" fill="#111"/><rect x="392.00" y="390.30" width="1.00" height="3.30" fill="#111"/><rect x="396.00" y="390.30" width="1.00" height="3.30" fill="#111"/><rect x="398.00" y="390.30" width="1.00" height="3.30" fill="#111"/><rect x="401.00" y="390.30" width="1.00" height="3.30" fill="#111"/><rect x="403.00" y="390.30" width="1.00" height="3.30" fill="#111"/><rect x="404.00" y="390.30" width="1.00" height="3.30" fill="#111"/><rect x="416.00" y="390.30" width="1.00" height="3.30" fill="#111"/><rect x="421.00" y="390.30" width="1.00" height="3.30" fill="#111"/><rect x="425.00" y="390.30" width="1.00" height="3.30" fill="#111"/><rect x="428.00" y="390.30" width="1.00" height="3.30" fill="#111"/><rect x="431.00" y="390.30" width="1.00" height="3.30" fill="#111"/><rect x="433.00" y="390.30" width="1.00" height="3.30" fill="#111"/><rect x="435.00" y="390.30" width="1.00" height="3.30" fill="#111"/><rect x="436.00" y="390.30" width="1.00" height="3.30" fill="#111"/><rect x="448.00" y="390.30" width="1.00" height="3.30" fill="#111"/><rect x="453.00" y="390.30" width="1.00" height="3.30" fill="#111"/><rect x="457.00" y="390.30" width="1.00" height="3.30" fill="#111"/><rect x="461.00" y="390.30" width="1.00" height="3.30" fill="#111"/><rect x="463.00" y="390.30" width="1.00" height="3.30" fill="#111"/><rect x="465.00" y="390.30" width="1.00" height="3.30" fill="#111"/><rect x="467.00" y="390.30" width="1.00" height="3.30" fill="#111"/><rect x="469.00" y="390.30" width="1.00" height="3.30" fill="#111"/><rect x="480.00" y="390.30" width="1.00" height="3.30" fill="#111"/><rect x="486.00" y="390.30" width="1.00" height="3.30" fill="#111"/><rect x="490.00" y="390.30" width="1.00" height="3.30" fill="#111"/><rect x="493.00" y="390.30" width="1.00" height="3.30" fill="#111"/><rect x="495.00" y="390.30" width="1.00" height="3.30" fill="#111"/><rect x="498.00" y="390.30" width="1.00" height="3.30" fill="#111"/><rect x="499.00" y="390.30" width="1.00" height="3.30" fill="#111"/><rect x="501.00" y="390.30" width="1.00" height="3.30" fill="#111"/><rect x="413.75" y="258.00" width="1.50" height="132.30" fill="#1a1a1a"/><rect x="370.60" y="323.25" width="132.40" height="1.70" fill="#333"/>
<text x="25.8" y="23.7" font-size="33" text-anchor="start" >A</text><text x="24.6" y="235.6" font-size="32" text-anchor="start" >B</text><text transform="translate(49.5 43.1) scale(1.0237 1)" font-size="15.5">Sham-treated</text><text transform="translate(206.0 41.8) scale(1.0374 1)" font-size="15.5">FTVI-treated</text><text transform="translate(366.9 41.8) scale(1.0376 1)" font-size="15.5">FTVI-treated + G</text><use href="#one" transform="translate(491.56 41.8) scale(0.0161 -0.0155)"/><text transform="translate(49.5 252.8) scale(1.0318 1)" font-size="15.5">Sham-treated</text><text transform="translate(208.9 251.6) scale(1.0318 1)" font-size="15.5">FTVI-treated</text><text transform="translate(367.9 252.5) scale(1.0292 1)" font-size="15.5">FTVI-treated + 9A9</text><text x="55.8" y="61.2" font-size="13.5" text-anchor="start" >27%</text><text x="180.5" y="60.5" font-size="13.5" text-anchor="end" >72%</text><text x="213.3" y="61.0" font-size="13.5" text-anchor="start" >6%</text><text x="338.5" y="60.5" font-size="13.5" text-anchor="end" >92%</text><use href="#one" transform="translate(479.49 59.50) scale(0.0135 -0.0135)"/><text x="486.995546875" y="59.5" font-size="13.5" text-anchor="start" >%</text><text x="53.3" y="272.2" font-size="13.5" text-anchor="start" >24%</text><text x="179" y="272.2" font-size="13.5" text-anchor="end" >76%</text><text x="213.3" y="272.2" font-size="13.5" text-anchor="start" >5 %</text><text x="338.5" y="272.2" font-size="13.5" text-anchor="end" >95%</text><text x="499" y="272.2" font-size="13.5" text-anchor="end" >3%</text><use href="#one" transform="translate(45.20 197.60) scale(0.0160 -0.0160)"/><text x="54.40" y="197.6" font-size="15">0</text><text x="63.60" y="194.60" font-size="9.4" text-anchor="start" style="stroke-width:0.15px">0</text><use href="#one" transform="translate(79.10 197.60) scale(0.0160 -0.0160)"/><text x="88.30" y="197.6" font-size="15">0</text><use href="#one" transform="translate(97.50 194.60) scale(0.0094 -0.0094)"/><use href="#one" transform="translate(111.00 197.60) scale(0.0160 -0.0160)"/><text x="120.20" y="197.6" font-size="15">0</text><text x="129.40" y="194.60" font-size="9.4" text-anchor="start" style="stroke-width:0.15px">2</text><use href="#one" transform="translate(143.50 197.60) scale(0.0160 -0.0160)"/><text x="152.70" y="197.6" font-size="15">0</text><text x="161.90" y="194.60" font-size="9.4" text-anchor="start" style="stroke-width:0.15px">3</text><use href="#one" transform="translate(175.70 197.60) scale(0.0160 -0.0160)"/><text x="184.90" y="197.6" font-size="15">0</text><text x="194.10" y="194.60" font-size="9.4" text-anchor="start" style="stroke-width:0.15px">4</text><use href="#one" transform="translate(203.20 197.60) scale(0.0160 -0.0160)"/><text x="212.40" y="197.6" font-size="15">0</text><text x="221.60" y="194.60" font-size="9.4" text-anchor="start" style="stroke-width:0.15px">0</text><use href="#one" transform="translate(237.10 197.60) scale(0.0160 -0.0160)"/><text x="246.30" y="197.6" font-size="15">0</text><use href="#one" transform="translate(255.50 194.60) scale(0.0094 -0.0094)"/><use href="#one" transform="translate(269.00 197.60) scale(0.0160 -0.0160)"/><text x="278.20" y="197.6" font-size="15">0</text><text x="287.40" y="194.60" font-size="9.4" text-anchor="start" style="stroke-width:0.15px">2</text><use href="#one" transform="translate(301.50 197.60) scale(0.0160 -0.0160)"/><text x="310.70" y="197.6" font-size="15">0</text><text x="319.90" y="194.60" font-size="9.4" text-anchor="start" style="stroke-width:0.15px">3</text><use href="#one" transform="translate(333.70 197.60) scale(0.0160 -0.0160)"/><text x="342.90" y="197.6" font-size="15">0</text><text x="352.10" y="194.60" font-size="9.4" text-anchor="start" style="stroke-width:0.15px">4</text><use href="#one" transform="translate(364.20 197.60) scale(0.0160 -0.0160)"/><text x="373.40" y="197.6" font-size="15">0</text><text x="382.60" y="194.60" font-size="9.4" text-anchor="start" style="stroke-width:0.15px">0</text><use href="#one" transform="translate(398.10 197.60) scale(0.0160 -0.0160)"/><text x="407.30" y="197.6" font-size="15">0</text><use href="#one" transform="translate(416.50 194.60) scale(0.0094 -0.0094)"/><use href="#one" transform="translate(430.00 197.60) scale(0.0160 -0.0160)"/><text x="439.20" y="197.6" font-size="15">0</text><text x="448.40" y="194.60" font-size="9.4" text-anchor="start" style="stroke-width:0.15px">2</text><use href="#one" transform="translate(462.50 197.60) scale(0.0160 -0.0160)"/><text x="471.70" y="197.6" font-size="15">0</text><text x="480.90" y="194.60" font-size="9.4" text-anchor="start" style="stroke-width:0.15px">3</text><use href="#one" transform="translate(494.70 197.60) scale(0.0160 -0.0160)"/><text x="503.90" y="197.6" font-size="15">0</text><text x="513.10" y="194.60" font-size="9.4" text-anchor="start" style="stroke-width:0.15px">4</text><use href="#one" transform="translate(19.60 182.70) scale(0.0160 -0.0160)"/><text x="28.80" y="182.70000000000002" font-size="15">0</text><text x="43.00" y="178.70" font-size="9.4" text-anchor="end" style="stroke-width:0.15px">0</text><use href="#one" transform="translate(19.60 149.10) scale(0.0160 -0.0160)"/><text x="28.80" y="149.1" font-size="15">0</text><use href="#one" transform="translate(37.77 145.10) scale(0.0094 -0.0094)"/><use href="#one" transform="translate(19.60 117.50) scale(0.0160 -0.0160)"/><text x="28.80" y="117.5" font-size="15">0</text><text x="43.00" y="113.50" font-size="9.4" text-anchor="end" style="stroke-width:0.15px">2</text><use href="#one" transform="translate(19.60 84.60) scale(0.0160 -0.0160)"/><text x="28.80" y="84.60000000000001" font-size="15">0</text><text x="43.00" y="80.60" font-size="9.4" text-anchor="end" style="stroke-width:0.15px">3</text><use href="#one" transform="translate(19.60 52.20) scale(0.0160 -0.0160)"/><text x="28.80" y="52.199999999999996" font-size="15">0</text><text x="43.00" y="48.20" font-size="9.4" text-anchor="end" style="stroke-width:0.15px">4</text><use href="#one" transform="translate(45.20 409.10) scale(0.0160 -0.0160)"/><text x="54.40" y="409.1" font-size="15">0</text><text x="63.60" y="406.10" font-size="9.4" text-anchor="start" style="stroke-width:0.15px">0</text><use href="#one" transform="translate(79.10 409.10) scale(0.0160 -0.0160)"/><text x="88.30" y="409.1" font-size="15">0</text><use href="#one" transform="translate(97.50 406.10) scale(0.0094 -0.0094)"/><use href="#one" transform="translate(111.00 409.10) scale(0.0160 -0.0160)"/><text x="120.20" y="409.1" font-size="15">0</text><text x="129.40" y="406.10" font-size="9.4" text-anchor="start" style="stroke-width:0.15px">2</text><use href="#one" transform="translate(143.50 409.10) scale(0.0160 -0.0160)"/><text x="152.70" y="409.1" font-size="15">0</text><text x="161.90" y="406.10" font-size="9.4" text-anchor="start" style="stroke-width:0.15px">3</text><use href="#one" transform="translate(175.70 409.10) scale(0.0160 -0.0160)"/><text x="184.90" y="409.1" font-size="15">0</text><text x="194.10" y="406.10" font-size="9.4" text-anchor="start" style="stroke-width:0.15px">4</text><use href="#one" transform="translate(203.20 409.10) scale(0.0160 -0.0160)"/><text x="212.40" y="409.1" font-size="15">0</text><text x="221.60" y="406.10" font-size="9.4" text-anchor="start" style="stroke-width:0.15px">0</text><use href="#one" transform="translate(237.10 409.10) scale(0.0160 -0.0160)"/><text x="246.30" y="409.1" font-size="15">0</text><use href="#one" transform="translate(255.50 406.10) scale(0.0094 -0.0094)"/><use href="#one" transform="translate(269.00 409.10) scale(0.0160 -0.0160)"/><text x="278.20" y="409.1" font-size="15">0</text><text x="287.40" y="406.10" font-size="9.4" text-anchor="start" style="stroke-width:0.15px">2</text><use href="#one" transform="translate(301.50 409.10) scale(0.0160 -0.0160)"/><text x="310.70" y="409.1" font-size="15">0</text><text x="319.90" y="406.10" font-size="9.4" text-anchor="start" style="stroke-width:0.15px">3</text><use href="#one" transform="translate(333.70 409.10) scale(0.0160 -0.0160)"/><text x="342.90" y="409.1" font-size="15">0</text><text x="352.10" y="406.10" font-size="9.4" text-anchor="start" style="stroke-width:0.15px">4</text><use href="#one" transform="translate(364.20 409.10) scale(0.0160 -0.0160)"/><text x="373.40" y="409.1" font-size="15">0</text><text x="382.60" y="406.10" font-size="9.4" text-anchor="start" style="stroke-width:0.15px">0</text><use href="#one" transform="translate(398.10 409.10) scale(0.0160 -0.0160)"/><text x="407.30" y="409.1" font-size="15">0</text><use href="#one" transform="translate(416.50 406.10) scale(0.0094 -0.0094)"/><use href="#one" transform="translate(430.00 409.10) scale(0.0160 -0.0160)"/><text x="439.20" y="409.1" font-size="15">0</text><text x="448.40" y="406.10" font-size="9.4" text-anchor="start" style="stroke-width:0.15px">2</text><use href="#one" transform="translate(462.50 409.10) scale(0.0160 -0.0160)"/><text x="471.70" y="409.1" font-size="15">0</text><text x="480.90" y="406.10" font-size="9.4" text-anchor="start" style="stroke-width:0.15px">3</text><use href="#one" transform="translate(494.70 409.10) scale(0.0160 -0.0160)"/><text x="503.90" y="409.1" font-size="15">0</text><text x="513.10" y="406.10" font-size="9.4" text-anchor="start" style="stroke-width:0.15px">4</text><use href="#one" transform="translate(18.80 394.70) scale(0.0160 -0.0160)"/><text x="28.00" y="394.70000000000005" font-size="15">0</text><text x="42.20" y="390.70" font-size="9.4" text-anchor="end" style="stroke-width:0.15px">0</text><use href="#one" transform="translate(18.80 361.10) scale(0.0160 -0.0160)"/><text x="28.00" y="361.1" font-size="15">0</text><use href="#one" transform="translate(36.97 357.10) scale(0.0094 -0.0094)"/><use href="#one" transform="translate(18.80 329.50) scale(0.0160 -0.0160)"/><text x="28.00" y="329.5" font-size="15">0</text><text x="42.20" y="325.50" font-size="9.4" text-anchor="end" style="stroke-width:0.15px">2</text><use href="#one" transform="translate(18.80 296.60) scale(0.0160 -0.0160)"/><text x="28.00" y="296.6" font-size="15">0</text><text x="42.20" y="292.60" font-size="9.4" text-anchor="end" style="stroke-width:0.15px">3</text><use href="#one" transform="translate(18.80 264.20) scale(0.0160 -0.0160)"/><text x="28.00" y="264.2" font-size="15">0</text><text x="42.20" y="260.20" font-size="9.4" text-anchor="end" style="stroke-width:0.15px">4</text><text x="203.4" y="215.5" font-size="20.4" text-anchor="start" >P-selectin-FITC</text><text x="204.5" y="427.6" font-size="20.5" text-anchor="start" >E-selectin-FITC</text><text transform="translate(15.7 282.6) rotate(-90)" font-size="20.45">Anti-CD34-PE</text>
</svg></body></html>
